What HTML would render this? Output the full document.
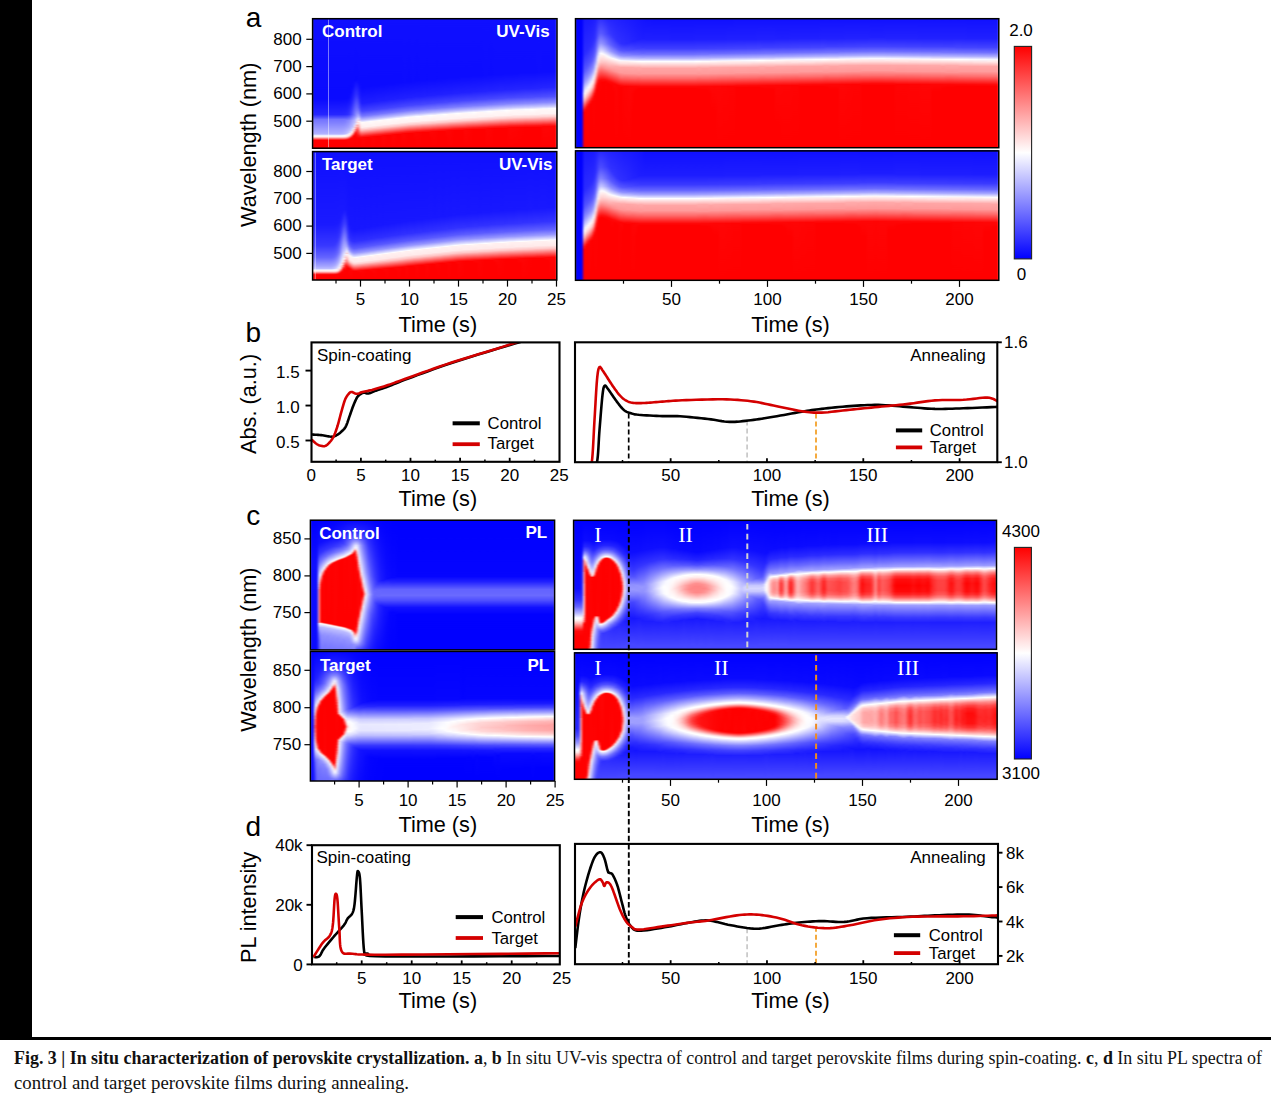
<!DOCTYPE html>
<html><head><meta charset="utf-8"><title>Fig. 3</title>
<style>html,body{margin:0;padding:0;background:#fff;width:1271px;height:1100px;overflow:hidden;position:relative}svg{position:absolute;left:0;top:0;display:block}.hm{position:absolute;overflow:hidden;filter:url(#hb)}.hm i{position:absolute;top:0;bottom:0}</style>
</head><body>
<svg width="0" height="0" style="position:absolute"><filter id="hb" x="0" y="0" width="1" height="1" color-interpolation-filters="sRGB"><feGaussianBlur stdDeviation="1.1 0" edgeMode="duplicate"/></filter></svg>
<div class="hm" style="left:312px;top:18px;width:245px;height:131px"><i style="left:0px;width:28px;background:linear-gradient(#0f0fff 0.5px,#0a0aff 80.5px,#2626ff 96.5px,#5252ff 99.5px,#7373ff 101.5px,#7f7fff 104.5px,#b0b0ff 115.5px,#c5c5ff 116.5px,#eef 117.5px,#fff0f0 118.5px,#ffc0c0 119.5px,#ff2f2f 121.5px,#f00 122.5px,#f00 130.5px)"></i><i style="left:28px;width:2px;background:linear-gradient(#0f0fff 0.5px,#0a0aff 80.5px,#2626ff 96.5px,#5252ff 99.5px,#7373ff 101.5px,#7f7fff 104.5px,#b1b1ff 115.5px,#c6c6ff 116.5px,#f0f0ff 117.5px,#fff0f0 118.5px,#ffc0c0 119.5px,#ff2f2f 121.5px,#f00 122.5px,#f00 130.5px)"></i><i style="left:30px;width:2px;background:linear-gradient(#0f0fff 0.5px,#0a0aff 80.5px,#2727ff 96.5px,#5252ff 99.5px,#7373ff 101.5px,#8080ff 104.5px,#b3b3ff 115.5px,#c9c9ff 116.5px,#f3f3ff 117.5px,#fff0f0 118.5px,#ffc0c0 119.5px,#ff2f2f 121.5px,#f00 122.5px,#f00 130.5px)"></i><i style="left:32px;width:2px;background:linear-gradient(#0f0fff 0.5px,#0a0aff 80.5px,#2828ff 96.5px,#5353ff 99.5px,#7575ff 101.5px,#8282ff 104.5px,#b9b9ff 115.5px,#d2d2ff 116.5px,#fcfbfe 117.5px,#ffeded 118.5px,#ffbaba 119.5px,#ff2929 121.5px,#f00 122.5px,#f00 130.5px)"></i><i style="left:34px;width:2px;background:linear-gradient(#0f0fff 0.5px,#0a0aff 80.5px,#2b2bff 96.5px,#5757ff 99.5px,#8282ff 102.5px,#9b9bff 108.5px,#c3c3ff 115.5px,#e8e8ff 116.5px,#ffe8e8 117.5px,#ffe2e2 118.5px,#ffa6a6 119.5px,#ff1919 121.5px,#f00 122.5px,#f00 130.5px)"></i><i style="left:36px;width:2px;background:linear-gradient(#0f0fff 0.5px,#0a0aff 79.5px,#33f 96.5px,#5f5fff 99.5px,#8989ff 102.5px,#a9a9ff 109.5px,#cbcbff 114.5px,#ebebff 115.5px,#ffe8e8 116.5px,#fee 117.5px,#ffbcbc 118.5px,#ff2d2d 120.5px,#ff0303 121.5px,#f00 130.5px)"></i><i style="left:38px;width:2px;background:linear-gradient(#0f0fff 0.5px,#0a0aff 74.5px,#1f1fff 85.5px,#4545ff 96.5px,#9797ff 102.5px,#bcbcff 110.5px,#cdcdff 112.5px,#e4e4ff 113.5px,#f9e9ef 114.5px,#ffecec 115.5px,#ffe3e3 116.5px,#ffacac 117.5px,#ff2121 119.5px,#ff0202 120.5px,#f00 130.5px)"></i><i style="left:40px;width:2px;background:linear-gradient(#0f0fff 0.5px,#0b0bff 68.5px,#2525ff 81.5px,#6060ff 96.5px,#ababff 102.5px,#bfbfff 108.5px,#ddf 110.5px,#f0e5f3 111.5px,#fdd 112.5px,#ffe3e3 113.5px,#ffdede 114.5px,#ffa9a9 115.5px,#ff2424 117.5px,#ff0505 118.5px,#f00 129.5px,#f00 130.5px)"></i><i style="left:42px;width:2px;background:linear-gradient(#0f0fff 0.5px,#0a0aff 62.5px,#3030ff 78.5px,#8080ff 97.5px,#b3b3ff 101.5px,#c0c0ff 104.5px,#d9d9ff 106.5px,#eae2f7 107.5px,#f7dde5 108.5px,#ffc7c7 109.5px,#ffd9d9 110.5px,#ffa6a6 111.5px,#ffa3a3 112.5px,#ff2b2b 114.5px,#ff0b0b 115.5px,#f00 116.5px,#f00 130.5px)"></i><i style="left:44px;width:2px;background:linear-gradient(#0f0fff 0.5px,#0a0aff 61.5px,#3131ff 76.5px,#7878ff 92.5px,#acacff 98.5px,#dbdbff 101.5px,#e8e0f7 102.5px,#fed5d5 104.5px,#ffebeb 105.5px,#ffcaca 106.5px,#ff9e9e 107.5px,#ffafaf 108.5px,#ff6060 110.5px,#ff4141 111.5px,#ff3030 112.5px,#ff0202 119.5px,#f00 130.5px)"></i><i style="left:46px;width:2px;background:linear-gradient(#0f0fff 0.5px,#0b0bff 64.5px,#2727ff 79.5px,#5353ff 89.5px,#8989ff 95.5px,#c8c8ff 99.5px,#dcdbfe 100.5px,#f2d1de 102.5px,#fff9f9 103.5px,#ffdfdf 104.5px,#ffdcdc 105.5px,#ffb0b0 108.5px,#f77 112.5px,#ff1616 117.5px,#f00 120.5px,#f00 130.5px)"></i><i style="left:48px;width:2px;background:linear-gradient(#0f0fff 0.5px,#0b0bff 69.5px,#1f1fff 84.5px,#4343ff 92.5px,#7474ff 97.5px,#b6b6ff 101.5px,#fefafb 104.5px,#ffecec 109.5px,#ffb9b9 112.5px,#ff1a1a 118.5px,#ff0808 119.5px,#f00 121.5px,#f00 130.5px)"></i><i style="left:50px;width:2px;background:linear-gradient(#0f0fff 0.5px,#0b0bff 69.5px,#1f1fff 85.5px,#4747ff 93.5px,#7e7eff 98.5px,#cacaff 102.5px,#fffcfc 104.5px,#ffecec 109.5px,#ffb6b6 112.5px,#ff1616 118.5px,#ff0505 119.5px,#f00 130.5px)"></i><i style="left:52px;width:2px;background:linear-gradient(#0f0fff 0.5px,#0b0bff 69.5px,#2020ff 85.5px,#4242ff 92.5px,#7373ff 97.5px,#b9b9ff 101.5px,#ebebff 103.5px,#fff7f7 104.5px,#fff3f3 108.5px,#ffdbdb 110.5px,#ff9696 113.5px,#ff2727 117.5px,#ff0202 119.5px,#f00 130.5px)"></i><i style="left:54px;width:2px;background:linear-gradient(#0f0fff 0.5px,#0b0bff 68.5px,#1e1eff 84.5px,#4343ff 92.5px,#77f 97.5px,#bebeff 101.5px,#f1f1ff 103.5px,#fff7f7 104.5px,#fff1f1 108.5px,#ffd7d7 110.5px,#ff9090 113.5px,#ff2323 117.5px,#f00 119.5px,#f00 130.5px)"></i><i style="left:56px;width:2px;background:linear-gradient(#0f0fff 0.5px,#0b0bff 68.5px,#1f1fff 84.5px,#4545ff 92.5px,#7a7aff 97.5px,#c3c3ff 101.5px,#f8f8ff 103.5px,#fff7f7 105.5px,#fff0f0 108.5px,#ffbebe 111.5px,#ff1e1e 117.5px,#f00 119.5px,#f00 130.5px)"></i><i style="left:58px;width:2px;background:linear-gradient(#0f0fff 0.5px,#0b0bff 68.5px,#1f1fff 84.5px,#4747ff 92.5px,#7d7dff 97.5px,#c9c9ff 101.5px,#fefdfe 103.5px,#ffeded 108.5px,#ffb9b9 111.5px,#ff1a1a 117.5px,#ff0808 118.5px,#f00 120.5px,#f00 130.5px)"></i><i style="left:60px;width:2px;background:linear-gradient(#0f0fff 0.5px,#0b0bff 67.5px,#1d1dff 83.5px,#4242ff 91.5px,#7373ff 96.5px,#b7b7ff 100.5px,#e8e8ff 102.5px,#fff9f9 103.5px,#fff4f4 107.5px,#fdd 109.5px,#ff9a9a 112.5px,#ff2c2c 116.5px,#ff0505 118.5px,#f00 130.5px)"></i><i style="left:62px;width:2px;background:linear-gradient(#0f0fff 0.5px,#0b0bff 67.5px,#1e1eff 83.5px,#4343ff 91.5px,#7676ff 96.5px,#bcbcff 100.5px,#eef 102.5px,#fff7f7 103.5px,#fff2f2 107.5px,#ffdada 109.5px,#ff9494 112.5px,#ff2727 116.5px,#ff0202 118.5px,#f00 130.5px)"></i><i style="left:64px;width:2px;background:linear-gradient(#0f0fff 0.5px,#0b0bff 67.5px,#1f1fff 83.5px,#4545ff 91.5px,#7979ff 96.5px,#c1c1ff 100.5px,#f5f5ff 102.5px,#fff7f7 103.5px,#fff1f1 107.5px,#ffc1c1 110.5px,#f22 116.5px,#f00 118.5px,#f00 130.5px)"></i><i style="left:66px;width:2px;background:linear-gradient(#0f0fff 0.5px,#0b0bff 67.5px,#2020ff 83.5px,#4747ff 91.5px,#7d7dff 96.5px,#c7c7ff 100.5px,#fbfbff 102.5px,#fff7f7 104.5px,#ffefef 107.5px,#ffbdbd 110.5px,#ff1e1e 116.5px,#f00 118.5px,#f00 130.5px)"></i><i style="left:68px;width:2px;background:linear-gradient(#0f0fff 0.5px,#0b0bff 66.5px,#1e1eff 82.5px,#4242ff 90.5px,#7373ff 95.5px,#b6b6ff 99.5px,#fffcfc 102.5px,#ffecec 107.5px,#ffb8b8 110.5px,#ff1a1a 116.5px,#f00 118.5px,#f00 130.5px)"></i><i style="left:70px;width:2px;background:linear-gradient(#0f0fff 0.5px,#0b0bff 66.5px,#1e1eff 82.5px,#44f 90.5px,#7676ff 95.5px,#bbf 99.5px,#ececff 101.5px,#fff7f7 102.5px,#fff3f3 106.5px,#ffc9c9 109.5px,#ff1616 116.5px,#ff0505 117.5px,#f00 130.5px)"></i><i style="left:72px;width:2px;background:linear-gradient(#0f0fff 0.5px,#0b0bff 66.5px,#1f1fff 82.5px,#4545ff 90.5px,#7979ff 95.5px,#c0c0ff 99.5px,#f2f2ff 101.5px,#fff7f7 102.5px,#fff1f1 106.5px,#ffc5c5 109.5px,#ff2727 115.5px,#ff0303 117.5px,#f00 130.5px)"></i><i style="left:74px;width:2px;background:linear-gradient(#0f0fff 0.5px,#0b0bff 66.5px,#2020ff 82.5px,#4747ff 90.5px,#7c7cff 95.5px,#c5c5ff 99.5px,#f9f9ff 101.5px,#fff7f7 103.5px,#fff0f0 106.5px,#ffc0c0 109.5px,#f22 115.5px,#f00 117.5px,#f00 130.5px)"></i><i style="left:76px;width:2px;background:linear-gradient(#0f0fff 0.5px,#0b0bff 65.5px,#1e1eff 81.5px,#4242ff 89.5px,#7272ff 94.5px,#b4b4ff 98.5px,#fefdfe 101.5px,#fee 106.5px,#fbb 109.5px,#ff1e1e 115.5px,#f00 117.5px,#f00 130.5px)"></i><i style="left:78px;width:2px;background:linear-gradient(#0f0fff 0.5px,#0b0bff 65.5px,#1f1fff 81.5px,#44f 89.5px,#7575ff 94.5px,#b9b9ff 98.5px,#e9e9ff 100.5px,#fff9f9 101.5px,#fff4f4 105.5px,#fcc 108.5px,#ff1a1a 115.5px,#f00 117.5px,#f00 130.5px)"></i><i style="left:80px;width:2px;background:linear-gradient(#0f0fff 0.5px,#0b0bff 65.5px,#1f1fff 81.5px,#4646ff 89.5px,#7878ff 94.5px,#bebeff 98.5px,#efefff 100.5px,#fff7f7 101.5px,#fff2f2 105.5px,#ffc8c8 108.5px,#ff1616 115.5px,#ff0505 116.5px,#f00 130.5px)"></i><i style="left:82px;width:2px;background:linear-gradient(#0f0fff 0.5px,#0b0bff 65.5px,#2020ff 81.5px,#4747ff 89.5px,#7c7cff 94.5px,#c3c3ff 98.5px,#f6f6ff 100.5px,#fff7f7 102.5px,#fff1f1 105.5px,#ffc3c3 108.5px,#ff2727 114.5px,#ff0303 116.5px,#f00 130.5px)"></i><i style="left:84px;width:2px;background:linear-gradient(#0f0fff 0.5px,#0b0bff 64.5px,#1e1eff 80.5px,#4242ff 88.5px,#7272ff 93.5px,#b3b3ff 97.5px,#fcfcff 100.5px,#fff7f7 102.5px,#ffefef 105.5px,#ffbebe 108.5px,#f22 114.5px,#f00 116.5px,#f00 130.5px)"></i><i style="left:86px;width:2px;background:linear-gradient(#0f0fff 0.5px,#0b0bff 64.5px,#1f1fff 80.5px,#44f 88.5px,#7575ff 93.5px,#b7b7ff 97.5px,#fffbfb 100.5px,#ffeded 105.5px,#ffb9b9 108.5px,#ff1e1e 114.5px,#f00 116.5px,#f00 130.5px)"></i><i style="left:88px;width:2px;background:linear-gradient(#0f0fff 0.5px,#0b0bff 64.5px,#2020ff 80.5px,#4646ff 88.5px,#7878ff 93.5px,#bcbcff 97.5px,#ededff 99.5px,#fff7f7 100.5px,#fff3f3 104.5px,#ffcbcb 107.5px,#ff1a1a 114.5px,#f00 116.5px,#f00 130.5px)"></i><i style="left:90px;width:2px;background:linear-gradient(#0f0fff 0.5px,#0b0bff 64.5px,#2020ff 80.5px,#4848ff 88.5px,#7b7bff 93.5px,#c1c1ff 97.5px,#f3f3ff 99.5px,#fff7f7 100.5px,#fff2f2 104.5px,#ffc6c6 107.5px,#ff1616 114.5px,#ff0505 115.5px,#f00 128.5px,#f00 130.5px)"></i><i style="left:92px;width:2px;background:linear-gradient(#0f0fff 0.5px,#0c0cff 64.5px,#2121ff 80.5px,#4a4aff 88.5px,#7f7fff 93.5px,#c7c7ff 97.5px,#f9f9ff 99.5px,#fff7f7 101.5px,#fff0f0 104.5px,#ffc2c2 107.5px,#ff2727 113.5px,#ff0303 115.5px,#f00 130.5px)"></i><i style="left:94px;width:2px;background:linear-gradient(#0f0fff 0.5px,#0b0bff 63.5px,#1f1fff 79.5px,#44f 87.5px,#7474ff 92.5px,#b6b6ff 96.5px,#fffdfe 99.5px,#fee 104.5px,#ffbdbd 107.5px,#f22 113.5px,#ff0101 115.5px,#f00 130.5px)"></i><i style="left:96px;width:2px;background:linear-gradient(#0f0fff 0.5px,#0b0bff 63.5px,#2020ff 79.5px,#4646ff 87.5px,#77f 92.5px,#bbf 96.5px,#eaeaff 98.5px,#fff8f8 99.5px,#fff4f4 103.5px,#ffcece 106.5px,#ff6a6a 110.5px,#ff1e1e 113.5px,#f00 115.5px,#f00 130.5px)"></i><i style="left:98px;width:2px;background:linear-gradient(#0f0fff 0.5px,#0b0bff 63.5px,#2020ff 79.5px,#4747ff 87.5px,#7a7aff 92.5px,#bebeff 96.5px,#eef 98.5px,#fff7f7 99.5px,#fff3f3 103.5px,#ffcbcb 106.5px,#ff1b1b 113.5px,#f00 115.5px,#f00 130.5px)"></i><i style="left:100px;width:2px;background:linear-gradient(#0f0fff 0.5px,#0c0cff 63.5px,#2121ff 79.5px,#4848ff 87.5px,#7c7cff 92.5px,#c2c2ff 96.5px,#f3f3ff 98.5px,#fff7f7 99.5px,#fff2f2 103.5px,#ffc8c8 106.5px,#ff1919 113.5px,#f00 115.5px,#f00 130.5px)"></i><i style="left:102px;width:2px;background:linear-gradient(#0f0fff 0.5px,#0b0bff 62.5px,#1f1fff 78.5px,#4343ff 86.5px,#7171ff 91.5px,#b0b0ff 95.5px,#f7f7ff 98.5px,#fff7f7 100.5px,#fff1f1 103.5px,#ffc5c5 106.5px,#ff1616 113.5px,#ff0606 114.5px,#f00 121.5px,#f00 130.5px)"></i><i style="left:104px;width:4px;background:linear-gradient(#0f0fff 0.5px,#0b0bff 62.5px,#2020ff 78.5px,#44f 86.5px,#7474ff 91.5px,#b5b5ff 95.5px,#fdfdff 98.5px,#ffefef 103.5px,#ffc0c0 106.5px,#ff2727 112.5px,#ff0303 114.5px,#f00 130.5px)"></i><i style="left:108px;width:2px;background:linear-gradient(#0f0fff 0.5px,#0c0cff 62.5px,#2020ff 78.5px,#4646ff 86.5px,#7878ff 91.5px,#babaff 95.5px,#fffafa 98.5px,#fff4f4 102.5px,#ffd0d0 105.5px,#ff6f6f 109.5px,#ff2323 112.5px,#ff0101 114.5px,#f00 130.5px)"></i><i style="left:110px;width:2px;background:linear-gradient(#0f0fff 0.5px,#0c0cff 62.5px,#2121ff 78.5px,#4848ff 86.5px,#7a7aff 91.5px,#bdbdff 95.5px,#ececff 97.5px,#fff7f7 98.5px,#fff3f3 102.5px,#ffcdcd 105.5px,#ff5050 110.5px,#ff0d0d 113.5px,#f00 114.5px,#f00 130.5px)"></i><i style="left:112px;width:2px;background:linear-gradient(#0f0fff 0.5px,#0c0cff 62.5px,#22f 78.5px,#4949ff 86.5px,#7c7cff 91.5px,#c1c1ff 95.5px,#f1f1ff 97.5px,#fff7f7 98.5px,#fff3f3 102.5px,#ffcbcb 105.5px,#ff1d1d 112.5px,#f00 114.5px,#f00 130.5px)"></i><i style="left:114px;width:2px;background:linear-gradient(#0f0fff 0.5px,#0b0bff 61.5px,#1f1fff 77.5px,#4343ff 85.5px,#7272ff 90.5px,#afafff 94.5px,#f5f5ff 97.5px,#fff7f7 98.5px,#fff2f2 102.5px,#ffc8c8 105.5px,#ff1b1b 112.5px,#f00 114.5px,#f00 130.5px)"></i><i style="left:116px;width:2px;background:linear-gradient(#0f0fff 0.5px,#0c0cff 61.5px,#2020ff 77.5px,#44f 85.5px,#7474ff 90.5px,#b3b3ff 94.5px,#f9f9ff 97.5px,#fff7f7 99.5px,#fff0f0 102.5px,#ffc5c5 105.5px,#ff1818 112.5px,#f00 114.5px,#f00 130.5px)"></i><i style="left:118px;width:2px;background:linear-gradient(#0f0fff 0.5px,#0c0cff 61.5px,#2020ff 77.5px,#4646ff 85.5px,#7676ff 90.5px,#b6b6ff 94.5px,#fdfdff 97.5px,#fff7f7 99.5px,#ffefef 102.5px,#ffc2c2 105.5px,#ff1616 112.5px,#ff0606 113.5px,#f00 120.5px,#f00 130.5px)"></i><i style="left:120px;width:4px;background:linear-gradient(#0f0fff 0.5px,#0c0cff 61.5px,#2121ff 77.5px,#4848ff 85.5px,#7979ff 90.5px,#bbf 94.5px,#fffafa 97.5px,#ffeded 102.5px,#ffbdbd 105.5px,#ff2626 111.5px,#ff0303 113.5px,#f00 130.5px)"></i><i style="left:124px;width:2px;background:linear-gradient(#0f0fff 0.5px,#0b0bff 60.5px,#1f1fff 76.5px,#4343ff 84.5px,#7c7cff 90.5px,#c0c0ff 94.5px,#efefff 96.5px,#fff7f7 97.5px,#fff3f3 101.5px,#ffcdcd 104.5px,#ff5252 109.5px,#ff0f0f 112.5px,#ff0101 113.5px,#f00 130.5px)"></i><i style="left:126px;width:2px;background:linear-gradient(#0f0fff 0.5px,#0c0cff 60.5px,#2020ff 76.5px,#44f 84.5px,#7e7eff 90.5px,#c3c3ff 94.5px,#f3f3ff 96.5px,#fff7f7 97.5px,#fff2f2 101.5px,#ffcbcb 104.5px,#ff1f1f 111.5px,#f00 113.5px,#f00 130.5px)"></i><i style="left:128px;width:2px;background:linear-gradient(#0f0fff 0.5px,#0c0cff 60.5px,#2020ff 76.5px,#4545ff 84.5px,#7474ff 89.5px,#b2b2ff 93.5px,#f7f7ff 96.5px,#fff7f7 98.5px,#fff1f1 101.5px,#ffc8c8 104.5px,#ff1d1d 111.5px,#f00 113.5px,#f00 130.5px)"></i><i style="left:130px;width:2px;background:linear-gradient(#0f0fff 0.5px,#0c0cff 60.5px,#2121ff 76.5px,#4646ff 84.5px,#7676ff 89.5px,#b5b5ff 93.5px,#fbfbff 96.5px,#fff7f7 98.5px,#fff0f0 101.5px,#ffc5c5 104.5px,#ff1a1a 111.5px,#f00 113.5px,#f00 130.5px)"></i><i style="left:132px;width:2px;background:linear-gradient(#0f0fff 0.5px,#0c0cff 60.5px,#22f 76.5px,#4848ff 84.5px,#7878ff 89.5px,#b8b8ff 93.5px,#fffefe 96.5px,#ffefef 101.5px,#ffc2c2 104.5px,#ff1818 111.5px,#f00 113.5px,#f00 130.5px)"></i><i style="left:134px;width:2px;background:linear-gradient(#0f0fff 0.5px,#0c0cff 60.5px,#22f 76.5px,#4949ff 84.5px,#7a7aff 89.5px,#bbf 93.5px,#fffbfb 96.5px,#fee 101.5px,#ffbfbf 104.5px,#ff1515 111.5px,#ff0606 112.5px,#f00 119.5px,#f00 130.5px)"></i><i style="left:136px;width:2px;background:linear-gradient(#0f0fff 0.5px,#0c0cff 59.5px,#2020ff 75.5px,#4343ff 83.5px,#7c7cff 89.5px,#bfbfff 93.5px,#ededff 95.5px,#fff7f7 96.5px,#fff4f4 100.5px,#ffd0d0 103.5px,#ff7272 107.5px,#ff1313 111.5px,#ff0404 112.5px,#f00 130.5px)"></i><i style="left:138px;width:2px;background:linear-gradient(#0f0fff 0.5px,#0c0cff 59.5px,#2020ff 75.5px,#44f 83.5px,#7f7fff 89.5px,#c2c2ff 93.5px,#f1f1ff 95.5px,#fff7f7 96.5px,#fff3f3 100.5px,#ffcdcd 103.5px,#ff5454 108.5px,#f11 111.5px,#ff0303 112.5px,#f00 130.5px)"></i><i style="left:140px;width:2px;background:linear-gradient(#0f0fff 0.5px,#0c0cff 59.5px,#2121ff 75.5px,#4646ff 83.5px,#8181ff 89.5px,#c5c5ff 93.5px,#f5f5ff 95.5px,#fff7f7 96.5px,#fff2f2 100.5px,#ffcbcb 103.5px,#ff2121 110.5px,#ff0101 112.5px,#f00 130.5px)"></i><i style="left:142px;width:2px;background:linear-gradient(#0f0fff 0.5px,#0c0cff 59.5px,#22f 75.5px,#4747ff 83.5px,#8383ff 89.5px,#c9c9ff 93.5px,#f9f9ff 95.5px,#fff7f7 97.5px,#fff1f1 100.5px,#ffc8c8 103.5px,#ff1f1f 110.5px,#f00 112.5px,#f00 130.5px)"></i><i style="left:144px;width:2px;background:linear-gradient(#0f0fff 0.5px,#0c0cff 59.5px,#22f 75.5px,#4848ff 83.5px,#7878ff 88.5px,#b7b7ff 92.5px,#fdfdff 95.5px,#fff7f7 97.5px,#fff0f0 100.5px,#ffc5c5 103.5px,#ff1c1c 110.5px,#f00 112.5px,#f00 130.5px)"></i><i style="left:146px;width:2px;background:linear-gradient(#0f0fff 0.5px,#0c0cff 59.5px,#2323ff 75.5px,#4949ff 83.5px,#7a7aff 88.5px,#babaff 92.5px,#fffdfd 95.5px,#ffefef 100.5px,#ffc2c2 103.5px,#ff1a1a 110.5px,#f00 112.5px,#f00 130.5px)"></i><i style="left:148px;width:2px;background:linear-gradient(#0f0fff 0.5px,#0c0cff 58.5px,#2020ff 74.5px,#44f 82.5px,#7c7cff 88.5px,#bdbdff 92.5px,#fffafa 95.5px,#fee 100.5px,#ffc0c0 103.5px,#ff1818 110.5px,#f00 112.5px,#f00 130.5px)"></i><i style="left:150px;width:2px;background:linear-gradient(#0f0fff 0.5px,#0c0cff 58.5px,#2121ff 74.5px,#4545ff 82.5px,#7e7eff 88.5px,#c0c0ff 92.5px,#ededff 94.5px,#fff7f7 95.5px,#fff4f4 99.5px,#ffd1d1 102.5px,#ff7575 106.5px,#ff1616 110.5px,#f00 112.5px,#f00 130.5px)"></i><i style="left:152px;width:2px;background:linear-gradient(#0f0fff 0.5px,#0c0cff 58.5px,#2121ff 74.5px,#4646ff 82.5px,#8080ff 88.5px,#c2c2ff 92.5px,#f0f0ff 94.5px,#fff7f7 95.5px,#fff3f3 99.5px,#ffcfcf 102.5px,#ff7272 106.5px,#ff1414 110.5px,#ff0505 111.5px,#f00 130.5px)"></i><i style="left:154px;width:2px;background:linear-gradient(#0f0fff 0.5px,#0c0cff 58.5px,#22f 74.5px,#4747ff 82.5px,#8181ff 88.5px,#c5c5ff 92.5px,#f3f3ff 94.5px,#fff7f7 95.5px,#fff3f3 99.5px,#ffcdcd 102.5px,#f55 107.5px,#ff1313 110.5px,#ff0404 111.5px,#f00 130.5px)"></i><i style="left:156px;width:4px;background:linear-gradient(#0f0fff 0.5px,#0c0cff 58.5px,#22f 74.5px,#4848ff 82.5px,#8484ff 88.5px,#c9c9ff 92.5px,#f8f8ff 94.5px,#fff7f7 96.5px,#fff1f1 99.5px,#ffcaca 102.5px,#ff2323 109.5px,#ff0202 111.5px,#f00 130.5px)"></i><i style="left:160px;width:4px;background:linear-gradient(#0f0fff 0.5px,#0c0cff 57.5px,#2121ff 73.5px,#4343ff 81.5px,#7b7bff 87.5px,#babaff 91.5px,#fefdfe 94.5px,#fff0f0 99.5px,#ffc5c5 102.5px,#ff1f1f 109.5px,#f00 111.5px,#f00 130.5px)"></i><i style="left:164px;width:2px;background:linear-gradient(#0f0fff 0.5px,#0c0cff 57.5px,#2121ff 73.5px,#4545ff 81.5px,#7d7dff 87.5px,#bebeff 91.5px,#fffafa 94.5px,#fee 99.5px,#ffc2c2 102.5px,#ff1c1c 109.5px,#f00 111.5px,#f00 130.5px)"></i><i style="left:166px;width:2px;background:linear-gradient(#0f0fff 0.5px,#0c0cff 57.5px,#22f 73.5px,#4646ff 81.5px,#7f7fff 87.5px,#c0c0ff 91.5px,#ededff 93.5px,#fff7f7 94.5px,#fff4f4 98.5px,#ffd3d3 101.5px,#ff7979 105.5px,#ff1a1a 109.5px,#f00 111.5px,#f00 130.5px)"></i><i style="left:168px;width:2px;background:linear-gradient(#0f0fff 0.5px,#0c0cff 57.5px,#22f 73.5px,#4747ff 81.5px,#8181ff 87.5px,#c3c3ff 91.5px,#f0f0ff 93.5px,#fff7f7 94.5px,#fff4f4 98.5px,#ffd1d1 101.5px,#ff7676 105.5px,#ff1818 109.5px,#f00 111.5px,#f00 130.5px)"></i><i style="left:170px;width:2px;background:linear-gradient(#0f0fff 0.5px,#0c0cff 57.5px,#2323ff 73.5px,#4848ff 81.5px,#8383ff 87.5px,#c5c5ff 91.5px,#f3f3ff 93.5px,#fff7f7 94.5px,#fff3f3 98.5px,#ffcfcf 101.5px,#ff5a5a 106.5px,#ff1717 109.5px,#f00 111.5px,#f00 130.5px)"></i><i style="left:172px;width:2px;background:linear-gradient(#0f0fff 0.5px,#0d0dff 57.5px,#2323ff 73.5px,#4949ff 81.5px,#8585ff 87.5px,#c8c8ff 91.5px,#f6f6ff 93.5px,#fff7f7 95.5px,#fff2f2 98.5px,#ffcdcd 101.5px,#ff5757 106.5px,#ff1515 109.5px,#f00 111.5px,#f00 130.5px)"></i><i style="left:174px;width:2px;background:linear-gradient(#0f0fff 0.5px,#0d0dff 57.5px,#2424ff 73.5px,#4a4aff 81.5px,#8787ff 87.5px,#cbcbff 91.5px,#fafaff 93.5px,#fff7f7 95.5px,#fff1f1 98.5px,#ffcbcb 101.5px,#ff1313 109.5px,#ff0505 110.5px,#f00 130.5px)"></i><i style="left:176px;width:4px;background:linear-gradient(#0f0fff 0.5px,#0c0cff 56.5px,#22f 72.5px,#4545ff 80.5px,#7c7cff 86.5px,#bbf 90.5px,#fefdfe 93.5px,#fff0f0 98.5px,#ffc7c7 101.5px,#ff2323 108.5px,#ff0303 110.5px,#f00 130.5px)"></i><i style="left:180px;width:2px;background:linear-gradient(#0f0fff 0.5px,#0c0cff 56.5px,#22f 72.5px,#4646ff 80.5px,#7f7fff 86.5px,#bebeff 90.5px,#fffbfb 93.5px,#ffefef 98.5px,#ffc4c4 101.5px,#ff2020 108.5px,#ff0101 110.5px,#f00 130.5px)"></i><i style="left:182px;width:2px;background:linear-gradient(#0f0fff 0.5px,#0d0dff 56.5px,#2323ff 72.5px,#4747ff 80.5px,#8181ff 86.5px,#c1c1ff 90.5px,#ededff 92.5px,#fff8f8 93.5px,#fff4f4 97.5px,#ffd4d4 100.5px,#ff7c7c 104.5px,#ff1e1e 108.5px,#f00 110.5px,#f00 130.5px)"></i><i style="left:184px;width:2px;background:linear-gradient(#0f0fff 0.5px,#0d0dff 56.5px,#2323ff 72.5px,#4848ff 80.5px,#8282ff 86.5px,#c3c3ff 90.5px,#f0f0ff 92.5px,#fff7f7 93.5px,#fff4f4 97.5px,#ffd2d2 100.5px,#ff7a7a 104.5px,#ff1c1c 108.5px,#f00 110.5px,#f00 130.5px)"></i><i style="left:186px;width:2px;background:linear-gradient(#0f0fff 0.5px,#0d0dff 56.5px,#2424ff 72.5px,#4949ff 80.5px,#8484ff 86.5px,#c6c6ff 90.5px,#f3f3ff 92.5px,#fff7f7 93.5px,#fff3f3 97.5px,#ffd0d0 100.5px,#f77 104.5px,#ff1a1a 108.5px,#f00 110.5px,#f00 130.5px)"></i><i style="left:188px;width:4px;background:linear-gradient(#0f0fff 0.5px,#0d0dff 56.5px,#2525ff 72.5px,#4b4bff 80.5px,#8787ff 86.5px,#cacaff 90.5px,#f8f8ff 92.5px,#fff7f7 94.5px,#fff2f2 97.5px,#ffcdcd 100.5px,#ff5a5a 105.5px,#ff1818 108.5px,#f00 110.5px,#f00 130.5px)"></i><i style="left:192px;width:2px;background:linear-gradient(#0f0fff 0.5px,#0d0dff 55.5px,#22f 71.5px,#4d4dff 80.5px,#8a8aff 86.5px,#ceceff 90.5px,#fdfdff 92.5px,#fff7f7 94.5px,#fff1f1 97.5px,#ffcaca 100.5px,#ff1515 108.5px,#f00 110.5px,#f00 130.5px)"></i><i style="left:194px;width:2px;background:linear-gradient(#0f0fff 0.5px,#0d0dff 55.5px,#2323ff 71.5px,#4747ff 79.5px,#7e7eff 85.5px,#bdbdff 89.5px,#fffefe 92.5px,#fff0f0 97.5px,#ffc8c8 100.5px,#ff1414 108.5px,#f00 110.5px,#f00 130.5px)"></i><i style="left:196px;width:4px;background:linear-gradient(#0f0fff 0.5px,#0d0dff 55.5px,#2323ff 71.5px,#4848ff 79.5px,#8080ff 85.5px,#bfbfff 89.5px,#fffbfb 92.5px,#ffefef 97.5px,#ffc6c6 100.5px,#ff2424 107.5px,#ff0404 109.5px,#f00 130.5px)"></i><i style="left:200px;width:4px;background:linear-gradient(#0f0fff 0.5px,#0d0dff 55.5px,#2424ff 71.5px,#4949ff 79.5px,#8383ff 85.5px,#c3c3ff 89.5px,#eef 91.5px,#fff8f8 92.5px,#fff4f4 96.5px,#ffd5d5 99.5px,#ff8080 103.5px,#f22 107.5px,#ff0303 109.5px,#f00 130.5px)"></i><i style="left:204px;width:4px;background:linear-gradient(#0f0fff 0.5px,#0d0dff 55.5px,#2525ff 71.5px,#4b4bff 79.5px,#8585ff 85.5px,#c6c6ff 89.5px,#f2f2ff 91.5px,#fff7f7 92.5px,#fff4f4 96.5px,#ffd3d3 99.5px,#ff7c7c 103.5px,#ff2020 107.5px,#ff0202 109.5px,#f00 130.5px)"></i><i style="left:208px;width:4px;background:linear-gradient(#0f0fff 0.5px,#0d0dff 54.5px,#2323ff 70.5px,#4c4cff 79.5px,#88f 85.5px,#c9c9ff 89.5px,#f6f6ff 91.5px,#fff7f7 93.5px,#fff3f3 96.5px,#ffd0d0 99.5px,#ff7979 103.5px,#ff1e1e 107.5px,#ff0101 109.5px,#f00 130.5px)"></i><i style="left:212px;width:6px;background:linear-gradient(#0f0fff 0.5px,#0d0dff 54.5px,#2424ff 70.5px,#4e4eff 79.5px,#8b8bff 85.5px,#cdcdff 89.5px,#fbfbff 91.5px,#fff7f7 93.5px,#fff2f2 96.5px,#ffcece 99.5px,#ff5d5d 104.5px,#ff1b1b 107.5px,#f00 109.5px,#f00 130.5px)"></i><i style="left:218px;width:4px;background:linear-gradient(#0f0fff 0.5px,#0d0dff 54.5px,#2424ff 70.5px,#5050ff 79.5px,#8e8eff 85.5px,#d2d2ff 89.5px,#fffefe 91.5px,#fff0f0 96.5px,#ffcbcb 99.5px,#ff1919 107.5px,#f00 109.5px,#f00 130.5px)"></i><i style="left:222px;width:2px;background:linear-gradient(#0f0fff 0.5px,#0d0dff 54.5px,#2525ff 70.5px,#4a4aff 78.5px,#8282ff 84.5px,#c0c0ff 88.5px,#fffbfb 91.5px,#fff0f0 96.5px,#ffc9c9 99.5px,#ff1818 107.5px,#f00 109.5px,#f00 130.5px)"></i><i style="left:224px;width:2px;background:linear-gradient(#0f0fff 0.5px,#0d0dff 54.5px,#2525ff 70.5px,#4b4bff 78.5px,#8383ff 84.5px,#c2c2ff 88.5px,#ececff 90.5px,#fff9f9 91.5px,#ffefef 96.5px,#ffc7c7 99.5px,#ff1717 107.5px,#f00 109.5px,#f00 130.5px)"></i><i style="left:226px;width:2px;background:linear-gradient(#0f0fff 0.5px,#0e0eff 54.5px,#2626ff 70.5px,#4b4bff 78.5px,#8585ff 84.5px,#c4c4ff 88.5px,#eef 90.5px,#fff8f8 91.5px,#ffefef 96.5px,#ffc6c6 99.5px,#ff1616 107.5px,#f00 109.5px,#f00 130.5px)"></i><i style="left:228px;width:2px;background:linear-gradient(#0f0fff 0.5px,#0d0dff 53.5px,#2323ff 69.5px,#4c4cff 78.5px,#8686ff 84.5px,#c5c5ff 88.5px,#f0f0ff 90.5px,#fff7f7 91.5px,#fff4f4 95.5px,#ffd6d6 98.5px,#ff8484 102.5px,#ff1515 107.5px,#f00 109.5px,#f00 130.5px)"></i><i style="left:230px;width:6px;background:linear-gradient(#0f0fff 0.5px,#0d0dff 53.5px,#2424ff 69.5px,#4e4eff 78.5px,#88f 84.5px,#c8c8ff 88.5px,#f4f4ff 90.5px,#fff7f7 91.5px,#fff4f4 95.5px,#ffd4d4 98.5px,#ff8181 102.5px,#ff2525 106.5px,#ff0505 108.5px,#f00 130.5px)"></i><i style="left:236px;width:4px;background:linear-gradient(#0f0fff 0.5px,#0d0dff 53.5px,#2525ff 69.5px,#5050ff 78.5px,#8b8bff 84.5px,#ccf 88.5px,#f8f8ff 90.5px,#fff7f7 92.5px,#fff3f3 95.5px,#ffd1d1 98.5px,#ff7d7d 102.5px,#f22 106.5px,#ff0404 108.5px,#f00 130.5px)"></i><i style="left:240px;width:2px;background:linear-gradient(#0f0fff 0.5px,#0e0eff 53.5px,#2525ff 69.5px,#5151ff 78.5px,#8d8dff 84.5px,#cfcfff 88.5px,#fbfbff 90.5px,#fff7f7 92.5px,#fff2f2 95.5px,#ffcfcf 98.5px,#ff6363 103.5px,#ff1010 107.5px,#ff0303 108.5px,#f00 130.5px)"></i><i style="left:242px;width:2px;background:linear-gradient(#0f0fff 0.5px,#0e0eff 53.5px,#2626ff 69.5px,#5151ff 78.5px,#8e8eff 84.5px,#d1d1ff 88.5px,#fdfdff 90.5px,#fff7f7 92.5px,#fff2f2 95.5px,#ffcece 98.5px,#ff6161 103.5px,#ff0f0f 107.5px,#ff0202 108.5px,#f00 130.5px)"></i><i style="left:244px;width:1px;background:linear-gradient(#0f0fff 0.5px,#0e0eff 53.5px,#2626ff 69.5px,#5252ff 78.5px,#8f8fff 84.5px,#d2d2ff 88.5px,#fff 90.5px,#fff7f7 92.5px,#fff1f1 95.5px,#ffcdcd 98.5px,#ff6060 103.5px,#ff0f0f 107.5px,#ff0202 108.5px,#f00 130.5px)"></i></div>
<div class="hm" style="left:312px;top:151px;width:245px;height:129px"><i style="left:0px;width:20px;background:linear-gradient(#0f0fff 0.5px,#1a1aff 73.5px,#3838ff 94.5px,#6565ff 106.5px,#a7a7ff 115.5px,#bbf 117.5px,#e1e1ff 118.5px,#fff0f0 119.5px,#ffd5d5 120.5px,#ff9696 121.5px,#ff4a4a 122.5px,#ff0b0b 123.5px,#f00 124.5px,#f00 128.5px)"></i><i style="left:20px;width:2px;background:linear-gradient(#0f0fff 0.5px,#1a1aff 73.5px,#3838ff 94.5px,#6868ff 106.5px,#acacff 115.5px,#c2c2ff 117.5px,#e8e8ff 118.5px,#fff0f0 119.5px,#ffd5d5 120.5px,#ff9696 121.5px,#ff4a4a 122.5px,#ff0b0b 123.5px,#f00 124.5px,#f00 128.5px)"></i><i style="left:22px;width:2px;background:linear-gradient(#0f0fff 0.5px,#1a1aff 73.5px,#3737ff 93.5px,#6868ff 105.5px,#ababff 114.5px,#cbcbff 117.5px,#f2f2ff 118.5px,#fff0f0 119.5px,#ffd4d4 120.5px,#ff9595 121.5px,#ff4949 122.5px,#ff0b0b 123.5px,#f00 124.5px,#f00 128.5px)"></i><i style="left:24px;width:2px;background:linear-gradient(#0f0fff 0.5px,#1a1aff 72.5px,#3434ff 90.5px,#6969ff 103.5px,#b2b2ff 113.5px,#d1d1ff 116.5px,#e2e2ff 117.5px,#fff3f3 118.5px,#fee 119.5px,#ffc8c8 120.5px,#ff3a3a 122.5px,#ff0303 123.5px,#f00 128.5px)"></i><i style="left:26px;width:2px;background:linear-gradient(#0f0fff 0.5px,#1a1aff 71.5px,#3535ff 86.5px,#7575ff 101.5px,#bbf 111.5px,#f2f2ff 116.5px,#ffe7e7 117.5px,#ffd1d1 119.5px,#ff9292 120.5px,#ff4848 121.5px,#ff0d0d 122.5px,#f00 123.5px,#f00 128.5px)"></i><i style="left:28px;width:2px;background:linear-gradient(#0f0fff 0.5px,#1a1aff 67.5px,#3a3aff 81.5px,#99f 101.5px,#e3e3ff 111.5px,#f5f3fd 113.5px,#fbeef2 114.5px,#ffd9d9 115.5px,#fdd 116.5px,#ffd6d6 117.5px,#ffa0a0 118.5px,#ff5959 119.5px,#ff1d1d 120.5px,#ff0101 121.5px,#f00 128.5px)"></i><i style="left:30px;width:2px;background:linear-gradient(#0f0fff 0.5px,#1919ff 61.5px,#3b3bff 74.5px,#adadff 97.5px,#f6f3fd 108.5px,#fff1f2 110.5px,#ffbebe 112.5px,#ffcfcf 113.5px,#f99 114.5px,#ff9494 115.5px,#f55 116.5px,#ff2626 117.5px,#ff0606 118.5px,#f00 123.5px,#f00 128.5px)"></i><i style="left:32px;width:2px;background:linear-gradient(#0f0fff 0.5px,#1818ff 58.5px,#4040ff 72.5px,#c4c4ff 99.5px,#efefff 103.5px,#fbcfd3 106.5px,#fee 107.5px,#ffd1d1 108.5px,#ffa8a8 109.5px,#ffb3b3 110.5px,#ff4646 113.5px,#ff2b2b 114.5px,#ff0101 119.5px,#f00 128.5px)"></i><i style="left:34px;width:2px;background:linear-gradient(#0f0fff 0.5px,#1717ff 63.5px,#3c3cff 78.5px,#6f6fff 89.5px,#a8a8ff 95.5px,#ebebff 99.5px,#f9f0f6 100.5px,#ffe3e3 101.5px,#ffc5c5 102.5px,#fff0f0 103.5px,#ffd6d6 105.5px,#ff9d9d 108.5px,#ff6565 111.5px,#ff0808 115.5px,#f00 117.5px,#f00 128.5px)"></i><i style="left:36px;width:2px;background:linear-gradient(#0f0fff 0.5px,#1616ff 73.5px,#3131ff 86.5px,#5a5aff 93.5px,#9494ff 98.5px,#e3e3ff 102.5px,#fff3f3 104.5px,#ffe7e7 108.5px,#ffc6c6 110.5px,#ff6d6d 113.5px,#ff1212 116.5px,#ff0101 117.5px,#f00 128.5px)"></i><i style="left:38px;width:2px;background:linear-gradient(#0f0fff 0.5px,#1717ff 77.5px,#3131ff 89.5px,#5656ff 95.5px,#9494ff 100.5px,#d0d0ff 103.5px,#eaeaff 104.5px,#fef6f7 105.5px,#ffebeb 109.5px,#ffcfcf 111.5px,#ff7979 114.5px,#ff1a1a 117.5px,#ff0505 118.5px,#f00 128.5px)"></i><i style="left:40px;width:2px;background:linear-gradient(#0f0fff 0.5px,#1717ff 78.5px,#3030ff 90.5px,#5d5dff 97.5px,#9090ff 101.5px,#cacaff 104.5px,#faf5fa 106.5px,#fff0f0 107.5px,#ffeded 110.5px,#ffd5d5 112.5px,#ff8484 115.5px,#ff2424 118.5px,#ff0b0b 119.5px,#f00 120.5px,#f00 128.5px)"></i><i style="left:42px;width:2px;background:linear-gradient(#0f0fff 0.5px,#1616ff 78.5px,#2f2fff 90.5px,#5c5cff 97.5px,#9d9dff 102.5px,#ddf 105.5px,#f9f9ff 106.5px,#fff0f0 107.5px,#ffe7e7 111.5px,#ffc5c5 113.5px,#f11 119.5px,#f00 120.5px,#f00 128.5px)"></i><i style="left:44px;width:2px;background:linear-gradient(#0f0fff 0.5px,#1717ff 78.5px,#3131ff 90.5px,#5e5eff 97.5px,#9191ff 101.5px,#ccf 104.5px,#fffdfd 106.5px,#fff0f0 107.5px,#ffeded 110.5px,#ffd5d5 112.5px,#ff8686 115.5px,#ff0e0e 119.5px,#f00 120.5px,#f00 128.5px)"></i><i style="left:46px;width:2px;background:linear-gradient(#0f0fff 0.5px,#1616ff 77.5px,#2e2eff 89.5px,#5858ff 96.5px,#9696ff 101.5px,#d2d2ff 104.5px,#ececff 105.5px,#fff5f5 106.5px,#ffecec 110.5px,#ffd1d1 112.5px,#ff7f7f 115.5px,#f22 118.5px,#ff0a0a 119.5px,#f00 121.5px,#f00 128.5px)"></i><i style="left:48px;width:2px;background:linear-gradient(#0f0fff 0.5px,#1717ff 77.5px,#2f2fff 89.5px,#5a5aff 96.5px,#9a9aff 101.5px,#d9d9ff 104.5px,#f3f3ff 105.5px,#fff0f0 106.5px,#ffeaea 110.5px,#fcc 112.5px,#ff7979 115.5px,#ff1d1d 118.5px,#ff0606 119.5px,#f00 123.5px,#f00 128.5px)"></i><i style="left:50px;width:2px;background:linear-gradient(#0f0fff 0.5px,#1717ff 77.5px,#3030ff 89.5px,#5d5dff 96.5px,#9f9fff 101.5px,#e0e0ff 104.5px,#fbfbff 105.5px,#fff0f0 106.5px,#ffe7e7 110.5px,#ffc7c7 112.5px,#ff5252 116.5px,#ff0303 119.5px,#f00 128.5px)"></i><i style="left:52px;width:2px;background:linear-gradient(#0f0fff 0.5px,#1616ff 76.5px,#2d2dff 88.5px,#5757ff 95.5px,#9393ff 100.5px,#ceceff 103.5px,#fffbfb 105.5px,#fff0f0 106.5px,#ffeded 109.5px,#ffd6d6 111.5px,#ff8b8b 114.5px,#ff1515 118.5px,#ff0101 119.5px,#f00 128.5px)"></i><i style="left:54px;width:2px;background:linear-gradient(#0f0fff 0.5px,#1717ff 76.5px,#2f2fff 88.5px,#5959ff 95.5px,#9898ff 100.5px,#d4d4ff 103.5px,#eef 104.5px,#fff3f3 105.5px,#ffecec 109.5px,#ffd2d2 111.5px,#ff8484 114.5px,#f11 118.5px,#f00 119.5px,#f00 128.5px)"></i><i style="left:56px;width:2px;background:linear-gradient(#0f0fff 0.5px,#1717ff 76.5px,#3030ff 88.5px,#5c5cff 95.5px,#9c9cff 100.5px,#dbdbff 103.5px,#f5f5ff 104.5px,#fff0f0 105.5px,#ffeaea 109.5px,#ffcdcd 111.5px,#ff7e7e 114.5px,#ff0d0d 118.5px,#f00 119.5px,#f00 128.5px)"></i><i style="left:58px;width:2px;background:linear-gradient(#0f0fff 0.5px,#1616ff 75.5px,#2d2dff 87.5px,#5656ff 94.5px,#9191ff 99.5px,#e2e2ff 103.5px,#fdfdff 104.5px,#fff0f0 105.5px,#ffe7e7 109.5px,#ffc8c8 111.5px,#ff5959 115.5px,#ff0a0a 118.5px,#f00 120.5px,#f00 128.5px)"></i><i style="left:60px;width:2px;background:linear-gradient(#0f0fff 0.5px,#1717ff 75.5px,#2e2eff 87.5px,#5858ff 94.5px,#9595ff 99.5px,#d0d0ff 102.5px,#fff9f9 104.5px,#fff0f0 106.5px,#ffe5e5 109.5px,#ffc3c3 111.5px,#ff1c1c 117.5px,#ff0606 118.5px,#f00 122.5px,#f00 128.5px)"></i><i style="left:62px;width:2px;background:linear-gradient(#0f0fff 0.5px,#1717ff 75.5px,#3030ff 87.5px,#5b5bff 94.5px,#9a9aff 99.5px,#d6d6ff 102.5px,#f0f0ff 103.5px,#fff1f1 104.5px,#ffecec 108.5px,#ffd3d3 110.5px,#ff8989 113.5px,#ff1818 117.5px,#ff0303 118.5px,#f00 128.5px)"></i><i style="left:64px;width:2px;background:linear-gradient(#0f0fff 0.5px,#1616ff 74.5px,#2d2dff 86.5px,#55f 93.5px,#8e8eff 98.5px,#ddf 102.5px,#f7f7ff 103.5px,#fff0f0 104.5px,#ffeaea 108.5px,#ffcece 110.5px,#ff8383 113.5px,#ff1414 117.5px,#ff0101 118.5px,#f00 128.5px)"></i><i style="left:66px;width:2px;background:linear-gradient(#0f0fff 0.5px,#1717ff 74.5px,#2e2eff 86.5px,#5757ff 93.5px,#9292ff 98.5px,#e4e4ff 102.5px,#fefdfe 103.5px,#fff0f0 104.5px,#ffe7e7 108.5px,#ffcaca 110.5px,#ff6060 114.5px,#ff1010 117.5px,#f00 118.5px,#f00 128.5px)"></i><i style="left:68px;width:2px;background:linear-gradient(#0f0fff 0.5px,#1717ff 74.5px,#2f2fff 86.5px,#5a5aff 93.5px,#9797ff 98.5px,#d2d2ff 101.5px,#ebebff 102.5px,#fff7f7 103.5px,#ffe5e5 108.5px,#ffaeae 111.5px,#ff2323 116.5px,#f00 118.5px,#f00 128.5px)"></i><i style="left:70px;width:2px;background:linear-gradient(#0f0fff 0.5px,#1616ff 73.5px,#3030ff 86.5px,#5c5cff 93.5px,#9c9cff 98.5px,#d8d8ff 101.5px,#f2f2ff 102.5px,#fff0f0 103.5px,#ffebeb 107.5px,#ffd4d4 109.5px,#ff8e8e 112.5px,#ff1f1f 116.5px,#ff0909 117.5px,#f00 119.5px,#f00 128.5px)"></i><i style="left:72px;width:2px;background:linear-gradient(#0f0fff 0.5px,#1717ff 73.5px,#2e2eff 85.5px,#5656ff 92.5px,#9090ff 97.5px,#dfdfff 101.5px,#fafaff 102.5px,#fff0f0 103.5px,#ffeaea 107.5px,#ffcfcf 109.5px,#f88 112.5px,#ff1b1b 116.5px,#ff0606 117.5px,#f00 121.5px,#f00 128.5px)"></i><i style="left:74px;width:2px;background:linear-gradient(#0f0fff 0.5px,#1717ff 73.5px,#2f2fff 85.5px,#5858ff 92.5px,#9494ff 97.5px,#e6e6ff 101.5px,#fffdfd 102.5px,#fff0f0 103.5px,#ffe8e8 107.5px,#ffb6b6 110.5px,#ff1717 116.5px,#ff0404 117.5px,#f00 128.5px)"></i><i style="left:76px;width:2px;background:linear-gradient(#0f0fff 0.5px,#1717ff 73.5px,#3030ff 85.5px,#5b5bff 92.5px,#99f 97.5px,#d4d4ff 100.5px,#ededff 101.5px,#fff5f5 102.5px,#ffe5e5 107.5px,#ffb1b1 110.5px,#ff1313 116.5px,#ff0101 117.5px,#f00 128.5px)"></i><i style="left:78px;width:2px;background:linear-gradient(#0f0fff 0.5px,#1717ff 72.5px,#2e2eff 84.5px,#55f 91.5px,#8e8eff 96.5px,#dbdbff 100.5px,#f4f4ff 101.5px,#fff0f0 102.5px,#ffebeb 106.5px,#ffc2c2 109.5px,#ff1010 116.5px,#f00 117.5px,#f00 128.5px)"></i><i style="left:80px;width:2px;background:linear-gradient(#0f0fff 0.5px,#1717ff 72.5px,#2f2fff 84.5px,#5757ff 91.5px,#9292ff 96.5px,#e1e1ff 100.5px,#fcfcff 101.5px,#fff0f0 102.5px,#ffeaea 106.5px,#ffbdbd 109.5px,#ff0c0c 116.5px,#f00 117.5px,#f00 128.5px)"></i><i style="left:82px;width:2px;background:linear-gradient(#0f0fff 0.5px,#1717ff 72.5px,#3030ff 84.5px,#5a5aff 91.5px,#9696ff 96.5px,#e8e8ff 100.5px,#fffbfb 101.5px,#fff0f0 102.5px,#ffe8e8 106.5px,#ffb8b8 109.5px,#ff1d1d 115.5px,#ff0909 116.5px,#f00 118.5px,#f00 128.5px)"></i><i style="left:84px;width:2px;background:linear-gradient(#0f0fff 0.5px,#1717ff 71.5px,#3131ff 84.5px,#5c5cff 91.5px,#9b9bff 96.5px,#efefff 100.5px,#fff3f3 101.5px,#ffe5e5 106.5px,#ffb3b3 109.5px,#ff1a1a 115.5px,#ff0606 116.5px,#f00 120.5px,#f00 128.5px)"></i><i style="left:86px;width:2px;background:linear-gradient(#0f0fff 0.5px,#1717ff 71.5px,#2e2eff 83.5px,#5656ff 90.5px,#8f8fff 95.5px,#ddf 99.5px,#f6f6ff 100.5px,#fff0f0 101.5px,#ffebeb 105.5px,#ffc4c4 108.5px,#ff1616 115.5px,#ff0404 116.5px,#f00 128.5px)"></i><i style="left:88px;width:2px;background:linear-gradient(#0f0fff 0.5px,#1717ff 71.5px,#3030ff 83.5px,#5959ff 90.5px,#9494ff 95.5px,#e3e3ff 99.5px,#fdfdff 100.5px,#fff0f0 101.5px,#ffe9e9 105.5px,#ffbfbf 108.5px,#ff1212 115.5px,#ff0101 116.5px,#f00 128.5px)"></i><i style="left:90px;width:2px;background:linear-gradient(#0f0fff 0.5px,#1717ff 70.5px,#3131ff 83.5px,#5b5bff 90.5px,#9898ff 95.5px,#eaeaff 99.5px,#fff9f9 100.5px,#fff0f0 102.5px,#ffe7e7 105.5px,#ffb9b9 108.5px,#ff0d0d 115.5px,#f00 116.5px,#f00 128.5px)"></i><i style="left:92px;width:2px;background:linear-gradient(#0f0fff 0.5px,#1717ff 70.5px,#3232ff 83.5px,#5e5eff 90.5px,#9d9dff 95.5px,#f1f1ff 99.5px,#fff1f1 100.5px,#ffecec 104.5px,#ffc8c8 107.5px,#ff6868 111.5px,#ff0909 115.5px,#f00 117.5px,#f00 128.5px)"></i><i style="left:94px;width:2px;background:linear-gradient(#0f0fff 0.5px,#1717ff 70.5px,#2f2fff 82.5px,#5858ff 89.5px,#9191ff 94.5px,#dfdfff 98.5px,#f8f8ff 99.5px,#fff0f0 100.5px,#ffebeb 104.5px,#ffc3c3 107.5px,#ff1717 114.5px,#ff0505 115.5px,#f00 128.5px)"></i><i style="left:96px;width:2px;background:linear-gradient(#0f0fff 0.5px,#1717ff 69.5px,#3030ff 82.5px,#5a5aff 89.5px,#9595ff 94.5px,#e5e5ff 98.5px,#fefdfe 99.5px,#fff0f0 100.5px,#ffe9e9 104.5px,#ffbebe 107.5px,#ff1212 114.5px,#ff0101 115.5px,#f00 128.5px)"></i><i style="left:98px;width:2px;background:linear-gradient(#0f0fff 0.5px,#1717ff 69.5px,#3131ff 82.5px,#5c5cff 89.5px,#99f 94.5px,#ebebff 98.5px,#fff8f8 99.5px,#fff0f0 101.5px,#ffe7e7 104.5px,#ffbaba 107.5px,#ff0e0e 114.5px,#f00 115.5px,#f00 128.5px)"></i><i style="left:100px;width:2px;background:linear-gradient(#0f0fff 0.5px,#1717ff 69.5px,#3232ff 82.5px,#5e5eff 89.5px,#9d9dff 94.5px,#f0f0ff 98.5px,#fff2f2 99.5px,#ffeded 103.5px,#ffc9c9 106.5px,#ff6a6a 110.5px,#ff0b0b 114.5px,#f00 115.5px,#f00 128.5px)"></i><i style="left:102px;width:2px;background:linear-gradient(#0f0fff 0.5px,#1717ff 69.5px,#2f2fff 81.5px,#5858ff 88.5px,#9191ff 93.5px,#ddf 97.5px,#f6f6ff 98.5px,#fff0f0 99.5px,#ffecec 103.5px,#ffc6c6 106.5px,#ff4a4a 111.5px,#ff0808 114.5px,#f00 116.5px,#f00 128.5px)"></i><i style="left:104px;width:2px;background:linear-gradient(#0f0fff 0.5px,#1717ff 68.5px,#3030ff 81.5px,#5a5aff 88.5px,#9494ff 93.5px,#e2e2ff 97.5px,#fcfcff 98.5px,#fff0f0 99.5px,#ffeaea 103.5px,#ffc2c2 106.5px,#ff1717 113.5px,#ff0505 114.5px,#f00 128.5px)"></i><i style="left:106px;width:2px;background:linear-gradient(#0f0fff 0.5px,#1717ff 68.5px,#3131ff 81.5px,#5c5cff 88.5px,#9797ff 93.5px,#e7e7ff 97.5px,#fffcfc 98.5px,#fff0f0 99.5px,#ffe9e9 103.5px,#ffbebe 106.5px,#ff1313 113.5px,#ff0202 114.5px,#f00 128.5px)"></i><i style="left:108px;width:2px;background:linear-gradient(#0f0fff 0.5px,#1717ff 68.5px,#3232ff 81.5px,#5e5eff 88.5px,#9b9bff 93.5px,#ededff 97.5px,#fff6f6 98.5px,#ffe7e7 103.5px,#ffb9b9 106.5px,#ff0f0f 113.5px,#f00 114.5px,#f00 128.5px)"></i><i style="left:110px;width:2px;background:linear-gradient(#0f0fff 0.5px,#1717ff 68.5px,#2f2fff 80.5px,#5757ff 87.5px,#8f8fff 92.5px,#dadaff 96.5px,#f2f2ff 97.5px,#fff1f1 98.5px,#ffecec 102.5px,#ffc9c9 105.5px,#ff6b6b 109.5px,#ff0c0c 113.5px,#f00 114.5px,#f00 128.5px)"></i><i style="left:112px;width:2px;background:linear-gradient(#0f0fff 0.5px,#1717ff 67.5px,#3030ff 80.5px,#5959ff 87.5px,#9292ff 92.5px,#dfdfff 96.5px,#f8f8ff 97.5px,#fff0f0 98.5px,#ffebeb 102.5px,#ffc5c5 105.5px,#ff4b4b 110.5px,#ff0808 113.5px,#f00 115.5px,#f00 128.5px)"></i><i style="left:114px;width:2px;background:linear-gradient(#0f0fff 0.5px,#1717ff 67.5px,#3131ff 80.5px,#5b5bff 87.5px,#9696ff 92.5px,#e4e4ff 96.5px,#fefeff 97.5px,#fff0f0 98.5px,#ffeaea 102.5px,#ffc1c1 105.5px,#ff1717 112.5px,#ff0505 113.5px,#f00 128.5px)"></i><i style="left:116px;width:2px;background:linear-gradient(#0f0fff 0.5px,#1717ff 67.5px,#3232ff 80.5px,#5d5dff 87.5px,#99f 92.5px,#e9e9ff 96.5px,#fffbfb 97.5px,#fff0f0 98.5px,#ffe8e8 102.5px,#ffbdbd 105.5px,#ff1414 112.5px,#ff0202 113.5px,#f00 128.5px)"></i><i style="left:118px;width:2px;background:linear-gradient(#0f0fff 0.5px,#1818ff 67.5px,#3030ff 79.5px,#5757ff 86.5px,#8e8eff 91.5px,#d7d7ff 95.5px,#efefff 96.5px,#fff5f5 97.5px,#ffe7e7 102.5px,#ffb9b9 105.5px,#ff1010 112.5px,#f00 113.5px,#f00 128.5px)"></i><i style="left:120px;width:2px;background:linear-gradient(#0f0fff 0.5px,#1717ff 66.5px,#3030ff 79.5px,#5959ff 86.5px,#9191ff 91.5px,#dbdbff 95.5px,#f4f4ff 96.5px,#fff0f0 97.5px,#ffecec 101.5px,#ffc9c9 104.5px,#ff6b6b 108.5px,#ff0c0c 112.5px,#f00 113.5px,#f00 128.5px)"></i><i style="left:122px;width:2px;background:linear-gradient(#0f0fff 0.5px,#1717ff 66.5px,#3131ff 79.5px,#5b5bff 86.5px,#9494ff 91.5px,#e1e1ff 95.5px,#fafaff 96.5px,#fff0f0 97.5px,#ffebeb 101.5px,#ffc5c5 104.5px,#ff1c1c 111.5px,#f00 113.5px,#f00 128.5px)"></i><i style="left:124px;width:2px;background:linear-gradient(#0f0fff 0.5px,#1717ff 66.5px,#3232ff 79.5px,#5d5dff 86.5px,#9898ff 91.5px,#e6e6ff 95.5px,#fefefe 96.5px,#fff0f0 97.5px,#ffeaea 101.5px,#ffc1c1 104.5px,#ff1818 111.5px,#ff0606 112.5px,#f00 118.5px,#f00 128.5px)"></i><i style="left:126px;width:2px;background:linear-gradient(#0f0fff 0.5px,#1818ff 66.5px,#33f 79.5px,#5f5fff 86.5px,#9b9bff 91.5px,#ebebff 95.5px,#fff9f9 96.5px,#fff0f0 98.5px,#ffe8e8 101.5px,#ffbdbd 104.5px,#ff1414 111.5px,#ff0303 112.5px,#f00 128.5px)"></i><i style="left:128px;width:2px;background:linear-gradient(#0f0fff 0.5px,#1717ff 65.5px,#3030ff 78.5px,#5858ff 85.5px,#8f8fff 90.5px,#d8d8ff 94.5px,#f0f0ff 95.5px,#fff3f3 96.5px,#ffe6e6 101.5px,#ffb9b9 104.5px,#f11 111.5px,#f00 112.5px,#f00 128.5px)"></i><i style="left:130px;width:2px;background:linear-gradient(#0f0fff 0.5px,#1717ff 65.5px,#3131ff 78.5px,#5a5aff 85.5px,#9393ff 90.5px,#ddf 94.5px,#f6f6ff 95.5px,#fff0f0 96.5px,#ffecec 100.5px,#ffc8c8 103.5px,#ff6b6b 107.5px,#ff0d0d 111.5px,#f00 112.5px,#f00 128.5px)"></i><i style="left:132px;width:2px;background:linear-gradient(#0f0fff 0.5px,#1717ff 65.5px,#3232ff 78.5px,#5c5cff 85.5px,#9696ff 90.5px,#e2e2ff 94.5px,#fbfbff 95.5px,#fff0f0 96.5px,#ffebeb 100.5px,#ffc4c4 103.5px,#ff1d1d 110.5px,#f00 112.5px,#f00 128.5px)"></i><i style="left:134px;width:2px;background:linear-gradient(#0f0fff 0.5px,#1818ff 65.5px,#33f 78.5px,#5e5eff 85.5px,#9a9aff 90.5px,#e8e8ff 94.5px,#fffdfd 95.5px,#fff0f0 96.5px,#ffe9e9 100.5px,#ffc1c1 103.5px,#ff1919 110.5px,#ff0707 111.5px,#f00 114.5px,#f00 128.5px)"></i><i style="left:136px;width:2px;background:linear-gradient(#0f0fff 0.5px,#1717ff 64.5px,#3030ff 77.5px,#5858ff 84.5px,#8e8eff 89.5px,#d5d5ff 93.5px,#ededff 94.5px,#fff7f7 95.5px,#ffe8e8 100.5px,#ffbdbd 103.5px,#ff1515 110.5px,#ff0404 111.5px,#f00 128.5px)"></i><i style="left:138px;width:2px;background:linear-gradient(#0f0fff 0.5px,#1717ff 64.5px,#3131ff 77.5px,#5a5aff 84.5px,#9191ff 89.5px,#dadaff 93.5px,#f2f2ff 94.5px,#fff1f1 95.5px,#ffeded 99.5px,#ffcbcb 102.5px,#ff7171 106.5px,#f11 110.5px,#ff0101 111.5px,#f00 128.5px)"></i><i style="left:140px;width:2px;background:linear-gradient(#0f0fff 0.5px,#1818ff 64.5px,#3232ff 77.5px,#5c5cff 84.5px,#9595ff 89.5px,#dfdfff 93.5px,#f8f8ff 94.5px,#fff0f0 95.5px,#ffecec 99.5px,#ffc8c8 102.5px,#ff6b6b 106.5px,#ff0e0e 110.5px,#f00 111.5px,#f00 128.5px)"></i><i style="left:142px;width:2px;background:linear-gradient(#0f0fff 0.5px,#1818ff 64.5px,#33f 77.5px,#5e5eff 84.5px,#9898ff 89.5px,#e4e4ff 93.5px,#fdfdff 94.5px,#fff0f0 95.5px,#ffeaea 99.5px,#ffc4c4 102.5px,#ff1e1e 109.5px,#f00 111.5px,#f00 128.5px)"></i><i style="left:144px;width:2px;background:linear-gradient(#0f0fff 0.5px,#1717ff 63.5px,#3131ff 76.5px,#5757ff 83.5px,#8d8dff 88.5px,#d3d3ff 92.5px,#fffbfb 94.5px,#fff0f0 95.5px,#ffe9e9 99.5px,#ffc0c0 102.5px,#ff1a1a 109.5px,#ff0707 110.5px,#f00 113.5px,#f00 128.5px)"></i><i style="left:146px;width:2px;background:linear-gradient(#0f0fff 0.5px,#1717ff 63.5px,#3131ff 76.5px,#5959ff 83.5px,#9090ff 88.5px,#d7d7ff 92.5px,#eef 93.5px,#fff6f6 94.5px,#ffe7e7 99.5px,#ffbcbc 102.5px,#ff1616 109.5px,#ff0505 110.5px,#f00 128.5px)"></i><i style="left:148px;width:2px;background:linear-gradient(#0f0fff 0.5px,#1818ff 63.5px,#3232ff 76.5px,#5b5bff 83.5px,#9292ff 88.5px,#dadaff 92.5px,#f2f2ff 93.5px,#fff2f2 94.5px,#ffe6e6 99.5px,#ffbaba 102.5px,#ff1414 109.5px,#ff0303 110.5px,#f00 128.5px)"></i><i style="left:150px;width:2px;background:linear-gradient(#0f0fff 0.5px,#1818ff 63.5px,#33f 76.5px,#5c5cff 83.5px,#9494ff 88.5px,#ddf 92.5px,#f5f5ff 93.5px,#fff0f0 94.5px,#ffecec 98.5px,#ffcbcb 101.5px,#ff7070 105.5px,#ff1212 109.5px,#ff0202 110.5px,#f00 128.5px)"></i><i style="left:152px;width:2px;background:linear-gradient(#0f0fff 0.5px,#1818ff 63.5px,#33f 76.5px,#5d5dff 83.5px,#9696ff 88.5px,#e0e0ff 92.5px,#f8f8ff 93.5px,#fff0f0 94.5px,#ffecec 98.5px,#ffc9c9 101.5px,#ff6d6d 105.5px,#ff1010 109.5px,#f00 110.5px,#f00 128.5px)"></i><i style="left:154px;width:4px;background:linear-gradient(#0f0fff 0.5px,#1717ff 62.5px,#3030ff 75.5px,#5f5fff 83.5px,#99f 88.5px,#e4e4ff 92.5px,#fdfdff 93.5px,#fff0f0 94.5px,#ffebeb 98.5px,#ffc6c6 101.5px,#ff5050 106.5px,#ff0d0d 109.5px,#f00 110.5px,#f00 128.5px)"></i><i style="left:158px;width:2px;background:linear-gradient(#0f0fff 0.5px,#1818ff 62.5px,#3131ff 75.5px,#5858ff 82.5px,#8d8dff 87.5px,#d2d2ff 91.5px,#fffcfc 93.5px,#fff0f0 94.5px,#ffeaea 98.5px,#ffc2c2 101.5px,#ff1e1e 108.5px,#f00 110.5px,#f00 128.5px)"></i><i style="left:160px;width:2px;background:linear-gradient(#0f0fff 0.5px,#1818ff 62.5px,#3232ff 75.5px,#5a5aff 82.5px,#8f8fff 87.5px,#d5d5ff 91.5px,#fff9f9 93.5px,#fff0f0 95.5px,#ffe9e9 98.5px,#ffc0c0 101.5px,#ff1b1b 108.5px,#f00 110.5px,#f00 128.5px)"></i><i style="left:162px;width:4px;background:linear-gradient(#0f0fff 0.5px,#1818ff 62.5px,#33f 75.5px,#5b5bff 82.5px,#9292ff 87.5px,#d9d9ff 91.5px,#f0f0ff 92.5px,#fff4f4 93.5px,#ffe7e7 98.5px,#ffbdbd 101.5px,#ff1818 108.5px,#ff0707 109.5px,#f00 112.5px,#f00 128.5px)"></i><i style="left:166px;width:2px;background:linear-gradient(#0f0fff 0.5px,#1717ff 61.5px,#3030ff 74.5px,#5d5dff 82.5px,#9595ff 87.5px,#ddf 91.5px,#f5f5ff 92.5px,#fff0f0 93.5px,#ffeded 97.5px,#fcc 100.5px,#ff7474 104.5px,#ff1515 108.5px,#ff0404 109.5px,#f00 128.5px)"></i><i style="left:168px;width:2px;background:linear-gradient(#0f0fff 0.5px,#1717ff 61.5px,#3131ff 74.5px,#5e5eff 82.5px,#9797ff 87.5px,#e0e0ff 91.5px,#f8f8ff 92.5px,#fff0f0 93.5px,#ffecec 97.5px,#ffcaca 100.5px,#ff7171 104.5px,#ff1313 108.5px,#ff0303 109.5px,#f00 128.5px)"></i><i style="left:170px;width:2px;background:linear-gradient(#0f0fff 0.5px,#1818ff 61.5px,#3131ff 74.5px,#6060ff 82.5px,#99f 87.5px,#e3e3ff 91.5px,#fbfbff 92.5px,#fff0f0 93.5px,#ffebeb 97.5px,#ffc8c8 100.5px,#ff6e6e 104.5px,#ff1212 108.5px,#ff0101 109.5px,#f00 128.5px)"></i><i style="left:172px;width:4px;background:linear-gradient(#0f0fff 0.5px,#1818ff 61.5px,#3232ff 74.5px,#5959ff 81.5px,#8e8eff 86.5px,#d1d1ff 90.5px,#fffdfe 92.5px,#fff0f0 93.5px,#ffeaea 97.5px,#ffc5c5 100.5px,#ff0f0f 108.5px,#f00 109.5px,#f00 128.5px)"></i><i style="left:176px;width:2px;background:linear-gradient(#0f0fff 0.5px,#1818ff 61.5px,#33f 74.5px,#5b5bff 81.5px,#9090ff 86.5px,#d5d5ff 90.5px,#fff9f9 92.5px,#fff0f0 94.5px,#ffe9e9 97.5px,#ffc2c2 100.5px,#ff0c0c 108.5px,#f00 109.5px,#f00 128.5px)"></i><i style="left:178px;width:2px;background:linear-gradient(#0f0fff 0.5px,#1717ff 60.5px,#3030ff 73.5px,#5c5cff 81.5px,#9292ff 86.5px,#d8d8ff 90.5px,#efefff 91.5px,#fff6f6 92.5px,#ffe8e8 97.5px,#ffc0c0 100.5px,#ff1d1d 107.5px,#f00 109.5px,#f00 128.5px)"></i><i style="left:180px;width:2px;background:linear-gradient(#0f0fff 0.5px,#1818ff 60.5px,#3131ff 73.5px,#5d5dff 81.5px,#9494ff 86.5px,#dbdbff 90.5px,#f2f2ff 91.5px,#fff3f3 92.5px,#ffe7e7 97.5px,#ffbdbd 100.5px,#ff1b1b 107.5px,#f00 109.5px,#f00 128.5px)"></i><i style="left:182px;width:2px;background:linear-gradient(#0f0fff 0.5px,#1818ff 60.5px,#3131ff 73.5px,#5e5eff 81.5px,#9696ff 86.5px,#dedeff 90.5px,#f5f5ff 91.5px,#fff0f0 92.5px,#ffeded 96.5px,#ffcdcd 99.5px,#f77 103.5px,#ff1919 107.5px,#ff0707 108.5px,#f00 111.5px,#f00 128.5px)"></i><i style="left:184px;width:2px;background:linear-gradient(#0f0fff 0.5px,#1818ff 60.5px,#3232ff 73.5px,#6060ff 81.5px,#9898ff 86.5px,#e0e0ff 90.5px,#f8f8ff 91.5px,#fff0f0 92.5px,#ffecec 96.5px,#ffcbcb 99.5px,#ff7474 103.5px,#ff1717 107.5px,#ff0606 108.5px,#f00 115.5px,#f00 128.5px)"></i><i style="left:186px;width:2px;background:linear-gradient(#0f0fff 0.5px,#1818ff 60.5px,#3232ff 73.5px,#6161ff 81.5px,#9a9aff 86.5px,#e3e3ff 90.5px,#fbfbff 91.5px,#fff0f0 92.5px,#ffecec 96.5px,#ffc9c9 99.5px,#ff7171 103.5px,#ff1515 107.5px,#ff0404 108.5px,#f00 128.5px)"></i><i style="left:188px;width:4px;background:linear-gradient(#0f0fff 0.5px,#1717ff 59.5px,#33f 73.5px,#6363ff 81.5px,#9d9dff 86.5px,#e7e7ff 90.5px,#fefdfe 91.5px,#fff0f0 92.5px,#ffebeb 96.5px,#ffc6c6 99.5px,#ff5454 104.5px,#ff1212 107.5px,#ff0202 108.5px,#f00 128.5px)"></i><i style="left:192px;width:2px;background:linear-gradient(#0f0fff 0.5px,#1818ff 59.5px,#3030ff 72.5px,#5c5cff 80.5px,#9292ff 85.5px,#d6d6ff 89.5px,#fffafa 91.5px,#fff0f0 92.5px,#ffe9e9 96.5px,#ffc3c3 99.5px,#ff0f0f 107.5px,#f00 108.5px,#f00 128.5px)"></i><i style="left:194px;width:2px;background:linear-gradient(#0f0fff 0.5px,#1818ff 59.5px,#3131ff 72.5px,#5d5dff 80.5px,#9393ff 85.5px,#d8d8ff 89.5px,#efefff 90.5px,#fff7f7 91.5px,#ffe9e9 96.5px,#ffc1c1 99.5px,#ff0e0e 107.5px,#f00 108.5px,#f00 128.5px)"></i><i style="left:196px;width:2px;background:linear-gradient(#0f0fff 0.5px,#1818ff 59.5px,#3232ff 72.5px,#5e5eff 80.5px,#9595ff 85.5px,#dbdbff 89.5px,#f1f1ff 90.5px,#fff4f4 91.5px,#ffe8e8 96.5px,#ffbfbf 99.5px,#ff0c0c 107.5px,#f00 108.5px,#f00 128.5px)"></i><i style="left:198px;width:4px;background:linear-gradient(#0f0fff 0.5px,#1818ff 59.5px,#3232ff 72.5px,#6060ff 80.5px,#9797ff 85.5px,#dedeff 89.5px,#f4f4ff 90.5px,#fff1f1 91.5px,#ffe7e7 96.5px,#ffbdbd 99.5px,#ff1d1d 106.5px,#f00 108.5px,#f00 128.5px)"></i><i style="left:202px;width:2px;background:linear-gradient(#0f0fff 0.5px,#1818ff 59.5px,#33f 72.5px,#6161ff 80.5px,#99f 85.5px,#e1e1ff 89.5px,#f8f8ff 90.5px,#fff0f0 91.5px,#ffecec 95.5px,#ffcdcd 98.5px,#f77 102.5px,#ff1a1a 106.5px,#f00 108.5px,#f00 128.5px)"></i><i style="left:204px;width:2px;background:linear-gradient(#0f0fff 0.5px,#1818ff 58.5px,#33f 72.5px,#6262ff 80.5px,#9b9bff 85.5px,#e3e3ff 89.5px,#fafaff 90.5px,#fff0f0 91.5px,#ffecec 95.5px,#ffcbcb 98.5px,#ff7676 102.5px,#ff1919 106.5px,#f00 108.5px,#f00 128.5px)"></i><i style="left:206px;width:4px;background:linear-gradient(#0f0fff 0.5px,#1818ff 58.5px,#3434ff 72.5px,#6464ff 80.5px,#9d9dff 85.5px,#e6e6ff 89.5px,#fdfdff 90.5px,#fff0f0 91.5px,#ffebeb 95.5px,#ffc9c9 98.5px,#ff7373 102.5px,#ff1717 106.5px,#ff0606 107.5px,#f00 112.5px,#f00 128.5px)"></i><i style="left:210px;width:2px;background:linear-gradient(#0f0fff 0.5px,#1818ff 58.5px,#3131ff 71.5px,#5d5dff 79.5px,#9191ff 84.5px,#d4d4ff 88.5px,#fffdfd 90.5px,#fff0f0 91.5px,#ffeaea 95.5px,#ffc7c7 98.5px,#ff5757 103.5px,#ff0505 107.5px,#f00 128.5px)"></i><i style="left:212px;width:4px;background:linear-gradient(#0f0fff 0.5px,#1818ff 58.5px,#3232ff 71.5px,#5e5eff 79.5px,#9393ff 84.5px,#d7d7ff 88.5px,#fffafa 90.5px,#fff0f0 91.5px,#ffeaea 95.5px,#ffc5c5 98.5px,#ff1313 106.5px,#ff0303 107.5px,#f00 128.5px)"></i><i style="left:216px;width:4px;background:linear-gradient(#0f0fff 0.5px,#1919ff 58.5px,#33f 71.5px,#6060ff 79.5px,#9696ff 84.5px,#dadaff 88.5px,#f0f0ff 89.5px,#fff5f5 90.5px,#ffe8e8 95.5px,#ffc2c2 98.5px,#f11 106.5px,#ff0101 107.5px,#f00 128.5px)"></i><i style="left:220px;width:2px;background:linear-gradient(#0f0fff 0.5px,#1818ff 57.5px,#33f 71.5px,#6161ff 79.5px,#9898ff 84.5px,#ddf 88.5px,#f4f4ff 89.5px,#fff2f2 90.5px,#ffe7e7 95.5px,#ffc0c0 98.5px,#ff0f0f 106.5px,#f00 107.5px,#f00 128.5px)"></i><i style="left:222px;width:2px;background:linear-gradient(#0f0fff 0.5px,#1818ff 57.5px,#3434ff 71.5px,#6262ff 79.5px,#9a9aff 84.5px,#dfdfff 88.5px,#f6f6ff 89.5px,#fff0f0 90.5px,#ffeded 94.5px,#ffcfcf 97.5px,#ff7d7d 101.5px,#ff0e0e 106.5px,#f00 107.5px,#f00 128.5px)"></i><i style="left:224px;width:4px;background:linear-gradient(#0f0fff 0.5px,#1818ff 57.5px,#3535ff 71.5px,#6464ff 79.5px,#9c9cff 84.5px,#e2e2ff 88.5px,#f9f9ff 89.5px,#fff0f0 90.5px,#ffecec 94.5px,#ffcdcd 97.5px,#ff7a7a 101.5px,#ff1e1e 105.5px,#f00 107.5px,#f00 128.5px)"></i><i style="left:228px;width:4px;background:linear-gradient(#0f0fff 0.5px,#1919ff 57.5px,#3232ff 70.5px,#5d5dff 78.5px,#9f9fff 84.5px,#e6e6ff 88.5px,#fdfdff 89.5px,#fff0f0 90.5px,#ffebeb 94.5px,#ffcbcb 97.5px,#f77 101.5px,#ff1b1b 105.5px,#f00 107.5px,#f00 128.5px)"></i><i style="left:232px;width:2px;background:linear-gradient(#0f0fff 0.5px,#1919ff 57.5px,#33f 70.5px,#5f5fff 78.5px,#a1a1ff 84.5px,#fffdfd 89.5px,#fff0f0 90.5px,#ffebeb 94.5px,#ffc9c9 97.5px,#ff5c5c 102.5px,#ff0808 106.5px,#f00 108.5px,#f00 128.5px)"></i><i style="left:234px;width:2px;background:linear-gradient(#0f0fff 0.5px,#1818ff 56.5px,#33f 70.5px,#6060ff 78.5px,#9494ff 83.5px,#d6d6ff 87.5px,#fffbfb 89.5px,#fff0f0 90.5px,#ffeaea 94.5px,#ffc7c7 97.5px,#ff5a5a 102.5px,#ff0707 106.5px,#f00 109.5px,#f00 128.5px)"></i><i style="left:236px;width:2px;background:linear-gradient(#0f0fff 0.5px,#1818ff 56.5px,#3434ff 70.5px,#6060ff 78.5px,#9696ff 83.5px,#d8d8ff 87.5px,#eef 88.5px,#fff9f9 89.5px,#fff0f0 91.5px,#ffeaea 94.5px,#ffc6c6 97.5px,#ff5858 102.5px,#ff0606 106.5px,#f00 110.5px,#f00 128.5px)"></i><i style="left:238px;width:4px;background:linear-gradient(#0f0fff 0.5px,#1818ff 56.5px,#3434ff 70.5px,#6262ff 78.5px,#9898ff 83.5px,#dbdbff 87.5px,#f1f1ff 88.5px,#fff5f5 89.5px,#ffe9e9 94.5px,#ffc4c4 97.5px,#ff1515 105.5px,#ff0505 106.5px,#f00 128.5px)"></i><i style="left:242px;width:3px;background:linear-gradient(#0f0fff 0.5px,#1919ff 56.5px,#3535ff 70.5px,#6363ff 78.5px,#9a9aff 83.5px,#dfdfff 87.5px,#f4f4ff 88.5px,#fff1f1 89.5px,#ffe8e8 94.5px,#ffc1c1 97.5px,#ff1313 105.5px,#ff0303 106.5px,#f00 128.5px)"></i></div>
<div class="hm" style="left:575px;top:18px;width:424px;height:130px"><i style="left:0px;width:8px;background:#00f"></i><i style="left:8px;width:2px;background:linear-gradient(#1818ff 0.5px,#2a2aff 36.5px,#55f 53.5px,#9090ff 64.5px,#d8d8ff 72.5px,#f9f6fc 75.5px,#ffeaea 78.5px,#ffbdbd 82.5px,#ff1d1d 91.5px,#f00 94.5px,#f00 129.5px)"></i><i style="left:10px;width:2px;background:linear-gradient(#1919ff 0.5px,#2a2aff 33.5px,#5454ff 50.5px,#8f8fff 61.5px,#d6d6ff 69.5px,#f8f6fd 72.5px,#ffebeb 75.5px,#ffc0c0 79.5px,#ff1212 89.5px,#ff0101 91.5px,#f00 129.5px)"></i><i style="left:12px;width:2px;background:linear-gradient(#1a1aff 0.5px,#2b2bff 31.5px,#5353ff 47.5px,#8c8cff 58.5px,#d2d2ff 66.5px,#f6f6ff 69.5px,#ffe7e7 73.5px,#ffb6b6 77.5px,#ff1717 86.5px,#ff0303 88.5px,#f00 129.5px)"></i><i style="left:14px;width:2px;background:linear-gradient(#1a1aff 0.5px,#2b2bff 28.5px,#5252ff 44.5px,#8b8bff 55.5px,#dbdbff 64.5px,#f3f3ff 66.5px,#fff5f5 68.5px,#ffd5d5 72.5px,#ff8484 77.5px,#ff1a1a 83.5px,#f00 86.5px,#f00 129.5px)"></i><i style="left:16px;width:2px;background:linear-gradient(#1b1bff 0.5px,#2d2dff 26.5px,#5757ff 42.5px,#9393ff 53.5px,#ddf 61.5px,#f4f2fe 63.5px,#fff5f5 65.5px,#ffd3d3 69.5px,#ff8282 74.5px,#ff1818 80.5px,#f00 83.5px,#f00 129.5px)"></i><i style="left:18px;width:2px;background:linear-gradient(#1d1dff 0.5px,#2e2eff 22.5px,#5a5aff 38.5px,#9a9aff 49.5px,#f1effd 58.5px,#fdf4f6 60.5px,#ffd4d4 64.5px,#ff8484 69.5px,#ff1b1b 75.5px,#ff0202 78.5px,#f00 129.5px)"></i><i style="left:20px;width:2px;background:linear-gradient(#2020ff 0.5px,#3939ff 19.5px,#6a6aff 33.5px,#adadff 43.5px,#dfdfff 48.5px,#fbe8ec 53.5px,#ffc3c3 57.5px,#f22 67.5px,#f00 72.5px,#f00 129.5px)"></i><i style="left:22px;width:2px;background:linear-gradient(#2929ff 0.5px,#5151ff 17.5px,#8989ff 28.5px,#ceceff 36.5px,#e4e4ff 38.5px,#fcf1f4 42.5px,#ffc7c7 48.5px,#ff1212 62.5px,#f00 65.5px,#f00 129.5px)"></i><i style="left:24px;width:2px;background:linear-gradient(#2f2fff 0.5px,#5a5aff 15.5px,#9393ff 25.5px,#e0e0ff 33.5px,#fafaff 35.5px,#ffeded 38.5px,#ffc7c7 44.5px,#ff5757 54.5px,#ff0505 62.5px,#f00 75.5px,#f00 129.5px)"></i><i style="left:26px;width:2px;background:linear-gradient(#2e2eff 0.5px,#5858ff 15.5px,#9191ff 25.5px,#d5d5ff 32.5px,#fdfcff 35.5px,#ffefef 37.5px,#ffc3c3 44.5px,#ff6262 53.5px,#ff0c0c 61.5px,#f00 64.5px,#f00 129.5px)"></i><i style="left:28px;width:2px;background:linear-gradient(#2b2bff 0.5px,#5454ff 16.5px,#8e8eff 26.5px,#d5d5ff 33.5px,#fefbfc 36.5px,#fff0f0 37.5px,#ffd4d4 42.5px,#ff8b8b 50.5px,#ff0d0d 61.5px,#f00 64.5px,#f00 129.5px)"></i><i style="left:30px;width:2px;background:linear-gradient(#2727ff 0.5px,#4b4bff 16.5px,#8080ff 26.5px,#c4c4ff 33.5px,#fdfafc 37.5px,#ffeded 39.5px,#ff9393 50.5px,#f11 61.5px,#ff0101 63.5px,#f00 129.5px)"></i><i style="left:32px;width:2px;background:linear-gradient(#2525ff 0.5px,#3f3fff 15.5px,#6b6bff 25.5px,#a6a6ff 32.5px,#fcfafc 38.5px,#ffecec 40.5px,#ff9090 51.5px,#ff0e0e 62.5px,#f00 65.5px,#f00 129.5px)"></i><i style="left:34px;width:2px;background:linear-gradient(#2424ff 0.5px,#3737ff 15.5px,#6363ff 26.5px,#a0a0ff 33.5px,#eaeaff 38.5px,#fcfafd 39.5px,#ffefef 40.5px,#ffcfcf 44.5px,#ff8383 53.5px,#ff0b0b 63.5px,#f00 66.5px,#f00 129.5px)"></i><i style="left:36px;width:2px;background:linear-gradient(#2323ff 0.5px,#3535ff 17.5px,#5e5eff 27.5px,#9191ff 33.5px,#dbdbff 38.5px,#fff9f9 40.5px,#ffb4b4 47.5px,#ff9494 52.5px,#ff0808 64.5px,#f00 67.5px,#f00 129.5px)"></i><i style="left:38px;width:2px;background:linear-gradient(#22f 0.5px,#33f 19.5px,#5959ff 28.5px,#8f8fff 34.5px,#ccf 38.5px,#f6f6ff 40.5px,#ffecec 42.5px,#ffaeae 48.5px,#ff9191 53.5px,#ff0606 65.5px,#f00 73.5px,#f00 129.5px)"></i><i style="left:40px;width:2px;background:linear-gradient(#2121ff 0.5px,#3131ff 21.5px,#55f 29.5px,#8e8eff 35.5px,#d0d0ff 39.5px,#fdfbfd 41.5px,#ffd1d1 45.5px,#ffadad 48.5px,#ff9797 53.5px,#ff4848 60.5px,#ff0404 66.5px,#f00 129.5px)"></i><i style="left:42px;width:2px;background:linear-gradient(#2020ff 0.5px,#3030ff 23.5px,#5959ff 31.5px,#8e8eff 36.5px,#d6d6ff 40.5px,#eef 41.5px,#fff5f5 42.5px,#ffd7d7 45.5px,#ffafaf 48.5px,#ff9595 54.5px,#ff4545 61.5px,#ff0202 67.5px,#f00 129.5px)"></i><i style="left:44px;width:2px;background:linear-gradient(#1f1fff 0.5px,#3030ff 25.5px,#5858ff 32.5px,#9191ff 37.5px,#dfdfff 41.5px,#f9f9ff 42.5px,#ffdede 45.5px,#ffa8a8 49.5px,#ff9b9b 54.5px,#ff6969 59.5px,#ff0808 67.5px,#f00 69.5px,#f00 129.5px)"></i><i style="left:46px;width:2px;background:linear-gradient(#1e1eff 0.5px,#2d2dff 25.5px,#5353ff 32.5px,#8c8cff 37.5px,#dadaff 41.5px,#f4f4ff 42.5px,#fff0f0 43.5px,#ffdfdf 45.5px,#ffa7a7 49.5px,#ff9d9d 54.5px,#ff6e6e 59.5px,#ff0a0a 67.5px,#f00 69.5px,#f00 129.5px)"></i><i style="left:48px;width:2px;background:linear-gradient(#1d1dff 0.5px,#2e2eff 26.5px,#5959ff 33.5px,#99f 38.5px,#d8d8ff 41.5px,#f2f2ff 42.5px,#fff0f0 43.5px,#ffe0e0 45.5px,#ffa7a7 49.5px,#ff9898 55.5px,#ff5656 61.5px,#ff0303 68.5px,#f00 129.5px)"></i><i style="left:50px;width:2px;background:linear-gradient(#1c1cff 0.5px,#2a2aff 25.5px,#5050ff 32.5px,#88f 37.5px,#d6d6ff 41.5px,#f0f0ff 42.5px,#fff0f0 43.5px,#ffe1e1 45.5px,#ffa8a8 49.5px,#ff9898 55.5px,#ff5757 61.5px,#ff0303 68.5px,#f00 129.5px)"></i><i style="left:52px;width:2px;background:linear-gradient(#1b1bff 0.5px,#2a2aff 25.5px,#4f4fff 32.5px,#8787ff 37.5px,#d4d4ff 41.5px,#eef 42.5px,#fff2f2 43.5px,#ffd3d3 46.5px,#ffa8a8 49.5px,#f99 55.5px,#ff5858 61.5px,#ff0404 68.5px,#f00 129.5px)"></i><i style="left:54px;width:2px;background:linear-gradient(#1a1aff 0.5px,#2727ff 24.5px,#4f4fff 32.5px,#8686ff 37.5px,#d2d2ff 41.5px,#ececff 42.5px,#fff4f4 43.5px,#ffd4d4 46.5px,#ffa9a9 49.5px,#f99 55.5px,#f66 60.5px,#ff0505 68.5px,#f00 129.5px)"></i><i style="left:56px;width:2px;background:linear-gradient(#1919ff 0.5px,#2424ff 23.5px,#4747ff 31.5px,#77f 36.5px,#babaff 40.5px,#eaeaff 42.5px,#fff7f7 43.5px,#ffd5d5 46.5px,#ffa9a9 49.5px,#ff9a9a 55.5px,#ff6767 60.5px,#ff0505 68.5px,#f00 95.5px,#f00 129.5px)"></i><i style="left:58px;width:2px;background:linear-gradient(#1818ff 0.5px,#2323ff 23.5px,#4646ff 31.5px,#7676ff 36.5px,#b8b8ff 40.5px,#e8e8ff 42.5px,#fff9f9 43.5px,#ffc6c6 47.5px,#faa 49.5px,#ff9a9a 55.5px,#ff6868 60.5px,#ff0606 68.5px,#f00 75.5px,#f00 129.5px)"></i><i style="left:60px;width:2px;background:linear-gradient(#1717ff 0.5px,#2121ff 22.5px,#3f3fff 30.5px,#7575ff 36.5px,#b7b7ff 40.5px,#fffbfb 43.5px,#ffc7c7 47.5px,#ffa4a4 50.5px,#ff9b9b 55.5px,#ff6969 60.5px,#ff0606 68.5px,#f00 72.5px,#f00 129.5px)"></i><i style="left:62px;width:2px;background:linear-gradient(#1616ff 0.5px,#1f1fff 21.5px,#3f3fff 30.5px,#7474ff 36.5px,#b5b5ff 40.5px,#fffdfd 43.5px,#ffabab 49.5px,#ffa3a3 52.5px,#ff9494 56.5px,#ff4242 63.5px,#ff0707 68.5px,#f00 71.5px,#f00 129.5px)"></i><i style="left:64px;width:2px;background:linear-gradient(#1515ff 0.5px,#1f1fff 21.5px,#3f3fff 30.5px,#7373ff 36.5px,#b4b4ff 40.5px,#fff 43.5px,#ffacac 49.5px,#ffa3a3 52.5px,#ff9595 56.5px,#ff5151 62.5px,#ff0808 68.5px,#f00 70.5px,#f00 129.5px)"></i><i style="left:66px;width:4px;background:linear-gradient(#1313ff 0.5px,#1d1dff 20.5px,#3939ff 29.5px,#6767ff 35.5px,#a0a0ff 39.5px,#e3e3ff 42.5px,#fff 43.5px,#ffa4a4 50.5px,#ff9c9c 55.5px,#ff6b6b 60.5px,#ff0808 68.5px,#f00 70.5px,#f00 129.5px)"></i><i style="left:70px;width:6px;background:linear-gradient(#11f 0.5px,#1f1fff 21.5px,#3e3eff 30.5px,#7373ff 36.5px,#b4b4ff 40.5px,#fefeff 43.5px,#ffa4a4 50.5px,#ff9c9c 55.5px,#ff6b6b 60.5px,#ff0808 68.5px,#f00 70.5px,#f00 129.5px)"></i><i style="left:76px;width:8px;background:linear-gradient(#1010ff 0.5px,#1f1fff 21.5px,#3e3eff 30.5px,#7373ff 36.5px,#b3b3ff 40.5px,#fefeff 43.5px,#ffa4a4 50.5px,#ff9c9c 55.5px,#ff6b6b 60.5px,#ff0808 68.5px,#f00 70.5px,#f00 129.5px)"></i><i style="left:84px;width:10px;background:linear-gradient(#1010ff 0.5px,#1f1fff 21.5px,#3e3eff 30.5px,#7373ff 36.5px,#b3b3ff 40.5px,#fdfdff 43.5px,#ffcaca 47.5px,#ffa5a5 50.5px,#ff9c9c 55.5px,#ff6b6b 60.5px,#ff0808 68.5px,#f00 70.5px,#f00 129.5px)"></i><i style="left:94px;width:10px;background:linear-gradient(#1010ff 0.5px,#1e1eff 21.5px,#3e3eff 30.5px,#7272ff 36.5px,#b3b3ff 40.5px,#fdfdff 43.5px,#ffcbcb 47.5px,#ffa5a5 50.5px,#ff9c9c 55.5px,#ff6c6c 60.5px,#ff0808 68.5px,#f00 70.5px,#f00 129.5px)"></i><i style="left:104px;width:16px;background:linear-gradient(#1010ff 0.5px,#1e1eff 21.5px,#3e3eff 30.5px,#7272ff 36.5px,#b2b2ff 40.5px,#fcfcff 43.5px,#ffcbcb 47.5px,#ffa5a5 50.5px,#ff9c9c 55.5px,#ff6c6c 60.5px,#ff0808 68.5px,#f00 70.5px,#f00 129.5px)"></i><i style="left:120px;width:2px;background:linear-gradient(#1010ff 0.5px,#1f1fff 21.5px,#3e3eff 30.5px,#7373ff 36.5px,#b4b4ff 40.5px,#fff 43.5px,#ffa4a4 50.5px,#ff9c9c 55.5px,#ff6b6b 60.5px,#ff0808 68.5px,#f00 70.5px,#f00 129.5px)"></i><i style="left:122px;width:4px;background:linear-gradient(#1010ff 0.5px,#1f1fff 21.5px,#3f3fff 30.5px,#7474ff 36.5px,#b5b5ff 40.5px,#fffefe 43.5px,#ffacac 49.5px,#ffa3a3 52.5px,#ff9494 56.5px,#ff5050 62.5px,#ff0707 68.5px,#f00 71.5px,#f00 129.5px)"></i><i style="left:126px;width:8px;background:linear-gradient(#1010ff 0.5px,#1f1fff 21.5px,#3f3fff 30.5px,#7575ff 36.5px,#b7b7ff 40.5px,#fffbfb 43.5px,#ffc7c7 47.5px,#ffa4a4 50.5px,#ff9b9b 55.5px,#ff6969 60.5px,#ff0606 68.5px,#f00 72.5px,#f00 129.5px)"></i><i style="left:134px;width:2px;background:linear-gradient(#1010ff 0.5px,#1f1fff 21.5px,#4040ff 30.5px,#6a6aff 35.5px,#a5a5ff 39.5px,#fff9f9 43.5px,#ffc6c6 47.5px,#faa 49.5px,#ff9a9a 55.5px,#ff6868 60.5px,#ff0606 68.5px,#f00 75.5px,#f00 129.5px)"></i><i style="left:136px;width:6px;background:linear-gradient(#1010ff 0.5px,#1f1fff 21.5px,#4040ff 30.5px,#6b6bff 35.5px,#a6a6ff 39.5px,#eaeaff 42.5px,#fff7f7 43.5px,#ffd5d5 46.5px,#ffa9a9 49.5px,#ff9a9a 55.5px,#ff6767 60.5px,#ff0505 68.5px,#f00 93.5px,#f00 129.5px)"></i><i style="left:142px;width:4px;background:linear-gradient(#1010ff 0.5px,#1f1fff 21.5px,#4141ff 30.5px,#6b6bff 35.5px,#a7a7ff 39.5px,#ececff 42.5px,#fff4f4 43.5px,#ffd4d4 46.5px,#ffa9a9 49.5px,#f99 55.5px,#ff5959 61.5px,#ff0505 68.5px,#f00 129.5px)"></i><i style="left:146px;width:6px;background:linear-gradient(#1010ff 0.5px,#1f1fff 21.5px,#4141ff 30.5px,#6c6cff 35.5px,#a9a9ff 39.5px,#efefff 42.5px,#fff2f2 43.5px,#ffd3d3 46.5px,#ffa8a8 49.5px,#f99 55.5px,#ff5858 61.5px,#ff0404 68.5px,#f00 129.5px)"></i><i style="left:152px;width:4px;background:linear-gradient(#1010ff 0.5px,#2020ff 21.5px,#4242ff 30.5px,#6d6dff 35.5px,#aaf 39.5px,#f1f1ff 42.5px,#fff0f0 43.5px,#ffe0e0 45.5px,#ffa7a7 49.5px,#ff9898 55.5px,#ff5757 61.5px,#ff0303 68.5px,#f00 129.5px)"></i><i style="left:156px;width:4px;background:linear-gradient(#1010ff 0.5px,#2020ff 21.5px,#4242ff 30.5px,#6e6eff 35.5px,#ababff 39.5px,#f3f3ff 42.5px,#fff0f0 43.5px,#ffdfdf 45.5px,#ffa7a7 49.5px,#ff9898 55.5px,#ff5656 61.5px,#ff0303 68.5px,#f00 129.5px)"></i><i style="left:160px;width:6px;background:linear-gradient(#11f 0.5px,#2020ff 21.5px,#4343ff 30.5px,#6f6fff 35.5px,#adadff 39.5px,#f5f5ff 42.5px,#fff0f0 43.5px,#ffdede 45.5px,#ffa6a6 49.5px,#ff9d9d 54.5px,#ff6f6f 59.5px,#ff0b0b 67.5px,#f00 69.5px,#f00 129.5px)"></i><i style="left:166px;width:6px;background:linear-gradient(#11f 0.5px,#2020ff 21.5px,#4343ff 30.5px,#7070ff 35.5px,#afafff 39.5px,#f8f8ff 42.5px,#fdd 45.5px,#ffa6a6 49.5px,#ff9d9d 54.5px,#ff6e6e 59.5px,#ff0a0a 67.5px,#f00 69.5px,#f00 129.5px)"></i><i style="left:172px;width:4px;background:linear-gradient(#11f 0.5px,#2020ff 21.5px,#44f 30.5px,#7171ff 35.5px,#b0b0ff 39.5px,#fafaff 42.5px,#ffdcdc 45.5px,#ffa5a5 49.5px,#ff9c9c 54.5px,#ff6d6d 59.5px,#ff0909 67.5px,#f00 69.5px,#f00 129.5px)"></i><i style="left:176px;width:6px;background:linear-gradient(#11f 0.5px,#2020ff 21.5px,#44f 30.5px,#7272ff 35.5px,#b2b2ff 39.5px,#fcfcff 42.5px,#ffcbcb 46.5px,#ffa5a5 49.5px,#ff9c9c 54.5px,#ff6c6c 59.5px,#ff0909 67.5px,#f00 69.5px,#f00 129.5px)"></i><i style="left:182px;width:2px;background:linear-gradient(#11f 0.5px,#2121ff 21.5px,#4545ff 30.5px,#7373ff 35.5px,#b3b3ff 39.5px,#fefeff 42.5px,#ffa4a4 49.5px,#ff9c9c 54.5px,#ff6b6b 59.5px,#ff0808 67.5px,#f00 69.5px,#f00 129.5px)"></i><i style="left:184px;width:2px;background:linear-gradient(#11f 0.5px,#2121ff 21.5px,#4545ff 30.5px,#7373ff 35.5px,#b4b4ff 39.5px,#fff 42.5px,#ffacac 48.5px,#ffa3a3 51.5px,#ff9595 55.5px,#ff5151 61.5px,#ff0808 67.5px,#f00 69.5px,#f00 129.5px)"></i><i style="left:186px;width:4px;background:linear-gradient(#11f 0.5px,#2121ff 21.5px,#3f3fff 29.5px,#7474ff 35.5px,#b5b5ff 39.5px,#fffefe 42.5px,#ffacac 48.5px,#ffa3a3 51.5px,#ff9494 55.5px,#ff5050 61.5px,#ff0707 67.5px,#f00 70.5px,#f00 129.5px)"></i><i style="left:190px;width:10px;background:linear-gradient(#11f 0.5px,#2121ff 21.5px,#3f3fff 29.5px,#7575ff 35.5px,#b7b7ff 39.5px,#fffafa 42.5px,#ffc7c7 46.5px,#ffa4a4 49.5px,#ff9b9b 54.5px,#ff6969 59.5px,#ff0606 67.5px,#f00 71.5px,#f00 129.5px)"></i><i style="left:200px;width:6px;background:linear-gradient(#11f 0.5px,#1f1fff 20.5px,#4040ff 29.5px,#6b6bff 34.5px,#a6a6ff 38.5px,#eaeaff 41.5px,#fff6f6 42.5px,#ffd5d5 45.5px,#ffa9a9 48.5px,#ff9a9a 54.5px,#ff6767 59.5px,#ff0505 67.5px,#f00 107.5px,#f00 129.5px)"></i><i style="left:206px;width:4px;background:linear-gradient(#11f 0.5px,#1f1fff 20.5px,#4141ff 29.5px,#6c6cff 34.5px,#a7a7ff 38.5px,#ededff 41.5px,#fff4f4 42.5px,#ffd4d4 45.5px,#ffa9a9 48.5px,#f99 54.5px,#ff5959 60.5px,#ff0404 67.5px,#f00 129.5px)"></i><i style="left:210px;width:6px;background:linear-gradient(#11f 0.5px,#1f1fff 20.5px,#4141ff 29.5px,#6c6cff 34.5px,#a9a9ff 38.5px,#efefff 41.5px,#fff1f1 42.5px,#ffd2d2 45.5px,#ffa8a8 48.5px,#f99 54.5px,#ff5858 60.5px,#ff0404 67.5px,#f00 129.5px)"></i><i style="left:216px;width:4px;background:linear-gradient(#11f 0.5px,#2020ff 20.5px,#4242ff 29.5px,#6d6dff 34.5px,#aaf 38.5px,#f1f1ff 41.5px,#fff0f0 42.5px,#ffe0e0 44.5px,#ffa7a7 48.5px,#ff9898 54.5px,#ff5757 60.5px,#ff0303 67.5px,#f00 129.5px)"></i><i style="left:220px;width:4px;background:linear-gradient(#11f 0.5px,#2020ff 20.5px,#4242ff 29.5px,#6e6eff 34.5px,#acacff 38.5px,#f3f3ff 41.5px,#fff0f0 42.5px,#ffdfdf 44.5px,#ffa7a7 48.5px,#ff9898 54.5px,#ff5656 60.5px,#ff0303 67.5px,#f00 129.5px)"></i><i style="left:224px;width:6px;background:linear-gradient(#11f 0.5px,#2020ff 20.5px,#4343ff 29.5px,#6f6fff 34.5px,#adadff 38.5px,#f5f5ff 41.5px,#ffeaea 43.5px,#ffa6a6 48.5px,#ff9d9d 53.5px,#ff6f6f 58.5px,#ff0b0b 66.5px,#f00 68.5px,#f00 129.5px)"></i><i style="left:230px;width:6px;background:linear-gradient(#11f 0.5px,#2020ff 20.5px,#4343ff 29.5px,#7070ff 34.5px,#afafff 38.5px,#f8f8ff 41.5px,#fdd 44.5px,#ffa6a6 48.5px,#ff9d9d 53.5px,#ff6e6e 58.5px,#ff0a0a 66.5px,#f00 68.5px,#f00 129.5px)"></i><i style="left:236px;width:2px;background:linear-gradient(#11f 0.5px,#2020ff 20.5px,#44f 29.5px,#7171ff 34.5px,#b0b0ff 38.5px,#fafaff 41.5px,#ffdcdc 44.5px,#ffa5a5 48.5px,#ff9d9d 53.5px,#ff6d6d 58.5px,#ff0909 66.5px,#f00 68.5px,#f00 129.5px)"></i><i style="left:238px;width:2px;background:linear-gradient(#11f 0.5px,#2020ff 20.5px,#44f 29.5px,#7171ff 34.5px,#b1b1ff 38.5px,#fbfbff 41.5px,#ffdcdc 44.5px,#ffa5a5 48.5px,#ff9c9c 53.5px,#ff6d6d 58.5px,#ff0909 66.5px,#f00 68.5px,#f00 129.5px)"></i><i style="left:240px;width:6px;background:linear-gradient(#11f 0.5px,#2020ff 20.5px,#44f 29.5px,#7272ff 34.5px,#b2b2ff 38.5px,#fcfcff 41.5px,#ffcbcb 45.5px,#ffa5a5 48.5px,#ff9c9c 53.5px,#ff6c6c 58.5px,#ff0909 66.5px,#f00 68.5px,#f00 129.5px)"></i><i style="left:246px;width:2px;background:linear-gradient(#11f 0.5px,#2121ff 20.5px,#4545ff 29.5px,#7373ff 34.5px,#b4b4ff 38.5px,#fefeff 41.5px,#ffa4a4 48.5px,#ff9c9c 53.5px,#ff6b6b 58.5px,#ff0808 66.5px,#f00 68.5px,#f00 129.5px)"></i><i style="left:248px;width:2px;background:linear-gradient(#11f 0.5px,#2121ff 20.5px,#4545ff 29.5px,#7373ff 34.5px,#b4b4ff 38.5px,#fff 41.5px,#ffacac 47.5px,#ffa3a3 50.5px,#ff9595 54.5px,#ff5050 60.5px,#ff0808 66.5px,#f00 68.5px,#f00 129.5px)"></i><i style="left:250px;width:4px;background:linear-gradient(#11f 0.5px,#2121ff 20.5px,#3f3fff 28.5px,#7474ff 34.5px,#b5b5ff 38.5px,#fffdfd 41.5px,#ffacac 47.5px,#ffa3a3 50.5px,#ff9494 54.5px,#ff4242 61.5px,#ff0707 66.5px,#f00 69.5px,#f00 129.5px)"></i><i style="left:254px;width:10px;background:linear-gradient(#11f 0.5px,#2121ff 20.5px,#3f3fff 28.5px,#7575ff 34.5px,#b7b7ff 38.5px,#fffafa 41.5px,#ffc7c7 45.5px,#ffa4a4 48.5px,#ff9b9b 53.5px,#ff6969 58.5px,#ff0606 66.5px,#f00 71.5px,#f00 129.5px)"></i><i style="left:264px;width:6px;background:linear-gradient(#11f 0.5px,#2121ff 20.5px,#4040ff 28.5px,#6b6bff 33.5px,#a6a6ff 37.5px,#ebebff 40.5px,#fff6f6 41.5px,#ffd5d5 44.5px,#ffa9a9 47.5px,#ff9a9a 53.5px,#ff6767 58.5px,#ff0505 66.5px,#f00 129.5px)"></i><i style="left:270px;width:6px;background:linear-gradient(#11f 0.5px,#22f 20.5px,#4141ff 28.5px,#6c6cff 33.5px,#a8a8ff 37.5px,#ededff 40.5px,#fff3f3 41.5px,#ffd3d3 44.5px,#ffa8a8 47.5px,#f99 53.5px,#ff5959 59.5px,#ff0404 66.5px,#f00 129.5px)"></i><i style="left:276px;width:6px;background:linear-gradient(#11f 0.5px,#22f 20.5px,#4141ff 28.5px,#6d6dff 33.5px,#aaf 37.5px,#f0f0ff 40.5px,#fff0f0 41.5px,#ffe1e1 43.5px,#ffa8a8 47.5px,#ff9898 53.5px,#ff5757 59.5px,#ff0303 66.5px,#f00 129.5px)"></i><i style="left:282px;width:4px;background:linear-gradient(#11f 0.5px,#22f 20.5px,#4242ff 28.5px,#6e6eff 33.5px,#ababff 37.5px,#f2f2ff 40.5px,#fff0f0 41.5px,#ffe0e0 43.5px,#ffa7a7 47.5px,#ff9898 53.5px,#ff5656 59.5px,#ff0303 66.5px,#f00 129.5px)"></i><i style="left:286px;width:8px;background:linear-gradient(#11f 0.5px,#22f 20.5px,#4343ff 28.5px,#6f6fff 33.5px,#adadff 37.5px,#f5f5ff 40.5px,#fff0f0 41.5px,#ffdede 43.5px,#ffa6a6 47.5px,#ff9d9d 52.5px,#ff6f6f 57.5px,#ff0b0b 65.5px,#f00 67.5px,#f00 129.5px)"></i><i style="left:294px;width:16px;background:linear-gradient(#11f 0.5px,#2020ff 19.5px,#4343ff 28.5px,#7070ff 33.5px,#afafff 37.5px,#f8f8ff 40.5px,#fdd 43.5px,#ffa6a6 47.5px,#ff9d9d 52.5px,#ff6e6e 57.5px,#ff0a0a 65.5px,#f00 67.5px,#f00 129.5px)"></i><i style="left:310px;width:6px;background:linear-gradient(#11f 0.5px,#22f 20.5px,#4343ff 28.5px,#6f6fff 33.5px,#adadff 37.5px,#f5f5ff 40.5px,#ffeaea 42.5px,#ffa6a6 47.5px,#ff9d9d 52.5px,#ff6f6f 57.5px,#ff0b0b 65.5px,#f00 67.5px,#f00 129.5px)"></i><i style="left:316px;width:4px;background:linear-gradient(#11f 0.5px,#22f 20.5px,#4242ff 28.5px,#6f6fff 33.5px,#acacff 37.5px,#f4f4ff 40.5px,#fff0f0 41.5px,#ffdfdf 43.5px,#ffa7a7 47.5px,#ff9e9e 52.5px,#ff6f6f 57.5px,#ff0b0b 65.5px,#f00 67.5px,#f00 129.5px)"></i><i style="left:320px;width:4px;background:linear-gradient(#11f 0.5px,#22f 20.5px,#4242ff 28.5px,#6e6eff 33.5px,#acacff 37.5px,#f3f3ff 40.5px,#fff0f0 41.5px,#ffdfdf 43.5px,#ffa7a7 47.5px,#ff9898 53.5px,#ff5656 59.5px,#ff0303 66.5px,#f00 129.5px)"></i><i style="left:324px;width:4px;background:linear-gradient(#11f 0.5px,#22f 20.5px,#4242ff 28.5px,#6e6eff 33.5px,#ababff 37.5px,#f2f2ff 40.5px,#fff0f0 41.5px,#ffe0e0 43.5px,#ffa7a7 47.5px,#ff9898 53.5px,#ff5757 59.5px,#ff0303 66.5px,#f00 129.5px)"></i><i style="left:328px;width:2px;background:linear-gradient(#11f 0.5px,#22f 20.5px,#4242ff 28.5px,#6d6dff 33.5px,#aaf 37.5px,#f1f1ff 40.5px,#fff0f0 41.5px,#ffe0e0 43.5px,#ffa7a7 47.5px,#ff9898 53.5px,#ff5757 59.5px,#ff0303 66.5px,#f00 129.5px)"></i><i style="left:330px;width:2px;background:linear-gradient(#11f 0.5px,#22f 20.5px,#4141ff 28.5px,#6d6dff 33.5px,#aaf 37.5px,#f0f0ff 40.5px,#fff0f0 41.5px,#ffe1e1 43.5px,#ffa7a7 47.5px,#ff9898 53.5px,#ff5757 59.5px,#ff0303 66.5px,#f00 129.5px)"></i><i style="left:332px;width:2px;background:linear-gradient(#11f 0.5px,#22f 20.5px,#4141ff 28.5px,#6d6dff 33.5px,#aaf 37.5px,#f0f0ff 40.5px,#fff0f0 41.5px,#ffe1e1 43.5px,#ffa8a8 47.5px,#f99 53.5px,#ff5858 59.5px,#ff0303 66.5px,#f00 129.5px)"></i><i style="left:334px;width:2px;background:linear-gradient(#11f 0.5px,#22f 20.5px,#4141ff 28.5px,#6d6dff 33.5px,#a9a9ff 37.5px,#efefff 40.5px,#fff1f1 41.5px,#ffd2d2 44.5px,#ffa8a8 47.5px,#f99 53.5px,#ff5858 59.5px,#ff0404 66.5px,#f00 129.5px)"></i><i style="left:336px;width:2px;background:linear-gradient(#11f 0.5px,#22f 20.5px,#4141ff 28.5px,#6c6cff 33.5px,#a9a9ff 37.5px,#efefff 40.5px,#fff2f2 41.5px,#ffd3d3 44.5px,#ffa8a8 47.5px,#f99 53.5px,#ff5858 59.5px,#ff0404 66.5px,#f00 129.5px)"></i><i style="left:338px;width:2px;background:linear-gradient(#11f 0.5px,#22f 20.5px,#4141ff 28.5px,#6c6cff 33.5px,#a8a8ff 37.5px,#eef 40.5px,#fff2f2 41.5px,#ffd3d3 44.5px,#ffa8a8 47.5px,#f99 53.5px,#ff5858 59.5px,#ff0404 66.5px,#f00 129.5px)"></i><i style="left:340px;width:2px;background:linear-gradient(#11f 0.5px,#22f 20.5px,#4141ff 28.5px,#6c6cff 33.5px,#a8a8ff 37.5px,#eef 40.5px,#fff3f3 41.5px,#ffd3d3 44.5px,#ffa8a8 47.5px,#f99 53.5px,#ff5959 59.5px,#ff0404 66.5px,#f00 129.5px)"></i><i style="left:342px;width:2px;background:linear-gradient(#11f 0.5px,#2121ff 20.5px,#4141ff 28.5px,#6c6cff 33.5px,#a8a8ff 37.5px,#ededff 40.5px,#fff3f3 41.5px,#ffd3d3 44.5px,#ffa8a8 47.5px,#f99 53.5px,#ff5959 59.5px,#ff0404 66.5px,#f00 129.5px)"></i><i style="left:344px;width:2px;background:linear-gradient(#11f 0.5px,#2121ff 20.5px,#4141ff 28.5px,#6c6cff 33.5px,#a7a7ff 37.5px,#ececff 40.5px,#fff4f4 41.5px,#ffd4d4 44.5px,#ffa9a9 47.5px,#f99 53.5px,#ff5959 59.5px,#ff0404 66.5px,#f00 129.5px)"></i><i style="left:346px;width:10px;background:linear-gradient(#11f 0.5px,#2121ff 20.5px,#4040ff 28.5px,#6b6bff 33.5px,#a6a6ff 37.5px,#ebebff 40.5px,#fff6f6 41.5px,#ffd5d5 44.5px,#ffa9a9 47.5px,#ff9a9a 53.5px,#ff6767 58.5px,#ff0505 66.5px,#f00 129.5px)"></i><i style="left:356px;width:10px;background:linear-gradient(#11f 0.5px,#2121ff 20.5px,#4040ff 28.5px,#6a6aff 33.5px,#a4a4ff 37.5px,#fff9f9 41.5px,#ffc6c6 45.5px,#faa 47.5px,#ff9a9a 53.5px,#ff6868 58.5px,#ff0606 66.5px,#f00 73.5px,#f00 129.5px)"></i><i style="left:366px;width:2px;background:linear-gradient(#11f 0.5px,#2121ff 20.5px,#3f3fff 28.5px,#7575ff 34.5px,#b7b7ff 38.5px,#fffbfb 41.5px,#ffc7c7 45.5px,#ffa4a4 48.5px,#ff9b9b 53.5px,#ff6969 58.5px,#ff0606 66.5px,#f00 70.5px,#f00 129.5px)"></i><i style="left:368px;width:2px;background:linear-gradient(#11f 0.5px,#2121ff 20.5px,#3f3fff 28.5px,#7575ff 34.5px,#b7b7ff 38.5px,#fffbfb 41.5px,#ffc7c7 45.5px,#ffa4a4 48.5px,#ff9b9b 53.5px,#ff6969 58.5px,#ff0707 66.5px,#f00 70.5px,#f00 129.5px)"></i><i style="left:370px;width:2px;background:linear-gradient(#11f 0.5px,#2121ff 20.5px,#3f3fff 28.5px,#7575ff 34.5px,#b6b6ff 38.5px,#fffcfc 41.5px,#ffabab 47.5px,#ffa3a3 50.5px,#ff9494 54.5px,#ff4242 61.5px,#ff0707 66.5px,#f00 69.5px,#f00 129.5px)"></i><i style="left:372px;width:2px;background:linear-gradient(#11f 0.5px,#2121ff 20.5px,#3f3fff 28.5px,#7474ff 34.5px,#b6b6ff 38.5px,#fffcfc 41.5px,#ffabab 47.5px,#ffa3a3 50.5px,#ff9494 54.5px,#ff4242 61.5px,#ff0707 66.5px,#f00 69.5px,#f00 129.5px)"></i><i style="left:374px;width:2px;background:linear-gradient(#11f 0.5px,#2121ff 20.5px,#3f3fff 28.5px,#7474ff 34.5px,#b6b6ff 38.5px,#fffdfd 41.5px,#ffabab 47.5px,#ffa3a3 50.5px,#ff9494 54.5px,#ff4242 61.5px,#ff0707 66.5px,#f00 69.5px,#f00 129.5px)"></i><i style="left:376px;width:2px;background:linear-gradient(#11f 0.5px,#2121ff 20.5px,#3f3fff 28.5px,#7474ff 34.5px,#b5b5ff 38.5px,#fffdfd 41.5px,#ffacac 47.5px,#ffa3a3 50.5px,#ff9494 54.5px,#ff4242 61.5px,#ff0707 66.5px,#f00 69.5px,#f00 129.5px)"></i><i style="left:378px;width:2px;background:linear-gradient(#11f 0.5px,#2121ff 20.5px,#3f3fff 28.5px,#7474ff 34.5px,#b5b5ff 38.5px,#fffefe 41.5px,#ffacac 47.5px,#ffa3a3 50.5px,#ff9494 54.5px,#ff5050 60.5px,#ff0707 66.5px,#f00 69.5px,#f00 129.5px)"></i><i style="left:380px;width:2px;background:linear-gradient(#11f 0.5px,#2121ff 20.5px,#4545ff 29.5px,#7373ff 34.5px,#b4b4ff 38.5px,#fff 41.5px,#ffacac 47.5px,#ffa3a3 50.5px,#ff9595 54.5px,#ff5050 60.5px,#ff0808 66.5px,#f00 68.5px,#f00 129.5px)"></i><i style="left:382px;width:2px;background:linear-gradient(#11f 0.5px,#2121ff 20.5px,#4545ff 29.5px,#7373ff 34.5px,#b4b4ff 38.5px,#fff 41.5px,#ffacac 47.5px,#ffa3a3 50.5px,#ff9595 54.5px,#ff5151 60.5px,#ff0808 66.5px,#f00 68.5px,#f00 129.5px)"></i><i style="left:384px;width:2px;background:linear-gradient(#11f 0.5px,#2121ff 20.5px,#4545ff 29.5px,#7373ff 34.5px,#b4b4ff 38.5px,#fefeff 41.5px,#ffa4a4 48.5px,#ff9c9c 53.5px,#ff6b6b 58.5px,#ff0808 66.5px,#f00 68.5px,#f00 129.5px)"></i><i style="left:386px;width:2px;background:linear-gradient(#11f 0.5px,#2121ff 20.5px,#44f 29.5px,#7373ff 34.5px,#b3b3ff 38.5px,#fefeff 41.5px,#ffa4a4 48.5px,#ff9c9c 53.5px,#ff6b6b 58.5px,#ff0808 66.5px,#f00 68.5px,#f00 129.5px)"></i><i style="left:388px;width:2px;background:linear-gradient(#11f 0.5px,#2121ff 20.5px,#44f 29.5px,#7272ff 34.5px,#b3b3ff 38.5px,#fdfdff 41.5px,#ffcaca 45.5px,#ffa5a5 48.5px,#ff9c9c 53.5px,#ff6b6b 58.5px,#ff0808 66.5px,#f00 68.5px,#f00 129.5px)"></i><i style="left:390px;width:2px;background:linear-gradient(#11f 0.5px,#2020ff 20.5px,#44f 29.5px,#7272ff 34.5px,#b2b2ff 38.5px,#fdfdff 41.5px,#ffcbcb 45.5px,#ffa5a5 48.5px,#ff9c9c 53.5px,#ff6c6c 58.5px,#ff0808 66.5px,#f00 68.5px,#f00 129.5px)"></i><i style="left:392px;width:2px;background:linear-gradient(#11f 0.5px,#2020ff 20.5px,#44f 29.5px,#7272ff 34.5px,#b2b2ff 38.5px,#fcfcff 41.5px,#ffcbcb 45.5px,#ffa5a5 48.5px,#ff9c9c 53.5px,#ff6c6c 58.5px,#ff0909 66.5px,#f00 68.5px,#f00 129.5px)"></i><i style="left:394px;width:4px;background:linear-gradient(#11f 0.5px,#2020ff 20.5px,#44f 29.5px,#7272ff 34.5px,#b1b1ff 38.5px,#fbfbff 41.5px,#ffcbcb 45.5px,#ffa5a5 48.5px,#ff9c9c 53.5px,#ff6c6c 58.5px,#ff0909 66.5px,#f00 68.5px,#f00 129.5px)"></i><i style="left:398px;width:4px;background:linear-gradient(#11f 0.5px,#2020ff 20.5px,#44f 29.5px,#7171ff 34.5px,#b1b1ff 38.5px,#fafaff 41.5px,#ffdcdc 44.5px,#ffa5a5 48.5px,#ff9c9c 53.5px,#ff6d6d 58.5px,#ff0909 66.5px,#f00 68.5px,#f00 129.5px)"></i><i style="left:402px;width:4px;background:linear-gradient(#11f 0.5px,#2020ff 20.5px,#4343ff 29.5px,#7171ff 34.5px,#b0b0ff 38.5px,#f9f9ff 41.5px,#ffdcdc 44.5px,#ffa5a5 48.5px,#ff9d9d 53.5px,#ff6d6d 58.5px,#ff0a0a 66.5px,#f00 68.5px,#f00 129.5px)"></i><i style="left:406px;width:6px;background:linear-gradient(#11f 0.5px,#2020ff 20.5px,#4343ff 29.5px,#7070ff 34.5px,#afafff 38.5px,#f8f8ff 41.5px,#fdd 44.5px,#ffa6a6 48.5px,#ff9d9d 53.5px,#ff6e6e 58.5px,#ff0a0a 66.5px,#f00 68.5px,#f00 129.5px)"></i><i style="left:412px;width:6px;background:linear-gradient(#11f 0.5px,#2020ff 20.5px,#4343ff 29.5px,#6f6fff 34.5px,#aeaeff 38.5px,#f6f6ff 41.5px,#ffeaea 43.5px,#ffa6a6 48.5px,#ff9d9d 53.5px,#ff6f6f 58.5px,#ff0b0b 66.5px,#f00 68.5px,#f00 129.5px)"></i><i style="left:418px;width:6px;background:linear-gradient(#11f 0.5px,#2020ff 20.5px,#4242ff 29.5px,#6f6fff 34.5px,#adadff 38.5px,#f4f4ff 41.5px,#fff0f0 42.5px,#ffdfdf 44.5px,#ffa6a6 48.5px,#ff9e9e 53.5px,#ff6f6f 58.5px,#ff0b0b 66.5px,#f00 68.5px,#f00 129.5px)"></i></div>
<div class="hm" style="left:575px;top:150px;width:424px;height:131px"><i style="left:0px;width:8px;background:#00f"></i><i style="left:8px;width:2px;background:linear-gradient(#1717ff 0.5px,#2929ff 40.5px,#5151ff 57.5px,#8989ff 68.5px,#d8d8ff 77.5px,#f9f6fc 80.5px,#ffeaea 83.5px,#ffbdbd 87.5px,#ff1d1d 96.5px,#f00 99.5px,#f00 130.5px)"></i><i style="left:10px;width:2px;background:linear-gradient(#1818ff 0.5px,#2a2aff 38.5px,#5454ff 55.5px,#8e8eff 66.5px,#d5d5ff 74.5px,#f8f7fe 77.5px,#ffe5e5 81.5px,#ffb1b1 85.5px,#ff1313 94.5px,#ff0101 96.5px,#f00 130.5px)"></i><i style="left:12px;width:2px;background:linear-gradient(#1818ff 0.5px,#2b2bff 36.5px,#5252ff 52.5px,#8a8aff 63.5px,#dadaff 72.5px,#fbf7fb 75.5px,#ffe1e1 79.5px,#ffabab 83.5px,#ff1b1b 91.5px,#f00 94.5px,#f00 130.5px)"></i><i style="left:14px;width:2px;background:linear-gradient(#1919ff 0.5px,#2b2bff 34.5px,#5252ff 50.5px,#8b8bff 61.5px,#dbdbff 70.5px,#fcf9fb 73.5px,#ffe0e0 77.5px,#ffa8a8 81.5px,#ff1919 89.5px,#ff0303 91.5px,#f00 130.5px)"></i><i style="left:16px;width:2px;background:linear-gradient(#1a1aff 0.5px,#2a2aff 31.5px,#5454ff 48.5px,#8e8eff 59.5px,#d5d5ff 67.5px,#f6f2fb 70.5px,#fff2f2 72.5px,#ffcfcf 76.5px,#ff6868 82.5px,#ff1414 87.5px,#f00 90.5px,#f00 130.5px)"></i><i style="left:18px;width:2px;background:linear-gradient(#1b1bff 0.5px,#2b2bff 27.5px,#5353ff 43.5px,#8c8cff 54.5px,#d2d2ff 62.5px,#f2effc 65.5px,#fff6f6 67.5px,#ffc6c6 72.5px,#ff1919 82.5px,#ff0101 85.5px,#f00 130.5px)"></i><i style="left:20px;width:2px;background:linear-gradient(#1e1eff 0.5px,#3131ff 22.5px,#5e5eff 37.5px,#9898ff 47.5px,#d9d9ff 54.5px,#fce4e7 60.5px,#faa 65.5px,#ff2a2a 73.5px,#ff0303 78.5px,#f00 130.5px)"></i><i style="left:22px;width:2px;background:linear-gradient(#22f 0.5px,#4343ff 19.5px,#7575ff 31.5px,#b8b8ff 40.5px,#e2e2ff 44.5px,#fcf1f4 48.5px,#ffcece 53.5px,#ff6e6e 60.5px,#ff0d0d 67.5px,#f00 70.5px,#f00 130.5px)"></i><i style="left:24px;width:2px;background:linear-gradient(#2727ff 0.5px,#4c4cff 17.5px,#8181ff 28.5px,#c3c3ff 36.5px,#fefcfd 41.5px,#ffefef 43.5px,#ffd2d2 48.5px,#ff7b7b 56.5px,#f11 65.5px,#f00 68.5px,#f00 130.5px)"></i><i style="left:26px;width:2px;background:linear-gradient(#2626ff 0.5px,#4b4bff 17.5px,#8080ff 28.5px,#c5c5ff 36.5px,#f8f8ff 40.5px,#ffeded 43.5px,#fbb 50.5px,#ff1010 65.5px,#f00 67.5px,#f00 130.5px)"></i><i style="left:28px;width:2px;background:linear-gradient(#2424ff 0.5px,#4545ff 17.5px,#77f 28.5px,#babaff 36.5px,#fdfcfe 41.5px,#fff1f1 42.5px,#ffd4d4 47.5px,#ff8989 55.5px,#ff1212 65.5px,#f00 68.5px,#f00 130.5px)"></i><i style="left:30px;width:2px;background:linear-gradient(#2424ff 0.5px,#3c3cff 16.5px,#6c6cff 28.5px,#acacff 36.5px,#fdfbfc 42.5px,#fff0f0 43.5px,#ffd7d7 47.5px,#ff8f8f 55.5px,#ff0c0c 66.5px,#f00 69.5px,#f00 130.5px)"></i><i style="left:32px;width:2px;background:linear-gradient(#2323ff 0.5px,#3535ff 16.5px,#6060ff 28.5px,#9c9cff 36.5px,#ddf 41.5px,#fdfafc 43.5px,#ffecec 45.5px,#ff8c8c 56.5px,#ff0909 67.5px,#f00 70.5px,#f00 130.5px)"></i><i style="left:34px;width:2px;background:linear-gradient(#22f 0.5px,#3232ff 18.5px,#5959ff 29.5px,#8b8bff 36.5px,#cacaff 41.5px,#fdfafc 44.5px,#ffacac 53.5px,#ff7272 59.5px,#ff0707 68.5px,#f00 72.5px,#f00 130.5px)"></i><i style="left:36px;width:2px;background:linear-gradient(#2121ff 0.5px,#3232ff 21.5px,#5858ff 31.5px,#9292ff 38.5px,#dcdcff 43.5px,#f0f0ff 44.5px,#fff8f8 45.5px,#ffb2b2 52.5px,#ff9191 57.5px,#ff0606 69.5px,#f00 78.5px,#f00 130.5px)"></i><i style="left:38px;width:2px;background:linear-gradient(#2020ff 0.5px,#33f 24.5px,#5b5bff 33.5px,#9292ff 39.5px,#cfcfff 43.5px,#fafaff 45.5px,#fff0f0 46.5px,#ffd6d6 49.5px,#ffb2b2 52.5px,#ff8e8e 58.5px,#ff0c0c 69.5px,#f00 72.5px,#f00 130.5px)"></i><i style="left:40px;width:2px;background:linear-gradient(#1f1fff 0.5px,#3232ff 26.5px,#5757ff 34.5px,#9292ff 40.5px,#d7d7ff 44.5px,#eef 45.5px,#fff7f7 46.5px,#fcc 50.5px,#ffabab 53.5px,#ff9494 58.5px,#ff0909 70.5px,#f00 73.5px,#f00 130.5px)"></i><i style="left:42px;width:2px;background:linear-gradient(#1e1eff 0.5px,#3131ff 28.5px,#5d5dff 36.5px,#9595ff 41.5px,#e0e0ff 45.5px,#fafaff 46.5px,#ffefef 47.5px,#ffd1d1 50.5px,#ffabab 53.5px,#f99 58.5px,#ff5959 64.5px,#ff0606 71.5px,#f00 75.5px,#f00 130.5px)"></i><i style="left:44px;width:2px;background:linear-gradient(#1d1dff 0.5px,#2f2fff 29.5px,#5454ff 36.5px,#8a8aff 41.5px,#d5d5ff 45.5px,#ededff 46.5px,#fff4f4 47.5px,#ffd6d6 50.5px,#ffabab 53.5px,#ff9797 59.5px,#f55 65.5px,#ff0303 72.5px,#f00 130.5px)"></i><i style="left:46px;width:2px;background:linear-gradient(#1c1cff 0.5px,#2f2fff 30.5px,#5858ff 37.5px,#9494ff 42.5px,#cfcfff 45.5px,#fffafa 47.5px,#ffc7c7 51.5px,#ffa5a5 54.5px,#f99 59.5px,#ff5a5a 65.5px,#ff0606 72.5px,#f00 82.5px,#f00 130.5px)"></i><i style="left:48px;width:2px;background:linear-gradient(#1b1bff 0.5px,#2c2cff 30.5px,#55f 37.5px,#9090ff 42.5px,#cbcbff 45.5px,#fffefe 47.5px,#ffacac 53.5px,#ffa3a3 56.5px,#ff9494 60.5px,#ff4242 67.5px,#f00 73.5px,#f00 130.5px)"></i><i style="left:50px;width:2px;background:linear-gradient(#1a1aff 0.5px,#2c2cff 30.5px,#5353ff 37.5px,#8e8eff 42.5px,#c8c8ff 45.5px,#fcfcff 47.5px,#ffcbcb 51.5px,#ffa5a5 54.5px,#ff9c9c 59.5px,#ff6c6c 64.5px,#ff0909 72.5px,#f00 74.5px,#f00 130.5px)"></i><i style="left:52px;width:2px;background:linear-gradient(#1a1aff 0.5px,#2828ff 29.5px,#4a4aff 36.5px,#7d7dff 41.5px,#c5c5ff 45.5px,#f8f8ff 47.5px,#fdd 50.5px,#ffa5a5 54.5px,#ff9d9d 59.5px,#ff6d6d 64.5px,#ff0a0a 72.5px,#f00 74.5px,#f00 130.5px)"></i><i style="left:54px;width:2px;background:linear-gradient(#1919ff 0.5px,#2727ff 29.5px,#4949ff 36.5px,#7c7cff 41.5px,#c2c2ff 45.5px,#f5f5ff 47.5px,#fff0f0 48.5px,#ffdede 50.5px,#ffa6a6 54.5px,#ff9d9d 59.5px,#ff6f6f 64.5px,#ff0b0b 72.5px,#f00 74.5px,#f00 130.5px)"></i><i style="left:56px;width:2px;background:linear-gradient(#1818ff 0.5px,#2424ff 28.5px,#4848ff 36.5px,#7a7aff 41.5px,#bfbfff 45.5px,#f1f1ff 47.5px,#fff0f0 48.5px,#ffe0e0 50.5px,#ffa7a7 54.5px,#ff9898 60.5px,#ff5757 66.5px,#ff0303 73.5px,#f00 130.5px)"></i><i style="left:58px;width:2px;background:linear-gradient(#1717ff 0.5px,#22f 27.5px,#4141ff 35.5px,#6c6cff 40.5px,#a8a8ff 44.5px,#ededff 47.5px,#fff3f3 48.5px,#ffd3d3 51.5px,#ffa8a8 54.5px,#f99 60.5px,#ff5959 66.5px,#ff0404 73.5px,#f00 130.5px)"></i><i style="left:60px;width:2px;background:linear-gradient(#1616ff 0.5px,#2121ff 27.5px,#4040ff 35.5px,#6a6aff 40.5px,#a5a5ff 44.5px,#eaeaff 47.5px,#fff7f7 48.5px,#ffd5d5 51.5px,#faa 54.5px,#ff9a9a 60.5px,#ff6767 65.5px,#ff0505 73.5px,#f00 87.5px,#f00 130.5px)"></i><i style="left:62px;width:2px;background:linear-gradient(#1515ff 0.5px,#1f1fff 26.5px,#3f3fff 35.5px,#7575ff 41.5px,#b7b7ff 45.5px,#fffbfb 48.5px,#ffc7c7 52.5px,#ffa4a4 55.5px,#ff9b9b 60.5px,#ff6969 65.5px,#ff0707 73.5px,#f00 77.5px,#f00 130.5px)"></i><i style="left:64px;width:4px;background:linear-gradient(#1414ff 0.5px,#1d1dff 25.5px,#3939ff 34.5px,#6767ff 40.5px,#a1a1ff 44.5px,#e3e3ff 47.5px,#fff 48.5px,#ffacac 54.5px,#ffa3a3 57.5px,#ff9595 61.5px,#ff5151 67.5px,#ff0808 73.5px,#f00 75.5px,#f00 130.5px)"></i><i style="left:68px;width:54px;background:linear-gradient(#1010ff 0.5px,#1d1dff 25.5px,#3939ff 34.5px,#6767ff 40.5px,#a0a0ff 44.5px,#e1e1ff 47.5px,#fdfdff 48.5px,#ffcaca 52.5px,#ffa5a5 55.5px,#ff9c9c 60.5px,#ff6b6b 65.5px,#ff0808 73.5px,#f00 75.5px,#f00 130.5px)"></i><i style="left:122px;width:4px;background:linear-gradient(#1010ff 0.5px,#1d1dff 25.5px,#3939ff 34.5px,#6868ff 40.5px,#a1a1ff 44.5px,#e3e3ff 47.5px,#fffefe 48.5px,#ffacac 54.5px,#ffa3a3 57.5px,#ff9595 61.5px,#ff5050 67.5px,#ff0808 73.5px,#f00 75.5px,#f00 130.5px)"></i><i style="left:126px;width:8px;background:linear-gradient(#1010ff 0.5px,#1d1dff 25.5px,#3939ff 34.5px,#6969ff 40.5px,#a2a2ff 44.5px,#fffcfc 48.5px,#ffabab 54.5px,#ffa3a3 57.5px,#ff9494 61.5px,#ff4242 68.5px,#ff0707 73.5px,#f00 76.5px,#f00 130.5px)"></i><i style="left:134px;width:2px;background:linear-gradient(#1010ff 0.5px,#1d1dff 25.5px,#3a3aff 34.5px,#6969ff 40.5px,#a4a4ff 44.5px,#fffafa 48.5px,#ffc7c7 52.5px,#ffa4a4 55.5px,#ff9a9a 60.5px,#ff6969 65.5px,#ff0606 73.5px,#f00 78.5px,#f00 130.5px)"></i><i style="left:136px;width:2px;background:linear-gradient(#1010ff 0.5px,#1d1dff 25.5px,#3a3aff 34.5px,#6a6aff 40.5px,#a4a4ff 44.5px,#fff9f9 48.5px,#ffc6c6 52.5px,#ffa4a4 55.5px,#ff9a9a 60.5px,#ff6868 65.5px,#ff0606 73.5px,#f00 79.5px,#f00 130.5px)"></i><i style="left:138px;width:6px;background:linear-gradient(#1010ff 0.5px,#1d1dff 25.5px,#3a3aff 34.5px,#6a6aff 40.5px,#a5a5ff 44.5px,#eaeaff 47.5px,#fff7f7 48.5px,#ffd6d6 51.5px,#faa 54.5px,#ff9a9a 60.5px,#ff6868 65.5px,#ff0505 73.5px,#f00 85.5px,#f00 130.5px)"></i><i style="left:144px;width:6px;background:linear-gradient(#1010ff 0.5px,#1d1dff 25.5px,#3b3bff 34.5px,#6b6bff 40.5px,#a7a7ff 44.5px,#ececff 47.5px,#fff5f5 48.5px,#ffd4d4 51.5px,#ffa9a9 54.5px,#f99 60.5px,#f66 65.5px,#ff0505 73.5px,#f00 130.5px)"></i><i style="left:150px;width:6px;background:linear-gradient(#1010ff 0.5px,#1e1eff 25.5px,#3b3bff 34.5px,#6c6cff 40.5px,#a8a8ff 44.5px,#eef 47.5px,#fff2f2 48.5px,#ffd3d3 51.5px,#ffa8a8 54.5px,#f99 60.5px,#ff5858 66.5px,#ff0404 73.5px,#f00 130.5px)"></i><i style="left:156px;width:6px;background:linear-gradient(#1010ff 0.5px,#1e1eff 25.5px,#3c3cff 34.5px,#6d6dff 40.5px,#aaf 44.5px,#f0f0ff 47.5px,#fff0f0 48.5px,#ffe1e1 50.5px,#ffa7a7 54.5px,#ff9898 60.5px,#ff5757 66.5px,#ff0303 73.5px,#f00 130.5px)"></i><i style="left:162px;width:4px;background:linear-gradient(#1010ff 0.5px,#1e1eff 25.5px,#3c3cff 34.5px,#6e6eff 40.5px,#ababff 44.5px,#f2f2ff 47.5px,#fff0f0 48.5px,#ffe0e0 50.5px,#ffa7a7 54.5px,#ff9898 60.5px,#ff5656 66.5px,#ff0303 73.5px,#f00 130.5px)"></i><i style="left:166px;width:8px;background:linear-gradient(#1010ff 0.5px,#1e1eff 25.5px,#3c3cff 34.5px,#6f6fff 40.5px,#adadff 44.5px,#f5f5ff 47.5px,#fff0f0 48.5px,#ffdfdf 50.5px,#ffa6a6 54.5px,#ff9d9d 59.5px,#ff6f6f 64.5px,#ff0b0b 72.5px,#f00 74.5px,#f00 130.5px)"></i><i style="left:174px;width:8px;background:linear-gradient(#1010ff 0.5px,#1e1eff 25.5px,#3d3dff 34.5px,#7070ff 40.5px,#afafff 44.5px,#f8f8ff 47.5px,#fdd 50.5px,#ffa6a6 54.5px,#ff9d9d 59.5px,#ff6e6e 64.5px,#ff0a0a 72.5px,#f00 74.5px,#f00 130.5px)"></i><i style="left:182px;width:4px;background:linear-gradient(#1010ff 0.5px,#1e1eff 25.5px,#3e3eff 34.5px,#7171ff 40.5px,#b1b1ff 44.5px,#fafaff 47.5px,#ffdcdc 50.5px,#ffa5a5 54.5px,#ff9c9c 59.5px,#ff6d6d 64.5px,#ff0909 72.5px,#f00 74.5px,#f00 130.5px)"></i><i style="left:186px;width:6px;background:linear-gradient(#1010ff 0.5px,#1d1dff 24.5px,#3838ff 33.5px,#66f 39.5px,#9f9fff 43.5px,#e0e0ff 46.5px,#fcfcff 47.5px,#ffcbcb 51.5px,#ffa5a5 54.5px,#ff9c9c 59.5px,#ff6c6c 64.5px,#ff0909 72.5px,#f00 74.5px,#f00 130.5px)"></i><i style="left:192px;width:2px;background:linear-gradient(#1010ff 0.5px,#1d1dff 24.5px,#3939ff 33.5px,#6767ff 39.5px,#a0a0ff 43.5px,#e2e2ff 46.5px,#fefeff 47.5px,#ffa4a4 54.5px,#ff9c9c 59.5px,#ff6b6b 64.5px,#ff0808 72.5px,#f00 74.5px,#f00 130.5px)"></i><i style="left:194px;width:2px;background:linear-gradient(#1010ff 0.5px,#1d1dff 24.5px,#3939ff 33.5px,#6767ff 39.5px,#a0a0ff 43.5px,#e2e2ff 46.5px,#fefeff 47.5px,#ffa4a4 54.5px,#ff9c9c 59.5px,#ff6b6b 64.5px,#ff0808 72.5px,#f00 74.5px,#f00 130.5px)"></i><i style="left:196px;width:4px;background:linear-gradient(#1010ff 0.5px,#1d1dff 24.5px,#3939ff 33.5px,#6868ff 39.5px,#a1a1ff 43.5px,#e3e3ff 46.5px,#fffefe 47.5px,#ffacac 53.5px,#ffa3a3 56.5px,#ff9494 60.5px,#ff5050 66.5px,#ff0707 72.5px,#f00 75.5px,#f00 130.5px)"></i><i style="left:200px;width:8px;background:linear-gradient(#1010ff 0.5px,#1d1dff 24.5px,#3a3aff 33.5px,#6969ff 39.5px,#a3a3ff 43.5px,#fffcfc 47.5px,#ffabab 53.5px,#ffa3a3 56.5px,#ff9494 60.5px,#ff4242 67.5px,#ff0707 72.5px,#f00 75.5px,#f00 130.5px)"></i><i style="left:208px;width:2px;background:linear-gradient(#1010ff 0.5px,#1d1dff 24.5px,#3a3aff 33.5px,#6969ff 39.5px,#a4a4ff 43.5px,#fffafa 47.5px,#ffc7c7 51.5px,#ffa4a4 54.5px,#ff9a9a 59.5px,#ff6868 64.5px,#ff0606 72.5px,#f00 77.5px,#f00 130.5px)"></i><i style="left:210px;width:2px;background:linear-gradient(#1010ff 0.5px,#1d1dff 24.5px,#3a3aff 33.5px,#6a6aff 39.5px,#a4a4ff 43.5px,#fff9f9 47.5px,#ffc6c6 51.5px,#faa 53.5px,#ff9a9a 59.5px,#ff6868 64.5px,#ff0606 72.5px,#f00 78.5px,#f00 130.5px)"></i><i style="left:212px;width:6px;background:linear-gradient(#1010ff 0.5px,#1d1dff 24.5px,#3a3aff 33.5px,#6a6aff 39.5px,#a5a5ff 43.5px,#eaeaff 46.5px,#fff7f7 47.5px,#ffd5d5 50.5px,#faa 53.5px,#ff9a9a 59.5px,#ff6767 64.5px,#ff0505 72.5px,#f00 86.5px,#f00 130.5px)"></i><i style="left:218px;width:6px;background:linear-gradient(#1010ff 0.5px,#1d1dff 24.5px,#3b3bff 33.5px,#6b6bff 39.5px,#a7a7ff 43.5px,#ececff 46.5px,#fff5f5 47.5px,#ffd4d4 50.5px,#ffa9a9 53.5px,#f99 59.5px,#f66 64.5px,#ff0505 72.5px,#f00 130.5px)"></i><i style="left:224px;width:6px;background:linear-gradient(#1010ff 0.5px,#1e1eff 24.5px,#3b3bff 33.5px,#6c6cff 39.5px,#a8a8ff 43.5px,#eef 46.5px,#fff2f2 47.5px,#ffd3d3 50.5px,#ffa8a8 53.5px,#f99 59.5px,#ff5858 65.5px,#ff0404 72.5px,#f00 130.5px)"></i><i style="left:230px;width:6px;background:linear-gradient(#1010ff 0.5px,#1e1eff 24.5px,#3c3cff 33.5px,#6d6dff 39.5px,#aaf 43.5px,#f0f0ff 46.5px,#fff0f0 47.5px,#ffe0e0 49.5px,#ffa7a7 53.5px,#ff9898 59.5px,#ff5757 65.5px,#ff0303 72.5px,#f00 130.5px)"></i><i style="left:236px;width:4px;background:linear-gradient(#1010ff 0.5px,#1e1eff 24.5px,#3c3cff 33.5px,#6e6eff 39.5px,#ababff 43.5px,#f2f2ff 46.5px,#fff0f0 47.5px,#ffe0e0 49.5px,#ffa7a7 53.5px,#ff9898 59.5px,#ff5656 65.5px,#ff0303 72.5px,#f00 130.5px)"></i><i style="left:240px;width:8px;background:linear-gradient(#1010ff 0.5px,#1e1eff 24.5px,#3c3cff 33.5px,#6f6fff 39.5px,#adadff 43.5px,#f5f5ff 46.5px,#fff0f0 47.5px,#ffdede 49.5px,#ffa6a6 53.5px,#ff9d9d 58.5px,#ff6f6f 63.5px,#ff0b0b 71.5px,#f00 73.5px,#f00 130.5px)"></i><i style="left:248px;width:8px;background:linear-gradient(#1010ff 0.5px,#1e1eff 24.5px,#3d3dff 33.5px,#7070ff 39.5px,#afafff 43.5px,#f8f8ff 46.5px,#fdd 49.5px,#ffa6a6 53.5px,#ff9d9d 58.5px,#ff6e6e 63.5px,#ff0a0a 71.5px,#f00 73.5px,#f00 130.5px)"></i><i style="left:256px;width:4px;background:linear-gradient(#1010ff 0.5px,#1e1eff 24.5px,#3e3eff 33.5px,#7171ff 39.5px,#b1b1ff 43.5px,#fafaff 46.5px,#ffdcdc 49.5px,#ffa5a5 53.5px,#ff9c9c 58.5px,#ff6d6d 63.5px,#ff0909 71.5px,#f00 73.5px,#f00 130.5px)"></i><i style="left:260px;width:6px;background:linear-gradient(#1010ff 0.5px,#1e1eff 24.5px,#3e3eff 33.5px,#7272ff 39.5px,#b2b2ff 43.5px,#fcfcff 46.5px,#ffcbcb 50.5px,#ffa5a5 53.5px,#ff9c9c 58.5px,#ff6c6c 63.5px,#ff0909 71.5px,#f00 73.5px,#f00 130.5px)"></i><i style="left:266px;width:2px;background:linear-gradient(#1010ff 0.5px,#1f1fff 24.5px,#3e3eff 33.5px,#7373ff 39.5px,#b3b3ff 43.5px,#fefeff 46.5px,#ffa4a4 53.5px,#ff9c9c 58.5px,#ff6b6b 63.5px,#ff0808 71.5px,#f00 73.5px,#f00 130.5px)"></i><i style="left:268px;width:2px;background:linear-gradient(#1010ff 0.5px,#1f1fff 24.5px,#3e3eff 33.5px,#7373ff 39.5px,#b4b4ff 43.5px,#fff 46.5px,#ffa4a4 53.5px,#ff9c9c 58.5px,#ff6b6b 63.5px,#ff0808 71.5px,#f00 73.5px,#f00 130.5px)"></i><i style="left:270px;width:4px;background:linear-gradient(#1010ff 0.5px,#1f1fff 24.5px,#3f3fff 33.5px,#7474ff 39.5px,#b5b5ff 43.5px,#fffefe 46.5px,#ffacac 52.5px,#ffa3a3 55.5px,#ff9494 59.5px,#ff5050 65.5px,#ff0707 71.5px,#f00 74.5px,#f00 130.5px)"></i><i style="left:274px;width:8px;background:linear-gradient(#1010ff 0.5px,#1f1fff 24.5px,#3f3fff 33.5px,#7575ff 39.5px,#b6b6ff 43.5px,#fffcfc 46.5px,#ffabab 52.5px,#ffa3a3 55.5px,#ff9494 59.5px,#ff4242 66.5px,#ff0707 71.5px,#f00 74.5px,#f00 130.5px)"></i><i style="left:282px;width:2px;background:linear-gradient(#1010ff 0.5px,#1f1fff 24.5px,#4040ff 33.5px,#7575ff 39.5px,#b8b8ff 43.5px,#fffafa 46.5px,#ffc6c6 50.5px,#ffa4a4 53.5px,#ff9a9a 58.5px,#ff6868 63.5px,#ff0606 71.5px,#f00 76.5px,#f00 130.5px)"></i><i style="left:284px;width:2px;background:linear-gradient(#1010ff 0.5px,#1d1dff 23.5px,#3a3aff 32.5px,#6a6aff 38.5px,#a4a4ff 42.5px,#fff9f9 46.5px,#ffc6c6 50.5px,#faa 52.5px,#ff9a9a 58.5px,#ff6868 63.5px,#ff0606 71.5px,#f00 78.5px,#f00 130.5px)"></i><i style="left:286px;width:6px;background:linear-gradient(#1010ff 0.5px,#1d1dff 23.5px,#3a3aff 32.5px,#6a6aff 38.5px,#a5a5ff 42.5px,#eaeaff 45.5px,#fff7f7 46.5px,#ffd5d5 49.5px,#faa 52.5px,#ff9a9a 58.5px,#ff6767 63.5px,#ff0505 71.5px,#f00 87.5px,#f00 130.5px)"></i><i style="left:292px;width:6px;background:linear-gradient(#1010ff 0.5px,#1d1dff 23.5px,#3b3bff 32.5px,#6b6bff 38.5px,#a7a7ff 42.5px,#ececff 45.5px,#fff5f5 46.5px,#ffd4d4 49.5px,#ffa9a9 52.5px,#f99 58.5px,#f66 63.5px,#ff0505 71.5px,#f00 130.5px)"></i><i style="left:298px;width:2px;background:linear-gradient(#1010ff 0.5px,#1d1dff 23.5px,#3b3bff 32.5px,#6c6cff 38.5px,#a8a8ff 42.5px,#ededff 45.5px,#fff3f3 46.5px,#ffd3d3 49.5px,#ffa8a8 52.5px,#f99 58.5px,#ff5959 64.5px,#ff0404 71.5px,#f00 130.5px)"></i><i style="left:300px;width:2px;background:linear-gradient(#1010ff 0.5px,#1d1dff 23.5px,#3b3bff 32.5px,#6c6cff 38.5px,#a8a8ff 42.5px,#ededff 45.5px,#fff4f4 46.5px,#ffd4d4 49.5px,#ffa8a8 52.5px,#f99 58.5px,#ff5959 64.5px,#ff0404 71.5px,#f00 130.5px)"></i><i style="left:302px;width:2px;background:linear-gradient(#1010ff 0.5px,#1d1dff 23.5px,#3b3bff 32.5px,#6b6bff 38.5px,#a7a7ff 42.5px,#ececff 45.5px,#fff4f4 46.5px,#ffd4d4 49.5px,#ffa9a9 52.5px,#f99 58.5px,#ff5959 64.5px,#ff0404 71.5px,#f00 130.5px)"></i><i style="left:304px;width:8px;background:linear-gradient(#1010ff 0.5px,#1d1dff 23.5px,#3b3bff 32.5px,#6b6bff 38.5px,#a6a6ff 42.5px,#ebebff 45.5px,#fff6f6 46.5px,#ffd5d5 49.5px,#ffa9a9 52.5px,#ff9a9a 58.5px,#ff6767 63.5px,#ff0505 71.5px,#f00 130.5px)"></i><i style="left:312px;width:8px;background:linear-gradient(#1010ff 0.5px,#1d1dff 23.5px,#3a3aff 32.5px,#6a6aff 38.5px,#a5a5ff 42.5px,#e9e9ff 45.5px,#fff8f8 46.5px,#ffd6d6 49.5px,#faa 52.5px,#ff9a9a 58.5px,#ff6868 63.5px,#ff0606 71.5px,#f00 79.5px,#f00 130.5px)"></i><i style="left:320px;width:2px;background:linear-gradient(#1010ff 0.5px,#1f1fff 24.5px,#4040ff 33.5px,#7575ff 39.5px,#b8b8ff 43.5px,#fffafa 46.5px,#ffc7c7 50.5px,#ffa4a4 53.5px,#ff9a9a 58.5px,#ff6969 63.5px,#ff0606 71.5px,#f00 76.5px,#f00 130.5px)"></i><i style="left:322px;width:2px;background:linear-gradient(#1010ff 0.5px,#1f1fff 24.5px,#3f3fff 33.5px,#7575ff 39.5px,#b7b7ff 43.5px,#fffbfb 46.5px,#ffc7c7 50.5px,#ffa4a4 53.5px,#ff9b9b 58.5px,#ff6969 63.5px,#ff0606 71.5px,#f00 75.5px,#f00 130.5px)"></i><i style="left:324px;width:2px;background:linear-gradient(#1010ff 0.5px,#1f1fff 24.5px,#3f3fff 33.5px,#7575ff 39.5px,#b7b7ff 43.5px,#fffbfb 46.5px,#ffc7c7 50.5px,#ffa4a4 53.5px,#ff9b9b 58.5px,#ff6969 63.5px,#ff0707 71.5px,#f00 75.5px,#f00 130.5px)"></i><i style="left:326px;width:2px;background:linear-gradient(#1010ff 0.5px,#1f1fff 24.5px,#3f3fff 33.5px,#7575ff 39.5px,#b6b6ff 43.5px,#fffcfc 46.5px,#ffabab 52.5px,#ffa3a3 55.5px,#ff9494 59.5px,#ff4242 66.5px,#ff0707 71.5px,#f00 74.5px,#f00 130.5px)"></i><i style="left:328px;width:2px;background:linear-gradient(#1010ff 0.5px,#1f1fff 24.5px,#3f3fff 33.5px,#7474ff 39.5px,#b6b6ff 43.5px,#fffcfc 46.5px,#ffabab 52.5px,#ffa3a3 55.5px,#ff9494 59.5px,#ff4242 66.5px,#ff0707 71.5px,#f00 74.5px,#f00 130.5px)"></i><i style="left:330px;width:2px;background:linear-gradient(#1010ff 0.5px,#1f1fff 24.5px,#3f3fff 33.5px,#7474ff 39.5px,#b5b5ff 43.5px,#fffdfd 46.5px,#ffabab 52.5px,#ffa3a3 55.5px,#ff9494 59.5px,#ff4242 66.5px,#ff0707 71.5px,#f00 74.5px,#f00 130.5px)"></i><i style="left:332px;width:2px;background:linear-gradient(#1010ff 0.5px,#1f1fff 24.5px,#3f3fff 33.5px,#7474ff 39.5px,#b5b5ff 43.5px,#fffefe 46.5px,#ffacac 52.5px,#ffa3a3 55.5px,#ff9494 59.5px,#ff5050 65.5px,#ff0707 71.5px,#f00 74.5px,#f00 130.5px)"></i><i style="left:334px;width:2px;background:linear-gradient(#1010ff 0.5px,#1f1fff 24.5px,#3f3fff 33.5px,#7474ff 39.5px,#b5b5ff 43.5px,#fffefe 46.5px,#ffacac 52.5px,#ffa3a3 55.5px,#ff9494 59.5px,#ff5050 65.5px,#ff0707 71.5px,#f00 74.5px,#f00 130.5px)"></i><i style="left:336px;width:2px;background:linear-gradient(#1010ff 0.5px,#1f1fff 24.5px,#3f3fff 33.5px,#7373ff 39.5px,#b4b4ff 43.5px,#fff 46.5px,#ffacac 52.5px,#ffa3a3 55.5px,#ff9595 59.5px,#ff5151 65.5px,#ff0808 71.5px,#f00 73.5px,#f00 130.5px)"></i><i style="left:338px;width:2px;background:linear-gradient(#1010ff 0.5px,#1f1fff 24.5px,#3e3eff 33.5px,#7373ff 39.5px,#b4b4ff 43.5px,#fefeff 46.5px,#ffa4a4 53.5px,#ff9c9c 58.5px,#ff6b6b 63.5px,#ff0808 71.5px,#f00 73.5px,#f00 130.5px)"></i><i style="left:340px;width:2px;background:linear-gradient(#1010ff 0.5px,#1f1fff 24.5px,#3e3eff 33.5px,#7373ff 39.5px,#b3b3ff 43.5px,#fefeff 46.5px,#ffa4a4 53.5px,#ff9c9c 58.5px,#ff6b6b 63.5px,#ff0808 71.5px,#f00 73.5px,#f00 130.5px)"></i><i style="left:342px;width:2px;background:linear-gradient(#1010ff 0.5px,#1f1fff 24.5px,#3e3eff 33.5px,#7272ff 39.5px,#b3b3ff 43.5px,#fdfdff 46.5px,#ffcaca 50.5px,#ffa5a5 53.5px,#ff9c9c 58.5px,#ff6b6b 63.5px,#ff0808 71.5px,#f00 73.5px,#f00 130.5px)"></i><i style="left:344px;width:2px;background:linear-gradient(#1010ff 0.5px,#1e1eff 24.5px,#3e3eff 33.5px,#7272ff 39.5px,#b2b2ff 43.5px,#fdfdff 46.5px,#ffcbcb 50.5px,#ffa5a5 53.5px,#ff9c9c 58.5px,#ff6c6c 63.5px,#ff0808 71.5px,#f00 73.5px,#f00 130.5px)"></i><i style="left:346px;width:4px;background:linear-gradient(#1010ff 0.5px,#1e1eff 24.5px,#3e3eff 33.5px,#7272ff 39.5px,#b2b2ff 43.5px,#fcfcff 46.5px,#ffcbcb 50.5px,#ffa5a5 53.5px,#ff9c9c 58.5px,#ff6c6c 63.5px,#ff0909 71.5px,#f00 73.5px,#f00 130.5px)"></i><i style="left:350px;width:2px;background:linear-gradient(#1010ff 0.5px,#1e1eff 24.5px,#3e3eff 33.5px,#7171ff 39.5px,#b1b1ff 43.5px,#fbfbff 46.5px,#fcc 50.5px,#ffa5a5 53.5px,#ff9c9c 58.5px,#ff6c6c 63.5px,#ff0909 71.5px,#f00 73.5px,#f00 130.5px)"></i><i style="left:352px;width:4px;background:linear-gradient(#1010ff 0.5px,#1e1eff 24.5px,#3d3dff 33.5px,#7171ff 39.5px,#b1b1ff 43.5px,#fafaff 46.5px,#ffdcdc 49.5px,#ffa5a5 53.5px,#ff9c9c 58.5px,#ff6d6d 63.5px,#ff0909 71.5px,#f00 73.5px,#f00 130.5px)"></i><i style="left:356px;width:4px;background:linear-gradient(#1010ff 0.5px,#1e1eff 24.5px,#3d3dff 33.5px,#7171ff 39.5px,#b0b0ff 43.5px,#f9f9ff 46.5px,#ffdcdc 49.5px,#ffa5a5 53.5px,#ff9d9d 58.5px,#ff6d6d 63.5px,#ff0a0a 71.5px,#f00 73.5px,#f00 130.5px)"></i><i style="left:360px;width:4px;background:linear-gradient(#1010ff 0.5px,#1e1eff 24.5px,#3d3dff 33.5px,#7070ff 39.5px,#afafff 43.5px,#f7f7ff 46.5px,#ffe9e9 48.5px,#ffa6a6 53.5px,#ff9d9d 58.5px,#ff6e6e 63.5px,#ff0a0a 71.5px,#f00 73.5px,#f00 130.5px)"></i><i style="left:364px;width:4px;background:linear-gradient(#1010ff 0.5px,#1e1eff 24.5px,#3d3dff 33.5px,#7070ff 39.5px,#aeaeff 43.5px,#f6f6ff 46.5px,#ffeaea 48.5px,#ffa6a6 53.5px,#ff9d9d 58.5px,#ff6e6e 63.5px,#ff0b0b 71.5px,#f00 73.5px,#f00 130.5px)"></i><i style="left:368px;width:4px;background:linear-gradient(#1010ff 0.5px,#1e1eff 24.5px,#3d3dff 33.5px,#6f6fff 39.5px,#adadff 43.5px,#f5f5ff 46.5px,#ffeaea 48.5px,#ffa6a6 53.5px,#ff9d9d 58.5px,#ff6f6f 63.5px,#ff0b0b 71.5px,#f00 73.5px,#f00 130.5px)"></i><i style="left:372px;width:4px;background:linear-gradient(#1010ff 0.5px,#1e1eff 24.5px,#3c3cff 33.5px,#6f6fff 39.5px,#acacff 43.5px,#f4f4ff 46.5px,#fff0f0 47.5px,#ffdfdf 49.5px,#ffa6a6 53.5px,#ff9e9e 58.5px,#ff6f6f 63.5px,#ff0b0b 71.5px,#f00 73.5px,#f00 130.5px)"></i><i style="left:376px;width:2px;background:linear-gradient(#1010ff 0.5px,#1e1eff 24.5px,#3c3cff 33.5px,#6e6eff 39.5px,#acacff 43.5px,#f3f3ff 46.5px,#fff0f0 47.5px,#ffdfdf 49.5px,#ffa7a7 53.5px,#ff9898 59.5px,#ff5656 65.5px,#ff0202 72.5px,#f00 130.5px)"></i><i style="left:378px;width:4px;background:linear-gradient(#1010ff 0.5px,#1e1eff 24.5px,#3c3cff 33.5px,#6e6eff 39.5px,#ababff 43.5px,#f2f2ff 46.5px,#fff0f0 47.5px,#ffe0e0 49.5px,#ffa7a7 53.5px,#ff9898 59.5px,#ff5656 65.5px,#ff0303 72.5px,#f00 130.5px)"></i><i style="left:382px;width:2px;background:linear-gradient(#1010ff 0.5px,#1e1eff 24.5px,#3c3cff 33.5px,#6e6eff 39.5px,#ababff 43.5px,#f1f1ff 46.5px,#fff0f0 47.5px,#ffe0e0 49.5px,#ffa7a7 53.5px,#ff9898 59.5px,#ff5757 65.5px,#ff0303 72.5px,#f00 130.5px)"></i><i style="left:384px;width:2px;background:linear-gradient(#1010ff 0.5px,#1e1eff 24.5px,#3c3cff 33.5px,#6d6dff 39.5px,#aaf 43.5px,#f1f1ff 46.5px,#fff0f0 47.5px,#ffe0e0 49.5px,#ffa7a7 53.5px,#ff9898 59.5px,#ff5757 65.5px,#ff0303 72.5px,#f00 130.5px)"></i><i style="left:386px;width:2px;background:linear-gradient(#1010ff 0.5px,#1e1eff 24.5px,#3c3cff 33.5px,#6d6dff 39.5px,#aaf 43.5px,#f0f0ff 46.5px,#fff0f0 47.5px,#ffe1e1 49.5px,#ffa8a8 53.5px,#ff9898 59.5px,#ff5757 65.5px,#ff0303 72.5px,#f00 130.5px)"></i><i style="left:388px;width:2px;background:linear-gradient(#1010ff 0.5px,#1e1eff 24.5px,#3b3bff 33.5px,#6d6dff 39.5px,#a9a9ff 43.5px,#f0f0ff 46.5px,#fff1f1 47.5px,#ffe1e1 49.5px,#ffa8a8 53.5px,#f99 59.5px,#ff5858 65.5px,#ff0404 72.5px,#f00 130.5px)"></i><i style="left:390px;width:2px;background:linear-gradient(#1010ff 0.5px,#1e1eff 24.5px,#3b3bff 33.5px,#6d6dff 39.5px,#a9a9ff 43.5px,#efefff 46.5px,#fff1f1 47.5px,#ffd2d2 50.5px,#ffa8a8 53.5px,#f99 59.5px,#ff5858 65.5px,#ff0404 72.5px,#f00 130.5px)"></i><i style="left:392px;width:2px;background:linear-gradient(#1010ff 0.5px,#1e1eff 24.5px,#3b3bff 33.5px,#6c6cff 39.5px,#a9a9ff 43.5px,#eef 46.5px,#fff2f2 47.5px,#ffd3d3 50.5px,#ffa8a8 53.5px,#f99 59.5px,#ff5858 65.5px,#ff0404 72.5px,#f00 130.5px)"></i><i style="left:394px;width:2px;background:linear-gradient(#1010ff 0.5px,#1e1eff 24.5px,#3b3bff 33.5px,#6c6cff 39.5px,#a8a8ff 43.5px,#eef 46.5px,#fff3f3 47.5px,#ffd3d3 50.5px,#ffa8a8 53.5px,#f99 59.5px,#ff5858 65.5px,#ff0404 72.5px,#f00 130.5px)"></i><i style="left:396px;width:2px;background:linear-gradient(#1010ff 0.5px,#1d1dff 24.5px,#3b3bff 33.5px,#6c6cff 39.5px,#a8a8ff 43.5px,#ededff 46.5px,#fff3f3 47.5px,#ffd3d3 50.5px,#ffa8a8 53.5px,#f99 59.5px,#ff5959 65.5px,#ff0404 72.5px,#f00 130.5px)"></i><i style="left:398px;width:2px;background:linear-gradient(#1010ff 0.5px,#1d1dff 24.5px,#3b3bff 33.5px,#6c6cff 39.5px,#a7a7ff 43.5px,#ededff 46.5px,#fff4f4 47.5px,#ffd4d4 50.5px,#ffa9a9 53.5px,#f99 59.5px,#ff5959 65.5px,#ff0404 72.5px,#f00 130.5px)"></i><i style="left:400px;width:8px;background:linear-gradient(#1010ff 0.5px,#1d1dff 24.5px,#3b3bff 33.5px,#6b6bff 39.5px,#a6a6ff 43.5px,#ebebff 46.5px,#fff5f5 47.5px,#ffd5d5 50.5px,#ffa9a9 53.5px,#ff9a9a 59.5px,#ff6767 64.5px,#ff0505 72.5px,#f00 130.5px)"></i><i style="left:408px;width:8px;background:linear-gradient(#1010ff 0.5px,#1d1dff 24.5px,#3a3aff 33.5px,#6a6aff 39.5px,#a5a5ff 43.5px,#e9e9ff 46.5px,#fff8f8 47.5px,#ffd6d6 50.5px,#faa 53.5px,#ff9a9a 59.5px,#ff6868 64.5px,#ff0606 72.5px,#f00 81.5px,#f00 130.5px)"></i><i style="left:416px;width:4px;background:linear-gradient(#1010ff 0.5px,#1d1dff 24.5px,#3a3aff 33.5px,#6969ff 39.5px,#a4a4ff 43.5px,#fffafa 47.5px,#ffc7c7 51.5px,#ffa4a4 54.5px,#ff9a9a 59.5px,#ff6969 64.5px,#ff0606 72.5px,#f00 77.5px,#f00 130.5px)"></i><i style="left:420px;width:4px;background:linear-gradient(#1010ff 0.5px,#1d1dff 24.5px,#3a3aff 33.5px,#6969ff 39.5px,#a3a3ff 43.5px,#fffbfb 47.5px,#ffc7c7 51.5px,#ffa4a4 54.5px,#ff9b9b 59.5px,#ff6969 64.5px,#ff0707 72.5px,#f00 76.5px,#f00 130.5px)"></i></div>
<div class="hm" style="left:310px;top:520px;width:245px;height:130px"><i style="left:0px;width:8px;background:linear-gradient(#00f 0.5px,#0f0fff 44.5px,#0b0bff 127.5px,#0808ff 129.5px)"></i><i style="left:8px;width:2px;background:linear-gradient(#0101ff 0.5px,#0f0fff 23.5px,#3434ff 34.5px,#7979ff 44.5px,#d7d7ff 55.5px,#f5f0fa 61.5px,#f8e4eb 62.5px,#f8e4eb 63.5px,#fad2d7 64.5px,#fdd1d3 66.5px,#fdbdbf 67.5px,#fdbdbf 68.5px,#ffa2a2 69.5px,#ffa2a2 102.5px,#fff4f4 103.5px,#ebebff 104.5px,#afafff 107.5px,#7272ff 113.5px,#5151ff 120.5px,#4a4aff 129.5px)"></i><i style="left:10px;width:2px;background:linear-gradient(#0101ff 0.5px,#0f0fff 22.5px,#3232ff 32.5px,#7f7fff 42.5px,#efefff 53.5px,#f6f1fa 54.5px,#fae6eb 55.5px,#ff8c8c 58.5px,#ff4c4c 60.5px,#ff2020 62.5px,#ff0909 64.5px,#f00 70.5px,#f00 101.5px,#ff4e4e 102.5px,#ffefef 103.5px,#eef 104.5px,#b5b5ff 107.5px,#8d8dff 115.5px,#7676ff 129.5px)"></i><i style="left:12px;width:2px;background:linear-gradient(#0101ff 0.5px,#0f0fff 21.5px,#3434ff 31.5px,#7878ff 39.5px,#ededff 49.5px,#f8f3fa 50.5px,#fdd1d3 51.5px,#ff6969 53.5px,#ff1717 55.5px,#ff0303 56.5px,#f00 101.5px,#ff1919 102.5px,#ffc3c3 103.5px,#f5f5ff 104.5px,#b9b9ff 107.5px,#8e8eff 115.5px,#7676ff 129.5px)"></i><i style="left:14px;width:2px;background:linear-gradient(#0101ff 0.5px,#0f0fff 20.5px,#3030ff 29.5px,#6868ff 36.5px,#f7f2fa 47.5px,#fdd8da 48.5px,#ff9494 49.5px,#ff3d3d 50.5px,#ff0d0d 51.5px,#f00 52.5px,#ff0101 102.5px,#fdf7fa 104.5px,#bfbfff 107.5px,#9797ff 113.5px,#7a7aff 125.5px,#77f 129.5px)"></i><i style="left:16px;width:2px;background:linear-gradient(#0101ff 0.5px,#11f 20.5px,#3636ff 29.5px,#77f 36.5px,#efefff 44.5px,#faeff4 45.5px,#ffafaf 46.5px,#ff5252 47.5px,#ff0e0e 48.5px,#f00 49.5px,#f00 102.5px,#ff3c3c 103.5px,#ffe6e6 104.5px,#f1f1ff 105.5px,#b7b7ff 108.5px,#8d8dff 116.5px,#77f 129.5px)"></i><i style="left:18px;width:2px;background:linear-gradient(#0101ff 0.5px,#11f 19.5px,#3535ff 28.5px,#6d6dff 34.5px,#d9d9ff 41.5px,#faf5fa 43.5px,#ffa1a1 44.5px,#ff3535 45.5px,#ff0505 46.5px,#f00 102.5px,#ff0c0c 103.5px,#ffa0a0 104.5px,#f8f8ff 105.5px,#bbf 108.5px,#9292ff 115.5px,#7878ff 128.5px,#77f 129.5px)"></i><i style="left:20px;width:2px;background:linear-gradient(#0202ff 0.5px,#1010ff 18.5px,#3535ff 27.5px,#6b6bff 33.5px,#b9b9ff 38.5px,#f0f0ff 41.5px,#fde5e7 42.5px,#ff7373 43.5px,#ff0d0d 44.5px,#f00 45.5px,#f00 103.5px,#ff6565 104.5px,#fff4f4 105.5px,#eef 106.5px,#c3c3ff 108.5px,#9d9dff 113.5px,#7d7dff 124.5px,#7878ff 129.5px)"></i><i style="left:22px;width:2px;background:linear-gradient(#0202ff 0.5px,#1010ff 17.5px,#3434ff 26.5px,#6b6bff 32.5px,#b7b7ff 37.5px,#f1f1ff 40.5px,#ffe6e6 41.5px,#ff5454 42.5px,#ff0101 43.5px,#f00 103.5px,#ff1d1d 104.5px,#ffc3c3 105.5px,#f4f4ff 106.5px,#babaff 109.5px,#8e8eff 117.5px,#7878ff 129.5px)"></i><i style="left:24px;width:2px;background:linear-gradient(#0303ff 0.5px,#1414ff 18.5px,#3939ff 26.5px,#7676ff 32.5px,#c9c9ff 37.5px,#f0f0ff 39.5px,#fde9eb 40.5px,#ff6969 41.5px,#ff0303 42.5px,#ff0303 104.5px,#fdf7fa 106.5px,#c0c0ff 109.5px,#9898ff 115.5px,#7b7bff 127.5px,#7979ff 129.5px)"></i><i style="left:26px;width:2px;background:linear-gradient(#0303ff 0.5px,#1919ff 19.5px,#3f3fff 26.5px,#8181ff 32.5px,#ededff 38.5px,#fdf2f4 39.5px,#ff7171 40.5px,#ff0303 41.5px,#f00 104.5px,#ff3a3a 105.5px,#ffe1e1 106.5px,#f3f3ff 107.5px,#b8b8ff 110.5px,#8e8eff 118.5px,#7979ff 129.5px)"></i><i style="left:28px;width:2px;background:linear-gradient(#0404ff 0.5px,#1d1dff 19.5px,#44f 26.5px,#7d7dff 31.5px,#fcf6fa 38.5px,#ff9494 39.5px,#ff0909 40.5px,#f00 42.5px,#f00 104.5px,#ff0606 105.5px,#ff9797 106.5px,#f8f8ff 107.5px,#bdbdff 110.5px,#9393ff 117.5px,#7979ff 129.5px)"></i><i style="left:30px;width:2px;background:linear-gradient(#0505ff 0.5px,#22f 19.5px,#4c4cff 26.5px,#8787ff 31.5px,#f8f8ff 37.5px,#ffbfbf 38.5px,#ff1c1c 39.5px,#f00 40.5px,#f00 105.5px,#ff5b5b 106.5px,#ffefef 107.5px,#eef 108.5px,#c4c4ff 110.5px,#a3a3ff 114.5px,#8181ff 124.5px,#7a7aff 129.5px)"></i><i style="left:32px;width:2px;background:linear-gradient(#0505ff 0.5px,#2323ff 16.5px,#3c3cff 23.5px,#77f 29.5px,#b6b6ff 33.5px,#f2f2ff 36.5px,#ffe1e1 37.5px,#ff4c4c 38.5px,#f00 39.5px,#f00 105.5px,#ff1818 106.5px,#ffbebe 107.5px,#f7f7ff 108.5px,#bbf 111.5px,#8f8fff 119.5px,#7a7aff 129.5px)"></i><i style="left:34px;width:2px;background:linear-gradient(#0606ff 0.5px,#2020ff 13.5px,#4e4eff 24.5px,#8686ff 29.5px,#ededff 35.5px,#fdf2f4 36.5px,#ff7171 37.5px,#ff0303 38.5px,#f00 106.5px,#ff6868 107.5px,#fdf7fa 108.5px,#d8d8ff 110.5px,#b7b7ff 112.5px,#8d8dff 120.5px,#7b7bff 129.5px)"></i><i style="left:36px;width:2px;background:linear-gradient(#0707ff 0.5px,#22f 12.5px,#6767ff 25.5px,#9696ff 29.5px,#f0f0ff 34.5px,#fde9eb 35.5px,#ff7373 36.5px,#ff0909 37.5px,#f00 39.5px,#f00 106.5px,#ff0f0f 107.5px,#ff9898 108.5px,#faf5fa 109.5px,#c0c0ff 112.5px,#9c9cff 117.5px,#7d7dff 128.5px,#7c7cff 129.5px)"></i><i style="left:38px;width:2px;background:linear-gradient(#0707ff 0.5px,#22f 11.5px,#7676ff 24.5px,#aaf 29.5px,#f0f0ff 33.5px,#fde9eb 34.5px,#ff6969 35.5px,#ff0303 36.5px,#f00 107.5px,#ff2929 108.5px,#ffbfbf 109.5px,#f6f6ff 110.5px,#bcbcff 113.5px,#9696ff 119.5px,#7d7dff 129.5px)"></i><i style="left:40px;width:2px;background:linear-gradient(#0808ff 0.5px,#2121ff 10.5px,#4f4fff 17.5px,#bbf 28.5px,#f3f3ff 32.5px,#ffe1e1 33.5px,#ff5454 34.5px,#ff0303 35.5px,#f00 108.5px,#ff4747 109.5px,#ffe1e1 110.5px,#f4f4ff 111.5px,#bcbcff 115.5px,#8787ff 124.5px,#7d7dff 129.5px)"></i><i style="left:42px;width:2px;background:linear-gradient(#0808ff 0.5px,#2323ff 10.5px,#4e4eff 16.5px,#bebeff 25.5px,#f4f4ff 30.5px,#fdd8da 31.5px,#ff2929 33.5px,#f00 34.5px,#f00 109.5px,#ff2929 110.5px,#fdd8da 112.5px,#f6f1fa 113.5px,#b4b4ff 121.5px,#8d8dff 124.5px,#8181ff 129.5px)"></i><i style="left:44px;width:2px;background:linear-gradient(#0909ff 0.5px,#2525ff 10.5px,#5252ff 16.5px,#9797ff 21.5px,#e1e1ff 25.5px,#f6f1fa 27.5px,#fae2e7 28.5px,#ffb7b7 29.5px,#ff5d5d 30.5px,#ff2020 31.5px,#ff0101 32.5px,#f00 111.5px,#ff1717 112.5px,#ffb7b7 115.5px,#fcd4d7 116.5px,#f3f3ff 118.5px,#e1e1ff 120.5px,#9898ff 124.5px,#8484ff 127.5px,#7e7eff 129.5px)"></i><i style="left:46px;width:2px;background:linear-gradient(#0909ff 0.5px,#2525ff 10.5px,#5252ff 16.5px,#9797ff 21.5px,#e1e1ff 25.5px,#f0f0ff 27.5px,#fae6eb 30.5px,#ffafaf 33.5px,#ff8c8c 34.5px,#ff7a7a 35.5px,#ff4141 37.5px,#ff3d3d 38.5px,#ff2828 39.5px,#ff0505 42.5px,#f00 64.5px,#ff0101 103.5px,#ff1717 106.5px,#ff3d3d 108.5px,#ff4141 109.5px,#fdd1d3 114.5px,#f8e4eb 116.5px,#f5f0fa 117.5px,#ececff 119.5px,#cfcfff 121.5px,#77f 126.5px,#5252ff 129.5px)"></i><i style="left:48px;width:2px;background:linear-gradient(#0808ff 0.5px,#2323ff 10.5px,#4e4eff 16.5px,#bdbdff 25.5px,#f0f0ff 37.5px,#f5f0fa 39.5px,#f8e4eb 40.5px,#fae6eb 41.5px,#fad2d7 42.5px,#fdd1d3 43.5px,#ffa2a2 45.5px,#ffa2a2 46.5px,#ff8080 47.5px,#ff5d5d 49.5px,#ff2828 51.5px,#ff0505 54.5px,#ff0505 93.5px,#ff2828 96.5px,#ff7a7a 99.5px,#ff8383 100.5px,#ffa2a2 101.5px,#ffb7b7 102.5px,#fdbdbf 103.5px,#fae2e7 105.5px,#f8e4eb 106.5px,#f6f1fa 107.5px,#e6e6ff 112.5px,#b4b4ff 121.5px,#4e4eff 129.5px)"></i><i style="left:50px;width:2px;background:linear-gradient(#0808ff 0.5px,#2121ff 10.5px,#4f4fff 17.5px,#9898ff 25.5px,#e5e5ff 46.5px,#f5f0fa 51.5px,#fad6da 53.5px,#fdd1d3 54.5px,#ffa2a2 56.5px,#ff4c4c 59.5px,#ff1414 62.5px,#ff0101 64.5px,#ff0101 83.5px,#ff1414 85.5px,#ff4c4c 88.5px,#fdbdbf 92.5px,#fdd1d3 93.5px,#f8e4eb 95.5px,#f2f2ff 97.5px,#9d9dff 119.5px,#77f 124.5px,#4747ff 129.5px)"></i><i style="left:52px;width:2px;background:linear-gradient(#0707ff 0.5px,#22f 11.5px,#7979ff 25.5px,#d6d6ff 53.5px,#f5f0fa 60.5px,#f7f2fa 61.5px,#ff9b9b 66.5px,#ff4040 69.5px,#ff0505 72.5px,#f00 74.5px,#ff1414 76.5px,#ff5d5d 79.5px,#ff9b9b 81.5px,#f7f2fa 86.5px,#e0e0ff 92.5px,#a3a3ff 108.5px,#6a6aff 123.5px,#3e3eff 129.5px)"></i><i style="left:54px;width:2px;background:linear-gradient(#0707ff 0.5px,#22f 12.5px,#5f5fff 25.5px,#ababff 52.5px,#f3f3ff 69.5px,#f7f2fa 70.5px,#fcd4d7 72.5px,#fdbdbf 73.5px,#fdbdbf 74.5px,#fae6eb 76.5px,#f7f2fa 77.5px,#d0d0ff 86.5px,#8c8cff 104.5px,#4f4fff 124.5px,#3434ff 129.5px)"></i><i style="left:56px;width:2px;background:linear-gradient(#0606ff 0.5px,#2020ff 13.5px,#4e4eff 27.5px,#88f 52.5px,#d0d0ff 70.5px,#e0e0ff 74.5px,#9595ff 91.5px,#6161ff 110.5px,#33f 127.5px,#2b2bff 129.5px)"></i><i style="left:58px;width:2px;background:linear-gradient(#0505ff 0.5px,#2323ff 16.5px,#5252ff 40.5px,#7f7fff 59.5px,#b6b6ff 74.5px,#7373ff 92.5px,#3939ff 120.5px,#2323ff 129.5px)"></i><i style="left:60px;width:2px;background:linear-gradient(#0505ff 0.5px,#5a5aff 55.5px,#9191ff 74.5px,#55f 94.5px,#1c1cff 129.5px)"></i><i style="left:62px;width:2px;background:linear-gradient(#0404ff 0.5px,#4848ff 56.5px,#7272ff 74.5px,#3b3bff 98.5px,#1616ff 129.5px)"></i><i style="left:64px;width:2px;background:linear-gradient(#0303ff 0.5px,#3939ff 57.5px,#4e4eff 66.5px,#6a6aff 71.5px,#6363ff 77.5px,#4747ff 82.5px,#2121ff 111.5px,#11f 129.5px)"></i><i style="left:66px;width:2px;background:linear-gradient(#0303ff 0.5px,#2e2eff 59.5px,#3a3aff 64.5px,#6363ff 69.5px,#6a6aff 75.5px,#4e4eff 80.5px,#3535ff 83.5px,#1313ff 120.5px,#0d0dff 129.5px)"></i><i style="left:68px;width:2px;background:linear-gradient(#0202ff 0.5px,#2525ff 61.5px,#44f 65.5px,#6767ff 70.5px,#6767ff 76.5px,#44f 81.5px,#2626ff 85.5px,#0a0aff 129.5px)"></i><i style="left:70px;width:2px;background:linear-gradient(#0202ff 0.5px,#1b1bff 60.5px,#6363ff 69.5px,#6a6aff 75.5px,#4e4eff 80.5px,#1f1fff 85.5px,#0808ff 129.5px)"></i><i style="left:72px;width:2px;background:linear-gradient(#0101ff 0.5px,#1717ff 60.5px,#6363ff 69.5px,#6a6aff 75.5px,#4e4eff 80.5px,#1717ff 86.5px,#0606ff 129.5px)"></i><i style="left:74px;width:2px;background:linear-gradient(#0101ff 0.5px,#11f 59.5px,#6363ff 69.5px,#6a6aff 75.5px,#4e4eff 80.5px,#11f 87.5px,#0404ff 129.5px)"></i><i style="left:76px;width:2px;background:linear-gradient(#0101ff 0.5px,#0c0cff 58.5px,#3a3aff 64.5px,#6363ff 69.5px,#6a6aff 75.5px,#4e4eff 80.5px,#11f 87.5px,#0707ff 103.5px,#0303ff 129.5px)"></i><i style="left:78px;width:2px;background:linear-gradient(#0101ff 0.5px,#0c0cff 58.5px,#3a3aff 64.5px,#6363ff 69.5px,#6a6aff 75.5px,#4e4eff 80.5px,#11f 87.5px,#0707ff 92.5px,#0202ff 129.5px)"></i><i style="left:80px;width:6px;background:linear-gradient(#00f 0.5px,#0808ff 57.5px,#2727ff 62.5px,#6363ff 69.5px,#6a6aff 75.5px,#4e4eff 80.5px,#11f 87.5px,#0404ff 92.5px,#0101ff 129.5px)"></i><i style="left:86px;width:159px;background:linear-gradient(#00f 0.5px,#0505ff 56.5px,#1f1fff 61.5px,#6363ff 69.5px,#6a6aff 75.5px,#4e4eff 80.5px,#11f 87.5px,#0101ff 94.5px,#00f 129.5px)"></i></div>
<div class="hm" style="left:310px;top:651px;width:245px;height:130px"><i style="left:0px;width:2px;background:linear-gradient(#0202ff 0.5px,#0f0fff 41.5px,#0c0cff 129.5px)"></i><i style="left:2px;width:2px;background:linear-gradient(#0202ff 0.5px,#0f0fff 36.5px,#0f0fff 129.5px)"></i><i style="left:4px;width:2px;background:linear-gradient(#0303ff 0.5px,#1e1eff 28.5px,#4a4aff 38.5px,#8383ff 45.5px,#e8e8ff 57.5px,#f4effa 60.5px,#fad5da 62.5px,#fdd1d3 63.5px,#ffa2a2 65.5px,#ffa2a2 67.5px,#ff8383 68.5px,#ff7a7a 73.5px,#ff5d5d 74.5px,#ff5d5d 76.5px,#ff8080 78.5px,#ff8080 80.5px,#ff8c8c 81.5px,#ffa2a2 82.5px,#ffa2a2 84.5px,#fdbdbf 86.5px,#fdbdbf 87.5px,#fdd1d3 88.5px,#f7e3eb 90.5px,#f0f0ff 92.5px,#d2d2ff 98.5px,#7272ff 107.5px,#5656ff 111.5px,#3939ff 123.5px,#3535ff 129.5px)"></i><i style="left:6px;width:2px;background:linear-gradient(#0303ff 0.5px,#2020ff 26.5px,#3e3eff 34.5px,#7b7bff 42.5px,#f0f0ff 53.5px,#f7edf4 54.5px,#fdd1d3 55.5px,#ffa2a2 56.5px,#ff4141 59.5px,#ff2828 60.5px,#ff0505 63.5px,#ff0505 88.5px,#ff2828 91.5px,#ff7a7a 94.5px,#ff9b9b 95.5px,#ffafaf 96.5px,#fdd8da 97.5px,#f7f1fa 98.5px,#7e7eff 108.5px,#6969ff 126.5px,#6868ff 129.5px)"></i><i style="left:8px;width:2px;background:linear-gradient(#0404ff 0.5px,#1e1eff 21.5px,#3d3dff 32.5px,#7c7cff 40.5px,#d4d4ff 47.5px,#f0f0ff 49.5px,#f7edf4 50.5px,#fdd1d3 51.5px,#ff9d9d 52.5px,#ff5c5c 53.5px,#ff2828 54.5px,#ff0909 55.5px,#f00 57.5px,#f00 96.5px,#ff0e0e 97.5px,#ff4e4e 98.5px,#ffa9a9 99.5px,#fbe3e7 100.5px,#f1f1ff 101.5px,#8d8dff 108.5px,#7171ff 119.5px,#6a6aff 129.5px)"></i><i style="left:10px;width:2px;background:linear-gradient(#0404ff 0.5px,#1b1bff 17.5px,#4a4aff 32.5px,#7c7cff 38.5px,#e5e5ff 46.5px,#f3f3ff 47.5px,#fdd8da 48.5px,#ff7575 49.5px,#ff2828 50.5px,#ff0909 51.5px,#f00 53.5px,#f00 99.5px,#ff2020 100.5px,#ff6969 101.5px,#ffd5d5 102.5px,#f4f4ff 103.5px,#9696ff 109.5px,#7878ff 117.5px,#6b6bff 129.5px)"></i><i style="left:12px;width:2px;background:linear-gradient(#0404ff 0.5px,#1d1dff 16.5px,#5b5bff 32.5px,#8484ff 37.5px,#f7f2fa 45.5px,#ffc3c3 46.5px,#ff6969 47.5px,#ff1a1a 48.5px,#f00 49.5px,#f00 101.5px,#ff1b1b 102.5px,#ff9090 103.5px,#fbf1f4 104.5px,#ededff 105.5px,#9e9eff 110.5px,#8686ff 113.5px,#6d6dff 127.5px,#6b6bff 129.5px)"></i><i style="left:14px;width:2px;background:linear-gradient(#0505ff 0.5px,#1c1cff 14.5px,#6e6eff 32.5px,#a8a8ff 38.5px,#f7f2fa 43.5px,#ffc3c3 44.5px,#ff5656 45.5px,#ff0d0d 46.5px,#f00 47.5px,#ff0505 103.5px,#ff4747 104.5px,#ffc3c3 105.5px,#f7f2fa 106.5px,#9494ff 113.5px,#7d7dff 117.5px,#6c6cff 129.5px)"></i><i style="left:16px;width:2px;background:linear-gradient(#0505ff 0.5px,#1c1cff 13.5px,#5050ff 23.5px,#9a9aff 34.5px,#e4e4ff 40.5px,#f3f3ff 41.5px,#fdd8da 42.5px,#ff6464 43.5px,#ff0d0d 44.5px,#f00 45.5px,#f00 104.5px,#ff0d0d 105.5px,#ff5656 106.5px,#ffc3c3 107.5px,#f7f2fa 108.5px,#b1b1ff 113.5px,#8282ff 118.5px,#6e6eff 127.5px,#6d6dff 129.5px)"></i><i style="left:18px;width:2px;background:linear-gradient(#0606ff 0.5px,#1e1eff 13.5px,#4d4dff 21.5px,#c4c4ff 35.5px,#f7f2fa 39.5px,#fdd1d3 40.5px,#ff1a1a 42.5px,#f00 43.5px,#f00 106.5px,#ff0d0d 107.5px,#ff5656 108.5px,#ffc3c3 109.5px,#f7edf4 110.5px,#ececff 111.5px,#a7a7ff 117.5px,#7272ff 126.5px,#6f6fff 129.5px)"></i><i style="left:20px;width:2px;background:linear-gradient(#0606ff 0.5px,#1d1dff 12.5px,#44f 19.5px,#9191ff 26.5px,#f3f3ff 36.5px,#fbd7da 37.5px,#ff9d9d 38.5px,#ff4242 39.5px,#ff0d0d 40.5px,#f00 41.5px,#f00 108.5px,#ff0909 109.5px,#ff3b3b 110.5px,#fdd1d3 112.5px,#f7f2fa 113.5px,#ceceff 117.5px,#8c8cff 125.5px,#77f 127.5px,#7373ff 129.5px)"></i><i style="left:22px;width:2px;background:linear-gradient(#0606ff 0.5px,#1e1eff 12.5px,#4848ff 19.5px,#8383ff 24.5px,#d7d7ff 29.5px,#f5f0fa 32.5px,#f9e5eb 33.5px,#fdc6c9 34.5px,#ff4d4d 36.5px,#ff1a1a 37.5px,#f00 38.5px,#f00 111.5px,#ff0d0d 112.5px,#ff4040 113.5px,#ff8c8c 114.5px,#fdc6c9 115.5px,#fae1e7 116.5px,#f7f1fa 117.5px,#cdcdff 122.5px,#8181ff 127.5px,#7b7bff 129.5px)"></i><i style="left:24px;width:2px;background:linear-gradient(#0606ff 0.5px,#1e1eff 12.5px,#4949ff 19.5px,#8686ff 24.5px,#e5e5ff 29.5px,#f5f0fa 30.5px,#fbd3d7 32.5px,#ffb7b7 33.5px,#ff6060 35.5px,#ff2828 37.5px,#ff0505 41.5px,#f00 63.5px,#f00 107.5px,#ff1717 111.5px,#ff3d3d 113.5px,#ff4141 114.5px,#ff7a7a 116.5px,#ffcece 118.5px,#fde9eb 119.5px,#fdf7fa 120.5px,#f5f5ff 121.5px,#77f 128.5px,#6a6aff 129.5px)"></i><i style="left:26px;width:2px;background:linear-gradient(#0606ff 0.5px,#1d1dff 12.5px,#4747ff 19.5px,#8d8dff 25.5px,#c4c4ff 29.5px,#f1f1ff 36.5px,#f7e3eb 38.5px,#f7e3eb 39.5px,#fad5da 40.5px,#fad1d7 41.5px,#ffa2a2 45.5px,#ff8c8c 46.5px,#ff8080 47.5px,#ff5d5d 49.5px,#ff5d5d 50.5px,#ff4040 51.5px,#ff4040 53.5px,#ff2828 54.5px,#ff2828 56.5px,#ff1414 58.5px,#ff1212 60.5px,#ff0505 61.5px,#f00 83.5px,#ff0505 89.5px,#ff1414 92.5px,#ff1717 93.5px,#ff2828 94.5px,#ff2828 96.5px,#ff4040 97.5px,#ff4040 99.5px,#ff5d5d 100.5px,#ff5d5d 101.5px,#ff8080 103.5px,#ff9b9b 104.5px,#ffa2a2 105.5px,#ffb7b7 106.5px,#fdbdbf 107.5px,#fbd3d7 108.5px,#fad1d7 109.5px,#f7e4eb 110.5px,#f7e3eb 111.5px,#f5f0fa 112.5px,#ddf 119.5px,#cdcdff 122.5px,#6767ff 129.5px)"></i><i style="left:28px;width:2px;background:linear-gradient(#0606ff 0.5px,#1c1cff 12.5px,#4a4aff 20.5px,#a0a0ff 29.5px,#cdcdff 38.5px,#f0f0ff 53.5px,#f4effa 56.5px,#f7e3eb 57.5px,#fae1e7 60.5px,#ffc3c3 62.5px,#ff5656 63.5px,#ff0d0d 64.5px,#f00 65.5px,#f00 86.5px,#ff2929 87.5px,#ff9090 88.5px,#fbd3d7 89.5px,#fad1d7 90.5px,#f7e4eb 91.5px,#f7e3eb 93.5px,#f5f0fa 94.5px,#e9e9ff 102.5px,#a7a7ff 122.5px,#5e5eff 129.5px)"></i><i style="left:30px;width:2px;background:linear-gradient(#0505ff 0.5px,#1d1dff 13.5px,#5050ff 22.5px,#8585ff 30.5px,#a8a8ff 39.5px,#cdcdff 58.5px,#d8d8ff 61.5px,#f7f2fa 63.5px,#ffc3c3 64.5px,#ff5656 65.5px,#ff0d0d 66.5px,#f00 67.5px,#f00 84.5px,#ff2929 85.5px,#ff9090 86.5px,#fbe3e7 87.5px,#f0f0ff 88.5px,#d3d3ff 90.5px,#a9a9ff 110.5px,#7c7cff 124.5px,#5353ff 129.5px)"></i><i style="left:32px;width:2px;background:linear-gradient(#0505ff 0.5px,#1d1dff 14.5px,#7575ff 33.5px,#a0a0ff 54.5px,#acacff 60.5px,#f7f2fa 65.5px,#ffc3c3 66.5px,#ff5656 67.5px,#ff0d0d 68.5px,#f00 69.5px,#ff0101 82.5px,#ff2929 83.5px,#ff9090 84.5px,#fbe3e7 85.5px,#f0f0ff 86.5px,#a9a9ff 91.5px,#7474ff 118.5px,#5959ff 126.5px,#4646ff 129.5px)"></i><i style="left:34px;width:2px;background:linear-gradient(#0505ff 0.5px,#1d1dff 15.5px,#6363ff 35.5px,#8787ff 59.5px,#e8e8ff 66.5px,#f7f2fa 67.5px,#ffafaf 69.5px,#ff5858 71.5px,#ff0909 74.5px,#f00 75.5px,#ff0303 76.5px,#ff2828 78.5px,#ff4141 79.5px,#ff9b9b 81.5px,#fae1e7 83.5px,#f0f0ff 84.5px,#8c8cff 91.5px,#8383ff 93.5px,#5252ff 123.5px,#3a3aff 129.5px)"></i><i style="left:36px;width:2px;background:linear-gradient(#0404ff 0.5px,#1b1bff 16.5px,#5252ff 38.5px,#6969ff 58.5px,#9494ff 62.5px,#dedeff 67.5px,#f9f9ff 70.5px,#fffafa 71.5px,#ffdfdf 73.5px,#ffa9a9 75.5px,#ffb6b6 76.5px,#ffd8d8 77.5px,#fefcfd 80.5px,#d8d8ff 84.5px,#77f 91.5px,#6767ff 93.5px,#3939ff 126.5px,#3030ff 129.5px)"></i><i style="left:38px;width:2px;background:linear-gradient(#0404ff 0.5px,#1d1dff 19.5px,#44f 42.5px,#5151ff 57.5px,#6e6eff 60.5px,#ddf 67.5px,#fcfcff 70.5px,#ffefef 76.5px,#fffefe 80.5px,#d8d8ff 84.5px,#5c5cff 92.5px,#4e4eff 96.5px,#2626ff 129.5px)"></i><i style="left:40px;width:2px;background:linear-gradient(#0303ff 0.5px,#2020ff 24.5px,#4343ff 57.5px,#8c8cff 62.5px,#e4e4ff 68.5px,#fdfdff 71.5px,#fffbfb 78.5px,#fafaff 80.5px,#d3d3ff 84.5px,#4949ff 93.5px,#3d3dff 96.5px,#1e1eff 129.5px)"></i><i style="left:42px;width:2px;background:linear-gradient(#0303ff 0.5px,#2f2fff 53.5px,#3535ff 56.5px,#88f 62.5px,#dedeff 68.5px,#fbfbff 72.5px,#fafaff 79.5px,#dadaff 83.5px,#3a3aff 94.5px,#2f2fff 96.5px,#1818ff 129.5px)"></i><i style="left:44px;width:2px;background:linear-gradient(#0202ff 0.5px,#2929ff 55.5px,#66f 60.5px,#ceceff 67.5px,#f1f1ff 71.5px,#f9f9ff 77.5px,#e8e8ff 81.5px,#adadff 86.5px,#3939ff 94.5px,#2626ff 96.5px,#1313ff 129.5px)"></i><i style="left:46px;width:2px;background:linear-gradient(#0202ff 0.5px,#2020ff 54.5px,#5656ff 59.5px,#c9c9ff 67.5px,#ebebff 71.5px,#f3f3ff 77.5px,#dadaff 82.5px,#8b8bff 88.5px,#3838ff 94.5px,#1d1dff 97.5px,#0f0fff 129.5px)"></i><i style="left:48px;width:2px;background:linear-gradient(#0202ff 0.5px,#1818ff 53.5px,#4646ff 58.5px,#ceceff 68.5px,#ececff 73.5px,#e8e8ff 79.5px,#bfbfff 84.5px,#3636ff 94.5px,#1616ff 98.5px,#0b0bff 129.5px)"></i><i style="left:50px;width:2px;background:linear-gradient(#0101ff 0.5px,#1212ff 52.5px,#3a3aff 57.5px,#ccf 68.5px,#e9e9ff 73.5px,#e5e5ff 79.5px,#bdbdff 84.5px,#3636ff 94.5px,#11f 99.5px,#0909ff 129.5px)"></i><i style="left:52px;width:2px;background:linear-gradient(#0101ff 0.5px,#0e0eff 51.5px,#3030ff 56.5px,#8c8cff 63.5px,#ccf 68.5px,#e9e9ff 73.5px,#e5e5ff 79.5px,#bdbdff 84.5px,#3636ff 94.5px,#1010ff 99.5px,#0707ff 129.5px)"></i><i style="left:54px;width:2px;background:linear-gradient(#0101ff 0.5px,#0e0eff 51.5px,#3030ff 56.5px,#8c8cff 63.5px,#ccf 68.5px,#e9e9ff 73.5px,#e5e5ff 79.5px,#bdbdff 84.5px,#3636ff 94.5px,#1010ff 99.5px,#0808ff 107.5px,#0505ff 129.5px)"></i><i style="left:56px;width:2px;background:linear-gradient(#0101ff 0.5px,#0a0aff 50.5px,#2626ff 55.5px,#6e6eff 61.5px,#ccf 68.5px,#e9e9ff 73.5px,#e5e5ff 79.5px,#bdbdff 84.5px,#3636ff 94.5px,#1010ff 99.5px,#0707ff 105.5px,#0404ff 129.5px)"></i><i style="left:58px;width:2px;background:linear-gradient(#0101ff 0.5px,#0a0aff 50.5px,#2626ff 55.5px,#6f6fff 61.5px,#ccf 68.5px,#e9e9ff 73.5px,#e5e5ff 79.5px,#bdbdff 84.5px,#3636ff 94.5px,#1010ff 99.5px,#0505ff 105.5px,#0303ff 129.5px)"></i><i style="left:60px;width:4px;background:linear-gradient(#00f 0.5px,#0707ff 49.5px,#2626ff 55.5px,#6f6fff 61.5px,#cdcdff 68.5px,#eaeaff 73.5px,#e5e5ff 79.5px,#bdbdff 84.5px,#3636ff 94.5px,#1010ff 99.5px,#0303ff 106.5px,#0202ff 129.5px)"></i><i style="left:64px;width:2px;background:linear-gradient(#00f 0.5px,#0707ff 49.5px,#2626ff 55.5px,#6f6fff 61.5px,#cdcdff 68.5px,#eaeaff 73.5px,#e6e6ff 79.5px,#bebeff 84.5px,#3636ff 94.5px,#1010ff 99.5px,#0202ff 107.5px,#0101ff 129.5px)"></i><i style="left:66px;width:2px;background:linear-gradient(#00f 0.5px,#0505ff 48.5px,#1f1fff 54.5px,#5353ff 59.5px,#cdcdff 68.5px,#eaeaff 73.5px,#e6e6ff 79.5px,#bebeff 84.5px,#3636ff 94.5px,#1010ff 99.5px,#0202ff 107.5px,#0101ff 129.5px)"></i><i style="left:68px;width:2px;background:linear-gradient(#00f 0.5px,#0505ff 48.5px,#1f1fff 54.5px,#5353ff 59.5px,#cdcdff 68.5px,#eaeaff 73.5px,#e6e6ff 79.5px,#bebeff 84.5px,#3636ff 94.5px,#1010ff 99.5px,#0101ff 107.5px,#0101ff 129.5px)"></i><i style="left:70px;width:2px;background:linear-gradient(#00f 0.5px,#0505ff 48.5px,#1f1fff 54.5px,#5353ff 59.5px,#cdcdff 68.5px,#eaeaff 73.5px,#e6e6ff 79.5px,#bebeff 84.5px,#3636ff 94.5px,#1010ff 99.5px,#0101ff 108.5px,#0101ff 129.5px)"></i><i style="left:72px;width:2px;background:linear-gradient(#00f 0.5px,#0505ff 48.5px,#1f1fff 54.5px,#5353ff 59.5px,#cdcdff 68.5px,#eaeaff 73.5px,#e6e6ff 79.5px,#bebeff 84.5px,#3636ff 94.5px,#1010ff 99.5px,#0101ff 108.5px,#00f 129.5px)"></i><i style="left:74px;width:2px;background:linear-gradient(#00f 0.5px,#0505ff 48.5px,#1f1fff 54.5px,#5353ff 59.5px,#cdcdff 68.5px,#ebebff 73.5px,#e6e6ff 79.5px,#bebeff 84.5px,#3636ff 94.5px,#1010ff 99.5px,#0101ff 108.5px,#00f 129.5px)"></i><i style="left:76px;width:2px;background:linear-gradient(#00f 0.5px,#0505ff 48.5px,#1f1fff 54.5px,#5353ff 59.5px,#ceceff 68.5px,#ebebff 73.5px,#e7e7ff 79.5px,#bebeff 84.5px,#3636ff 94.5px,#1010ff 99.5px,#0101ff 108.5px,#00f 129.5px)"></i><i style="left:78px;width:2px;background:linear-gradient(#00f 0.5px,#0505ff 48.5px,#1f1fff 54.5px,#5353ff 59.5px,#ceceff 68.5px,#ebebff 73.5px,#e7e7ff 79.5px,#bebeff 84.5px,#3636ff 94.5px,#1010ff 99.5px,#0101ff 108.5px,#00f 129.5px)"></i><i style="left:80px;width:2px;background:linear-gradient(#00f 0.5px,#0505ff 48.5px,#1f1fff 54.5px,#5353ff 59.5px,#ceceff 68.5px,#ebebff 73.5px,#e7e7ff 79.5px,#bebeff 84.5px,#3636ff 94.5px,#1010ff 99.5px,#0101ff 108.5px,#00f 129.5px)"></i><i style="left:82px;width:2px;background:linear-gradient(#00f 0.5px,#0505ff 48.5px,#1f1fff 54.5px,#5353ff 59.5px,#ceceff 68.5px,#ebebff 73.5px,#e7e7ff 79.5px,#bfbfff 84.5px,#3636ff 94.5px,#1010ff 99.5px,#0101ff 108.5px,#00f 129.5px)"></i><i style="left:84px;width:2px;background:linear-gradient(#00f 0.5px,#0505ff 48.5px,#1f1fff 54.5px,#5353ff 59.5px,#ceceff 68.5px,#ebebff 73.5px,#e7e7ff 79.5px,#bfbfff 84.5px,#3636ff 94.5px,#1010ff 99.5px,#0101ff 108.5px,#00f 129.5px)"></i><i style="left:86px;width:2px;background:linear-gradient(#00f 0.5px,#0505ff 48.5px,#1f1fff 54.5px,#5353ff 59.5px,#ceceff 68.5px,#ebebff 73.5px,#e7e7ff 79.5px,#bfbfff 84.5px,#3636ff 94.5px,#1010ff 99.5px,#0101ff 108.5px,#00f 129.5px)"></i><i style="left:88px;width:2px;background:linear-gradient(#00f 0.5px,#0505ff 48.5px,#1f1fff 54.5px,#5353ff 59.5px,#ceceff 68.5px,#ececff 73.5px,#e7e7ff 79.5px,#bfbfff 84.5px,#3636ff 94.5px,#1010ff 99.5px,#0101ff 108.5px,#00f 129.5px)"></i><i style="left:90px;width:2px;background:linear-gradient(#00f 0.5px,#0505ff 48.5px,#1f1fff 54.5px,#5353ff 59.5px,#ceceff 68.5px,#ececff 73.5px,#e8e8ff 79.5px,#bfbfff 84.5px,#3636ff 94.5px,#1010ff 99.5px,#0101ff 108.5px,#00f 129.5px)"></i><i style="left:92px;width:2px;background:linear-gradient(#00f 0.5px,#0505ff 48.5px,#1f1fff 54.5px,#5353ff 59.5px,#cfcfff 68.5px,#ececff 73.5px,#e8e8ff 79.5px,#bfbfff 84.5px,#3636ff 94.5px,#1010ff 99.5px,#0101ff 108.5px,#00f 129.5px)"></i><i style="left:94px;width:2px;background:linear-gradient(#00f 0.5px,#0505ff 48.5px,#1f1fff 54.5px,#5353ff 59.5px,#cfcfff 68.5px,#ececff 73.5px,#e8e8ff 79.5px,#bfbfff 84.5px,#3636ff 94.5px,#1010ff 99.5px,#0101ff 108.5px,#00f 129.5px)"></i><i style="left:96px;width:2px;background:linear-gradient(#00f 0.5px,#0505ff 48.5px,#1f1fff 54.5px,#5353ff 59.5px,#cfcfff 68.5px,#ececff 73.5px,#e8e8ff 79.5px,#bfbfff 84.5px,#3636ff 94.5px,#1010ff 99.5px,#0101ff 108.5px,#00f 129.5px)"></i><i style="left:98px;width:2px;background:linear-gradient(#00f 0.5px,#0505ff 48.5px,#1f1fff 54.5px,#5454ff 59.5px,#cfcfff 68.5px,#ececff 73.5px,#e8e8ff 79.5px,#c0c0ff 84.5px,#3636ff 94.5px,#1010ff 99.5px,#0101ff 108.5px,#00f 129.5px)"></i><i style="left:100px;width:2px;background:linear-gradient(#00f 0.5px,#0505ff 48.5px,#1f1fff 54.5px,#5454ff 59.5px,#cfcfff 68.5px,#ececff 73.5px,#e8e8ff 79.5px,#c0c0ff 84.5px,#3636ff 94.5px,#1010ff 99.5px,#0101ff 108.5px,#00f 129.5px)"></i><i style="left:102px;width:2px;background:linear-gradient(#00f 0.5px,#0505ff 48.5px,#1f1fff 54.5px,#5454ff 59.5px,#c4c4ff 67.5px,#eaeaff 72.5px,#ececff 78.5px,#cbcbff 83.5px,#3636ff 94.5px,#11f 99.5px,#0101ff 108.5px,#00f 129.5px)"></i><i style="left:104px;width:2px;background:linear-gradient(#00f 0.5px,#0505ff 48.5px,#1f1fff 54.5px,#5454ff 59.5px,#c5c5ff 67.5px,#eaeaff 72.5px,#ececff 78.5px,#cbcbff 83.5px,#3636ff 94.5px,#11f 99.5px,#0101ff 108.5px,#00f 129.5px)"></i><i style="left:106px;width:2px;background:linear-gradient(#00f 0.5px,#0505ff 48.5px,#1f1fff 54.5px,#5454ff 59.5px,#c5c5ff 67.5px,#eaeaff 72.5px,#ececff 78.5px,#cbcbff 83.5px,#3737ff 94.5px,#11f 99.5px,#0101ff 108.5px,#00f 129.5px)"></i><i style="left:108px;width:2px;background:linear-gradient(#00f 0.5px,#0505ff 48.5px,#1f1fff 54.5px,#5454ff 59.5px,#c5c5ff 67.5px,#eaeaff 72.5px,#ececff 78.5px,#cbcbff 83.5px,#3737ff 94.5px,#11f 99.5px,#0101ff 108.5px,#00f 129.5px)"></i><i style="left:110px;width:2px;background:linear-gradient(#00f 0.5px,#0505ff 48.5px,#1f1fff 54.5px,#5454ff 59.5px,#c5c5ff 67.5px,#eaeaff 72.5px,#ececff 78.5px,#ccf 83.5px,#3737ff 94.5px,#11f 99.5px,#0101ff 108.5px,#00f 129.5px)"></i><i style="left:112px;width:2px;background:linear-gradient(#00f 0.5px,#0505ff 48.5px,#1f1fff 54.5px,#5454ff 59.5px,#c5c5ff 67.5px,#ebebff 72.5px,#ececff 78.5px,#ccf 83.5px,#3737ff 94.5px,#11f 99.5px,#0101ff 108.5px,#00f 129.5px)"></i><i style="left:114px;width:2px;background:linear-gradient(#00f 0.5px,#0505ff 48.5px,#1f1fff 54.5px,#5454ff 59.5px,#c5c5ff 67.5px,#ebebff 72.5px,#ededff 78.5px,#ccf 83.5px,#3737ff 94.5px,#11f 99.5px,#0101ff 108.5px,#00f 129.5px)"></i><i style="left:116px;width:2px;background:linear-gradient(#00f 0.5px,#0505ff 48.5px,#1f1fff 54.5px,#5454ff 59.5px,#c5c5ff 67.5px,#ebebff 72.5px,#ededff 78.5px,#ccf 83.5px,#3737ff 94.5px,#11f 99.5px,#0101ff 108.5px,#00f 129.5px)"></i><i style="left:118px;width:2px;background:linear-gradient(#00f 0.5px,#0505ff 48.5px,#1f1fff 54.5px,#5454ff 59.5px,#c5c5ff 67.5px,#ebebff 72.5px,#ededff 78.5px,#ccf 83.5px,#3737ff 94.5px,#11f 99.5px,#0101ff 108.5px,#00f 129.5px)"></i><i style="left:120px;width:2px;background:linear-gradient(#00f 0.5px,#0505ff 48.5px,#1f1fff 54.5px,#55f 59.5px,#c7c7ff 67.5px,#e8e8ff 71.5px,#f0f0ff 77.5px,#d7d7ff 82.5px,#8989ff 88.5px,#3737ff 94.5px,#11f 99.5px,#0101ff 108.5px,#00f 129.5px)"></i><i style="left:122px;width:2px;background:linear-gradient(#00f 0.5px,#0505ff 48.5px,#2020ff 54.5px,#55f 59.5px,#c9c9ff 67.5px,#ebebff 71.5px,#f3f3ff 77.5px,#dadaff 82.5px,#8b8bff 88.5px,#3838ff 94.5px,#11f 99.5px,#0101ff 108.5px,#00f 129.5px)"></i><i style="left:124px;width:2px;background:linear-gradient(#00f 0.5px,#0505ff 48.5px,#2020ff 54.5px,#5656ff 59.5px,#cbcbff 67.5px,#ededff 71.5px,#f5f5ff 77.5px,#dcdcff 82.5px,#8d8dff 88.5px,#3838ff 94.5px,#11f 99.5px,#0101ff 108.5px,#00f 129.5px)"></i><i style="left:126px;width:2px;background:linear-gradient(#00f 0.5px,#0606ff 48.5px,#2020ff 54.5px,#5757ff 59.5px,#cdcdff 67.5px,#f0f0ff 71.5px,#f8f8ff 77.5px,#e7e7ff 81.5px,#adadff 86.5px,#3939ff 94.5px,#11f 99.5px,#0101ff 107.5px,#00f 129.5px)"></i><i style="left:128px;width:2px;background:linear-gradient(#00f 0.5px,#0606ff 48.5px,#2121ff 54.5px,#5858ff 59.5px,#cfcfff 67.5px,#f2f2ff 71.5px,#fbfbff 77.5px,#e9e9ff 81.5px,#afafff 86.5px,#3939ff 94.5px,#11f 99.5px,#0101ff 107.5px,#00f 129.5px)"></i><i style="left:130px;width:2px;background:linear-gradient(#00f 0.5px,#0606ff 48.5px,#2121ff 54.5px,#5959ff 59.5px,#d1d1ff 67.5px,#f5f5ff 71.5px,#fdfdff 77.5px,#ececff 81.5px,#b0b0ff 86.5px,#3a3aff 94.5px,#1212ff 99.5px,#0101ff 107.5px,#00f 129.5px)"></i><i style="left:132px;width:2px;background:linear-gradient(#00f 0.5px,#0606ff 48.5px,#2121ff 54.5px,#5a5aff 59.5px,#d4d4ff 67.5px,#f7f7ff 71.5px,#fffefe 77.5px,#eef 81.5px,#b2b2ff 86.5px,#3b3bff 94.5px,#1212ff 99.5px,#0101ff 107.5px,#00f 129.5px)"></i><i style="left:134px;width:2px;background:linear-gradient(#00f 0.5px,#0606ff 48.5px,#22f 54.5px,#5b5bff 59.5px,#d6d6ff 67.5px,#fafaff 71.5px,#fdfdff 79.5px,#ddf 83.5px,#3b3bff 94.5px,#1212ff 99.5px,#0101ff 107.5px,#00f 129.5px)"></i><i style="left:136px;width:2px;background:linear-gradient(#00f 0.5px,#0606ff 48.5px,#22f 54.5px,#5c5cff 59.5px,#d8d8ff 67.5px,#fdfdff 71.5px,#fffbfb 78.5px,#fafaff 80.5px,#d3d3ff 84.5px,#3c3cff 94.5px,#1212ff 99.5px,#0101ff 107.5px,#00f 129.5px)"></i><i style="left:138px;width:2px;background:linear-gradient(#00f 0.5px,#0606ff 48.5px,#22f 54.5px,#5d5dff 59.5px,#dadaff 67.5px,#fffeff 71.5px,#fff6f6 77.5px,#fdfdff 80.5px,#d5d5ff 84.5px,#3c3cff 94.5px,#1212ff 99.5px,#0101ff 107.5px,#00f 129.5px)"></i><i style="left:140px;width:2px;background:linear-gradient(#00f 0.5px,#0606ff 48.5px,#2323ff 54.5px,#5e5eff 59.5px,#dcdcff 67.5px,#fbfbff 70.5px,#fff3f3 76.5px,#fffeff 80.5px,#d7d7ff 84.5px,#3d3dff 94.5px,#1313ff 99.5px,#0101ff 107.5px,#00f 129.5px)"></i><i style="left:142px;width:2px;background:linear-gradient(#00f 0.5px,#0606ff 48.5px,#2323ff 54.5px,#5f5fff 59.5px,#dfdfff 67.5px,#fefeff 70.5px,#fff0f0 75.5px,#fafaff 81.5px,#bbf 86.5px,#3e3eff 94.5px,#1313ff 99.5px,#0101ff 107.5px,#00f 129.5px)"></i><i style="left:144px;width:2px;background:linear-gradient(#00f 0.5px,#0606ff 48.5px,#2323ff 54.5px,#6060ff 59.5px,#e1e1ff 67.5px,#fffefe 70.5px,#ffeded 75.5px,#fffafa 80.5px,#fdfdff 81.5px,#bdbdff 86.5px,#3e3eff 94.5px,#1313ff 99.5px,#0101ff 107.5px,#00f 129.5px)"></i><i style="left:146px;width:2px;background:linear-gradient(#00f 0.5px,#0606ff 48.5px,#2424ff 54.5px,#6161ff 59.5px,#e3e3ff 67.5px,#fafaff 69.5px,#ffebeb 75.5px,#fff7f7 80.5px,#fffefe 81.5px,#cfcfff 85.5px,#3f3fff 94.5px,#1313ff 99.5px,#0101ff 107.5px,#00f 129.5px)"></i><i style="left:148px;width:2px;background:linear-gradient(#00f 0.5px,#0606ff 48.5px,#2424ff 54.5px,#6262ff 59.5px,#e5e5ff 67.5px,#fcfcff 69.5px,#ffe8e8 74.5px,#ffefef 79.5px,#fffcfc 81.5px,#ededff 83.5px,#4040ff 94.5px,#1313ff 99.5px,#0101ff 107.5px,#00f 129.5px)"></i><i style="left:150px;width:2px;background:linear-gradient(#00f 0.5px,#0404ff 47.5px,#1c1cff 53.5px,#5353ff 58.5px,#e7e7ff 67.5px,#fffeff 69.5px,#ffe7e7 73.5px,#ffecec 79.5px,#fbfbff 82.5px,#b2b2ff 87.5px,#4040ff 94.5px,#1313ff 99.5px,#0101ff 107.5px,#00f 129.5px)"></i><i style="left:152px;width:2px;background:linear-gradient(#00f 0.5px,#0404ff 47.5px,#1d1dff 53.5px,#5454ff 58.5px,#eaeaff 67.5px,#fffdfd 69.5px,#ffe5e5 73.5px,#ffeaea 79.5px,#fdfdff 82.5px,#b3b3ff 87.5px,#4141ff 94.5px,#1414ff 99.5px,#0101ff 107.5px,#00f 129.5px)"></i><i style="left:154px;width:2px;background:linear-gradient(#00f 0.5px,#0404ff 47.5px,#1d1dff 53.5px,#55f 58.5px,#ececff 67.5px,#f9f9ff 68.5px,#fffafa 69.5px,#ffe2e2 73.5px,#ffe7e7 79.5px,#fffefe 82.5px,#b5b5ff 87.5px,#4141ff 94.5px,#1414ff 99.5px,#0101ff 107.5px,#00f 129.5px)"></i><i style="left:156px;width:2px;background:linear-gradient(#00f 0.5px,#0505ff 47.5px,#1d1dff 53.5px,#5656ff 58.5px,#eef 67.5px,#fbfbff 68.5px,#ffdfdf 73.5px,#ffe5e5 79.5px,#fffcfc 82.5px,#e8e8ff 84.5px,#4242ff 94.5px,#1414ff 99.5px,#0202ff 106.5px,#00f 129.5px)"></i><i style="left:158px;width:2px;background:linear-gradient(#00f 0.5px,#0505ff 47.5px,#1d1dff 53.5px,#5656ff 58.5px,#f0f0ff 67.5px,#fdfdff 68.5px,#ffe0e0 72.5px,#ffdede 78.5px,#fffafa 82.5px,#f8f8ff 83.5px,#4343ff 94.5px,#1414ff 99.5px,#0202ff 106.5px,#00f 129.5px)"></i><i style="left:160px;width:2px;background:linear-gradient(#00f 0.5px,#0505ff 47.5px,#1e1eff 53.5px,#5757ff 58.5px,#f2f2ff 67.5px,#fffefe 68.5px,#ffdede 72.5px,#ffdbdb 78.5px,#fafaff 83.5px,#4343ff 94.5px,#1414ff 99.5px,#0202ff 106.5px,#00f 129.5px)"></i><i style="left:162px;width:2px;background:linear-gradient(#00f 0.5px,#0505ff 47.5px,#1e1eff 53.5px,#5858ff 58.5px,#f4f4ff 67.5px,#fffcfc 68.5px,#ffdbdb 72.5px,#ffd9d9 78.5px,#fff5f5 82.5px,#fdfdff 83.5px,#8484ff 90.5px,#3737ff 95.5px,#0f0fff 100.5px,#00f 109.5px,#00f 129.5px)"></i><i style="left:164px;width:2px;background:linear-gradient(#00f 0.5px,#0505ff 47.5px,#1e1eff 53.5px,#5959ff 58.5px,#f7f7ff 67.5px,#fffafa 68.5px,#ffd8d8 72.5px,#ffd6d6 78.5px,#fff3f3 82.5px,#fffeff 83.5px,#9898ff 89.5px,#44f 94.5px,#1515ff 99.5px,#0202ff 106.5px,#00f 129.5px)"></i><i style="left:166px;width:2px;background:linear-gradient(#00f 0.5px,#0505ff 47.5px,#1e1eff 53.5px,#5a5aff 58.5px,#f9f9ff 67.5px,#fff8f8 68.5px,#ffd6d6 72.5px,#ffd3d3 78.5px,#fff0f0 82.5px,#fffdfd 83.5px,#d2d2ff 86.5px,#5353ff 93.5px,#1b1bff 98.5px,#0404ff 104.5px,#00f 129.5px)"></i><i style="left:168px;width:2px;background:linear-gradient(#00f 0.5px,#0505ff 47.5px,#1f1fff 53.5px,#5a5aff 58.5px,#fbfbff 67.5px,#ffd3d3 72.5px,#ffd1d1 78.5px,#fee 82.5px,#fffbfb 83.5px,#f5f5ff 84.5px,#4646ff 94.5px,#1515ff 99.5px,#0202ff 106.5px,#00f 129.5px)"></i><i style="left:170px;width:2px;background:linear-gradient(#00f 0.5px,#0505ff 47.5px,#1f1fff 53.5px,#5b5bff 58.5px,#fdfdff 67.5px,#ffd7d7 71.5px,#ffcbcb 76.5px,#ffd9d9 80.5px,#fff9f9 83.5px,#f7f7ff 84.5px,#4646ff 94.5px,#1515ff 99.5px,#0202ff 106.5px,#00f 129.5px)"></i><i style="left:172px;width:2px;background:linear-gradient(#00f 0.5px,#0505ff 47.5px,#1f1fff 53.5px,#5b5bff 58.5px,#fefeff 67.5px,#ffd5d5 71.5px,#ffcaca 76.5px,#ffd8d8 80.5px,#fff8f8 83.5px,#f8f8ff 84.5px,#4646ff 94.5px,#1515ff 99.5px,#0202ff 106.5px,#00f 129.5px)"></i><i style="left:174px;width:2px;background:linear-gradient(#00f 0.5px,#0505ff 47.5px,#1f1fff 53.5px,#5c5cff 58.5px,#fff 67.5px,#ffd4d4 71.5px,#ffc9c9 76.5px,#ffd7d7 80.5px,#fff6f6 83.5px,#f9f9ff 84.5px,#4747ff 94.5px,#1515ff 99.5px,#0202ff 106.5px,#00f 129.5px)"></i><i style="left:176px;width:2px;background:linear-gradient(#00f 0.5px,#0505ff 47.5px,#1f1fff 53.5px,#5c5cff 58.5px,#f0f0ff 66.5px,#fffefe 67.5px,#ffd2d2 71.5px,#ffc7c7 76.5px,#ffd5d5 80.5px,#fafaff 84.5px,#4747ff 94.5px,#1616ff 99.5px,#0202ff 106.5px,#00f 129.5px)"></i><i style="left:178px;width:2px;background:linear-gradient(#00f 0.5px,#0505ff 47.5px,#2020ff 53.5px,#4d4dff 57.5px,#f1f1ff 66.5px,#fffdfd 67.5px,#ffd1d1 71.5px,#ffc6c6 76.5px,#ffd4d4 80.5px,#fbfbff 84.5px,#4747ff 94.5px,#1616ff 99.5px,#0202ff 106.5px,#00f 129.5px)"></i><i style="left:180px;width:2px;background:linear-gradient(#00f 0.5px,#0505ff 47.5px,#2020ff 53.5px,#4d4dff 57.5px,#f3f3ff 66.5px,#fffbfb 67.5px,#ffd0d0 71.5px,#ffc4c4 76.5px,#ffd2d2 80.5px,#fcfcff 84.5px,#4848ff 94.5px,#1616ff 99.5px,#0202ff 106.5px,#00f 129.5px)"></i><i style="left:182px;width:2px;background:linear-gradient(#00f 0.5px,#0505ff 47.5px,#2020ff 53.5px,#4e4eff 57.5px,#f4f4ff 66.5px,#fffafa 67.5px,#ffcece 71.5px,#ffc3c3 76.5px,#ffd1d1 80.5px,#fefeff 84.5px,#4848ff 94.5px,#1616ff 99.5px,#0202ff 106.5px,#00f 129.5px)"></i><i style="left:184px;width:2px;background:linear-gradient(#00f 0.5px,#0505ff 47.5px,#2020ff 53.5px,#4e4eff 57.5px,#f5f5ff 66.5px,#fff9f9 67.5px,#ffcdcd 71.5px,#ffc1c1 76.5px,#ffd0d0 80.5px,#fff 84.5px,#5757ff 93.5px,#2525ff 97.5px,#0909ff 102.5px,#00f 119.5px,#00f 129.5px)"></i><i style="left:186px;width:2px;background:linear-gradient(#00f 0.5px,#0505ff 47.5px,#2020ff 53.5px,#4f4fff 57.5px,#f6f6ff 66.5px,#fff8f8 67.5px,#fcc 71.5px,#ffc0c0 76.5px,#ffcece 80.5px,#fffefe 84.5px,#4949ff 94.5px,#1d1dff 98.5px,#0404ff 104.5px,#00f 129.5px)"></i><i style="left:188px;width:2px;background:linear-gradient(#00f 0.5px,#0505ff 47.5px,#2020ff 53.5px,#4f4fff 57.5px,#f7f7ff 66.5px,#fff7f7 67.5px,#ffcaca 71.5px,#ffbfbf 76.5px,#ffcdcd 80.5px,#fffdfd 84.5px,#b6b6ff 88.5px,#4949ff 94.5px,#1d1dff 98.5px,#0404ff 104.5px,#00f 129.5px)"></i><i style="left:190px;width:2px;background:linear-gradient(#00f 0.5px,#0505ff 47.5px,#2020ff 53.5px,#4f4fff 57.5px,#f8f8ff 66.5px,#fff6f6 67.5px,#ffc9c9 71.5px,#ffbdbd 76.5px,#fcc 80.5px,#fffcfc 84.5px,#dfdfff 86.5px,#5959ff 93.5px,#2626ff 97.5px,#0909ff 102.5px,#00f 119.5px,#00f 129.5px)"></i><i style="left:192px;width:2px;background:linear-gradient(#00f 0.5px,#0505ff 47.5px,#2121ff 53.5px,#5050ff 57.5px,#f9f9ff 66.5px,#ffe6e6 68.5px,#ffc2c2 72.5px,#ffbfbf 78.5px,#ffdede 82.5px,#fffbfb 84.5px,#e0e0ff 86.5px,#5959ff 93.5px,#2626ff 97.5px,#0909ff 102.5px,#00f 119.5px,#00f 129.5px)"></i><i style="left:194px;width:2px;background:linear-gradient(#00f 0.5px,#0505ff 47.5px,#2121ff 53.5px,#5050ff 57.5px,#fafaff 66.5px,#ffc6c6 71.5px,#ffbaba 76.5px,#ffc9c9 80.5px,#fffafa 84.5px,#f3f3ff 85.5px,#5959ff 93.5px,#2626ff 97.5px,#0909ff 102.5px,#00f 119.5px,#00f 129.5px)"></i><i style="left:196px;width:2px;background:linear-gradient(#00f 0.5px,#0505ff 47.5px,#2121ff 53.5px,#5050ff 57.5px,#fbfbff 66.5px,#ffcdcd 70.5px,#ffb9b9 74.5px,#ffc1c1 79.5px,#ffe9e9 83.5px,#fff8f8 84.5px,#f4f4ff 85.5px,#5a5aff 93.5px,#2626ff 97.5px,#0909ff 102.5px,#00f 119.5px,#00f 129.5px)"></i><i style="left:198px;width:2px;background:linear-gradient(#00f 0.5px,#0505ff 47.5px,#2121ff 53.5px,#5151ff 57.5px,#fdfdff 66.5px,#ffcbcb 70.5px,#ffb8b8 74.5px,#ffc0c0 79.5px,#ffe8e8 83.5px,#fff7f7 84.5px,#f5f5ff 85.5px,#5a5aff 93.5px,#2626ff 97.5px,#0909ff 102.5px,#00f 118.5px,#00f 129.5px)"></i><i style="left:200px;width:2px;background:linear-gradient(#00f 0.5px,#0505ff 47.5px,#2121ff 53.5px,#5151ff 57.5px,#fefeff 66.5px,#ffcaca 70.5px,#ffb6b6 74.5px,#ffbebe 79.5px,#ffe7e7 83.5px,#fff6f6 84.5px,#f6f6ff 85.5px,#5b5bff 93.5px,#2727ff 97.5px,#0909ff 102.5px,#00f 118.5px,#00f 129.5px)"></i><i style="left:202px;width:2px;background:linear-gradient(#00f 0.5px,#0505ff 47.5px,#2121ff 53.5px,#5151ff 57.5px,#fff 66.5px,#ffc9c9 70.5px,#ffb5b5 74.5px,#ffbdbd 79.5px,#ffe5e5 83.5px,#fff5f5 84.5px,#f8f8ff 85.5px,#5b5bff 93.5px,#2727ff 97.5px,#0909ff 102.5px,#00f 118.5px,#00f 129.5px)"></i><i style="left:204px;width:2px;background:linear-gradient(#00f 0.5px,#0505ff 47.5px,#1a1aff 52.5px,#4343ff 56.5px,#9c9cff 61.5px,#fffefe 66.5px,#ffc7c7 70.5px,#ffb4b4 74.5px,#fbb 79.5px,#ffe4e4 83.5px,#fff4f4 84.5px,#f9f9ff 85.5px,#5b5bff 93.5px,#2727ff 97.5px,#0909ff 102.5px,#00f 118.5px,#00f 129.5px)"></i><i style="left:206px;width:2px;background:linear-gradient(#00f 0.5px,#0505ff 47.5px,#1a1aff 52.5px,#4343ff 56.5px,#9c9cff 61.5px,#fffdfd 66.5px,#ffc6c6 70.5px,#ffb2b2 74.5px,#ffbaba 79.5px,#ffe3e3 83.5px,#fafaff 85.5px,#5c5cff 93.5px,#2727ff 97.5px,#0909ff 102.5px,#00f 118.5px,#00f 129.5px)"></i><i style="left:208px;width:2px;background:linear-gradient(#00f 0.5px,#0505ff 47.5px,#1a1aff 52.5px,#44f 56.5px,#9d9dff 61.5px,#efefff 65.5px,#fffcfc 66.5px,#ffc5c5 70.5px,#ffb1b1 74.5px,#ffb9b9 79.5px,#ffe2e2 83.5px,#fbfbff 85.5px,#5c5cff 93.5px,#2727ff 97.5px,#0909ff 102.5px,#00f 118.5px,#00f 129.5px)"></i><i style="left:210px;width:2px;background:linear-gradient(#00f 0.5px,#0505ff 47.5px,#1a1aff 52.5px,#44f 56.5px,#9e9eff 61.5px,#f0f0ff 65.5px,#fffbfb 66.5px,#ffc3c3 70.5px,#ffafaf 74.5px,#ffb7b7 79.5px,#ffe0e0 83.5px,#fcfcff 85.5px,#5d5dff 93.5px,#2727ff 97.5px,#0909ff 102.5px,#00f 118.5px,#00f 129.5px)"></i><i style="left:212px;width:2px;background:linear-gradient(#00f 0.5px,#0505ff 47.5px,#1a1aff 52.5px,#44f 56.5px,#9e9eff 61.5px,#f1f1ff 65.5px,#fffafa 66.5px,#ffc2c2 70.5px,#ffaeae 74.5px,#ffb6b6 79.5px,#ffdfdf 83.5px,#fdfdff 85.5px,#5d5dff 93.5px,#2828ff 97.5px,#0909ff 102.5px,#00f 117.5px,#00f 129.5px)"></i><i style="left:214px;width:2px;background:linear-gradient(#00f 0.5px,#0505ff 47.5px,#1a1aff 52.5px,#44f 56.5px,#9f9fff 61.5px,#f2f2ff 65.5px,#fff9f9 66.5px,#ffc1c1 70.5px,#ffadad 74.5px,#ffb4b4 79.5px,#ffdede 83.5px,#fefeff 85.5px,#5d5dff 93.5px,#2828ff 97.5px,#0909ff 102.5px,#00f 117.5px,#00f 129.5px)"></i><i style="left:216px;width:2px;background:linear-gradient(#00f 0.5px,#0505ff 47.5px,#1a1aff 52.5px,#4545ff 56.5px,#a0a0ff 61.5px,#f4f4ff 65.5px,#fff8f8 66.5px,#ffbfbf 70.5px,#ffabab 74.5px,#ffb3b3 79.5px,#fdd 83.5px,#fff 85.5px,#5e5eff 93.5px,#2828ff 97.5px,#0909ff 102.5px,#00f 117.5px,#00f 129.5px)"></i><i style="left:218px;width:2px;background:linear-gradient(#00f 0.5px,#0505ff 47.5px,#1a1aff 52.5px,#4545ff 56.5px,#a0a0ff 61.5px,#f5f5ff 65.5px,#fff6f6 66.5px,#ffbebe 70.5px,#faa 74.5px,#ffb2b2 79.5px,#ffdcdc 83.5px,#fffefe 85.5px,#5e5eff 93.5px,#2828ff 97.5px,#0909ff 102.5px,#00f 117.5px,#00f 129.5px)"></i><i style="left:220px;width:2px;background:linear-gradient(#00f 0.5px,#0505ff 47.5px,#1a1aff 52.5px,#4545ff 56.5px,#a1a1ff 61.5px,#f5f5ff 65.5px,#fff6f6 66.5px,#ffbdbd 70.5px,#ffa9a9 74.5px,#ffb1b1 79.5px,#ffdbdb 83.5px,#fffdfd 85.5px,#5e5eff 93.5px,#2828ff 97.5px,#0909ff 102.5px,#00f 117.5px,#00f 129.5px)"></i><i style="left:222px;width:2px;background:linear-gradient(#00f 0.5px,#0505ff 47.5px,#1b1bff 52.5px,#4545ff 56.5px,#a1a1ff 61.5px,#f6f6ff 65.5px,#fff5f5 66.5px,#ffbcbc 70.5px,#ffa8a8 74.5px,#ffb0b0 79.5px,#ffdada 83.5px,#fffcfc 85.5px,#c4c4ff 88.5px,#4e4eff 94.5px,#1f1fff 98.5px,#0505ff 104.5px,#00f 129.5px)"></i><i style="left:224px;width:2px;background:linear-gradient(#00f 0.5px,#0505ff 47.5px,#1b1bff 52.5px,#4646ff 56.5px,#a2a2ff 61.5px,#f7f7ff 65.5px,#fff4f4 66.5px,#fbb 70.5px,#ffa7a7 74.5px,#ffafaf 79.5px,#ffd9d9 83.5px,#fffcfc 85.5px,#dadaff 87.5px,#5f5fff 93.5px,#2828ff 97.5px,#0909ff 102.5px,#00f 117.5px,#00f 129.5px)"></i><i style="left:226px;width:2px;background:linear-gradient(#00f 0.5px,#0505ff 47.5px,#1b1bff 52.5px,#4646ff 56.5px,#a2a2ff 61.5px,#f7f7ff 65.5px,#fff4f4 66.5px,#fbb 70.5px,#ffa6a6 74.5px,#ffaeae 79.5px,#ffd9d9 83.5px,#fffbfb 85.5px,#dadaff 87.5px,#5f5fff 93.5px,#2828ff 97.5px,#0909ff 102.5px,#00f 117.5px,#00f 129.5px)"></i><i style="left:228px;width:2px;background:linear-gradient(#00f 0.5px,#0505ff 47.5px,#1b1bff 52.5px,#4646ff 56.5px,#a2a2ff 61.5px,#f8f8ff 65.5px,#fff3f3 66.5px,#ffbaba 70.5px,#ffa5a5 74.5px,#ffadad 79.5px,#ffd8d8 83.5px,#fffbfb 85.5px,#dbdbff 87.5px,#5f5fff 93.5px,#2929ff 97.5px,#0909ff 102.5px,#00f 117.5px,#00f 129.5px)"></i><i style="left:230px;width:2px;background:linear-gradient(#00f 0.5px,#0505ff 47.5px,#1b1bff 52.5px,#4646ff 56.5px,#a3a3ff 61.5px,#f8f8ff 65.5px,#fff2f2 66.5px,#ffb9b9 70.5px,#ffa4a4 74.5px,#ffadad 79.5px,#ffd7d7 83.5px,#fffafa 85.5px,#f0f0ff 86.5px,#6060ff 93.5px,#2929ff 97.5px,#0909ff 102.5px,#00f 117.5px,#00f 129.5px)"></i><i style="left:232px;width:2px;background:linear-gradient(#00f 0.5px,#0505ff 47.5px,#1b1bff 52.5px,#4646ff 56.5px,#a3a3ff 61.5px,#f9f9ff 65.5px,#fff2f2 66.5px,#ffb8b8 70.5px,#ffa4a4 74.5px,#ffacac 79.5px,#ffd6d6 83.5px,#fff9f9 85.5px,#f1f1ff 86.5px,#6060ff 93.5px,#2929ff 97.5px,#0a0aff 102.5px,#00f 117.5px,#00f 129.5px)"></i><i style="left:234px;width:2px;background:linear-gradient(#00f 0.5px,#0505ff 47.5px,#1b1bff 52.5px,#4646ff 56.5px,#a3a3ff 61.5px,#f9f9ff 65.5px,#ffdfdf 67.5px,#ffafaf 71.5px,#ffa2a2 75.5px,#ffabab 79.5px,#ffd6d6 83.5px,#fff9f9 85.5px,#f1f1ff 86.5px,#6060ff 93.5px,#2929ff 97.5px,#0a0aff 102.5px,#00f 117.5px,#00f 129.5px)"></i><i style="left:236px;width:2px;background:linear-gradient(#00f 0.5px,#0505ff 47.5px,#1b1bff 52.5px,#4747ff 56.5px,#a4a4ff 61.5px,#fafaff 65.5px,#ffb7b7 70.5px,#ffa2a2 74.5px,#faa 79.5px,#ffd5d5 83.5px,#fff8f8 85.5px,#f2f2ff 86.5px,#6060ff 93.5px,#2929ff 97.5px,#0a0aff 102.5px,#00f 117.5px,#00f 129.5px)"></i><i style="left:238px;width:2px;background:linear-gradient(#00f 0.5px,#0505ff 47.5px,#1b1bff 52.5px,#4747ff 56.5px,#a4a4ff 61.5px,#fbfbff 65.5px,#ffb6b6 70.5px,#ffa1a1 74.5px,#ffa9a9 79.5px,#ffd4d4 83.5px,#fff8f8 85.5px,#f2f2ff 86.5px,#6060ff 93.5px,#2929ff 97.5px,#0a0aff 102.5px,#00f 117.5px,#00f 129.5px)"></i><i style="left:240px;width:2px;background:linear-gradient(#00f 0.5px,#0505ff 47.5px,#1b1bff 52.5px,#4747ff 56.5px,#a5a5ff 61.5px,#fbfbff 65.5px,#ffc0c0 69.5px,#ffa2a2 73.5px,#ffa4a4 78.5px,#ffc5c5 82.5px,#fff7f7 85.5px,#f3f3ff 86.5px,#6161ff 93.5px,#2929ff 97.5px,#0a0aff 102.5px,#00f 116.5px,#00f 129.5px)"></i><i style="left:242px;width:2px;background:linear-gradient(#00f 0.5px,#0505ff 47.5px,#1b1bff 52.5px,#4747ff 56.5px,#a5a5ff 61.5px,#fcfcff 65.5px,#ffbfbf 69.5px,#ffa2a2 73.5px,#ffa3a3 78.5px,#ffc5c5 82.5px,#fff6f6 85.5px,#f4f4ff 86.5px,#6161ff 93.5px,#2929ff 97.5px,#0a0aff 102.5px,#00f 116.5px,#00f 129.5px)"></i><i style="left:244px;width:1px;background:linear-gradient(#00f 0.5px,#0505ff 47.5px,#1b1bff 52.5px,#4747ff 56.5px,#a5a5ff 61.5px,#fcfcff 65.5px,#ffbfbf 69.5px,#ffa1a1 73.5px,#ffa2a2 78.5px,#ffc4c4 82.5px,#fff6f6 85.5px,#f4f4ff 86.5px,#6161ff 93.5px,#2929ff 97.5px,#0a0aff 102.5px,#00f 116.5px,#00f 129.5px)"></i></div>
<div class="hm" style="left:573px;top:520px;width:424px;height:130px"><i style="left:0px;width:8px;background:linear-gradient(#00f 0.5px,#0d0dff 68.5px,#2f2fff 79.5px,#6363ff 86.5px,#bbf 93.5px,#f9f9ff 97.5px,#fffefe 98.5px,#ffecec 100.5px,#ffb1b1 103.5px,#ff2323 109.5px,#ff0707 111.5px,#f00 116.5px,#f00 129.5px)"></i><i style="left:8px;width:2px;background:linear-gradient(#00f 0.5px,#0707ff 29.5px,#1717ff 43.5px,#2121ff 73.5px,#3535ff 80.5px,#6d6dff 87.5px,#cbcbff 94.5px,#f9f9ff 97.5px,#fffefe 98.5px,#ffecec 100.5px,#ffb1b1 103.5px,#ff2323 109.5px,#ff0707 111.5px,#f00 116.5px,#f00 129.5px)"></i><i style="left:10px;width:2px;background:linear-gradient(#00f 0.5px,#0b0bff 20.5px,#2727ff 26.5px,#55f 30.5px,#9292ff 33.5px,#e5e5ff 36.5px,#fcf7fa 37.5px,#ffe1e1 38.5px,#ff9292 40.5px,#ff8080 41.5px,#ff8080 51.5px,#ffa2a2 52.5px,#ffa2a2 62.5px,#fcbdbf 64.5px,#fcbdbf 75.5px,#fbd3d7 76.5px,#f9d1d7 94.5px,#fcbdbf 95.5px,#ffb7b7 97.5px,#ffa2a2 98.5px,#ffa2a2 99.5px,#ff8383 100.5px,#ff7a7a 101.5px,#ff3e3e 102.5px,#ff1717 103.5px,#ff0101 104.5px,#f00 129.5px)"></i><i style="left:12px;width:2px;background:linear-gradient(#00f 0.5px,#0b0bff 20.5px,#2626ff 26.5px,#5353ff 30.5px,#a2a2ff 34.5px,#cdcdff 36.5px,#efefff 39.5px,#f6ecf4 40.5px,#ff7a7a 44.5px,#ff2020 46.5px,#ff0505 47.5px,#f00 75.5px,#ff0505 86.5px,#f00 129.5px)"></i><i style="left:14px;width:2px;background:linear-gradient(#00f 0.5px,#0a0aff 20.5px,#2323ff 26.5px,#5656ff 31.5px,#a8a8ff 37.5px,#efefff 45.5px,#fcd0d3 47.5px,#ff9d9d 48.5px,#ff6060 49.5px,#ff3535 50.5px,#ff0303 52.5px,#f00 129.5px)"></i><i style="left:16px;width:2px;background:linear-gradient(#00f 0.5px,#0909ff 20.5px,#2424ff 27.5px,#a1a1ff 42.5px,#d5d5ff 47.5px,#ebebff 49.5px,#f4eefa 50.5px,#f8e5eb 51.5px,#fcc6c9 52.5px,#ff9d9d 53.5px,#ff5c5c 54.5px,#ff2828 55.5px,#ff0505 56.5px,#f00 113.5px,#ff0909 116.5px,#ff1414 117.5px,#ff1717 120.5px,#ff2828 121.5px,#ff2828 124.5px,#ff4040 125.5px,#ff4040 126.5px,#ff5858 127.5px,#ffa2a2 129.5px)"></i><i style="left:18px;width:2px;background:linear-gradient(#00f 0.5px,#0909ff 21.5px,#2727ff 29.5px,#7d7dff 42.5px,#f3f3ff 54.5px,#fcf2f4 55.5px,#ff9191 56.5px,#ff0606 57.5px,#f00 61.5px,#ff0303 103.5px,#ff2828 106.5px,#ff7a7a 109.5px,#ff8383 110.5px,#ffa2a2 111.5px,#fcbdbf 113.5px,#fbd3d7 114.5px,#f9d1d7 116.5px,#f6e2eb 117.5px,#f6e2eb 120.5px,#f4eefa 121.5px,#ececff 127.5px,#ddf 129.5px)"></i><i style="left:20px;width:2px;background:linear-gradient(#00f 0.5px,#0a0aff 22.5px,#2727ff 30.5px,#7a7aff 39.5px,#e5e5ff 49.5px,#f2edfa 51.5px,#fcd0d3 53.5px,#ffafaf 54.5px,#ff2828 56.5px,#f00 57.5px,#f00 96.5px,#ff0e0e 97.5px,#ff7a7a 100.5px,#ff8c8c 101.5px,#ffafaf 102.5px,#f9d5da 104.5px,#f4eefa 106.5px,#c8c8ff 116.5px,#aeaeff 128.5px,#a6a6ff 129.5px)"></i><i style="left:22px;width:2px;background:linear-gradient(#00f 0.5px,#0a0aff 21.5px,#2525ff 28.5px,#5b5bff 34.5px,#e7e7ff 44.5px,#efefff 45.5px,#f6ecf4 46.5px,#fcd0d3 47.5px,#ff7a7a 49.5px,#ff2020 52.5px,#ff0909 53.5px,#f00 55.5px,#f00 94.5px,#ff0505 95.5px,#ff8080 96.5px,#fbd7da 97.5px,#f5f0fa 98.5px,#acacff 109.5px,#8c8cff 118.5px,#7e7eff 128.5px,#7878ff 129.5px)"></i><i style="left:24px;width:2px;background:linear-gradient(#00f 0.5px,#0909ff 20.5px,#2626ff 27.5px,#5959ff 32.5px,#9696ff 36.5px,#e0e0ff 40.5px,#efefff 41.5px,#f8e5eb 42.5px,#ffc3c3 43.5px,#ff4141 45.5px,#ff0909 47.5px,#f00 49.5px,#ff0303 95.5px,#ff9b9b 97.5px,#fcbdbf 98.5px,#f6e2eb 100.5px,#f4eefa 101.5px,#eef 102.5px,#b0b0ff 106.5px,#7e7eff 109.5px,#6363ff 119.5px,#55f 129.5px)"></i><i style="left:26px;width:2px;background:linear-gradient(#00f 0.5px,#0b0bff 20.5px,#2525ff 26.5px,#5a5aff 31.5px,#e4e4ff 38.5px,#f8f3fa 39.5px,#ffc3c3 40.5px,#ff6969 41.5px,#ff2828 42.5px,#ff0303 43.5px,#f00 98.5px,#ff2828 101.5px,#ff5c5c 102.5px,#fbf6fa 104.5px,#e4e4ff 105.5px,#7b7bff 109.5px,#5757ff 111.5px,#4747ff 116.5px,#4747ff 129.5px)"></i><i style="left:28px;width:2px;background:linear-gradient(#00f 0.5px,#0a0aff 19.5px,#22f 25.5px,#4a4aff 29.5px,#9191ff 33.5px,#f4f4ff 37.5px,#ffcece 38.5px,#ff5656 39.5px,#ff0d0d 40.5px,#f00 41.5px,#f00 101.5px,#ff1818 102.5px,#ffa4a4 103.5px,#f9f4fa 104.5px,#c5c5ff 106.5px,#66f 110.5px,#3a3aff 113.5px,#4747ff 129.5px)"></i><i style="left:30px;width:2px;background:linear-gradient(#00f 0.5px,#0a0aff 19.5px,#2525ff 25.5px,#5050ff 29.5px,#8989ff 32.5px,#f1f1ff 36.5px,#fcc 37.5px,#ff3131 38.5px,#f00 39.5px,#f00 100.5px,#ff2121 101.5px,#ffa1a1 102.5px,#f9f4fa 103.5px,#c9c9ff 105.5px,#6f6fff 109.5px,#3737ff 113.5px,#4747ff 129.5px)"></i><i style="left:32px;width:2px;background:linear-gradient(#00f 0.5px,#0a0aff 19.5px,#2525ff 25.5px,#5252ff 29.5px,#8c8cff 32.5px,#fafaff 36.5px,#ff0101 38.5px,#f00 98.5px,#ff0d0d 99.5px,#ff5656 100.5px,#ffcece 101.5px,#f4f4ff 102.5px,#7171ff 108.5px,#3838ff 112.5px,#4747ff 129.5px)"></i><i style="left:34px;width:2px;background:linear-gradient(#00f 0.5px,#0a0aff 19.5px,#2525ff 25.5px,#5151ff 29.5px,#8b8bff 32.5px,#f7f7ff 36.5px,#ffa0a0 37.5px,#ff0c0c 38.5px,#f00 39.5px,#f00 97.5px,#ff2121 98.5px,#ffa1a1 99.5px,#f9f4fa 100.5px,#cfcfff 102.5px,#6d6dff 107.5px,#3939ff 111.5px,#3838ff 114.5px,#4747ff 129.5px)"></i><i style="left:36px;width:2px;background:linear-gradient(#00f 0.5px,#0a0aff 19.5px,#2323ff 25.5px,#4d4dff 29.5px,#8383ff 32.5px,#ebebff 36.5px,#ffe6e6 37.5px,#ff5454 38.5px,#ff0303 39.5px,#ff0505 96.5px,#ff4a4a 97.5px,#ffcece 98.5px,#f4f4ff 99.5px,#8585ff 104.5px,#4141ff 109.5px,#33f 111.5px,#4747ff 129.5px)"></i><i style="left:38px;width:2px;background:linear-gradient(#00f 0.5px,#0909ff 19.5px,#2020ff 25.5px,#4646ff 29.5px,#8c8cff 33.5px,#ebebff 37.5px,#fbe7eb 38.5px,#ff1717 40.5px,#f00 41.5px,#f00 94.5px,#ff2929 95.5px,#ff9c9c 96.5px,#fbf1f4 97.5px,#e8e8ff 98.5px,#6d6dff 104.5px,#3c3cff 108.5px,#3131ff 110.5px,#4747ff 128.5px,#4747ff 129.5px)"></i><i style="left:40px;width:2px;background:linear-gradient(#00f 0.5px,#0a0aff 20.5px,#2323ff 26.5px,#5757ff 31.5px,#b2b2ff 36.5px,#f6f1fa 39.5px,#ffc3c3 40.5px,#ff5656 41.5px,#ff0d0d 42.5px,#f00 43.5px,#f00 91.5px,#ff1717 92.5px,#ff5252 93.5px,#ffa9a9 94.5px,#fbe3e7 95.5px,#ededff 96.5px,#7676ff 102.5px,#3737ff 107.5px,#2e2eff 109.5px,#4747ff 128.5px,#4747ff 129.5px)"></i><i style="left:42px;width:2px;background:linear-gradient(#00f 0.5px,#0909ff 20.5px,#2424ff 27.5px,#5353ff 32.5px,#9494ff 36.5px,#e4e4ff 40.5px,#f6f1fa 41.5px,#fcd0d3 42.5px,#ff7575 43.5px,#ff2828 44.5px,#ff0303 45.5px,#f00 88.5px,#ff0e0e 89.5px,#ff3b3b 90.5px,#fcd8da 92.5px,#f4eefa 93.5px,#b1b1ff 97.5px,#5f5fff 102.5px,#2c2cff 107.5px,#4747ff 128.5px,#4747ff 129.5px)"></i><i style="left:44px;width:2px;background:linear-gradient(#00f 0.5px,#0909ff 21.5px,#2929ff 29.5px,#5a5aff 34.5px,#a7a7ff 39.5px,#ededff 43.5px,#f8e5eb 44.5px,#ffc3c3 45.5px,#ff4141 47.5px,#ff0909 49.5px,#f00 51.5px,#f00 84.5px,#ff0909 85.5px,#ff6969 87.5px,#ffafaf 88.5px,#fbd7da 89.5px,#f5f0fa 90.5px,#d9d9ff 92.5px,#7c7cff 98.5px,#4040ff 103.5px,#2a2aff 106.5px,#4747ff 127.5px,#4747ff 129.5px)"></i><i style="left:46px;width:2px;background:linear-gradient(#00f 0.5px,#0909ff 22.5px,#2626ff 30.5px,#5a5aff 36.5px,#e7e7ff 46.5px,#efefff 47.5px,#f6ecf4 48.5px,#fcd0d3 49.5px,#ffa2a2 50.5px,#ff8383 51.5px,#ff4d4d 52.5px,#ff2626 53.5px,#ff0e0e 54.5px,#f00 57.5px,#ff0303 78.5px,#ff2020 80.5px,#ff3535 81.5px,#ffb7b7 84.5px,#f6ecf4 86.5px,#ebebff 87.5px,#5c5cff 98.5px,#2a2aff 104.5px,#33f 111.5px,#4747ff 129.5px)"></i><i style="left:48px;width:2px;background:linear-gradient(#00f 0.5px,#0a0aff 24.5px,#2d2dff 33.5px,#6d6dff 40.5px,#e5e5ff 51.5px,#efefff 52.5px,#f6ebf4 53.5px,#f9d5da 54.5px,#fbd3d7 55.5px,#ffa2a2 57.5px,#ff8383 58.5px,#ff7a7a 59.5px,#ff2828 62.5px,#ff2828 64.5px,#ff1717 65.5px,#ff1414 69.5px,#ff2828 70.5px,#ff2828 71.5px,#ff4040 72.5px,#ff6969 75.5px,#ffa2a2 77.5px,#fcc6c9 78.5px,#f2edfa 81.5px,#ececff 82.5px,#bbf 87.5px,#6060ff 95.5px,#2a2aff 102.5px,#2626ff 105.5px,#4747ff 126.5px,#4747ff 129.5px)"></i><i style="left:50px;width:2px;background:linear-gradient(#00f 0.5px,#0a0aff 25.5px,#2727ff 34.5px,#7373ff 44.5px,#c8c8ff 54.5px,#efefff 61.5px,#f4eefa 64.5px,#f6e2eb 65.5px,#f6e2eb 69.5px,#f5f0fa 70.5px,#dfdfff 76.5px,#8c8cff 87.5px,#4e4eff 94.5px,#2323ff 101.5px,#4747ff 127.5px,#4747ff 129.5px)"></i><i style="left:52px;width:2px;background:linear-gradient(#00f 0.5px,#0a0aff 27.5px,#2a2aff 37.5px,#8282ff 51.5px,#babaff 62.5px,#c1c1ff 70.5px,#9797ff 79.5px,#2d2dff 96.5px,#1d1dff 101.5px,#4646ff 125.5px,#4747ff 129.5px)"></i><i style="left:54px;width:2px;background:linear-gradient(#00f 0.5px,#0c0cff 30.5px,#3939ff 44.5px,#7979ff 58.5px,#9696ff 67.5px,#8e8eff 72.5px,#2020ff 96.5px,#1b1bff 100.5px,#4646ff 124.5px,#4747ff 129.5px)"></i><i style="left:56px;width:2px;background:linear-gradient(#00f 0.5px,#0e0eff 33.5px,#3d3dff 50.5px,#5959ff 57.5px,#9393ff 65.5px,#9696ff 70.5px,#7373ff 76.5px,#44f 82.5px,#1717ff 97.5px,#4646ff 125.5px,#4747ff 129.5px)"></i><i style="left:58px;width:4px;background:linear-gradient(#00f 0.5px,#0e0eff 32.5px,#3737ff 50.5px,#5151ff 56.5px,#8e8eff 64.5px,#9898ff 69.5px,#7b7bff 75.5px,#44f 82.5px,#1717ff 98.5px,#4646ff 124.5px,#4747ff 129.5px)"></i><i style="left:62px;width:2px;background:linear-gradient(#00f 0.5px,#0d0dff 31.5px,#3636ff 48.5px,#5959ff 57.5px,#9393ff 65.5px,#9696ff 70.5px,#7373ff 76.5px,#5050ff 81.5px,#1919ff 98.5px,#4646ff 125.5px,#4747ff 129.5px)"></i><i style="left:64px;width:2px;background:linear-gradient(#00f 0.5px,#0e0eff 31.5px,#3636ff 47.5px,#6b6bff 59.5px,#9393ff 65.5px,#9696ff 70.5px,#7373ff 76.5px,#55f 81.5px,#1b1bff 98.5px,#4747ff 126.5px,#4747ff 129.5px)"></i><i style="left:66px;width:2px;background:linear-gradient(#00f 0.5px,#0d0dff 30.5px,#3232ff 45.5px,#7373ff 60.5px,#9696ff 66.5px,#9393ff 71.5px,#6060ff 80.5px,#1c1cff 98.5px,#4747ff 126.5px,#4747ff 129.5px)"></i><i style="left:68px;width:2px;background:linear-gradient(#00f 0.5px,#0e0eff 30.5px,#3535ff 45.5px,#9898ff 67.5px,#8e8eff 72.5px,#2a2aff 94.5px,#1b1bff 100.5px,#4646ff 124.5px,#4747ff 129.5px)"></i><i style="left:70px;width:2px;background:linear-gradient(#00f 0.5px,#0f0fff 30.5px,#3434ff 44.5px,#9696ff 66.5px,#9393ff 71.5px,#22f 97.5px,#1d1dff 101.5px,#4646ff 125.5px,#4747ff 129.5px)"></i><i style="left:72px;width:2px;background:linear-gradient(#0101ff 0.5px,#0e0eff 29.5px,#33f 43.5px,#9494ff 63.5px,#99f 71.5px,#7070ff 81.5px,#2727ff 96.5px,#1d1dff 101.5px,#4646ff 125.5px,#4747ff 129.5px)"></i><i style="left:74px;width:2px;background:linear-gradient(#0101ff 0.5px,#0f0fff 29.5px,#3131ff 42.5px,#9e9eff 63.5px,#a6a6ff 70.5px,#8383ff 79.5px,#2d2dff 95.5px,#1d1dff 101.5px,#4646ff 125.5px,#4747ff 129.5px)"></i><i style="left:76px;width:2px;background:linear-gradient(#0101ff 0.5px,#0e0eff 28.5px,#3030ff 41.5px,#7f7fff 55.5px,#adadff 64.5px,#afafff 71.5px,#8585ff 80.5px,#3434ff 94.5px,#1d1dff 101.5px,#4646ff 125.5px,#4747ff 129.5px)"></i><i style="left:78px;width:2px;background:linear-gradient(#0101ff 0.5px,#0e0eff 28.5px,#3232ff 41.5px,#7f7fff 54.5px,#b8b8ff 64.5px,#bbf 71.5px,#9494ff 79.5px,#3636ff 94.5px,#1d1dff 101.5px,#4646ff 125.5px,#4747ff 129.5px)"></i><i style="left:80px;width:2px;background:linear-gradient(#0101ff 0.5px,#0f0fff 28.5px,#3434ff 41.5px,#8080ff 53.5px,#c0c0ff 63.5px,#cacaff 69.5px,#b1b1ff 76.5px,#3e3eff 93.5px,#1e1eff 101.5px,#4646ff 125.5px,#4747ff 129.5px)"></i><i style="left:82px;width:2px;background:linear-gradient(#0101ff 0.5px,#0e0eff 27.5px,#3232ff 40.5px,#77f 51.5px,#c7c7ff 62.5px,#d7d7ff 68.5px,#c7c7ff 74.5px,#4141ff 93.5px,#1f1fff 102.5px,#4646ff 125.5px,#4747ff 129.5px)"></i><i style="left:84px;width:2px;background:linear-gradient(#0101ff 0.5px,#0e0eff 27.5px,#3030ff 39.5px,#6d6dff 49.5px,#d3d3ff 62.5px,#e4e4ff 68.5px,#d3d3ff 74.5px,#44f 93.5px,#1f1fff 102.5px,#4646ff 125.5px,#4747ff 129.5px)"></i><i style="left:86px;width:2px;background:linear-gradient(#0101ff 0.5px,#0f0fff 27.5px,#3232ff 39.5px,#7272ff 49.5px,#dfdfff 62.5px,#f0f0ff 68.5px,#dfdfff 74.5px,#4747ff 93.5px,#1f1fff 102.5px,#4646ff 125.5px,#4747ff 129.5px)"></i><i style="left:88px;width:2px;background:linear-gradient(#0101ff 0.5px,#0f0fff 27.5px,#3434ff 39.5px,#6f6fff 48.5px,#e4e4ff 61.5px,#fafaff 67.5px,#efefff 73.5px,#b1b1ff 81.5px,#5151ff 92.5px,#2020ff 102.5px,#4646ff 125.5px,#4747ff 129.5px)"></i><i style="left:90px;width:2px;background:linear-gradient(#0101ff 0.5px,#0f0fff 27.5px,#3434ff 39.5px,#7272ff 48.5px,#eef 61.5px,#fff 66.5px,#fafaff 73.5px,#ccf 79.5px,#5a5aff 91.5px,#2727ff 100.5px,#22f 103.5px,#4646ff 125.5px,#4747ff 129.5px)"></i><i style="left:92px;width:2px;background:linear-gradient(#00f 0.5px,#0e0eff 27.5px,#2e2eff 38.5px,#6b6bff 47.5px,#f8f8ff 61.5px,#fffdfd 67.5px,#fdfdff 74.5px,#cacaff 80.5px,#5a5aff 91.5px,#2525ff 100.5px,#22f 103.5px,#4646ff 125.5px,#4747ff 129.5px)"></i><i style="left:94px;width:2px;background:linear-gradient(#00f 0.5px,#0d0dff 27.5px,#2d2dff 38.5px,#6262ff 46.5px,#fafaff 60.5px,#fffdfd 73.5px,#fafaff 76.5px,#5a5aff 91.5px,#2828ff 99.5px,#22f 103.5px,#4646ff 125.5px,#4747ff 129.5px)"></i><i style="left:96px;width:2px;background:linear-gradient(#00f 0.5px,#0d0dff 28.5px,#3030ff 39.5px,#6d6dff 47.5px,#fbfbff 59.5px,#fff5f5 70.5px,#fbfbff 77.5px,#6363ff 90.5px,#2b2bff 98.5px,#1f1fff 102.5px,#4646ff 125.5px,#4747ff 129.5px)"></i><i style="left:98px;width:2px;background:linear-gradient(#00f 0.5px,#0c0cff 28.5px,#2a2aff 38.5px,#5a5aff 45.5px,#ababff 52.5px,#fafaff 58.5px,#fff9f9 62.5px,#ffeded 69.5px,#fff 77.5px,#e2e2ff 80.5px,#6e6eff 89.5px,#3535ff 96.5px,#1e1eff 101.5px,#4646ff 125.5px,#4747ff 129.5px)"></i><i style="left:100px;width:2px;background:linear-gradient(#00f 0.5px,#0b0bff 28.5px,#2929ff 38.5px,#5a5aff 45.5px,#b0b0ff 52.5px,#f8f8ff 57.5px,#fffefe 59.5px,#ffe3e3 68.5px,#fff 78.5px,#dcdcff 81.5px,#6f6fff 89.5px,#3434ff 96.5px,#1d1dff 101.5px,#4646ff 125.5px,#4747ff 129.5px)"></i><i style="left:102px;width:2px;background:linear-gradient(#00f 0.5px,#0b0bff 28.5px,#2828ff 38.5px,#5a5aff 45.5px,#a5a5ff 51.5px,#fefeff 57.5px,#ffe8e8 63.5px,#ffd8d8 68.5px,#ffeded 74.5px,#fefeff 79.5px,#7070ff 89.5px,#33f 96.5px,#1d1dff 101.5px,#4646ff 125.5px,#4747ff 129.5px)"></i><i style="left:104px;width:2px;background:linear-gradient(#00f 0.5px,#0b0bff 29.5px,#2c2cff 39.5px,#6565ff 46.5px,#b9b9ff 52.5px,#fafaff 56.5px,#fffcfc 58.5px,#ffcdcd 67.5px,#ffd8d8 72.5px,#fff 79.5px,#fafaff 80.5px,#7171ff 89.5px,#3838ff 95.5px,#1d1dff 101.5px,#4646ff 125.5px,#4747ff 129.5px)"></i><i style="left:106px;width:2px;background:linear-gradient(#00f 0.5px,#0a0aff 29.5px,#2a2aff 39.5px,#5a5aff 45.5px,#adadff 51.5px,#fff 56.5px,#ffecec 60.5px,#ffc3c3 66.5px,#ffc3c3 70.5px,#fffdfd 79.5px,#fff 80.5px,#7171ff 89.5px,#3737ff 95.5px,#1c1cff 100.5px,#4646ff 125.5px,#4747ff 129.5px)"></i><i style="left:108px;width:2px;background:linear-gradient(#00f 0.5px,#0a0aff 29.5px,#2424ff 38.5px,#4f4fff 44.5px,#8f8fff 49.5px,#f9f9ff 55.5px,#fffbfb 57.5px,#ffb6b6 66.5px,#ffb6b6 70.5px,#fffbfb 79.5px,#f9f9ff 81.5px,#8080ff 88.5px,#3d3dff 94.5px,#1b1bff 100.5px,#4646ff 124.5px,#4747ff 129.5px)"></i><i style="left:110px;width:2px;background:linear-gradient(#00f 0.5px,#0a0aff 30.5px,#2828ff 39.5px,#5959ff 45.5px,#a2a2ff 50.5px,#fefeff 55.5px,#fff2f2 58.5px,#ffaeae 65.5px,#ffa5a5 69.5px,#ffbfbf 73.5px,#fff9f9 79.5px,#fefeff 81.5px,#8181ff 88.5px,#4545ff 93.5px,#1e1eff 99.5px,#4747ff 126.5px,#4747ff 129.5px)"></i><i style="left:112px;width:2px;background:linear-gradient(#00f 0.5px,#0a0aff 30.5px,#2727ff 39.5px,#5959ff 45.5px,#a4a4ff 50.5px,#f2f2ff 54.5px,#fff 55.5px,#ffeded 58.5px,#ffa2a2 65.5px,#f99 69.5px,#ffb4b4 73.5px,#fff6f6 79.5px,#fff 81.5px,#cacaff 84.5px,#7373ff 89.5px,#3b3bff 94.5px,#1b1bff 100.5px,#4646ff 124.5px,#4747ff 129.5px)"></i><i style="left:114px;width:2px;background:linear-gradient(#00f 0.5px,#0909ff 30.5px,#2525ff 39.5px,#5858ff 45.5px,#a5a5ff 50.5px,#f7f7ff 54.5px,#fff 55.5px,#ffe9e9 58.5px,#ff9898 65.5px,#ff8f8f 69.5px,#faa 73.5px,#fff3f3 79.5px,#fff 81.5px,#f7f7ff 82.5px,#8282ff 88.5px,#4343ff 93.5px,#1b1bff 99.5px,#4646ff 125.5px,#4747ff 129.5px)"></i><i style="left:116px;width:2px;background:linear-gradient(#00f 0.5px,#0a0aff 31.5px,#2424ff 39.5px,#5757ff 45.5px,#a6a6ff 50.5px,#fafaff 54.5px,#fff9f9 56.5px,#fbb 61.5px,#ff8f8f 65.5px,#f88 69.5px,#ff9797 72.5px,#fff9f9 80.5px,#fafaff 82.5px,#8282ff 88.5px,#4141ff 93.5px,#1a1aff 99.5px,#4646ff 125.5px,#4747ff 129.5px)"></i><i style="left:118px;width:2px;background:linear-gradient(#00f 0.5px,#0909ff 31.5px,#22f 39.5px,#4a4aff 44.5px,#9393ff 49.5px,#fdfdff 54.5px,#fff7f7 56.5px,#ff9090 64.5px,#ff8585 68.5px,#ff9090 72.5px,#fff7f7 80.5px,#fdfdff 82.5px,#8181ff 88.5px,#4040ff 93.5px,#1919ff 99.5px,#4646ff 124.5px,#4747ff 129.5px)"></i><i style="left:120px;width:2px;background:linear-gradient(#00f 0.5px,#0808ff 31.5px,#2121ff 39.5px,#4848ff 44.5px,#8080ff 48.5px,#fefeff 54.5px,#ffebeb 57.5px,#ff9494 63.5px,#ff8585 66.5px,#ff8b8b 72.5px,#ffbfbf 76.5px,#fff6f6 80.5px,#fefeff 82.5px,#8080ff 88.5px,#3e3eff 93.5px,#1919ff 99.5px,#4646ff 124.5px,#4747ff 129.5px)"></i><i style="left:122px;width:4px;background:linear-gradient(#00f 0.5px,#0909ff 32.5px,#2525ff 40.5px,#5252ff 45.5px,#9191ff 49.5px,#fff 54.5px,#ffe9e9 57.5px,#ff9090 63.5px,#ff8585 66.5px,#f88 72.5px,#ffabab 75.5px,#fff5f5 80.5px,#fff 82.5px,#7f7fff 88.5px,#4646ff 92.5px,#1a1aff 98.5px,#4747ff 126.5px,#4747ff 129.5px)"></i><i style="left:126px;width:2px;background:linear-gradient(#00f 0.5px,#0808ff 31.5px,#2121ff 39.5px,#4848ff 44.5px,#8080ff 48.5px,#fff 54.5px,#ffeaea 57.5px,#ff9393 63.5px,#ff8585 66.5px,#ff8a8a 72.5px,#ffbebe 76.5px,#fff5f5 80.5px,#fff 82.5px,#8080ff 88.5px,#3e3eff 93.5px,#1919ff 99.5px,#4646ff 124.5px,#4747ff 129.5px)"></i><i style="left:128px;width:2px;background:linear-gradient(#00f 0.5px,#0909ff 31.5px,#22f 39.5px,#4a4aff 44.5px,#9494ff 49.5px,#fdfdff 54.5px,#fff7f7 56.5px,#ff8e8e 64.5px,#ff8585 68.5px,#ff8e8e 72.5px,#ffd1d1 77.5px,#fff7f7 80.5px,#fdfdff 82.5px,#8282ff 88.5px,#4040ff 93.5px,#1919ff 99.5px,#4646ff 124.5px,#4747ff 129.5px)"></i><i style="left:130px;width:2px;background:linear-gradient(#00f 0.5px,#0a0aff 31.5px,#2424ff 39.5px,#5757ff 45.5px,#a7a7ff 50.5px,#fbfbff 54.5px,#fff8f8 56.5px,#ff9494 64.5px,#ff8585 68.5px,#ff9494 72.5px,#fff8f8 80.5px,#fbfbff 82.5px,#8282ff 88.5px,#4141ff 93.5px,#1a1aff 99.5px,#4646ff 125.5px,#4747ff 129.5px)"></i><i style="left:132px;width:2px;background:linear-gradient(#00f 0.5px,#0909ff 30.5px,#2525ff 39.5px,#5858ff 45.5px,#a7a7ff 50.5px,#f8f8ff 54.5px,#fffefe 55.5px,#ffe7e7 58.5px,#ff9c9c 64.5px,#ff8a8a 68.5px,#ff9c9c 72.5px,#fffafa 80.5px,#fffefe 81.5px,#f8f8ff 82.5px,#8383ff 88.5px,#4343ff 93.5px,#1b1bff 99.5px,#4646ff 125.5px,#4747ff 129.5px)"></i><i style="left:134px;width:2px;background:linear-gradient(#00f 0.5px,#0a0aff 30.5px,#2727ff 39.5px,#5959ff 45.5px,#a5a5ff 50.5px,#f5f5ff 54.5px,#fff 55.5px,#ffecec 58.5px,#ff9e9e 65.5px,#ff9494 69.5px,#ffb0b0 73.5px,#fff5f5 79.5px,#fff 81.5px,#e1e1ff 83.5px,#8383ff 88.5px,#44f 93.5px,#1d1dff 99.5px,#4747ff 126.5px,#4747ff 129.5px)"></i><i style="left:136px;width:2px;background:linear-gradient(#00f 0.5px,#0a0aff 30.5px,#2828ff 39.5px,#5a5aff 45.5px,#a3a3ff 50.5px,#fff 55.5px,#fff0f0 58.5px,#ffa9a9 65.5px,#ffa0a0 69.5px,#ffbaba 73.5px,#fff8f8 79.5px,#fff 81.5px,#7373ff 89.5px,#3c3cff 94.5px,#1b1bff 100.5px,#4646ff 124.5px,#4747ff 129.5px)"></i><i style="left:138px;width:2px;background:linear-gradient(#00f 0.5px,#0a0aff 29.5px,#2424ff 38.5px,#5050ff 44.5px,#9191ff 49.5px,#fbfbff 55.5px,#fffafa 57.5px,#ffb0b0 66.5px,#ffb0b0 70.5px,#fffafa 79.5px,#fbfbff 81.5px,#8181ff 88.5px,#4646ff 93.5px,#1b1bff 100.5px,#4646ff 124.5px,#4747ff 129.5px)"></i><i style="left:140px;width:2px;background:linear-gradient(#00f 0.5px,#0a0aff 29.5px,#2525ff 38.5px,#5050ff 44.5px,#9f9fff 50.5px,#f6f6ff 55.5px,#fff 56.5px,#ffe1e1 61.5px,#ffbdbd 66.5px,#ffbdbd 70.5px,#fffdfd 79.5px,#fff 80.5px,#e5e5ff 82.5px,#7373ff 89.5px,#3737ff 95.5px,#1c1cff 100.5px,#4646ff 125.5px,#4747ff 129.5px)"></i><i style="left:142px;width:2px;background:linear-gradient(#00f 0.5px,#0b0bff 29.5px,#2c2cff 39.5px,#5b5bff 45.5px,#acacff 51.5px,#fdfdff 56.5px,#fff0f0 60.5px,#ffcaca 66.5px,#ffcaca 70.5px,#fffefe 79.5px,#fdfdff 80.5px,#7272ff 89.5px,#3838ff 95.5px,#1d1dff 101.5px,#4646ff 125.5px,#4747ff 129.5px)"></i><i style="left:144px;width:2px;background:linear-gradient(#00f 0.5px,#0a0aff 28.5px,#2727ff 38.5px,#5b5bff 45.5px,#a8a8ff 51.5px,#f7f7ff 56.5px,#fff 57.5px,#ffd4d4 67.5px,#ffdede 72.5px,#fff 79.5px,#d8d8ff 82.5px,#7171ff 89.5px,#3939ff 95.5px,#1d1dff 101.5px,#4646ff 125.5px,#4747ff 129.5px)"></i><i style="left:146px;width:2px;background:linear-gradient(#00f 0.5px,#0b0bff 28.5px,#2929ff 38.5px,#5b5bff 45.5px,#b3b3ff 52.5px,#fbfbff 57.5px,#fff5f5 61.5px,#ffdede 68.5px,#fff 78.5px,#efefff 80.5px,#7070ff 89.5px,#3434ff 96.5px,#1d1dff 101.5px,#4646ff 125.5px,#4747ff 129.5px)"></i><i style="left:148px;width:2px;background:linear-gradient(#00f 0.5px,#0c0cff 28.5px,#2a2aff 38.5px,#5b5bff 45.5px,#aeaeff 52.5px,#fefeff 58.5px,#ffe9e9 69.5px,#fefeff 78.5px,#6464ff 90.5px,#2f2fff 97.5px,#1d1dff 101.5px,#4646ff 125.5px,#4747ff 129.5px)"></i><i style="left:150px;width:2px;background:linear-gradient(#00f 0.5px,#0d0dff 28.5px,#2b2bff 38.5px,#6464ff 46.5px,#d1d1ff 55.5px,#fefeff 59.5px,#fff2f2 70.5px,#fefeff 77.5px,#b6b6ff 83.5px,#5a5aff 91.5px,#2626ff 99.5px,#1f1fff 102.5px,#4646ff 125.5px,#4747ff 129.5px)"></i><i style="left:152px;width:2px;background:linear-gradient(#00f 0.5px,#0c0cff 27.5px,#2c2cff 38.5px,#6363ff 46.5px,#f7f7ff 59.5px,#fffefe 62.5px,#fffbfb 72.5px,#fefeff 76.5px,#bdbdff 82.5px,#5a5aff 91.5px,#2828ff 99.5px,#22f 103.5px,#4646ff 125.5px,#4747ff 129.5px)"></i><i style="left:154px;width:2px;background:linear-gradient(#00f 0.5px,#0d0dff 27.5px,#2d2dff 38.5px,#6262ff 46.5px,#f6f6ff 60.5px,#fffefe 63.5px,#fdfdff 75.5px,#b7b7ff 82.5px,#5a5aff 91.5px,#2525ff 100.5px,#2424ff 104.5px,#4747ff 126.5px,#4747ff 129.5px)"></i><i style="left:156px;width:2px;background:linear-gradient(#0101ff 0.5px,#0e0eff 27.5px,#2f2fff 38.5px,#6a6aff 47.5px,#f3f3ff 61.5px,#fff 65.5px,#fafaff 74.5px,#bbf 81.5px,#5a5aff 91.5px,#2626ff 100.5px,#22f 103.5px,#4646ff 125.5px,#4747ff 129.5px)"></i><i style="left:158px;width:2px;background:linear-gradient(#0101ff 0.5px,#0f0fff 27.5px,#3434ff 39.5px,#7171ff 48.5px,#e9e9ff 61.5px,#fdfdff 66.5px,#f5f5ff 73.5px,#bfbfff 80.5px,#5252ff 92.5px,#2020ff 102.5px,#4646ff 125.5px,#4747ff 129.5px)"></i><i style="left:160px;width:2px;background:linear-gradient(#0101ff 0.5px,#0f0fff 27.5px,#33f 39.5px,#7575ff 49.5px,#dedeff 61.5px,#f5f5ff 67.5px,#eaeaff 73.5px,#acacff 81.5px,#4f4fff 92.5px,#1f1fff 102.5px,#4646ff 125.5px,#4747ff 129.5px)"></i><i style="left:162px;width:2px;background:linear-gradient(#0101ff 0.5px,#0f0fff 27.5px,#3131ff 39.5px,#7070ff 49.5px,#d9d9ff 62.5px,#eaeaff 68.5px,#d9d9ff 74.5px,#4646ff 93.5px,#1f1fff 102.5px,#4646ff 125.5px,#4747ff 129.5px)"></i><i style="left:164px;width:2px;background:linear-gradient(#0101ff 0.5px,#0e0eff 27.5px,#2f2fff 39.5px,#6a6aff 49.5px,#cdcdff 62.5px,#ddf 68.5px,#cdcdff 74.5px,#4343ff 93.5px,#1f1fff 102.5px,#4646ff 125.5px,#4747ff 129.5px)"></i><i style="left:166px;width:2px;background:linear-gradient(#0101ff 0.5px,#0f0fff 28.5px,#3131ff 40.5px,#7474ff 51.5px,#c1c1ff 62.5px,#d1d1ff 68.5px,#bcbcff 75.5px,#4040ff 93.5px,#1f1fff 102.5px,#4646ff 125.5px,#4747ff 129.5px)"></i><i style="left:168px;width:2px;background:linear-gradient(#0101ff 0.5px,#0f0fff 28.5px,#33f 41.5px,#7c7cff 53.5px,#babaff 63.5px,#c9c9ff 69.5px,#9f9fff 78.5px,#3d3dff 93.5px,#1d1dff 101.5px,#4646ff 125.5px,#4747ff 129.5px)"></i><i style="left:170px;width:2px;background:linear-gradient(#0101ff 0.5px,#0e0eff 28.5px,#3131ff 41.5px,#8282ff 55.5px,#babaff 64.5px,#d3d3ff 67.5px,#cdcdff 70.5px,#ababff 74.5px,#3131ff 95.5px,#1d1dff 101.5px,#4646ff 125.5px,#4747ff 129.5px)"></i><i style="left:172px;width:2px;background:linear-gradient(#0101ff 0.5px,#0f0fff 29.5px,#3232ff 42.5px,#a1a1ff 62.5px,#cfcfff 66.5px,#d4d4ff 69.5px,#bcbcff 72.5px,#a1a1ff 74.5px,#2e2eff 95.5px,#1d1dff 101.5px,#4646ff 125.5px,#4747ff 129.5px)"></i><i style="left:174px;width:2px;background:linear-gradient(#0101ff 0.5px,#0e0eff 29.5px,#3434ff 43.5px,#9292ff 61.5px,#cfcfff 66.5px,#d4d4ff 69.5px,#bcbcff 72.5px,#9292ff 75.5px,#2c2cff 95.5px,#1d1dff 101.5px,#4646ff 125.5px,#4747ff 129.5px)"></i><i style="left:176px;width:2px;background:linear-gradient(#00f 0.5px,#0e0eff 29.5px,#3131ff 43.5px,#8484ff 60.5px,#c7c7ff 65.5px,#d6d6ff 68.5px,#c7c7ff 71.5px,#8484ff 76.5px,#2626ff 96.5px,#1d1dff 101.5px,#4646ff 125.5px,#4747ff 129.5px)"></i><i style="left:178px;width:2px;background:linear-gradient(#00f 0.5px,#0e0eff 30.5px,#3232ff 44.5px,#7e7eff 60.5px,#c7c7ff 65.5px,#d6d6ff 68.5px,#c7c7ff 71.5px,#7e7eff 76.5px,#2828ff 95.5px,#1d1dff 101.5px,#4646ff 125.5px,#4747ff 129.5px)"></i><i style="left:180px;width:2px;background:linear-gradient(#00f 0.5px,#0e0eff 30.5px,#33f 45.5px,#7070ff 59.5px,#c7c7ff 65.5px,#d6d6ff 68.5px,#c7c7ff 71.5px,#7070ff 77.5px,#2020ff 97.5px,#1f1fff 102.5px,#4646ff 125.5px,#4747ff 129.5px)"></i><i style="left:182px;width:2px;background:linear-gradient(#00f 0.5px,#0e0eff 31.5px,#3434ff 46.5px,#6464ff 58.5px,#8f8fff 61.5px,#c7c7ff 65.5px,#d6d6ff 68.5px,#c7c7ff 71.5px,#7e7eff 76.5px,#6464ff 78.5px,#1b1bff 98.5px,#4747ff 126.5px,#4747ff 129.5px)"></i><i style="left:184px;width:2px;background:linear-gradient(#00f 0.5px,#0e0eff 31.5px,#3434ff 47.5px,#6262ff 58.5px,#c7c7ff 65.5px,#d6d6ff 68.5px,#c7c7ff 71.5px,#7e7eff 76.5px,#5a5aff 79.5px,#1a1aff 98.5px,#4646ff 125.5px,#4747ff 129.5px)"></i><i style="left:186px;width:2px;background:linear-gradient(#00f 0.5px,#0e0eff 32.5px,#3737ff 49.5px,#5959ff 57.5px,#7e7eff 60.5px,#c7c7ff 65.5px,#d6d6ff 68.5px,#c7c7ff 71.5px,#7e7eff 76.5px,#5959ff 79.5px,#2828ff 92.5px,#1919ff 99.5px,#4646ff 124.5px,#4747ff 129.5px)"></i><i style="left:188px;width:2px;background:linear-gradient(#00f 0.5px,#0e0eff 32.5px,#3737ff 50.5px,#5151ff 56.5px,#6e6eff 59.5px,#bcbcff 64.5px,#d4d4ff 67.5px,#cfcfff 70.5px,#9f9fff 74.5px,#6262ff 78.5px,#44f 82.5px,#1717ff 98.5px,#4646ff 124.5px,#4747ff 129.5px)"></i><i style="left:190px;width:2px;background:linear-gradient(#00f 0.5px,#0e0eff 33.5px,#2d2dff 47.5px,#5c5cff 55.5px,#8686ff 60.5px,#a0a0ff 62.5px,#ccf 64.5px,#e0e0ff 67.5px,#d6d6ff 70.5px,#7272ff 77.5px,#3d3dff 84.5px,#1717ff 98.5px,#4646ff 124.5px,#4747ff 129.5px)"></i><i style="left:192px;width:2px;background:linear-gradient(#00f 0.5px,#0d0dff 33.5px,#2828ff 43.5px,#6767ff 52.5px,#aaf 59.5px,#e9e9ff 62.5px,#fdfcfe 64.5px,#fdfcfe 70.5px,#e8e8ff 72.5px,#a9a9ff 75.5px,#4646ff 86.5px,#1d1dff 94.5px,#1919ff 99.5px,#4646ff 124.5px,#4747ff 129.5px)"></i><i style="left:194px;width:2px;background:linear-gradient(#00f 0.5px,#0d0dff 32.5px,#3131ff 42.5px,#7f7fff 52.5px,#a5a5ff 55.5px,#efefff 59.5px,#fff1f1 62.5px,#ffebeb 70.5px,#f7f2fa 74.5px,#eef 75.5px,#9393ff 80.5px,#3d3dff 90.5px,#1818ff 98.5px,#4646ff 124.5px,#4747ff 129.5px)"></i><i style="left:196px;width:2px;background:linear-gradient(#00f 0.5px,#0b0bff 29.5px,#2929ff 39.5px,#6a6aff 48.5px,#9292ff 52.5px,#bfbfff 54.5px,#efefff 56.5px,#fffafa 57.5px,#ffd2d2 60.5px,#ffc1c1 64.5px,#ffc6c6 72.5px,#ffdede 75.5px,#fffcfd 77.5px,#d5d5ff 79.5px,#a0a0ff 81.5px,#7b7bff 84.5px,#3434ff 93.5px,#1919ff 99.5px,#4646ff 124.5px,#4747ff 129.5px)"></i><i style="left:198px;width:2px;background:linear-gradient(#00f 0.5px,#0b0bff 29.5px,#2c2cff 39.5px,#6d6dff 48.5px,#9a9aff 53.5px,#f5f5ff 56.5px,#ffeded 57.5px,#ffb1b1 60.5px,#ff9a9a 63.5px,#ff9b9b 71.5px,#ffb4b4 74.5px,#fff2f2 77.5px,#efefff 78.5px,#aeaeff 80.5px,#99f 81.5px,#3636ff 93.5px,#1a1aff 99.5px,#4646ff 125.5px,#4747ff 129.5px)"></i><i style="left:200px;width:2px;background:linear-gradient(#00f 0.5px,#0a0aff 28.5px,#2828ff 38.5px,#6767ff 47.5px,#9d9dff 53.5px,#fdfdff 56.5px,#ffb4b4 59.5px,#ff9090 62.5px,#ff8787 68.5px,#ff9292 72.5px,#ffb8b8 75.5px,#ffe9e9 77.5px,#f6f6ff 78.5px,#b1b1ff 80.5px,#9b9bff 81.5px,#3737ff 93.5px,#1b1bff 100.5px,#4646ff 124.5px,#4747ff 129.5px)"></i><i style="left:202px;width:2px;background:linear-gradient(#00f 0.5px,#0a0aff 28.5px,#2929ff 38.5px,#6868ff 47.5px,#a1a1ff 53.5px,#e3e3ff 55.5px,#fffcfc 56.5px,#ffb7b7 59.5px,#ff9898 62.5px,#ff9191 69.5px,#ffa1a1 73.5px,#ffd0d0 76.5px,#f9f9ff 78.5px,#9b9bff 81.5px,#3838ff 93.5px,#1b1bff 100.5px,#4646ff 124.5px,#4747ff 129.5px)"></i><i style="left:204px;width:2px;background:linear-gradient(#00f 0.5px,#0b0bff 28.5px,#2a2aff 38.5px,#6a6aff 47.5px,#9797ff 52.5px,#ababff 53.5px,#eaeaff 55.5px,#fff8f8 56.5px,#ffb8b8 59.5px,#ff9c9c 62.5px,#ff9797 70.5px,#ffa5a5 73.5px,#ffd0d0 76.5px,#fdfcff 78.5px,#a0a0ff 81.5px,#3f3fff 92.5px,#1b1bff 99.5px,#4646ff 125.5px,#4747ff 129.5px)"></i><i style="left:206px;width:2px;background:linear-gradient(#00f 0.5px,#0a0aff 27.5px,#2828ff 37.5px,#6868ff 46.5px,#aaf 53.5px,#fbf6fa 55.5px,#ff8f8f 58.5px,#ff6161 60.5px,#ff4343 63.5px,#ff4040 70.5px,#ff5757 73.5px,#ff7f7f 75.5px,#ffbebe 77.5px,#ffe5e5 78.5px,#efefff 79.5px,#a2a2ff 81.5px,#3737ff 94.5px,#1b1bff 100.5px,#4646ff 124.5px,#4747ff 129.5px)"></i><i style="left:208px;width:2px;background:linear-gradient(#00f 0.5px,#0b0bff 27.5px,#2929ff 37.5px,#6a6aff 46.5px,#9f9fff 52.5px,#b3b3ff 53.5px,#dedeff 54.5px,#fff5f5 55.5px,#ff8989 58.5px,#ff5c5c 60.5px,#ff3f3f 63.5px,#ff3d3d 70.5px,#ff5454 73.5px,#ff7a7a 75.5px,#ffb8b8 77.5px,#ffdede 78.5px,#f6f6ff 79.5px,#a3a3ff 81.5px,#3838ff 94.5px,#1b1bff 100.5px,#4646ff 124.5px,#4747ff 129.5px)"></i><i style="left:210px;width:2px;background:linear-gradient(#00f 0.5px,#0a0aff 27.5px,#2929ff 37.5px,#6868ff 46.5px,#9e9eff 52.5px,#fffcfc 55.5px,#faa 58.5px,#ff8080 61.5px,#ff7373 65.5px,#f77 71.5px,#ff9090 74.5px,#ffcece 77.5px,#ffecec 78.5px,#f1f1ff 79.5px,#ababff 81.5px,#9191ff 83.5px,#3737ff 94.5px,#1b1bff 100.5px,#4646ff 124.5px,#4747ff 129.5px)"></i><i style="left:212px;width:2px;background:linear-gradient(#00f 0.5px,#0a0aff 27.5px,#2828ff 37.5px,#6868ff 46.5px,#9595ff 51.5px,#fffeff 55.5px,#ffc5c5 58.5px,#ffa8a8 61.5px,#ffa0a0 68.5px,#ffacac 73.5px,#ffcdcd 76.5px,#fff4f4 78.5px,#f1f1ff 79.5px,#9d9dff 82.5px,#4343ff 92.5px,#1b1bff 100.5px,#4646ff 124.5px,#4747ff 129.5px)"></i><i style="left:214px;width:2px;background:linear-gradient(#00f 0.5px,#0b0bff 27.5px,#2b2bff 37.5px,#6c6cff 46.5px,#99f 51.5px,#aaf 52.5px,#f0f0ff 54.5px,#ffeded 55.5px,#ff9f9f 58.5px,#f77 61.5px,#ff6b6b 66.5px,#ff7474 72.5px,#ff9797 75.5px,#ffe0e0 78.5px,#fcfafd 79.5px,#9d9dff 82.5px,#3939ff 94.5px,#1c1cff 100.5px,#4646ff 125.5px,#4747ff 129.5px)"></i><i style="left:216px;width:2px;background:linear-gradient(#00f 0.5px,#0b0bff 26.5px,#2a2aff 36.5px,#6a6aff 45.5px,#9f9fff 51.5px,#b3b3ff 52.5px,#dedeff 53.5px,#fff4f4 54.5px,#ff8181 57.5px,#ff4e4e 59.5px,#ff2828 62.5px,#ff2020 68.5px,#ff2d2d 72.5px,#ff4747 74.5px,#f77 76.5px,#ffe5e5 79.5px,#ededff 80.5px,#c2c2ff 81.5px,#a1a1ff 82.5px,#3737ff 95.5px,#1d1dff 101.5px,#4646ff 125.5px,#4747ff 129.5px)"></i><i style="left:218px;width:2px;background:linear-gradient(#00f 0.5px,#0b0bff 26.5px,#2a2aff 36.5px,#6b6bff 45.5px,#a0a0ff 51.5px,#bbf 52.5px,#e5e5ff 53.5px,#fff0f0 54.5px,#ff8585 57.5px,#ff5656 59.5px,#ff3434 62.5px,#ff2e2e 69.5px,#ff3939 72.5px,#ff6464 75.5px,#ff9b9b 77.5px,#ffe4e4 79.5px,#f1f1ff 80.5px,#a2a2ff 82.5px,#3737ff 95.5px,#1d1dff 101.5px,#4646ff 125.5px,#4747ff 129.5px)"></i><i style="left:220px;width:2px;background:linear-gradient(#00f 0.5px,#0b0bff 26.5px,#2929ff 36.5px,#6969ff 45.5px,#a1a1ff 51.5px,#e4e4ff 53.5px,#fff8f8 54.5px,#ffa5a5 57.5px,#ff7676 60.5px,#ff6363 64.5px,#ff6767 71.5px,#ff7e7e 74.5px,#ffb6b6 77.5px,#fff0f0 79.5px,#ededff 80.5px,#a7a7ff 82.5px,#5a5aff 90.5px,#2121ff 99.5px,#22f 103.5px,#4646ff 125.5px,#4747ff 129.5px)"></i><i style="left:222px;width:2px;background:linear-gradient(#00f 0.5px,#0a0aff 26.5px,#2929ff 36.5px,#6868ff 45.5px,#99f 50.5px,#fffefe 54.5px,#ffc4c4 57.5px,#ffa4a4 60.5px,#ff9898 66.5px,#ff9e9e 72.5px,#ffb4b4 75.5px,#ffe3e3 78.5px,#fff9f9 79.5px,#ececff 80.5px,#9c9cff 83.5px,#4949ff 92.5px,#1c1cff 100.5px,#4646ff 125.5px,#4747ff 129.5px)"></i><i style="left:224px;width:2px;background:linear-gradient(#00f 0.5px,#0a0aff 26.5px,#2929ff 36.5px,#6868ff 45.5px,#8f8fff 49.5px,#ececff 53.5px,#fffdfe 54.5px,#ffd1d1 57.5px,#ffb5b5 61.5px,#ffb5b5 72.5px,#ffcfcf 76.5px,#fffbfb 79.5px,#dadaff 81.5px,#9292ff 84.5px,#4141ff 93.5px,#1c1cff 100.5px,#4646ff 125.5px,#4747ff 129.5px)"></i><i style="left:226px;width:2px;background:linear-gradient(#00f 0.5px,#0b0bff 26.5px,#2a2aff 36.5px,#6b6bff 45.5px,#8f8fff 49.5px,#f1f1ff 53.5px,#fff7f7 54.5px,#ffc4c4 57.5px,#ffa5a5 61.5px,#ffa1a1 71.5px,#ffb7b7 75.5px,#ffe1e1 78.5px,#fff5f5 79.5px,#f3f3ff 80.5px,#9090ff 84.5px,#3636ff 95.5px,#1d1dff 101.5px,#4646ff 125.5px,#4747ff 129.5px)"></i><i style="left:228px;width:2px;background:linear-gradient(#00f 0.5px,#0b0bff 26.5px,#2b2bff 36.5px,#6d6dff 45.5px,#9191ff 49.5px,#a2a2ff 50.5px,#f5f5ff 53.5px,#fff1f1 54.5px,#ffb7b7 57.5px,#f99 60.5px,#ff8e8e 66.5px,#ff9494 72.5px,#faa 75.5px,#ffdada 78.5px,#fff0f0 79.5px,#f6f6ff 80.5px,#a3a3ff 83.5px,#8989ff 85.5px,#3737ff 95.5px,#1d1dff 101.5px,#4646ff 125.5px,#4747ff 129.5px)"></i><i style="left:230px;width:2px;background:linear-gradient(#00f 0.5px,#0c0cff 26.5px,#2c2cff 36.5px,#6f6fff 45.5px,#a1a1ff 50.5px,#f9f9ff 53.5px,#ffd2d2 55.5px,#ff9e9e 58.5px,#ff8383 62.5px,#ff8383 71.5px,#ff9e9e 75.5px,#ffd3d3 78.5px,#ffebeb 79.5px,#f9f9ff 80.5px,#a0a0ff 83.5px,#4545ff 93.5px,#1d1dff 101.5px,#4646ff 125.5px,#4747ff 129.5px)"></i><i style="left:232px;width:2px;background:linear-gradient(#00f 0.5px,#0a0aff 25.5px,#2828ff 35.5px,#6767ff 44.5px,#a1a1ff 50.5px,#fefeff 53.5px,#ffb3b3 56.5px,#ff8686 59.5px,#ff7272 63.5px,#ff7474 71.5px,#ff8787 74.5px,#ffb5b5 77.5px,#fcfcff 80.5px,#9f9fff 83.5px,#3f3fff 94.5px,#1d1dff 101.5px,#4646ff 125.5px,#4747ff 129.5px)"></i><i style="left:234px;width:2px;background:linear-gradient(#00f 0.5px,#0b0bff 25.5px,#2929ff 35.5px,#6969ff 44.5px,#a2a2ff 50.5px,#e5e5ff 52.5px,#fff9f9 53.5px,#ffa6a6 56.5px,#ff7474 59.5px,#ff5e5e 63.5px,#ff6161 71.5px,#ff7676 74.5px,#ffa9a9 77.5px,#fffcfc 80.5px,#9e9eff 83.5px,#3a3aff 95.5px,#1d1dff 101.5px,#4646ff 125.5px,#4747ff 129.5px)"></i><i style="left:236px;width:2px;background:linear-gradient(#00f 0.5px,#0b0bff 25.5px,#2b2bff 35.5px,#6c6cff 44.5px,#a4a4ff 50.5px,#ececff 52.5px,#ffefef 53.5px,#ff9595 56.5px,#ff5e5e 59.5px,#ff4848 62.5px,#ff4949 71.5px,#ff6060 74.5px,#f99 77.5px,#fff5f5 80.5px,#e6e6ff 81.5px,#9f9fff 83.5px,#3535ff 96.5px,#1d1dff 101.5px,#4646ff 125.5px,#4747ff 129.5px)"></i><i style="left:238px;width:2px;background:linear-gradient(#00f 0.5px,#0b0bff 25.5px,#2c2cff 35.5px,#6e6eff 44.5px,#a8a8ff 50.5px,#f3f3ff 52.5px,#ffe6e6 53.5px,#ff8686 56.5px,#ff4d4d 59.5px,#ff3636 62.5px,#f33 70.5px,#f44 73.5px,#ff7474 76.5px,#ffcaca 79.5px,#fee 80.5px,#ebebff 81.5px,#a0a0ff 83.5px,#3636ff 96.5px,#1d1dff 101.5px,#4646ff 125.5px,#4747ff 129.5px)"></i><i style="left:240px;width:2px;background:linear-gradient(#00f 0.5px,#0b0bff 25.5px,#2c2cff 35.5px,#6e6eff 44.5px,#9a9aff 49.5px,#ababff 50.5px,#f3f3ff 52.5px,#ffe7e7 53.5px,#ff8e8e 56.5px,#ff5858 59.5px,#ff4343 62.5px,#f44 71.5px,#ff5b5b 74.5px,#ff9494 77.5px,#fff1f1 80.5px,#e9e9ff 81.5px,#a1a1ff 83.5px,#3c3cff 95.5px,#1d1dff 101.5px,#4646ff 125.5px,#4747ff 129.5px)"></i><i style="left:242px;width:2px;background:linear-gradient(#00f 0.5px,#0b0bff 25.5px,#2b2bff 35.5px,#6d6dff 44.5px,#9a9aff 49.5px,#aeaeff 50.5px,#f2f2ff 52.5px,#ffebeb 53.5px,#ff9898 56.5px,#ff6868 59.5px,#ff5353 63.5px,#ff5656 71.5px,#ff6c6c 74.5px,#ffa0a0 77.5px,#fff5f5 80.5px,#e7e7ff 81.5px,#a3a3ff 83.5px,#4242ff 94.5px,#1d1dff 101.5px,#4646ff 125.5px,#4747ff 129.5px)"></i><i style="left:244px;width:2px;background:linear-gradient(#00f 0.5px,#0b0bff 25.5px,#2b2bff 35.5px,#6d6dff 44.5px,#9a9aff 49.5px,#d2d2ff 51.5px,#f2f2ff 52.5px,#fee 53.5px,#ffa3a3 56.5px,#f77 59.5px,#ff6464 63.5px,#ff6767 71.5px,#ff7b7b 74.5px,#ffabab 77.5px,#fff9f9 80.5px,#e6e6ff 81.5px,#a5a5ff 83.5px,#6969ff 89.5px,#2929ff 98.5px,#1f1fff 102.5px,#4646ff 125.5px,#4747ff 129.5px)"></i><i style="left:246px;width:2px;background:linear-gradient(#00f 0.5px,#0c0cff 25.5px,#2c2cff 35.5px,#6f6fff 44.5px,#9b9bff 49.5px,#d6d6ff 51.5px,#f8f8ff 52.5px,#ffe5e5 53.5px,#ff9595 56.5px,#f66 59.5px,#ff5252 63.5px,#ff5656 71.5px,#ff6b6b 74.5px,#ff9f9f 77.5px,#fff3f3 80.5px,#e9e9ff 81.5px,#a6a6ff 83.5px,#4242ff 94.5px,#1d1dff 101.5px,#4646ff 125.5px,#4747ff 129.5px)"></i><i style="left:248px;width:2px;background:linear-gradient(#00f 0.5px,#0c0cff 25.5px,#2e2eff 35.5px,#7171ff 44.5px,#9e9eff 49.5px,#dedeff 51.5px,#fffbfb 52.5px,#f99 55.5px,#ff5858 58.5px,#ff3b3b 61.5px,#ff3434 69.5px,#ff4646 73.5px,#ff7373 76.5px,#ffc6c6 79.5px,#ffe9e9 80.5px,#f1f1ff 81.5px,#a8a8ff 83.5px,#44f 94.5px,#1e1eff 101.5px,#4646ff 125.5px,#4747ff 129.5px)"></i><i style="left:250px;width:2px;background:linear-gradient(#00f 0.5px,#0b0bff 24.5px,#2a2aff 34.5px,#6b6bff 43.5px,#a0a0ff 49.5px,#e5e5ff 51.5px,#fff2f2 52.5px,#ff8989 55.5px,#ff4545 58.5px,#ff2525 61.5px,#ff1d1d 68.5px,#ff2929 72.5px,#ff4e4e 75.5px,#ff9a9a 78.5px,#ffe0e0 80.5px,#f7f7ff 81.5px,#ababff 83.5px,#7878ff 88.5px,#3232ff 97.5px,#1f1fff 102.5px,#4646ff 125.5px,#4747ff 129.5px)"></i><i style="left:252px;width:2px;background:linear-gradient(#00f 0.5px,#0b0bff 24.5px,#2a2aff 34.5px,#6a6aff 43.5px,#9f9fff 49.5px,#e4e4ff 51.5px,#fff6f6 52.5px,#ff9797 55.5px,#ff5a5a 58.5px,#ff3e3e 61.5px,#ff3737 69.5px,#ff4949 73.5px,#ff7676 76.5px,#ffc6c6 79.5px,#ffe8e8 80.5px,#f2f2ff 81.5px,#aaf 83.5px,#9292ff 85.5px,#3737ff 96.5px,#1e1eff 101.5px,#4646ff 125.5px,#4747ff 129.5px)"></i><i style="left:254px;width:2px;background:linear-gradient(#00f 0.5px,#0c0cff 25.5px,#2e2eff 35.5px,#7272ff 44.5px,#a0a0ff 49.5px,#e2e2ff 51.5px,#fffafa 52.5px,#ffa4a4 55.5px,#ff6e6e 58.5px,#ff5656 61.5px,#ff5151 70.5px,#ff6a6a 74.5px,#ff9c9c 77.5px,#ffefef 80.5px,#eef 81.5px,#ababff 83.5px,#9090ff 85.5px,#3636ff 96.5px,#1d1dff 101.5px,#4646ff 125.5px,#4747ff 129.5px)"></i><i style="left:256px;width:2px;background:linear-gradient(#00f 0.5px,#0b0bff 24.5px,#2a2aff 34.5px,#6a6aff 43.5px,#a3a3ff 49.5px,#e6e6ff 51.5px,#fff7f7 52.5px,#ffa1a1 55.5px,#ff6b6b 58.5px,#ff5353 61.5px,#ff4f4f 70.5px,#ff6767 74.5px,#ff9a9a 77.5px,#ffeded 80.5px,#f0f0ff 81.5px,#adadff 83.5px,#99f 84.5px,#3636ff 96.5px,#1e1eff 101.5px,#4646ff 125.5px,#4747ff 129.5px)"></i><i style="left:258px;width:2px;background:linear-gradient(#00f 0.5px,#0b0bff 24.5px,#2a2aff 34.5px,#6b6bff 43.5px,#a6a6ff 49.5px,#e9e9ff 51.5px,#fff4f4 52.5px,#ff9e9e 55.5px,#ff6868 58.5px,#ff5050 61.5px,#ff4c4c 70.5px,#ff6565 74.5px,#ff9898 77.5px,#ffecec 80.5px,#f2f2ff 81.5px,#aeaeff 83.5px,#9a9aff 84.5px,#3737ff 96.5px,#1e1eff 101.5px,#4646ff 125.5px,#4747ff 129.5px)"></i><i style="left:260px;width:2px;background:linear-gradient(#00f 0.5px,#0b0bff 24.5px,#2b2bff 34.5px,#6c6cff 43.5px,#99f 48.5px,#a9a9ff 49.5px,#ededff 51.5px,#fff0f0 52.5px,#ff9a9a 55.5px,#ff6565 58.5px,#ff4a4a 62.5px,#ff4c4c 71.5px,#ff6262 74.5px,#ff9696 77.5px,#ffeaea 80.5px,#f3f3ff 81.5px,#b0b0ff 83.5px,#9a9aff 84.5px,#3737ff 96.5px,#1e1eff 101.5px,#4646ff 125.5px,#4747ff 129.5px)"></i><i style="left:262px;width:2px;background:linear-gradient(#00f 0.5px,#0b0bff 24.5px,#2b2bff 34.5px,#6d6dff 43.5px,#9a9aff 48.5px,#acacff 49.5px,#f1f1ff 51.5px,#ffecec 52.5px,#ff9696 55.5px,#ff6060 58.5px,#ff4848 61.5px,#ff4545 70.5px,#ff5e5e 74.5px,#ff9292 77.5px,#ffe7e7 80.5px,#f6f6ff 81.5px,#b1b1ff 83.5px,#9b9bff 84.5px,#3737ff 96.5px,#1e1eff 101.5px,#4646ff 125.5px,#4747ff 129.5px)"></i><i style="left:264px;width:2px;background:linear-gradient(#00f 0.5px,#0b0bff 24.5px,#2c2cff 34.5px,#6e6eff 43.5px,#9b9bff 48.5px,#afafff 49.5px,#f5f5ff 51.5px,#ffe8e8 52.5px,#ff9191 55.5px,#ff5b5b 58.5px,#ff4343 61.5px,#ff4040 70.5px,#ff5a5a 74.5px,#ff8f8f 77.5px,#ffe4e4 80.5px,#f8f8ff 81.5px,#b3b3ff 83.5px,#9b9bff 84.5px,#3838ff 96.5px,#1f1fff 102.5px,#4646ff 125.5px,#4747ff 129.5px)"></i><i style="left:266px;width:2px;background:linear-gradient(#00f 0.5px,#0c0cff 24.5px,#2c2cff 34.5px,#6f6fff 43.5px,#9b9bff 48.5px,#b3b3ff 49.5px,#f8f8ff 51.5px,#ffe4e4 52.5px,#ff8d8d 55.5px,#ff5858 58.5px,#ff3e3e 62.5px,#ff4141 71.5px,#ff5757 74.5px,#ff8c8c 77.5px,#fafaff 81.5px,#b4b4ff 83.5px,#9c9cff 84.5px,#3838ff 96.5px,#1f1fff 102.5px,#4646ff 125.5px,#4747ff 129.5px)"></i><i style="left:268px;width:2px;background:linear-gradient(#00f 0.5px,#0c0cff 24.5px,#2d2dff 34.5px,#6f6fff 43.5px,#9c9cff 48.5px,#d8d8ff 50.5px,#fafaff 51.5px,#ff9090 55.5px,#ff5d5d 58.5px,#f44 62.5px,#ff4747 71.5px,#ff5d5d 74.5px,#ff9090 77.5px,#f9f9ff 81.5px,#b5b5ff 83.5px,#9c9cff 84.5px,#3838ff 96.5px,#1f1fff 102.5px,#4646ff 125.5px,#4747ff 129.5px)"></i><i style="left:270px;width:4px;background:linear-gradient(#00f 0.5px,#0c0cff 24.5px,#2d2dff 34.5px,#7070ff 43.5px,#9c9cff 48.5px,#fcfcff 51.5px,#ff9393 55.5px,#ff6363 58.5px,#ff4b4b 62.5px,#ff4e4e 71.5px,#ff6363 74.5px,#ff9595 77.5px,#ffe5e5 80.5px,#f9f9ff 81.5px,#9c9cff 84.5px,#3838ff 96.5px,#1f1fff 102.5px,#4646ff 125.5px,#4747ff 129.5px)"></i><i style="left:274px;width:2px;background:linear-gradient(#00f 0.5px,#0c0cff 24.5px,#2d2dff 34.5px,#7070ff 43.5px,#9e9eff 48.5px,#fff 51.5px,#ffabab 54.5px,#ff7373 57.5px,#ff5757 60.5px,#ff4f4f 68.5px,#ff5f5f 73.5px,#ff8585 76.5px,#ffc9c9 79.5px,#f9f9ff 81.5px,#9c9cff 84.5px,#3838ff 96.5px,#1f1fff 102.5px,#4646ff 125.5px,#4747ff 129.5px)"></i><i style="left:276px;width:2px;background:linear-gradient(#00f 0.5px,#0c0cff 24.5px,#2d2dff 34.5px,#7070ff 43.5px,#a2a2ff 48.5px,#fefeff 51.5px,#ff9d9d 55.5px,#ff7474 58.5px,#ff6060 62.5px,#ff6363 71.5px,#ff8181 75.5px,#ffb7b7 78.5px,#ffeaea 80.5px,#f7f7ff 81.5px,#9c9cff 84.5px,#3838ff 96.5px,#1f1fff 102.5px,#4646ff 125.5px,#4747ff 129.5px)"></i><i style="left:278px;width:2px;background:linear-gradient(#00f 0.5px,#0c0cff 24.5px,#2d2dff 34.5px,#7070ff 43.5px,#9494ff 47.5px,#a7a7ff 48.5px,#fcfcff 51.5px,#ffa7a7 55.5px,#ff8282 58.5px,#ff6f6f 63.5px,#f77 72.5px,#ff8e8e 75.5px,#ffbfbf 78.5px,#fee 80.5px,#f5f5ff 81.5px,#9f9fff 84.5px,#44f 94.5px,#1e1eff 101.5px,#4646ff 125.5px,#4747ff 129.5px)"></i><i style="left:280px;width:2px;background:linear-gradient(#00f 0.5px,#0c0cff 24.5px,#2d2dff 34.5px,#7070ff 43.5px,#9494ff 47.5px,#fcfcff 51.5px,#ffaeae 55.5px,#ff8c8c 58.5px,#ff7c7c 63.5px,#ff8383 72.5px,#ffa5a5 76.5px,#ffdada 79.5px,#fff1f1 80.5px,#f4f4ff 81.5px,#a2a2ff 84.5px,#88f 86.5px,#3636ff 96.5px,#1e1eff 101.5px,#4646ff 125.5px,#4747ff 129.5px)"></i><i style="left:282px;width:2px;background:linear-gradient(#00f 0.5px,#0c0cff 24.5px,#2e2eff 34.5px,#7171ff 43.5px,#9595ff 47.5px,#fffefe 51.5px,#ffbaba 54.5px,#ff8f8f 57.5px,#f77 61.5px,#ff7878 71.5px,#ff9393 75.5px,#ffc1c1 78.5px,#fee 80.5px,#f6f6ff 81.5px,#a2a2ff 84.5px,#8080ff 87.5px,#3131ff 97.5px,#1f1fff 102.5px,#4646ff 125.5px,#4747ff 129.5px)"></i><i style="left:284px;width:2px;background:linear-gradient(#00f 0.5px,#0c0cff 24.5px,#2f2fff 34.5px,#7373ff 43.5px,#9898ff 47.5px,#ccf 49.5px,#ebebff 50.5px,#fff6f6 51.5px,#ffa9a9 54.5px,#ff7878 57.5px,#ff5e5e 61.5px,#ff5f5f 71.5px,#ff7d7d 75.5px,#ffb3b3 78.5px,#fcfcff 81.5px,#a1a1ff 84.5px,#3f3fff 95.5px,#1f1fff 101.5px,#4747ff 126.5px,#4747ff 129.5px)"></i><i style="left:286px;width:2px;background:linear-gradient(#00f 0.5px,#0c0cff 23.5px,#2c2cff 33.5px,#6f6fff 42.5px,#9b9bff 47.5px,#b2b2ff 48.5px,#f7f7ff 50.5px,#ffe4e4 51.5px,#ff8a8a 54.5px,#ff5050 57.5px,#ff3434 60.5px,#ff2c2c 68.5px,#ff3737 72.5px,#ff5757 75.5px,#ff9797 78.5px,#fff5f5 81.5px,#e7e7ff 82.5px,#a2a2ff 84.5px,#3b3bff 96.5px,#1f1fff 102.5px,#4646ff 125.5px,#4747ff 129.5px)"></i><i style="left:288px;width:2px;background:linear-gradient(#00f 0.5px,#0c0cff 23.5px,#2e2eff 33.5px,#7272ff 42.5px,#9e9eff 47.5px,#b9b9ff 48.5px,#fffafa 50.5px,#ff9090 53.5px,#ff4343 56.5px,#ff1a1a 59.5px,#ff0a0a 63.5px,#f11 71.5px,#ff2b2b 74.5px,#f66 77.5px,#ffc4c4 80.5px,#ffe8e8 81.5px,#f0f0ff 82.5px,#a6a6ff 84.5px,#3d3dff 96.5px,#1f1fff 102.5px,#4646ff 125.5px,#4747ff 129.5px)"></i><i style="left:290px;width:2px;background:linear-gradient(#00f 0.5px,#0c0cff 23.5px,#2e2eff 33.5px,#7272ff 42.5px,#9e9eff 47.5px,#fffafa 50.5px,#ff9494 53.5px,#ff4b4b 56.5px,#ff2424 59.5px,#ff1515 64.5px,#ff1c1c 71.5px,#ff3535 74.5px,#ff6d6d 77.5px,#ffc8c8 80.5px,#ffebeb 81.5px,#eef 82.5px,#a6a6ff 84.5px,#44f 95.5px,#1f1fff 102.5px,#4646ff 125.5px,#4747ff 129.5px)"></i><i style="left:292px;width:2px;background:linear-gradient(#00f 0.5px,#0c0cff 23.5px,#2e2eff 33.5px,#7272ff 42.5px,#9e9eff 47.5px,#fffafa 50.5px,#ff9797 53.5px,#ff5151 56.5px,#ff2c2c 59.5px,#ff1e1e 64.5px,#ff2424 71.5px,#ff3c3c 74.5px,#ff7373 77.5px,#ffcaca 80.5px,#ffeded 81.5px,#ededff 82.5px,#a7a7ff 84.5px,#4343ff 95.5px,#1f1fff 102.5px,#4646ff 125.5px,#4747ff 129.5px)"></i><i style="left:294px;width:4px;background:linear-gradient(#00f 0.5px,#0c0cff 23.5px,#2f2fff 33.5px,#7373ff 42.5px,#a0a0ff 47.5px,#e4e4ff 49.5px,#fff7f7 50.5px,#ff9797 53.5px,#ff5353 56.5px,#ff3030 59.5px,#f22 64.5px,#ff2828 71.5px,#ff4040 74.5px,#ff7575 77.5px,#ffcbcb 80.5px,#ffeded 81.5px,#eef 82.5px,#a9a9ff 84.5px,#88f 87.5px,#3636ff 97.5px,#1f1fff 102.5px,#4646ff 125.5px,#4747ff 129.5px)"></i><i style="left:298px;width:2px;background:linear-gradient(#00f 0.5px,#0c0cff 23.5px,#2f2fff 33.5px,#7272ff 42.5px,#a3a3ff 47.5px,#e5e5ff 49.5px,#fff8f8 50.5px,#ff9f9f 53.5px,#ff6161 56.5px,#ff4141 59.5px,#ff3535 65.5px,#ff3b3b 71.5px,#ff5151 74.5px,#ff8282 77.5px,#ffd2d2 80.5px,#fff1f1 81.5px,#ececff 82.5px,#aaf 84.5px,#9090ff 86.5px,#3636ff 97.5px,#1f1fff 102.5px,#4646ff 125.5px,#4747ff 129.5px)"></i><i style="left:300px;width:2px;background:linear-gradient(#00f 0.5px,#0c0cff 23.5px,#2d2dff 33.5px,#7070ff 42.5px,#9494ff 46.5px,#a7a7ff 47.5px,#fdfdff 50.5px,#ffa3a3 54.5px,#ff7a7a 57.5px,#ff6464 61.5px,#f66 71.5px,#ff8383 75.5px,#ffb3b3 78.5px,#fffdfd 81.5px,#9696ff 85.5px,#3a3aff 96.5px,#1f1fff 102.5px,#4646ff 125.5px,#4747ff 129.5px)"></i><i style="left:302px;width:2px;background:linear-gradient(#00f 0.5px,#0b0bff 23.5px,#2c2cff 33.5px,#6e6eff 42.5px,#9494ff 46.5px,#f9f9ff 50.5px,#ffd9d9 52.5px,#ffa8a8 55.5px,#f88 59.5px,#ff8282 69.5px,#ff9393 74.5px,#ffc4c4 78.5px,#fcfcff 81.5px,#9696ff 85.5px,#3f3fff 95.5px,#1f1fff 101.5px,#4747ff 126.5px,#4747ff 129.5px)"></i><i style="left:304px;width:2px;background:linear-gradient(#00f 0.5px,#0d0dff 23.5px,#2f2fff 33.5px,#7474ff 42.5px,#9898ff 46.5px,#acacff 47.5px,#ebebff 49.5px,#fff4f4 50.5px,#ffa2a2 53.5px,#ff6a6a 56.5px,#ff4949 60.5px,#ff4646 70.5px,#ff5e5e 74.5px,#ff8b8b 77.5px,#ffd5d5 80.5px,#fff2f2 81.5px,#ececff 82.5px,#aeaeff 84.5px,#9898ff 85.5px,#3535ff 97.5px,#1f1fff 102.5px,#4646ff 125.5px,#4747ff 129.5px)"></i><i style="left:306px;width:2px;background:linear-gradient(#00f 0.5px,#0d0dff 23.5px,#3030ff 33.5px,#7e7eff 43.5px,#99f 46.5px,#ceceff 48.5px,#ededff 49.5px,#fff1f1 50.5px,#ff9f9f 53.5px,#ff6868 56.5px,#ff4747 60.5px,#f44 70.5px,#ff5c5c 74.5px,#ff8989 77.5px,#ffd4d4 80.5px,#fff1f1 81.5px,#eef 82.5px,#aeaeff 84.5px,#99f 85.5px,#3636ff 97.5px,#1f1fff 102.5px,#4646ff 125.5px,#4747ff 129.5px)"></i><i style="left:308px;width:2px;background:linear-gradient(#00f 0.5px,#0c0cff 23.5px,#2f2fff 33.5px,#7373ff 42.5px,#9797ff 46.5px,#eaeaff 49.5px,#fff7f7 50.5px,#ffadad 53.5px,#ff7b7b 56.5px,#ff5e5e 60.5px,#ff5c5c 70.5px,#ff7171 74.5px,#ff9a9a 77.5px,#fdd 80.5px,#fff8f8 81.5px,#e9e9ff 82.5px,#9797ff 85.5px,#3b3bff 96.5px,#1f1fff 102.5px,#4646ff 125.5px,#4747ff 129.5px)"></i><i style="left:310px;width:2px;background:linear-gradient(#00f 0.5px,#0d0dff 23.5px,#2f2fff 33.5px,#7474ff 42.5px,#9898ff 46.5px,#ebebff 49.5px,#fff5f5 50.5px,#faa 53.5px,#f77 56.5px,#ff5959 60.5px,#ff5757 70.5px,#ff6c6c 74.5px,#ff9696 77.5px,#ffdbdb 80.5px,#fff6f6 81.5px,#eaeaff 82.5px,#9797ff 85.5px,#3b3bff 96.5px,#1f1fff 102.5px,#4646ff 125.5px,#4747ff 129.5px)"></i><i style="left:312px;width:2px;background:linear-gradient(#00f 0.5px,#0d0dff 23.5px,#3030ff 33.5px,#7d7dff 43.5px,#9898ff 46.5px,#ededff 49.5px,#fff3f3 50.5px,#ffa6a6 53.5px,#ff7272 56.5px,#ff5353 60.5px,#ff5151 70.5px,#ff6767 74.5px,#ff9292 77.5px,#ffd8d8 80.5px,#fff5f5 81.5px,#ececff 82.5px,#9898ff 85.5px,#3535ff 97.5px,#1f1fff 102.5px,#4646ff 125.5px,#4747ff 129.5px)"></i><i style="left:314px;width:2px;background:linear-gradient(#00f 0.5px,#0d0dff 23.5px,#3030ff 33.5px,#7e7eff 43.5px,#99f 46.5px,#f0f0ff 49.5px,#fff0f0 50.5px,#ff9f9f 53.5px,#ff6a6a 56.5px,#ff4a4a 60.5px,#ff4747 70.5px,#ff5f5f 74.5px,#ff8c8c 77.5px,#ffd4d4 80.5px,#fff2f2 81.5px,#eef 82.5px,#afafff 84.5px,#99f 85.5px,#3636ff 97.5px,#1f1fff 102.5px,#4646ff 125.5px,#4747ff 129.5px)"></i><i style="left:316px;width:2px;background:linear-gradient(#00f 0.5px,#0d0dff 23.5px,#3131ff 33.5px,#7f7fff 43.5px,#9a9aff 46.5px,#d2d2ff 48.5px,#f3f3ff 49.5px,#ffebeb 50.5px,#ff9898 53.5px,#ff6060 56.5px,#ff4343 59.5px,#ff3939 66.5px,#f44 72.5px,#ff6161 75.5px,#ff9a9a 78.5px,#fee 81.5px,#f0f0ff 82.5px,#b0b0ff 84.5px,#99f 85.5px,#3636ff 97.5px,#1f1fff 102.5px,#4646ff 125.5px,#4747ff 129.5px)"></i><i style="left:318px;width:2px;background:linear-gradient(#00f 0.5px,#0c0cff 22.5px,#2d2dff 32.5px,#6f6fff 41.5px,#9c9cff 46.5px,#d7d7ff 48.5px,#f9f9ff 49.5px,#ffe3e3 50.5px,#ff8a8a 53.5px,#ff4d4d 56.5px,#ff2e2e 59.5px,#ff2323 65.5px,#ff2a2a 71.5px,#ff4141 74.5px,#ff7474 77.5px,#ffc6c6 80.5px,#ffe6e6 81.5px,#f6f6ff 82.5px,#b2b2ff 84.5px,#9b9bff 85.5px,#3737ff 97.5px,#1f1fff 102.5px,#4646ff 125.5px,#4747ff 129.5px)"></i><i style="left:320px;width:2px;background:linear-gradient(#00f 0.5px,#0c0cff 22.5px,#2e2eff 32.5px,#7171ff 41.5px,#9d9dff 46.5px,#dcdcff 48.5px,#fffdfd 49.5px,#ff7a7a 53.5px,#ff3939 56.5px,#ff1818 59.5px,#ff0b0b 65.5px,#ff1313 71.5px,#ff2c2c 74.5px,#ff6363 77.5px,#fbb 80.5px,#fcfcff 82.5px,#b5b5ff 84.5px,#9c9cff 85.5px,#3939ff 97.5px,#1f1fff 102.5px,#4646ff 125.5px,#4747ff 129.5px)"></i><i style="left:322px;width:2px;background:linear-gradient(#00f 0.5px,#0c0cff 22.5px,#2e2eff 32.5px,#7272ff 41.5px,#9e9eff 46.5px,#fff9f9 49.5px,#ff7272 53.5px,#ff2f2f 56.5px,#ff0d0d 59.5px,#f00 65.5px,#ff0808 71.5px,#f22 74.5px,#ff5b5b 77.5px,#ffb5b5 80.5px,#fffefe 82.5px,#b7b7ff 84.5px,#9d9dff 85.5px,#3939ff 97.5px,#2020ff 102.5px,#4646ff 125.5px,#4747ff 129.5px)"></i><i style="left:324px;width:2px;background:linear-gradient(#00f 0.5px,#0c0cff 22.5px,#2e2eff 32.5px,#7272ff 41.5px,#9e9eff 46.5px,#e1e1ff 48.5px,#fff8f8 49.5px,#ff7171 53.5px,#ff2e2e 56.5px,#ff0d0d 59.5px,#f00 65.5px,#ff0808 71.5px,#f22 74.5px,#ff5b5b 77.5px,#ffb5b5 80.5px,#fffefe 82.5px,#b7b7ff 84.5px,#9d9dff 85.5px,#3939ff 97.5px,#2020ff 102.5px,#4646ff 125.5px,#4747ff 129.5px)"></i><i style="left:326px;width:2px;background:linear-gradient(#00f 0.5px,#0c0cff 22.5px,#2f2fff 32.5px,#7272ff 41.5px,#9f9fff 46.5px,#e1e1ff 48.5px,#fff7f7 49.5px,#ff7171 53.5px,#ff2e2e 56.5px,#ff0c0c 59.5px,#f00 65.5px,#ff0808 71.5px,#f22 74.5px,#ff5b5b 77.5px,#ffb5b5 80.5px,#fffefe 82.5px,#b7b7ff 84.5px,#9d9dff 85.5px,#3939ff 97.5px,#2020ff 102.5px,#4646ff 125.5px,#4747ff 129.5px)"></i><i style="left:328px;width:2px;background:linear-gradient(#00f 0.5px,#0c0cff 22.5px,#2f2fff 32.5px,#7373ff 41.5px,#9f9fff 46.5px,#e2e2ff 48.5px,#fff7f7 49.5px,#ff7070 53.5px,#ff2e2e 56.5px,#ff0c0c 59.5px,#f00 65.5px,#ff0808 71.5px,#f22 74.5px,#ff5b5b 77.5px,#ffb5b5 80.5px,#fffdfd 82.5px,#b7b7ff 84.5px,#9d9dff 85.5px,#3939ff 97.5px,#2020ff 102.5px,#4646ff 125.5px,#4747ff 129.5px)"></i><i style="left:330px;width:2px;background:linear-gradient(#00f 0.5px,#0c0cff 22.5px,#2f2fff 32.5px,#7373ff 41.5px,#9f9fff 46.5px,#e3e3ff 48.5px,#fff6f6 49.5px,#ff7070 53.5px,#ff2e2e 56.5px,#ff0c0c 59.5px,#f00 65.5px,#ff0808 71.5px,#f22 74.5px,#ff5b5b 77.5px,#ffb5b5 80.5px,#fffdfd 82.5px,#b7b7ff 84.5px,#9d9dff 85.5px,#3939ff 97.5px,#2020ff 102.5px,#4646ff 125.5px,#4747ff 129.5px)"></i><i style="left:332px;width:2px;background:linear-gradient(#00f 0.5px,#0c0cff 22.5px,#2f2fff 32.5px,#7373ff 41.5px,#9f9fff 46.5px,#e4e4ff 48.5px,#fff5f5 49.5px,#ff6f6f 53.5px,#ff2d2d 56.5px,#ff0c0c 59.5px,#f00 65.5px,#ff0808 71.5px,#f22 74.5px,#ff5b5b 77.5px,#ffb5b5 80.5px,#fffdfd 82.5px,#b8b8ff 84.5px,#9d9dff 85.5px,#3a3aff 97.5px,#2020ff 102.5px,#4646ff 125.5px,#4747ff 129.5px)"></i><i style="left:334px;width:4px;background:linear-gradient(#00f 0.5px,#0c0cff 22.5px,#2f2fff 32.5px,#7373ff 41.5px,#9f9fff 46.5px,#e5e5ff 48.5px,#fff4f4 49.5px,#ff6f6f 53.5px,#ff2e2e 56.5px,#ff0d0d 59.5px,#ff0101 65.5px,#ff0808 71.5px,#f22 74.5px,#ff5b5b 77.5px,#ffb5b5 80.5px,#fffdfd 82.5px,#b8b8ff 84.5px,#9d9dff 85.5px,#3a3aff 97.5px,#2020ff 102.5px,#4646ff 125.5px,#4747ff 129.5px)"></i><i style="left:338px;width:4px;background:linear-gradient(#00f 0.5px,#0c0cff 22.5px,#2f2fff 32.5px,#7373ff 41.5px,#9f9fff 46.5px,#e4e4ff 48.5px,#fff5f5 49.5px,#ff7474 53.5px,#ff3434 56.5px,#ff1515 59.5px,#ff0909 65.5px,#f11 71.5px,#ff2a2a 74.5px,#ff6161 77.5px,#ffb9b9 80.5px,#fffeff 82.5px,#b7b7ff 84.5px,#9d9dff 85.5px,#3939ff 97.5px,#1f1fff 102.5px,#4646ff 125.5px,#4747ff 129.5px)"></i><i style="left:342px;width:2px;background:linear-gradient(#00f 0.5px,#0d0dff 22.5px,#2f2fff 32.5px,#7474ff 41.5px,#a0a0ff 46.5px,#e7e7ff 48.5px,#fff3f3 49.5px,#ff7070 53.5px,#ff3131 56.5px,#f11 59.5px,#ff0505 65.5px,#ff0d0d 71.5px,#ff2626 74.5px,#ff5e5e 77.5px,#ffb7b7 80.5px,#fffefe 82.5px,#b8b8ff 84.5px,#9d9dff 85.5px,#3939ff 97.5px,#2020ff 102.5px,#4646ff 125.5px,#4747ff 129.5px)"></i><i style="left:344px;width:4px;background:linear-gradient(#00f 0.5px,#0d0dff 22.5px,#3030ff 32.5px,#7474ff 41.5px,#a2a2ff 46.5px,#e8e8ff 48.5px,#fff1f1 49.5px,#ff6d6d 53.5px,#ff2e2e 56.5px,#ff0e0e 59.5px,#ff0202 65.5px,#ff0a0a 71.5px,#ff2424 74.5px,#ff5c5c 77.5px,#ffb5b5 80.5px,#fffdfd 82.5px,#b9b9ff 84.5px,#9e9eff 85.5px,#3a3aff 97.5px,#2020ff 102.5px,#4646ff 125.5px,#4747ff 129.5px)"></i><i style="left:348px;width:4px;background:linear-gradient(#00f 0.5px,#0d0dff 22.5px,#3030ff 32.5px,#7474ff 41.5px,#a2a2ff 46.5px,#e9e9ff 48.5px,#fff1f1 49.5px,#ff7070 53.5px,#ff3232 56.5px,#ff1313 59.5px,#ff0808 65.5px,#ff1010 71.5px,#ff2929 74.5px,#ff6060 77.5px,#ffb8b8 80.5px,#fffefe 82.5px,#b8b8ff 84.5px,#9d9dff 85.5px,#3939ff 97.5px,#2020ff 102.5px,#4646ff 125.5px,#4747ff 129.5px)"></i><i style="left:352px;width:2px;background:linear-gradient(#00f 0.5px,#0d0dff 22.5px,#3030ff 32.5px,#7e7eff 42.5px,#a4a4ff 46.5px,#eaeaff 48.5px,#fff0f0 49.5px,#ff6f6f 53.5px,#ff3030 56.5px,#f11 59.5px,#ff0606 65.5px,#ff0e0e 71.5px,#ff2828 74.5px,#ff5f5f 77.5px,#ffb7b7 80.5px,#fffdfd 82.5px,#b9b9ff 84.5px,#9d9dff 85.5px,#3939ff 97.5px,#2020ff 102.5px,#4646ff 125.5px,#4747ff 129.5px)"></i><i style="left:354px;width:2px;background:linear-gradient(#00f 0.5px,#0d0dff 22.5px,#3030ff 32.5px,#7e7eff 42.5px,#a5a5ff 46.5px,#ececff 48.5px,#ffeded 49.5px,#ff8787 52.5px,#ff3d3d 55.5px,#ff1414 58.5px,#ff0303 62.5px,#ff0505 70.5px,#ff1818 73.5px,#ff4545 76.5px,#ff9494 79.5px,#fffcfc 82.5px,#9e9eff 85.5px,#3a3aff 97.5px,#2020ff 102.5px,#4646ff 125.5px,#4747ff 129.5px)"></i><i style="left:356px;width:2px;background:linear-gradient(#00f 0.5px,#0d0dff 22.5px,#3030ff 32.5px,#7e7eff 42.5px,#a5a5ff 46.5px,#eaeaff 48.5px,#fff0f0 49.5px,#ff7272 53.5px,#ff3636 56.5px,#ff1818 59.5px,#ff0d0d 65.5px,#ff1515 71.5px,#ff2e2e 74.5px,#ff6464 77.5px,#ffbaba 80.5px,#fefefe 82.5px,#b8b8ff 84.5px,#9d9dff 85.5px,#3939ff 97.5px,#1f1fff 102.5px,#4646ff 125.5px,#4747ff 129.5px)"></i><i style="left:358px;width:2px;background:linear-gradient(#00f 0.5px,#0c0cff 22.5px,#2f2fff 32.5px,#7373ff 41.5px,#a4a4ff 46.5px,#e6e6ff 48.5px,#fff6f6 49.5px,#ff7e7e 53.5px,#ff4545 56.5px,#ff2929 59.5px,#ff1f1f 66.5px,#ff2c2c 72.5px,#ff4c4c 75.5px,#ff8989 78.5px,#ffe3e3 81.5px,#fafaff 82.5px,#b6b6ff 84.5px,#9c9cff 85.5px,#3838ff 97.5px,#1f1fff 102.5px,#4646ff 125.5px,#4747ff 129.5px)"></i><i style="left:360px;width:2px;background:linear-gradient(#00f 0.5px,#0c0cff 22.5px,#2f2fff 32.5px,#7272ff 41.5px,#a4a4ff 46.5px,#e4e4ff 48.5px,#fff9f9 49.5px,#ff8686 53.5px,#ff5050 56.5px,#ff3131 60.5px,#ff2f2f 70.5px,#ff4949 74.5px,#ff7a7a 77.5px,#ffc8c8 80.5px,#ffe7e7 81.5px,#f6f6ff 82.5px,#9b9bff 85.5px,#3838ff 97.5px,#1f1fff 102.5px,#4646ff 125.5px,#4747ff 129.5px)"></i><i style="left:362px;width:2px;background:linear-gradient(#00f 0.5px,#0c0cff 22.5px,#2e2eff 32.5px,#7272ff 41.5px,#a4a4ff 46.5px,#e3e3ff 48.5px,#fffbfb 49.5px,#ff8c8c 53.5px,#ff5858 56.5px,#ff3a3a 60.5px,#ff3939 70.5px,#ff5252 74.5px,#ff8181 77.5px,#fcc 80.5px,#ffeaea 81.5px,#f4f4ff 82.5px,#9a9aff 85.5px,#3737ff 97.5px,#1f1fff 102.5px,#4646ff 125.5px,#4747ff 129.5px)"></i><i style="left:364px;width:4px;background:linear-gradient(#00f 0.5px,#0c0cff 22.5px,#2e2eff 32.5px,#7171ff 41.5px,#a5a5ff 46.5px,#fffcfc 49.5px,#ff9191 53.5px,#ff5f5f 56.5px,#ff4343 60.5px,#ff4141 70.5px,#ff5959 74.5px,#ff8787 77.5px,#ffd0d0 80.5px,#ffeded 81.5px,#f3f3ff 82.5px,#9a9aff 85.5px,#3737ff 97.5px,#1f1fff 102.5px,#4646ff 125.5px,#4747ff 129.5px)"></i><i style="left:368px;width:2px;background:linear-gradient(#00f 0.5px,#0c0cff 22.5px,#2e2eff 32.5px,#7272ff 41.5px,#9696ff 45.5px,#a6a6ff 46.5px,#fffbfb 49.5px,#ff9191 53.5px,#ff5f5f 56.5px,#ff4343 60.5px,#ff4141 70.5px,#ff5a5a 74.5px,#ff8787 77.5px,#ffd0d0 80.5px,#ffeded 81.5px,#f3f3ff 82.5px,#9a9aff 85.5px,#3737ff 97.5px,#1f1fff 102.5px,#4646ff 125.5px,#4747ff 129.5px)"></i><i style="left:370px;width:2px;background:linear-gradient(#00f 0.5px,#0c0cff 22.5px,#2e2eff 32.5px,#7272ff 41.5px,#9696ff 45.5px,#a7a7ff 46.5px,#e4e4ff 48.5px,#fffbfb 49.5px,#ff9090 53.5px,#ff5f5f 56.5px,#ff4343 60.5px,#ff4141 70.5px,#ff5959 74.5px,#ff8787 77.5px,#ffcfcf 80.5px,#ffeded 81.5px,#f3f3ff 82.5px,#9a9aff 85.5px,#3737ff 97.5px,#1f1fff 102.5px,#4646ff 125.5px,#4747ff 129.5px)"></i><i style="left:372px;width:2px;background:linear-gradient(#00f 0.5px,#0c0cff 22.5px,#2f2fff 32.5px,#7373ff 41.5px,#9797ff 45.5px,#a7a7ff 46.5px,#e7e7ff 48.5px,#fff8f8 49.5px,#ff8a8a 53.5px,#ff5757 56.5px,#ff3a3a 60.5px,#ff3939 70.5px,#ff5252 74.5px,#ff8181 77.5px,#fcc 80.5px,#ffeaea 81.5px,#f5f5ff 82.5px,#9b9bff 85.5px,#3737ff 97.5px,#1f1fff 102.5px,#4646ff 125.5px,#4747ff 129.5px)"></i><i style="left:374px;width:2px;background:linear-gradient(#00f 0.5px,#0d0dff 22.5px,#3030ff 32.5px,#7474ff 41.5px,#9898ff 45.5px,#a9a9ff 46.5px,#ebebff 48.5px,#fff2f2 49.5px,#ff7f7f 53.5px,#ff4848 56.5px,#ff2a2a 60.5px,#ff2828 70.5px,#ff4343 74.5px,#ff7575 77.5px,#ffc4c4 80.5px,#f9f9ff 82.5px,#9c9cff 85.5px,#3838ff 97.5px,#1f1fff 102.5px,#4646ff 125.5px,#4747ff 129.5px)"></i><i style="left:376px;width:2px;background:linear-gradient(#00f 0.5px,#0d0dff 22.5px,#3131ff 32.5px,#7f7fff 42.5px,#9a9aff 45.5px,#acacff 46.5px,#f0f0ff 48.5px,#ffebeb 49.5px,#ff8d8d 52.5px,#ff4949 55.5px,#ff2424 58.5px,#ff1414 63.5px,#ff1b1b 71.5px,#ff3434 74.5px,#ff6969 77.5px,#ffbcbc 80.5px,#fefeff 82.5px,#9d9dff 85.5px,#3939ff 97.5px,#1f1fff 102.5px,#4646ff 125.5px,#4747ff 129.5px)"></i><i style="left:378px;width:2px;background:linear-gradient(#00f 0.5px,#0d0dff 22.5px,#3131ff 32.5px,#7f7fff 42.5px,#9a9aff 45.5px,#adadff 46.5px,#f1f1ff 48.5px,#ffeaea 49.5px,#ff8a8a 52.5px,#ff4646 55.5px,#ff2121 58.5px,#f11 63.5px,#ff1818 71.5px,#ff3131 74.5px,#f66 77.5px,#fbb 80.5px,#fffefe 82.5px,#9d9dff 85.5px,#3939ff 97.5px,#1f1fff 102.5px,#4646ff 125.5px,#4747ff 129.5px)"></i><i style="left:380px;width:2px;background:linear-gradient(#00f 0.5px,#0d0dff 22.5px,#3030ff 32.5px,#7e7eff 42.5px,#99f 45.5px,#acacff 46.5px,#eef 48.5px,#fee 49.5px,#ff9393 52.5px,#ff5252 55.5px,#ff2f2f 58.5px,#ff2020 63.5px,#ff2727 71.5px,#ff3f3f 74.5px,#ff7171 77.5px,#ffc2c2 80.5px,#fbfbff 82.5px,#9c9cff 85.5px,#3838ff 97.5px,#1f1fff 102.5px,#4646ff 125.5px,#4747ff 129.5px)"></i><i style="left:382px;width:2px;background:linear-gradient(#00f 0.5px,#0d0dff 22.5px,#3030ff 32.5px,#7474ff 41.5px,#9898ff 45.5px,#ababff 46.5px,#ebebff 48.5px,#fff2f2 49.5px,#ff8484 53.5px,#ff5151 56.5px,#ff3434 60.5px,#f33 70.5px,#ff4c4c 74.5px,#ff7c7c 77.5px,#ffc8c8 80.5px,#ffe7e7 81.5px,#f7f7ff 82.5px,#9b9bff 85.5px,#3838ff 97.5px,#1f1fff 102.5px,#4646ff 125.5px,#4747ff 129.5px)"></i><i style="left:384px;width:2px;background:linear-gradient(#00f 0.5px,#0d0dff 22.5px,#3030ff 32.5px,#7474ff 41.5px,#9898ff 45.5px,#acacff 46.5px,#ebebff 48.5px,#fff3f3 49.5px,#ff8787 53.5px,#f55 56.5px,#ff3939 60.5px,#ff3838 70.5px,#ff5151 74.5px,#ff8080 77.5px,#ffcbcb 80.5px,#ffe9e9 81.5px,#f6f6ff 82.5px,#9b9bff 85.5px,#3737ff 97.5px,#1f1fff 102.5px,#4646ff 125.5px,#4747ff 129.5px)"></i><i style="left:386px;width:2px;background:linear-gradient(#00f 0.5px,#0d0dff 22.5px,#3030ff 32.5px,#7e7eff 42.5px,#9898ff 45.5px,#adadff 46.5px,#ececff 48.5px,#fff2f2 49.5px,#ff8585 53.5px,#ff5353 56.5px,#ff3737 60.5px,#ff3636 70.5px,#ff4f4f 74.5px,#ff7e7e 77.5px,#ffcaca 80.5px,#ffe8e8 81.5px,#f7f7ff 82.5px,#9b9bff 85.5px,#3838ff 97.5px,#1f1fff 102.5px,#4646ff 125.5px,#4747ff 129.5px)"></i><i style="left:388px;width:2px;background:linear-gradient(#00f 0.5px,#0d0dff 22.5px,#3030ff 32.5px,#7f7fff 42.5px,#99f 45.5px,#aeaeff 46.5px,#efefff 48.5px,#fee 49.5px,#ff9696 52.5px,#ff5858 55.5px,#ff3737 58.5px,#ff2828 63.5px,#ff2f2f 71.5px,#ff4646 74.5px,#f77 77.5px,#ffc5c5 80.5px,#fafaff 82.5px,#9c9cff 85.5px,#3838ff 97.5px,#1f1fff 102.5px,#4646ff 125.5px,#4747ff 129.5px)"></i><i style="left:390px;width:2px;background:linear-gradient(#00f 0.5px,#0d0dff 22.5px,#3131ff 32.5px,#8080ff 42.5px,#9b9bff 45.5px,#b1b1ff 46.5px,#f5f5ff 48.5px,#ffe6e6 49.5px,#ff8989 52.5px,#ff4747 55.5px,#ff2323 58.5px,#ff1313 63.5px,#ff1b1b 71.5px,#ff3434 74.5px,#ff6868 77.5px,#fbb 80.5px,#fffdfe 82.5px,#9d9dff 85.5px,#3939ff 97.5px,#2020ff 102.5px,#4646ff 125.5px,#4747ff 129.5px)"></i><i style="left:392px;width:4px;background:linear-gradient(#00f 0.5px,#0e0eff 22.5px,#3232ff 32.5px,#8282ff 42.5px,#9c9cff 45.5px,#b4b4ff 46.5px,#fbfbff 48.5px,#ff7f7f 52.5px,#ff3a3a 55.5px,#ff1515 58.5px,#ff0505 63.5px,#ff0d0d 71.5px,#ff2727 74.5px,#ff5e5e 77.5px,#ffb4b4 80.5px,#fffafa 82.5px,#e1e1ff 83.5px,#9e9eff 85.5px,#3a3aff 97.5px,#2020ff 102.5px,#4646ff 125.5px,#4747ff 129.5px)"></i><i style="left:396px;width:2px;background:linear-gradient(#00f 0.5px,#0d0dff 22.5px,#3232ff 32.5px,#8181ff 42.5px,#9c9cff 45.5px,#b4b4ff 46.5px,#f9f9ff 48.5px,#ffe2e2 49.5px,#ff8383 52.5px,#ff4040 55.5px,#ff1c1c 58.5px,#ff0d0d 63.5px,#ff1515 71.5px,#ff2e2e 74.5px,#ff6363 77.5px,#ffb8b8 80.5px,#fffcfc 82.5px,#9e9eff 85.5px,#3a3aff 97.5px,#2020ff 102.5px,#4646ff 125.5px,#4747ff 129.5px)"></i><i style="left:398px;width:2px;background:linear-gradient(#00f 0.5px,#0d0dff 22.5px,#3232ff 32.5px,#8181ff 42.5px,#9c9cff 45.5px,#d6d6ff 47.5px,#f8f8ff 48.5px,#ffe3e3 49.5px,#ff8787 52.5px,#ff4545 55.5px,#f22 58.5px,#ff1313 63.5px,#ff1b1b 71.5px,#f33 74.5px,#ff6868 77.5px,#fbb 80.5px,#fffefe 82.5px,#9d9dff 85.5px,#3939ff 97.5px,#2020ff 102.5px,#4646ff 125.5px,#4747ff 129.5px)"></i><i style="left:400px;width:2px;background:linear-gradient(#00f 0.5px,#0e0eff 22.5px,#3232ff 32.5px,#8282ff 42.5px,#9c9cff 45.5px,#d7d7ff 47.5px,#fafaff 48.5px,#ff8383 52.5px,#ff4141 55.5px,#ff1d1d 58.5px,#ff0e0e 63.5px,#ff1616 71.5px,#ff2f2f 74.5px,#ff6464 77.5px,#ffb8b8 80.5px,#fffcfc 82.5px,#9e9eff 85.5px,#3a3aff 97.5px,#2020ff 102.5px,#4646ff 125.5px,#4747ff 129.5px)"></i><i style="left:402px;width:2px;background:linear-gradient(#00f 0.5px,#0e0eff 22.5px,#33f 32.5px,#8383ff 42.5px,#9d9dff 45.5px,#dadaff 47.5px,#fdfdff 48.5px,#ff7d7d 52.5px,#ff3a3a 55.5px,#ff1616 58.5px,#ff0606 63.5px,#ff0e0e 71.5px,#ff2828 74.5px,#ff5f5f 77.5px,#ffb4b4 80.5px,#fff9f9 82.5px,#e1e1ff 83.5px,#9e9eff 85.5px,#3a3aff 97.5px,#2020ff 102.5px,#4646ff 125.5px,#4747ff 129.5px)"></i><i style="left:404px;width:2px;background:linear-gradient(#00f 0.5px,#0e0eff 22.5px,#33f 32.5px,#8383ff 42.5px,#9d9dff 45.5px,#dbdbff 47.5px,#fefeff 48.5px,#ff7c7c 52.5px,#ff3939 55.5px,#ff1515 58.5px,#ff0606 63.5px,#ff0e0e 71.5px,#ff2727 74.5px,#ff5e5e 77.5px,#ffb4b4 80.5px,#fff9f9 82.5px,#e1e1ff 83.5px,#9e9eff 85.5px,#3a3aff 97.5px,#2020ff 102.5px,#4646ff 125.5px,#4747ff 129.5px)"></i><i style="left:406px;width:2px;background:linear-gradient(#00f 0.5px,#0d0dff 22.5px,#3232ff 32.5px,#8181ff 42.5px,#9c9cff 45.5px,#f9f9ff 48.5px,#ffe4e4 49.5px,#ff8a8a 52.5px,#ff4b4b 55.5px,#ff2a2a 58.5px,#ff1c1c 63.5px,#ff2323 71.5px,#ff3b3b 74.5px,#ff6e6e 77.5px,#ffbebe 80.5px,#fefdfe 82.5px,#9d9dff 85.5px,#3939ff 97.5px,#1f1fff 102.5px,#4646ff 125.5px,#4747ff 129.5px)"></i><i style="left:408px;width:2px;background:linear-gradient(#00f 0.5px,#0d0dff 22.5px,#3131ff 32.5px,#8080ff 42.5px,#9a9aff 45.5px,#f4f4ff 48.5px,#ffebeb 49.5px,#ff9898 52.5px,#ff5e5e 55.5px,#ff3f3f 58.5px,#ff3232 64.5px,#ff3939 71.5px,#ff5c5c 75.5px,#ff9494 78.5px,#ffe6e6 81.5px,#f8f8ff 82.5px,#9b9bff 85.5px,#3838ff 97.5px,#1f1fff 102.5px,#4646ff 125.5px,#4747ff 129.5px)"></i><i style="left:410px;width:2px;background:linear-gradient(#00f 0.5px,#0d0dff 22.5px,#3030ff 32.5px,#7e7eff 42.5px,#99f 45.5px,#f0f0ff 48.5px,#fff1f1 49.5px,#ff8f8f 53.5px,#ff6363 56.5px,#ff4a4a 60.5px,#ff4a4a 70.5px,#ff6161 74.5px,#ff8c8c 77.5px,#ffeded 81.5px,#f4f4ff 82.5px,#9b9bff 85.5px,#3737ff 97.5px,#1f1fff 102.5px,#4646ff 125.5px,#4747ff 129.5px)"></i><i style="left:412px;width:2px;background:linear-gradient(#00f 0.5px,#0d0dff 22.5px,#3131ff 32.5px,#7f7fff 42.5px,#9a9aff 45.5px,#f2f2ff 48.5px,#fee 49.5px,#ff8989 53.5px,#ff5b5b 56.5px,#ff4242 60.5px,#ff4242 70.5px,#ff5a5a 74.5px,#ff8787 77.5px,#ffcece 80.5px,#ffeaea 81.5px,#f6f6ff 82.5px,#9b9bff 85.5px,#3737ff 97.5px,#1f1fff 102.5px,#4646ff 125.5px,#4747ff 129.5px)"></i><i style="left:414px;width:2px;background:linear-gradient(#00f 0.5px,#0d0dff 22.5px,#3232ff 32.5px,#8181ff 42.5px,#9b9bff 45.5px,#f6f6ff 48.5px,#ffe8e8 49.5px,#ff9494 52.5px,#ff5b5b 55.5px,#ff3c3c 58.5px,#ff2f2f 64.5px,#ff3636 71.5px,#ff5959 75.5px,#ff9292 78.5px,#ffe5e5 81.5px,#fafaff 82.5px,#9c9cff 85.5px,#3838ff 97.5px,#1f1fff 102.5px,#4646ff 125.5px,#4747ff 129.5px)"></i><i style="left:416px;width:2px;background:linear-gradient(#00f 0.5px,#0e0eff 22.5px,#3232ff 32.5px,#8282ff 42.5px,#9c9cff 45.5px,#fbfbff 48.5px,#ff8a8a 52.5px,#ff4d4d 55.5px,#ff2d2d 58.5px,#ff1f1f 64.5px,#ff2727 71.5px,#ff3f3f 74.5px,#ff7171 77.5px,#ffc0c0 80.5px,#fefeff 82.5px,#9d9dff 85.5px,#3939ff 97.5px,#1f1fff 102.5px,#4646ff 125.5px,#4747ff 129.5px)"></i><i style="left:418px;width:2px;background:linear-gradient(#00f 0.5px,#0e0eff 22.5px,#33f 32.5px,#8383ff 42.5px,#9d9dff 45.5px,#fffefe 48.5px,#ff8282 52.5px,#ff4343 55.5px,#f22 58.5px,#ff1414 63.5px,#ff1b1b 71.5px,#ff3434 74.5px,#ff6868 77.5px,#ffbaba 80.5px,#fffcfc 82.5px,#9e9eff 85.5px,#3a3aff 97.5px,#2020ff 102.5px,#4646ff 125.5px,#4747ff 129.5px)"></i><i style="left:420px;width:2px;background:linear-gradient(#00f 0.5px,#0c0cff 21.5px,#2e2eff 31.5px,#7171ff 40.5px,#9e9eff 45.5px,#fffcfc 48.5px,#ff7d7d 52.5px,#ff3d3d 55.5px,#ff1b1b 58.5px,#ff0d0d 63.5px,#ff1515 71.5px,#ff2e2e 74.5px,#ff6363 77.5px,#ffb7b7 80.5px,#fffafa 82.5px,#bfbfff 84.5px,#9e9eff 85.5px,#3a3aff 97.5px,#2020ff 102.5px,#4646ff 125.5px,#4747ff 129.5px)"></i><i style="left:422px;width:2px;background:linear-gradient(#00f 0.5px,#0c0cff 21.5px,#2e2eff 31.5px,#7272ff 40.5px,#9e9eff 45.5px,#e2e2ff 47.5px,#fff9f9 48.5px,#ff7878 52.5px,#ff3737 55.5px,#ff1414 58.5px,#ff0606 63.5px,#ff0e0e 71.5px,#ff2828 74.5px,#ff5e5e 77.5px,#ffb3b3 80.5px,#fff8f8 82.5px,#e3e3ff 83.5px,#9f9fff 85.5px,#3b3bff 97.5px,#2020ff 102.5px,#4646ff 125.5px,#4747ff 129.5px)"></i></div>
<div class="hm" style="left:574px;top:652px;width:424px;height:128px"><i style="left:0px;width:2px;background:linear-gradient(#00f 0.5px,#0a0aff 44.5px,#2121ff 70.5px,#22f 76.5px,#5151ff 84.5px,#9e9eff 91.5px,#f9f9ff 97.5px,#fffefe 98.5px,#ffe6e6 100.5px,#ff9d9d 103.5px,#ff2d2d 107.5px,#ff0909 109.5px,#f00 111.5px,#f00 127.5px)"></i><i style="left:2px;width:2px;background:linear-gradient(#00f 0.5px,#0a0aff 44.5px,#22f 70.5px,#22f 76.5px,#5151ff 84.5px,#9e9eff 91.5px,#f9f9ff 97.5px,#fffefe 98.5px,#ffe6e6 100.5px,#ff9d9d 103.5px,#ff2d2d 107.5px,#ff0909 109.5px,#f00 111.5px,#f00 127.5px)"></i><i style="left:4px;width:2px;background:linear-gradient(#00f 0.5px,#0707ff 29.5px,#2323ff 42.5px,#3434ff 78.5px,#4949ff 83.5px,#9090ff 90.5px,#f9f9ff 97.5px,#fffefe 98.5px,#ffe6e6 100.5px,#ff9d9d 103.5px,#ff2d2d 107.5px,#ff0909 109.5px,#f00 111.5px,#f00 127.5px)"></i><i style="left:6px;width:2px;background:linear-gradient(#00f 0.5px,#0a0aff 23.5px,#2424ff 29.5px,#b7b7ff 38.5px,#ececff 40.5px,#fbf6fa 41.5px,#ffe6e6 42.5px,#ffc3c3 43.5px,#ff9494 46.5px,#ff6a6a 48.5px,#ff5d5d 49.5px,#ff6060 54.5px,#ff8080 55.5px,#ff8080 65.5px,#ffa2a2 66.5px,#ffa2a2 77.5px,#ffb7b7 78.5px,#fcbdbf 80.5px,#fcbdbf 89.5px,#ffa2a2 91.5px,#ffa2a2 96.5px,#ff9b9b 97.5px,#ff8080 98.5px,#ff8080 100.5px,#ff5d5d 102.5px,#ff5858 103.5px,#ff2828 104.5px,#ff0e0e 105.5px,#f00 106.5px,#f00 127.5px)"></i><i style="left:8px;width:2px;background:linear-gradient(#00f 0.5px,#0909ff 23.5px,#2121ff 29.5px,#4848ff 33.5px,#b1b1ff 39.5px,#d1d1ff 41.5px,#f2edfa 46.5px,#f9e1e7 48.5px,#fcd0d3 49.5px,#ff8c8c 51.5px,#ff6060 52.5px,#ff0e0e 55.5px,#ff0101 56.5px,#f00 127.5px)"></i><i style="left:10px;width:2px;background:linear-gradient(#00f 0.5px,#0808ff 23.5px,#2424ff 30.5px,#6060ff 36.5px,#9d9dff 41.5px,#efefff 53.5px,#f6ebf4 54.5px,#ffb7b7 56.5px,#ff4d4d 58.5px,#ff0909 60.5px,#f00 62.5px,#f00 127.5px)"></i><i style="left:12px;width:2px;background:linear-gradient(#00f 0.5px,#0909ff 24.5px,#2929ff 32.5px,#7070ff 41.5px,#ababff 51.5px,#efefff 58.5px,#f6ecf4 59.5px,#fcd0d3 60.5px,#ff9090 61.5px,#ff2020 62.5px,#f00 63.5px,#ff0303 120.5px,#ff1414 123.5px,#ff4141 125.5px,#ff6060 126.5px,#ff9d9d 127.5px)"></i><i style="left:14px;width:2px;background:linear-gradient(#00f 0.5px,#0909ff 25.5px,#2a2aff 34.5px,#7272ff 46.5px,#cbcbff 55.5px,#efefff 59.5px,#f8e5eb 60.5px,#ffb7b7 61.5px,#ff3636 62.5px,#f00 63.5px,#f00 106.5px,#ff1212 108.5px,#ff4040 111.5px,#ff5858 112.5px,#ff5d5d 113.5px,#ff7a7a 114.5px,#ff8c8c 116.5px,#ffa2a2 117.5px,#f9d1d7 121.5px,#f9d5da 122.5px,#f5f0fa 124.5px,#e1e1ff 127.5px)"></i><i style="left:16px;width:2px;background:linear-gradient(#00f 0.5px,#0909ff 26.5px,#2a2aff 35.5px,#66f 42.5px,#eef 53.5px,#f5f0fa 54.5px,#f9d5da 55.5px,#ffafaf 57.5px,#ff7e7e 58.5px,#ff4141 59.5px,#ff0303 61.5px,#ff0303 97.5px,#ff2020 99.5px,#ff4141 101.5px,#ff7a7a 103.5px,#ffa2a2 105.5px,#fbd3d7 107.5px,#f6ebf4 109.5px,#ececff 112.5px,#b9b9ff 125.5px,#ababff 127.5px)"></i><i style="left:18px;width:2px;background:linear-gradient(#00f 0.5px,#0909ff 25.5px,#2828ff 33.5px,#6060ff 39.5px,#b6b6ff 45.5px,#efefff 49.5px,#f9e1e7 50.5px,#ff9b9b 52.5px,#ff5c5c 53.5px,#ff2828 54.5px,#ff0e0e 55.5px,#f00 57.5px,#ff0101 89.5px,#ff3d3d 92.5px,#ff7a7a 94.5px,#ff8c8c 95.5px,#ffafaf 96.5px,#f9d5da 98.5px,#f2edfa 100.5px,#d4d4ff 106.5px,#aeaeff 113.5px,#8282ff 126.5px,#7c7cff 127.5px)"></i><i style="left:20px;width:2px;background:linear-gradient(#00f 0.5px,#0909ff 24.5px,#2424ff 31.5px,#5e5eff 37.5px,#e4e4ff 45.5px,#f4eefa 46.5px,#fcd8da 47.5px,#ff4d4d 49.5px,#ff2020 50.5px,#ff0101 51.5px,#ff0303 87.5px,#ff5656 88.5px,#ffb4b4 89.5px,#f9e1e7 90.5px,#f2edfa 92.5px,#cbcbff 98.5px,#8181ff 112.5px,#5858ff 127.5px)"></i><i style="left:22px;width:2px;background:linear-gradient(#00f 0.5px,#0909ff 23.5px,#2424ff 30.5px,#4949ff 34.5px,#aeaeff 40.5px,#ededff 43.5px,#f9e1e7 44.5px,#ffb7b7 45.5px,#ff5656 46.5px,#ff1717 47.5px,#f00 48.5px,#f00 86.5px,#ff0505 87.5px,#ff8080 88.5px,#fcd0d3 89.5px,#f2edfa 91.5px,#d6d6ff 95.5px,#bbf 98.5px,#7c7cff 103.5px,#5252ff 116.5px,#4242ff 127.5px)"></i><i style="left:24px;width:2px;background:linear-gradient(#00f 0.5px,#0a0aff 23.5px,#2323ff 29.5px,#5656ff 34.5px,#8a8aff 37.5px,#e8e8ff 41.5px,#f9eff4 42.5px,#ffa1a1 43.5px,#ff2929 44.5px,#ff0101 45.5px,#f00 88.5px,#ff0909 89.5px,#ff4c4c 92.5px,#ffa2a2 94.5px,#f6ecf4 97.5px,#ebebff 98.5px,#6d6dff 104.5px,#5353ff 106.5px,#3d3dff 114.5px,#4646ff 127.5px)"></i><i style="left:26px;width:2px;background:linear-gradient(#00f 0.5px,#0909ff 22.5px,#2727ff 29.5px,#5454ff 33.5px,#a2a2ff 37.5px,#eaeaff 40.5px,#fcf2f4 41.5px,#ff6868 42.5px,#ff0505 43.5px,#f00 95.5px,#ff0909 96.5px,#ff3939 97.5px,#ffbebe 98.5px,#f6f6ff 99.5px,#7979ff 104.5px,#3a3aff 108.5px,#3232ff 110.5px,#4747ff 127.5px)"></i><i style="left:28px;width:2px;background:linear-gradient(#00f 0.5px,#0909ff 22.5px,#2323ff 28.5px,#4d4dff 32.5px,#8383ff 35.5px,#eaeaff 39.5px,#ffe6e6 40.5px,#ff6969 41.5px,#ff0505 42.5px,#f00 97.5px,#ff5d5d 98.5px,#fff4f4 99.5px,#e5e5ff 100.5px,#7b7bff 104.5px,#4747ff 107.5px,#3030ff 109.5px,#4747ff 126.5px,#4747ff 127.5px)"></i><i style="left:30px;width:2px;background:linear-gradient(#00f 0.5px,#0a0aff 22.5px,#2424ff 28.5px,#4f4fff 32.5px,#8787ff 35.5px,#f4f4ff 39.5px,#ffaeae 40.5px,#ff0e0e 41.5px,#f00 42.5px,#f00 96.5px,#ff0c0c 97.5px,#ffa0a0 98.5px,#f7f7ff 99.5px,#77f 104.5px,#3939ff 108.5px,#2f2fff 109.5px,#4747ff 126.5px,#4747ff 127.5px)"></i><i style="left:32px;width:2px;background:linear-gradient(#00f 0.5px,#0a0aff 22.5px,#2525ff 28.5px,#5151ff 32.5px,#8b8bff 35.5px,#f5f5ff 39.5px,#ffaeae 40.5px,#ff0b0b 41.5px,#f00 42.5px,#f00 95.5px,#ff0e0e 96.5px,#fcf2f4 98.5px,#e8e8ff 99.5px,#6e6eff 104.5px,#3535ff 108.5px,#3131ff 110.5px,#4747ff 126.5px,#4747ff 127.5px)"></i><i style="left:34px;width:2px;background:linear-gradient(#00f 0.5px,#0a0aff 22.5px,#2323ff 28.5px,#4e4eff 32.5px,#8585ff 35.5px,#f0f0ff 39.5px,#ffc7c7 40.5px,#ff2525 41.5px,#f00 42.5px,#f00 94.5px,#ff2121 95.5px,#ffa1a1 96.5px,#f9f4fa 97.5px,#ccf 99.5px,#7373ff 103.5px,#3a3aff 107.5px,#2f2fff 109.5px,#4747ff 126.5px,#4747ff 127.5px)"></i><i style="left:36px;width:2px;background:linear-gradient(#00f 0.5px,#0909ff 22.5px,#2121ff 28.5px,#4a4aff 32.5px,#7e7eff 35.5px,#e5e5ff 39.5px,#fcf7fa 40.5px,#ff7c7c 41.5px,#ff0d0d 42.5px,#f00 43.5px,#ff0505 93.5px,#ff4a4a 94.5px,#ffcece 95.5px,#f4f4ff 96.5px,#7272ff 102.5px,#3b3bff 106.5px,#2c2cff 108.5px,#4747ff 125.5px,#4747ff 127.5px)"></i><i style="left:38px;width:2px;background:linear-gradient(#00f 0.5px,#0909ff 22.5px,#2626ff 29.5px,#5151ff 33.5px,#9c9cff 37.5px,#e6e6ff 40.5px,#fbf6fa 41.5px,#ff8f8f 42.5px,#ff1717 43.5px,#f00 44.5px,#ff0505 91.5px,#ff3b3b 92.5px,#ff9c9c 93.5px,#fbf1f4 94.5px,#e8e8ff 95.5px,#6d6dff 101.5px,#3131ff 106.5px,#2c2cff 108.5px,#4747ff 125.5px,#4747ff 127.5px)"></i><i style="left:40px;width:2px;background:linear-gradient(#00f 0.5px,#0a0aff 23.5px,#2929ff 30.5px,#6262ff 35.5px,#b1b1ff 39.5px,#e1e1ff 41.5px,#f6f1fa 42.5px,#ffbebe 43.5px,#ff5252 44.5px,#ff0d0d 45.5px,#f00 46.5px,#f00 88.5px,#ff0d0d 89.5px,#ff4242 90.5px,#ffafaf 91.5px,#f8eef4 92.5px,#e9e9ff 93.5px,#6767ff 100.5px,#2f2fff 105.5px,#2a2aff 107.5px,#4747ff 125.5px,#4747ff 127.5px)"></i><i style="left:42px;width:2px;background:linear-gradient(#00f 0.5px,#0808ff 23.5px,#22f 30.5px,#5151ff 35.5px,#a9a9ff 40.5px,#e6e6ff 43.5px,#f6f1fa 44.5px,#ffc3c3 45.5px,#ff6969 46.5px,#ff2020 47.5px,#ff0303 48.5px,#f00 85.5px,#ff0d0d 86.5px,#ff3b3b 87.5px,#fcd0d3 89.5px,#f6f1fa 90.5px,#d4d4ff 92.5px,#8c8cff 96.5px,#4747ff 101.5px,#2626ff 105.5px,#4747ff 125.5px,#4747ff 127.5px)"></i><i style="left:44px;width:2px;background:linear-gradient(#00f 0.5px,#0909ff 24.5px,#2121ff 31.5px,#4e4eff 36.5px,#babaff 43.5px,#efefff 46.5px,#f8e5eb 47.5px,#fcc6c9 48.5px,#ff9b9b 49.5px,#ff5c5c 50.5px,#ff2828 51.5px,#ff0e0e 52.5px,#f00 53.5px,#ff0303 82.5px,#ff3e3e 84.5px,#fcc6c9 86.5px,#f6f1fa 87.5px,#d9d9ff 89.5px,#6b6bff 96.5px,#2828ff 103.5px,#2727ff 106.5px,#4747ff 124.5px,#4747ff 127.5px)"></i><i style="left:46px;width:2px;background:linear-gradient(#00f 0.5px,#0909ff 25.5px,#2626ff 33.5px,#6868ff 40.5px,#d6d6ff 48.5px,#eef 50.5px,#f6ebf4 51.5px,#fbd7da 52.5px,#ff5858 55.5px,#ff1414 58.5px,#ff0101 60.5px,#ff0303 76.5px,#ff1717 78.5px,#ff3535 79.5px,#ff9b9b 81.5px,#fcc6c9 82.5px,#f8e5eb 83.5px,#f2edfa 84.5px,#dbdbff 86.5px,#7474ff 93.5px,#3838ff 99.5px,#2121ff 103.5px,#4747ff 124.5px,#4747ff 127.5px)"></i><i style="left:48px;width:2px;background:linear-gradient(#00f 0.5px,#0808ff 26.5px,#2323ff 34.5px,#5a5aff 41.5px,#ececff 55.5px,#f5f0fa 57.5px,#ffafaf 61.5px,#ffa2a2 62.5px,#ff8c8c 63.5px,#ff8080 64.5px,#ff6060 65.5px,#ff5d5d 69.5px,#ff8c8c 72.5px,#ffa2a2 73.5px,#f9d1d7 77.5px,#f4eefa 79.5px,#d6d6ff 82.5px,#5757ff 93.5px,#2424ff 100.5px,#2020ff 103.5px,#4646ff 123.5px,#4747ff 127.5px)"></i><i style="left:50px;width:2px;background:linear-gradient(#00f 0.5px,#0a0aff 28.5px,#2d2dff 38.5px,#8a8aff 50.5px,#c1c1ff 57.5px,#e5e5ff 65.5px,#e5e5ff 70.5px,#bfbfff 79.5px,#3939ff 94.5px,#1b1bff 100.5px,#4646ff 123.5px,#4747ff 127.5px)"></i><i style="left:52px;width:2px;background:linear-gradient(#00f 0.5px,#0909ff 29.5px,#2626ff 39.5px,#6b6bff 51.5px,#a3a3ff 62.5px,#aeaeff 69.5px,#8c8cff 79.5px,#2828ff 94.5px,#1919ff 100.5px,#4646ff 123.5px,#4747ff 127.5px)"></i><i style="left:54px;width:2px;background:linear-gradient(#00f 0.5px,#0909ff 31.5px,#3434ff 46.5px,#7373ff 59.5px,#a0a0ff 66.5px,#9d9dff 71.5px,#4545ff 85.5px,#1414ff 97.5px,#4646ff 123.5px,#4747ff 127.5px)"></i><i style="left:56px;width:4px;background:linear-gradient(#00f 0.5px,#0a0aff 34.5px,#2c2cff 47.5px,#6969ff 58.5px,#9d9dff 65.5px,#a0a0ff 70.5px,#7b7bff 76.5px,#5151ff 82.5px,#1919ff 95.5px,#1717ff 99.5px,#4545ff 122.5px,#4747ff 127.5px)"></i><i style="left:60px;width:4px;background:linear-gradient(#00f 0.5px,#0909ff 33.5px,#2727ff 45.5px,#7b7bff 60.5px,#a0a0ff 66.5px,#9d9dff 71.5px,#2e2eff 90.5px,#1414ff 98.5px,#4545ff 122.5px,#4747ff 127.5px)"></i><i style="left:64px;width:2px;background:linear-gradient(#00f 0.5px,#0a0aff 33.5px,#2a2aff 45.5px,#a0a0ff 66.5px,#9d9dff 71.5px,#2424ff 93.5px,#1717ff 99.5px,#4545ff 122.5px,#4747ff 127.5px)"></i><i style="left:66px;width:2px;background:linear-gradient(#00f 0.5px,#0a0aff 33.5px,#2b2bff 45.5px,#9d9dff 65.5px,#a0a0ff 70.5px,#6f6fff 80.5px,#2525ff 93.5px,#1717ff 99.5px,#4545ff 122.5px,#4747ff 127.5px)"></i><i style="left:68px;width:2px;background:linear-gradient(#00f 0.5px,#0b0bff 33.5px,#2d2dff 45.5px,#9d9dff 64.5px,#a3a3ff 70.5px,#8181ff 78.5px,#2b2bff 92.5px,#1717ff 99.5px,#4545ff 122.5px,#4747ff 127.5px)"></i><i style="left:70px;width:2px;background:linear-gradient(#00f 0.5px,#0a0aff 32.5px,#2a2aff 44.5px,#7d7dff 57.5px,#a7a7ff 65.5px,#a8a8ff 71.5px,#8080ff 79.5px,#2c2cff 92.5px,#1717ff 99.5px,#4545ff 122.5px,#4747ff 127.5px)"></i><i style="left:72px;width:2px;background:linear-gradient(#00f 0.5px,#0a0aff 32.5px,#2727ff 43.5px,#6c6cff 54.5px,#a7a7ff 63.5px,#b3b3ff 69.5px,#9a9aff 76.5px,#2e2eff 92.5px,#1717ff 99.5px,#4545ff 122.5px,#4747ff 127.5px)"></i><i style="left:74px;width:2px;background:linear-gradient(#00f 0.5px,#0a0aff 32.5px,#2929ff 43.5px,#6868ff 53.5px,#aeaeff 63.5px,#babaff 69.5px,#a0a0ff 76.5px,#3030ff 92.5px,#1717ff 99.5px,#4545ff 122.5px,#4747ff 127.5px)"></i><i style="left:76px;width:2px;background:linear-gradient(#00f 0.5px,#0a0aff 32.5px,#2a2aff 43.5px,#6d6dff 53.5px,#b6b6ff 63.5px,#c2c2ff 69.5px,#adadff 75.5px,#3232ff 92.5px,#1717ff 99.5px,#4545ff 122.5px,#4747ff 127.5px)"></i><i style="left:78px;width:2px;background:linear-gradient(#00f 0.5px,#0909ff 31.5px,#2727ff 42.5px,#6060ff 51.5px,#b8b8ff 62.5px,#cacaff 68.5px,#babaff 74.5px,#33f 92.5px,#1717ff 99.5px,#4545ff 122.5px,#4747ff 127.5px)"></i><i style="left:80px;width:2px;background:linear-gradient(#00f 0.5px,#0a0aff 31.5px,#2828ff 42.5px,#6464ff 51.5px,#bfbfff 62.5px,#d3d3ff 68.5px,#c2c2ff 74.5px,#3535ff 92.5px,#1717ff 99.5px,#4646ff 123.5px,#4747ff 127.5px)"></i><i style="left:82px;width:2px;background:linear-gradient(#00f 0.5px,#0a0aff 31.5px,#2a2aff 42.5px,#6868ff 51.5px,#c7c7ff 62.5px,#dbdbff 68.5px,#cacaff 74.5px,#3737ff 92.5px,#1818ff 99.5px,#4646ff 123.5px,#4747ff 127.5px)"></i><i style="left:84px;width:2px;background:linear-gradient(#00f 0.5px,#0a0aff 31.5px,#2b2bff 42.5px,#6c6cff 51.5px,#cfcfff 62.5px,#e3e3ff 68.5px,#d2d2ff 74.5px,#7a7aff 84.5px,#33f 93.5px,#1919ff 100.5px,#4646ff 123.5px,#4747ff 127.5px)"></i><i style="left:86px;width:2px;background:linear-gradient(#00f 0.5px,#0b0bff 31.5px,#2828ff 41.5px,#5e5eff 49.5px,#d6d6ff 62.5px,#ebebff 68.5px,#dadaff 74.5px,#8989ff 83.5px,#3b3bff 92.5px,#1919ff 100.5px,#4646ff 123.5px,#4747ff 127.5px)"></i><i style="left:88px;width:2px;background:linear-gradient(#00f 0.5px,#0909ff 30.5px,#2929ff 41.5px,#6161ff 49.5px,#d7d7ff 61.5px,#f2f2ff 67.5px,#e7e7ff 73.5px,#aeaeff 80.5px,#44f 91.5px,#1a1aff 99.5px,#4747ff 124.5px,#4747ff 127.5px)"></i><i style="left:90px;width:2px;background:linear-gradient(#00f 0.5px,#0a0aff 30.5px,#2626ff 40.5px,#5c5cff 48.5px,#dfdfff 61.5px,#f8f8ff 66.5px,#f3f3ff 72.5px,#c9c9ff 78.5px,#4f4fff 90.5px,#1f1fff 98.5px,#1b1bff 101.5px,#4646ff 123.5px,#4747ff 127.5px)"></i><i style="left:92px;width:2px;background:linear-gradient(#00f 0.5px,#0a0aff 30.5px,#2727ff 40.5px,#5f5fff 48.5px,#e7e7ff 61.5px,#fefeff 66.5px,#f6f6ff 73.5px,#c6c6ff 79.5px,#5252ff 90.5px,#2020ff 98.5px,#1b1bff 101.5px,#4646ff 123.5px,#4747ff 127.5px)"></i><i style="left:94px;width:2px;background:linear-gradient(#00f 0.5px,#0a0aff 30.5px,#2828ff 40.5px,#6262ff 48.5px,#eef 61.5px,#fff 65.5px,#fdfdff 73.5px,#d8d8ff 78.5px,#5454ff 90.5px,#2121ff 98.5px,#1b1bff 101.5px,#4646ff 123.5px,#4747ff 127.5px)"></i><i style="left:96px;width:2px;background:linear-gradient(#00f 0.5px,#0b0bff 30.5px,#2929ff 40.5px,#5c5cff 47.5px,#eef 60.5px,#fff 63.5px,#f9f9ff 75.5px,#bdbdff 81.5px,#5757ff 90.5px,#22f 98.5px,#1b1bff 101.5px,#4646ff 123.5px,#4747ff 127.5px)"></i><i style="left:98px;width:2px;background:linear-gradient(#00f 0.5px,#0b0bff 30.5px,#2b2bff 40.5px,#5f5fff 47.5px,#f5f5ff 60.5px,#fffefe 63.5px,#fff9f9 71.5px,#fefeff 75.5px,#d0d0ff 80.5px,#5a5aff 90.5px,#2828ff 97.5px,#1b1bff 101.5px,#4646ff 123.5px,#4747ff 127.5px)"></i><i style="left:100px;width:2px;background:linear-gradient(#00f 0.5px,#0a0aff 29.5px,#2727ff 39.5px,#5959ff 46.5px,#fbfbff 60.5px,#fff3f3 65.5px,#fff2f2 71.5px,#fefeff 76.5px,#cbcbff 81.5px,#5d5dff 90.5px,#2929ff 97.5px,#1b1bff 101.5px,#4646ff 123.5px,#4747ff 127.5px)"></i><i style="left:102px;width:2px;background:linear-gradient(#00f 0.5px,#0a0aff 29.5px,#2828ff 39.5px,#5c5cff 46.5px,#fafaff 59.5px,#fffdfd 61.5px,#ffe3e3 68.5px,#fff6f6 74.5px,#fdfdff 77.5px,#b7b7ff 83.5px,#5757ff 91.5px,#2525ff 98.5px,#1e1eff 102.5px,#4646ff 123.5px,#4747ff 127.5px)"></i><i style="left:104px;width:2px;background:linear-gradient(#00f 0.5px,#0a0aff 29.5px,#2929ff 39.5px,#5f5fff 46.5px,#f7f7ff 58.5px,#fffdfd 60.5px,#ffd6d6 67.5px,#ffdbdb 71.5px,#fffefe 77.5px,#f1f1ff 79.5px,#6464ff 90.5px,#2c2cff 97.5px,#1b1bff 101.5px,#4646ff 123.5px,#4747ff 127.5px)"></i><i style="left:106px;width:2px;background:linear-gradient(#00f 0.5px,#0a0aff 29.5px,#2a2aff 39.5px,#6262ff 46.5px,#fdfdff 58.5px,#fff8f8 60.5px,#ffc8c8 66.5px,#ffc6c6 70.5px,#fff 78.5px,#d2d2ff 82.5px,#6767ff 90.5px,#2d2dff 97.5px,#1b1bff 101.5px,#4646ff 123.5px,#4747ff 127.5px)"></i><i style="left:108px;width:2px;background:linear-gradient(#00f 0.5px,#0b0bff 29.5px,#2626ff 38.5px,#5a5aff 45.5px,#b4b4ff 52.5px,#f9f9ff 57.5px,#fff 58.5px,#ffd9d9 62.5px,#ffb3b3 66.5px,#ffb1b1 70.5px,#ffd3d3 74.5px,#fffdfd 78.5px,#fdfdff 79.5px,#5f5fff 91.5px,#2929ff 98.5px,#1b1bff 101.5px,#4646ff 123.5px,#4747ff 127.5px)"></i><i style="left:110px;width:2px;background:linear-gradient(#00f 0.5px,#0b0bff 29.5px,#2727ff 38.5px,#5d5dff 45.5px,#b9b9ff 52.5px,#fefeff 57.5px,#fff3f3 59.5px,#ffa4a4 65.5px,#ff9595 68.5px,#ffa0a0 71.5px,#ffd0d0 75.5px,#fff8f8 78.5px,#fffefe 79.5px,#ededff 81.5px,#6e6eff 90.5px,#3030ff 97.5px,#1c1cff 101.5px,#4646ff 123.5px,#4747ff 127.5px)"></i><i style="left:112px;width:2px;background:linear-gradient(#00f 0.5px,#0a0aff 28.5px,#2828ff 38.5px,#6060ff 45.5px,#bfbfff 52.5px,#f9f9ff 56.5px,#fffefe 57.5px,#ffd8d8 60.5px,#ff9696 64.5px,#ff7d7d 67.5px,#ff7f7f 70.5px,#ff9c9c 73.5px,#fff0f0 78.5px,#fefeff 80.5px,#6565ff 91.5px,#2b2bff 98.5px,#1e1eff 102.5px,#4646ff 123.5px,#4747ff 127.5px)"></i><i style="left:114px;width:2px;background:linear-gradient(#00f 0.5px,#0a0aff 28.5px,#2929ff 38.5px,#6363ff 45.5px,#c5c5ff 52.5px,#fefeff 56.5px,#fee 58.5px,#ff7b7b 64.5px,#ff6161 67.5px,#ff6363 70.5px,#ff8282 73.5px,#fff5f5 79.5px,#fffefe 80.5px,#ececff 82.5px,#6868ff 91.5px,#3232ff 97.5px,#1e1eff 102.5px,#4646ff 123.5px,#4747ff 127.5px)"></i><i style="left:116px;width:2px;background:linear-gradient(#00f 0.5px,#0a0aff 28.5px,#2525ff 37.5px,#5a5aff 44.5px,#aaf 50.5px,#f9f9ff 55.5px,#fffefe 56.5px,#ffe2e2 58.5px,#ff7272 63.5px,#ff4e4e 66.5px,#ff4747 69.5px,#ff5c5c 72.5px,#ff9090 75.5px,#ffecec 79.5px,#fffafa 80.5px,#fefeff 81.5px,#6b6bff 91.5px,#3434ff 97.5px,#1e1eff 102.5px,#4646ff 123.5px,#4747ff 127.5px)"></i><i style="left:118px;width:2px;background:linear-gradient(#00f 0.5px,#0a0aff 28.5px,#2626ff 37.5px,#5d5dff 44.5px,#b0b0ff 50.5px,#fefeff 55.5px,#fffafa 56.5px,#ffd5d5 58.5px,#ff7171 62.5px,#ff4343 65.5px,#ff3434 68.5px,#ff3f3f 71.5px,#ff6767 74.5px,#fff4f4 80.5px,#fffefe 81.5px,#e9e9ff 83.5px,#6e6eff 91.5px,#3535ff 97.5px,#1e1eff 102.5px,#4646ff 123.5px,#4747ff 127.5px)"></i><i style="left:120px;width:2px;background:linear-gradient(#00f 0.5px,#0a0aff 28.5px,#2727ff 37.5px,#55f 43.5px,#a4a4ff 49.5px,#f6f6ff 54.5px,#fffefe 55.5px,#ffe1e1 57.5px,#ff5d5d 62.5px,#ff3232 65.5px,#ff2626 69.5px,#ff3737 72.5px,#ff6868 75.5px,#ffebeb 80.5px,#fffbfb 81.5px,#fdfdff 82.5px,#7272ff 91.5px,#3636ff 97.5px,#1e1eff 102.5px,#4646ff 123.5px,#4747ff 127.5px)"></i><i style="left:122px;width:2px;background:linear-gradient(#00f 0.5px,#0b0bff 28.5px,#2828ff 37.5px,#5757ff 43.5px,#a9a9ff 49.5px,#fbfbff 54.5px,#fffcfc 55.5px,#ffd4d4 57.5px,#ff6161 61.5px,#ff2c2c 64.5px,#ff1b1b 67.5px,#ff2020 71.5px,#ff4141 74.5px,#ff8989 77.5px,#ffe1e1 80.5px,#fff5f5 81.5px,#fff 82.5px,#c2c2ff 86.5px,#6868ff 92.5px,#3131ff 98.5px,#1e1eff 102.5px,#4646ff 123.5px,#4747ff 127.5px)"></i><i style="left:124px;width:2px;background:linear-gradient(#00f 0.5px,#0b0bff 28.5px,#2929ff 37.5px,#5959ff 43.5px,#adadff 49.5px,#fff 54.5px,#fff7f7 55.5px,#ffc6c6 57.5px,#ff4e4e 61.5px,#ff2929 63.5px,#ff1515 66.5px,#ff1616 71.5px,#ff3030 74.5px,#ff5a5a 76.5px,#fee 81.5px,#fffdfd 82.5px,#fafaff 83.5px,#7878ff 91.5px,#3939ff 97.5px,#1e1eff 102.5px,#4646ff 123.5px,#4747ff 127.5px)"></i><i style="left:126px;width:2px;background:linear-gradient(#00f 0.5px,#0b0bff 28.5px,#2a2aff 37.5px,#5c5cff 43.5px,#b2b2ff 49.5px,#f7f7ff 53.5px,#fffefe 54.5px,#ffefef 55.5px,#ffb7b7 57.5px,#f55 60.5px,#ff2929 62.5px,#f11 65.5px,#ff1212 72.5px,#f22 74.5px,#ff4848 76.5px,#ffe4e4 81.5px,#fff8f8 82.5px,#fefeff 83.5px,#6e6eff 92.5px,#33f 98.5px,#1e1eff 102.5px,#4646ff 123.5px,#4747ff 127.5px)"></i><i style="left:128px;width:2px;background:linear-gradient(#00f 0.5px,#0a0aff 27.5px,#2525ff 36.5px,#5353ff 42.5px,#9595ff 47.5px,#fcfcff 53.5px,#fffafa 54.5px,#ffe7e7 55.5px,#ff4343 60.5px,#ff1c1c 62.5px,#ff0e0e 65.5px,#ff1010 73.5px,#ff2323 75.5px,#ff5151 77.5px,#ffd9d9 81.5px,#fff2f2 82.5px,#fffefe 83.5px,#e4e4ff 85.5px,#7070ff 92.5px,#3434ff 98.5px,#1e1eff 102.5px,#4646ff 123.5px,#4747ff 127.5px)"></i><i style="left:130px;width:2px;background:linear-gradient(#00f 0.5px,#0a0aff 27.5px,#2626ff 36.5px,#55f 42.5px,#99f 47.5px,#fff 53.5px,#fff5f5 54.5px,#fbb 56.5px,#ff4e4e 59.5px,#ff1e1e 61.5px,#ff0d0d 63.5px,#ff0f0f 74.5px,#ff2727 76.5px,#ff5f5f 78.5px,#fcc 81.5px,#ffeaea 82.5px,#fffcfc 83.5px,#fafaff 84.5px,#7373ff 92.5px,#3636ff 98.5px,#1f1fff 102.5px,#4646ff 123.5px,#4747ff 127.5px)"></i><i style="left:132px;width:2px;background:linear-gradient(#00f 0.5px,#0a0aff 27.5px,#2727ff 36.5px,#5757ff 42.5px,#9c9cff 47.5px,#f6f6ff 52.5px,#fffefe 53.5px,#fee 54.5px,#ffacac 56.5px,#ff3d3d 59.5px,#ff1313 61.5px,#ff0b0b 64.5px,#ff0e0e 75.5px,#ff3030 77.5px,#ff7171 79.5px,#ffe0e0 82.5px,#fff8f8 83.5px,#fefeff 84.5px,#7676ff 92.5px,#3737ff 98.5px,#1f1fff 102.5px,#4747ff 124.5px,#4747ff 127.5px)"></i><i style="left:134px;width:2px;background:linear-gradient(#00f 0.5px,#0a0aff 27.5px,#2727ff 36.5px,#5959ff 42.5px,#a0a0ff 47.5px,#fbfbff 52.5px,#fffafa 53.5px,#ffe5e5 54.5px,#ff4d4d 58.5px,#ff1818 60.5px,#ff0909 62.5px,#ff0a0a 75.5px,#ff1010 76.5px,#ff3d3d 78.5px,#ffd6d6 82.5px,#fff2f2 83.5px,#fff 84.5px,#bbf 88.5px,#6b6bff 93.5px,#3131ff 99.5px,#2020ff 103.5px,#4646ff 123.5px,#4747ff 127.5px)"></i><i style="left:136px;width:2px;background:linear-gradient(#00f 0.5px,#0a0aff 27.5px,#2828ff 36.5px,#5b5bff 42.5px,#a4a4ff 47.5px,#fefeff 52.5px,#fff6f6 53.5px,#ffdcdc 54.5px,#ff3d3d 58.5px,#ff2020 59.5px,#ff0e0e 60.5px,#ff0808 65.5px,#ff0909 76.5px,#ff1616 77.5px,#ff4f4f 79.5px,#ffcaca 82.5px,#ffeaea 83.5px,#fffdfd 84.5px,#f7f7ff 85.5px,#7b7bff 92.5px,#4141ff 97.5px,#2020ff 102.5px,#4747ff 124.5px,#4747ff 127.5px)"></i><i style="left:138px;width:2px;background:linear-gradient(#00f 0.5px,#0b0bff 27.5px,#2929ff 36.5px,#5d5dff 42.5px,#a7a7ff 47.5px,#f3f3ff 51.5px,#fff 52.5px,#fff0f0 53.5px,#ffa9a9 55.5px,#ff2e2e 58.5px,#ff1515 59.5px,#ff0707 60.5px,#ff0606 76.5px,#ff0c0c 77.5px,#ff2020 78.5px,#ff6767 80.5px,#ffe2e2 83.5px,#fffafa 84.5px,#fbfbff 85.5px,#7e7eff 92.5px,#4343ff 97.5px,#2121ff 102.5px,#4747ff 125.5px,#4747ff 127.5px)"></i><i style="left:140px;width:2px;background:linear-gradient(#00f 0.5px,#0b0bff 27.5px,#2a2aff 36.5px,#5e5eff 42.5px,#ababff 47.5px,#f7f7ff 51.5px,#fffdfd 52.5px,#ffe9e9 53.5px,#ff9a9a 55.5px,#ff4343 57.5px,#ff2121 58.5px,#ff0b0b 59.5px,#ff0404 62.5px,#ff0606 77.5px,#ff1414 78.5px,#ff3131 79.5px,#ffd9d9 83.5px,#fff5f5 84.5px,#fefeff 85.5px,#7272ff 93.5px,#3b3bff 98.5px,#2020ff 103.5px,#4646ff 123.5px,#4747ff 127.5px)"></i><i style="left:142px;width:2px;background:linear-gradient(#00f 0.5px,#0b0bff 27.5px,#2b2bff 36.5px,#6060ff 42.5px,#aeaeff 47.5px,#fbfbff 51.5px,#fffafa 52.5px,#ffe1e1 53.5px,#ff3434 57.5px,#ff1515 58.5px,#ff0505 59.5px,#ff0303 77.5px,#ff0b0b 78.5px,#ff2323 79.5px,#ff7575 81.5px,#ffcfcf 83.5px,#ffefef 84.5px,#fff 85.5px,#cbcbff 88.5px,#7474ff 93.5px,#3c3cff 98.5px,#2020ff 103.5px,#4646ff 123.5px,#4747ff 127.5px)"></i><i style="left:144px;width:2px;background:linear-gradient(#00f 0.5px,#0b0bff 27.5px,#2b2bff 36.5px,#6262ff 42.5px,#b1b1ff 47.5px,#fefeff 51.5px,#fff5f5 52.5px,#ffd8d8 53.5px,#ff2727 57.5px,#ff0c0c 58.5px,#ff0101 59.5px,#ff0404 78.5px,#ff1818 79.5px,#f66 81.5px,#ffc4c4 83.5px,#ffe9e9 84.5px,#fffdfd 85.5px,#f6f6ff 86.5px,#8585ff 92.5px,#4646ff 97.5px,#2020ff 103.5px,#4646ff 123.5px,#4747ff 127.5px)"></i><i style="left:146px;width:2px;background:linear-gradient(#00f 0.5px,#0b0bff 27.5px,#2626ff 35.5px,#5757ff 41.5px,#a2a2ff 46.5px,#fff 51.5px,#fff0f0 52.5px,#ffcfcf 53.5px,#ff4242 56.5px,#ff1c1c 57.5px,#ff0505 58.5px,#f00 78.5px,#ff0f0f 79.5px,#ff2e2e 80.5px,#ffe2e2 84.5px,#fffafa 85.5px,#f9f9ff 86.5px,#7878ff 93.5px,#3e3eff 98.5px,#2020ff 103.5px,#4646ff 123.5px,#4747ff 127.5px)"></i><i style="left:148px;width:2px;background:linear-gradient(#00f 0.5px,#0a0aff 26.5px,#2727ff 35.5px,#5959ff 41.5px,#a4a4ff 46.5px,#f4f4ff 50.5px,#fffefe 51.5px,#ffebeb 52.5px,#ffc6c6 53.5px,#ff3737 56.5px,#ff1414 57.5px,#ff0202 58.5px,#f00 78.5px,#ff0808 79.5px,#ff2323 80.5px,#ff7d7d 82.5px,#ffdada 84.5px,#fff7f7 85.5px,#fcfcff 86.5px,#7a7aff 93.5px,#3f3fff 98.5px,#2020ff 103.5px,#4646ff 123.5px,#4747ff 127.5px)"></i><i style="left:150px;width:2px;background:linear-gradient(#00f 0.5px,#0a0aff 26.5px,#2727ff 35.5px,#5a5aff 41.5px,#a7a7ff 46.5px,#f7f7ff 50.5px,#fffcfc 51.5px,#ffe5e5 52.5px,#ff8c8c 54.5px,#ff2c2c 56.5px,#ff0d0d 57.5px,#f00 58.5px,#ff0404 79.5px,#ff1b1b 80.5px,#ff7272 82.5px,#ffd2d2 84.5px,#fff3f3 85.5px,#fefeff 86.5px,#7c7cff 93.5px,#4040ff 98.5px,#2020ff 103.5px,#4646ff 123.5px,#4747ff 127.5px)"></i><i style="left:152px;width:2px;background:linear-gradient(#00f 0.5px,#0a0aff 26.5px,#2828ff 35.5px,#5b5bff 41.5px,#a9a9ff 46.5px,#f9f9ff 50.5px,#fffafa 51.5px,#ffdfdf 52.5px,#ff8181 54.5px,#ff2424 56.5px,#ff0707 57.5px,#f00 60.5px,#ff0101 79.5px,#ff1313 80.5px,#ff3838 81.5px,#ffcbcb 84.5px,#ffefef 85.5px,#fff 86.5px,#7e7eff 93.5px,#4141ff 98.5px,#2020ff 103.5px,#4646ff 123.5px,#4747ff 127.5px)"></i><i style="left:154px;width:2px;background:linear-gradient(#00f 0.5px,#0a0aff 26.5px,#2828ff 35.5px,#5d5dff 41.5px,#acacff 46.5px,#fcfcff 50.5px,#fff7f7 51.5px,#ffd9d9 52.5px,#ff4545 55.5px,#ff1c1c 56.5px,#ff0404 57.5px,#f00 79.5px,#ff0d0d 80.5px,#ff2f2f 81.5px,#ffc4c4 84.5px,#ffeaea 85.5px,#fffefe 86.5px,#dfdfff 88.5px,#8080ff 93.5px,#4242ff 98.5px,#2020ff 103.5px,#4646ff 123.5px,#4747ff 127.5px)"></i><i style="left:156px;width:2px;background:linear-gradient(#00f 0.5px,#0a0aff 26.5px,#2828ff 35.5px,#5e5eff 41.5px,#aeaeff 46.5px,#fefeff 50.5px,#fff4f4 51.5px,#ffd3d3 52.5px,#ff3d3d 55.5px,#ff1616 56.5px,#ff0101 57.5px,#f00 79.5px,#ff0909 80.5px,#ff2828 81.5px,#ffbdbd 84.5px,#ffe6e6 85.5px,#fffdfd 86.5px,#f5f5ff 87.5px,#8181ff 93.5px,#4343ff 98.5px,#2020ff 103.5px,#4646ff 123.5px,#4747ff 127.5px)"></i><i style="left:158px;width:2px;background:linear-gradient(#00f 0.5px,#0a0aff 26.5px,#2929ff 35.5px,#5f5fff 41.5px,#afafff 46.5px,#fff 50.5px,#fff1f1 51.5px,#ffcece 52.5px,#ff3636 55.5px,#f11 56.5px,#f00 57.5px,#f00 79.5px,#ff0606 80.5px,#ff2121 81.5px,#ff8282 83.5px,#ffe2e2 85.5px,#fffbfb 86.5px,#f7f7ff 87.5px,#8282ff 93.5px,#4343ff 98.5px,#2121ff 103.5px,#4747ff 124.5px,#4747ff 127.5px)"></i><i style="left:160px;width:2px;background:linear-gradient(#00f 0.5px,#0a0aff 26.5px,#2929ff 35.5px,#5f5fff 41.5px,#b1b1ff 46.5px,#fff 50.5px,#ffefef 51.5px,#ffc9c9 52.5px,#ff3030 55.5px,#ff0d0d 56.5px,#f00 57.5px,#ff0303 80.5px,#ff1d1d 81.5px,#ff7c7c 83.5px,#ffdede 85.5px,#fffafa 86.5px,#f9f9ff 87.5px,#8484ff 93.5px,#44f 98.5px,#2121ff 103.5px,#4747ff 124.5px,#4747ff 127.5px)"></i><i style="left:162px;width:2px;background:linear-gradient(#00f 0.5px,#0a0aff 26.5px,#2929ff 35.5px,#6060ff 41.5px,#b2b2ff 46.5px,#f1f1ff 49.5px,#fff 50.5px,#ffecec 51.5px,#ffc5c5 52.5px,#ff2c2c 55.5px,#ff0b0b 56.5px,#f00 57.5px,#ff0202 80.5px,#ff1919 81.5px,#ff4343 82.5px,#ffdbdb 85.5px,#fff9f9 86.5px,#fafaff 87.5px,#8484ff 93.5px,#44f 98.5px,#2121ff 103.5px,#4747ff 124.5px,#4747ff 127.5px)"></i><i style="left:164px;width:2px;background:linear-gradient(#00f 0.5px,#0a0aff 26.5px,#2929ff 35.5px,#5454ff 40.5px,#9f9fff 45.5px,#f1f1ff 49.5px,#fffefe 50.5px,#ffebeb 51.5px,#ffc3c3 52.5px,#ff2a2a 55.5px,#ff0909 56.5px,#f00 58.5px,#ff0101 80.5px,#ff1717 81.5px,#ff4141 82.5px,#ffd9d9 85.5px,#fff8f8 86.5px,#fbfbff 87.5px,#8585ff 93.5px,#4545ff 98.5px,#2121ff 103.5px,#4747ff 124.5px,#4747ff 127.5px)"></i><i style="left:166px;width:2px;background:linear-gradient(#00f 0.5px,#0a0aff 26.5px,#2929ff 35.5px,#6060ff 41.5px,#b2b2ff 46.5px,#f1f1ff 49.5px,#fff 50.5px,#ffecec 51.5px,#ffc5c5 52.5px,#ff2c2c 55.5px,#ff0a0a 56.5px,#f00 57.5px,#ff0202 80.5px,#ff1919 81.5px,#ff4343 82.5px,#ffdbdb 85.5px,#fff9f9 86.5px,#fafaff 87.5px,#8484ff 93.5px,#44f 98.5px,#2121ff 103.5px,#4747ff 124.5px,#4747ff 127.5px)"></i><i style="left:168px;width:2px;background:linear-gradient(#00f 0.5px,#0a0aff 26.5px,#2929ff 35.5px,#5f5fff 41.5px,#b1b1ff 46.5px,#fff 50.5px,#fee 51.5px,#ffc8c8 52.5px,#ff3030 55.5px,#ff0d0d 56.5px,#f00 57.5px,#ff0303 80.5px,#ff1c1c 81.5px,#ff7b7b 83.5px,#fdd 85.5px,#fffafa 86.5px,#f9f9ff 87.5px,#8484ff 93.5px,#44f 98.5px,#2121ff 103.5px,#4747ff 124.5px,#4747ff 127.5px)"></i><i style="left:170px;width:2px;background:linear-gradient(#00f 0.5px,#0a0aff 26.5px,#2929ff 35.5px,#5f5fff 41.5px,#b0b0ff 46.5px,#fff 50.5px,#fff1f1 51.5px,#ffcdcd 52.5px,#ff3535 55.5px,#ff1010 56.5px,#f00 57.5px,#ff0505 80.5px,#ff2121 81.5px,#ff8181 83.5px,#ffe1e1 85.5px,#fffbfb 86.5px,#f7f7ff 87.5px,#8383ff 93.5px,#4343ff 98.5px,#2121ff 103.5px,#4747ff 124.5px,#4747ff 127.5px)"></i><i style="left:172px;width:2px;background:linear-gradient(#00f 0.5px,#0a0aff 26.5px,#2828ff 35.5px,#5e5eff 41.5px,#aeaeff 46.5px,#fefeff 50.5px,#fff4f4 51.5px,#ffd2d2 52.5px,#ff3c3c 55.5px,#ff1515 56.5px,#ff0101 57.5px,#f00 79.5px,#ff0808 80.5px,#ff2727 81.5px,#ffbcbc 84.5px,#ffe5e5 85.5px,#fffdfd 86.5px,#f6f6ff 87.5px,#8181ff 93.5px,#4343ff 98.5px,#2020ff 103.5px,#4646ff 123.5px,#4747ff 127.5px)"></i><i style="left:174px;width:2px;background:linear-gradient(#00f 0.5px,#0a0aff 26.5px,#2828ff 35.5px,#5d5dff 41.5px,#acacff 46.5px,#fcfcff 50.5px,#fff7f7 51.5px,#ffd8d8 52.5px,#f44 55.5px,#ff1b1b 56.5px,#ff0303 57.5px,#f00 79.5px,#ff0d0d 80.5px,#ff2e2e 81.5px,#ffc2c2 84.5px,#ffeaea 85.5px,#fffefe 86.5px,#dfdfff 88.5px,#8080ff 93.5px,#4242ff 98.5px,#2020ff 103.5px,#4646ff 123.5px,#4747ff 127.5px)"></i><i style="left:176px;width:2px;background:linear-gradient(#00f 0.5px,#0a0aff 26.5px,#2828ff 35.5px,#5c5cff 41.5px,#aaf 46.5px,#fafaff 50.5px,#fff9f9 51.5px,#ffdede 52.5px,#f22 56.5px,#ff0707 57.5px,#f00 60.5px,#ff0101 79.5px,#ff1212 80.5px,#ff3636 81.5px,#ffcaca 84.5px,#fee 85.5px,#fff 86.5px,#6f6fff 94.5px,#3939ff 99.5px,#2020ff 103.5px,#4646ff 123.5px,#4747ff 127.5px)"></i><i style="left:178px;width:2px;background:linear-gradient(#00f 0.5px,#0a0aff 26.5px,#2727ff 35.5px,#5a5aff 41.5px,#a7a7ff 46.5px,#f7f7ff 50.5px,#fffcfc 51.5px,#ffe4e4 52.5px,#ff8a8a 54.5px,#ff2b2b 56.5px,#ff0c0c 57.5px,#f00 58.5px,#ff0303 79.5px,#ff1919 80.5px,#ff7070 82.5px,#ffd1d1 84.5px,#fff3f3 85.5px,#fff 86.5px,#7c7cff 93.5px,#4040ff 98.5px,#2020ff 103.5px,#4646ff 123.5px,#4747ff 127.5px)"></i><i style="left:180px;width:2px;background:linear-gradient(#00f 0.5px,#0a0aff 26.5px,#2727ff 35.5px,#5959ff 41.5px,#a5a5ff 46.5px,#f4f4ff 50.5px,#fffefe 51.5px,#ffeaea 52.5px,#ffc4c4 53.5px,#ff3535 56.5px,#ff1313 57.5px,#ff0101 58.5px,#f00 78.5px,#ff0707 79.5px,#f22 80.5px,#ff7c7c 82.5px,#ffd9d9 84.5px,#fff7f7 85.5px,#fdfdff 86.5px,#7b7bff 93.5px,#4040ff 98.5px,#2020ff 103.5px,#4646ff 123.5px,#4747ff 127.5px)"></i><i style="left:182px;width:2px;background:linear-gradient(#00f 0.5px,#0b0bff 27.5px,#2626ff 35.5px,#5858ff 41.5px,#a2a2ff 46.5px,#fff 51.5px,#fff0f0 52.5px,#ffcdcd 53.5px,#ff4040 56.5px,#ff1b1b 57.5px,#ff0404 58.5px,#f00 78.5px,#ff0e0e 79.5px,#ff2c2c 80.5px,#ffe0e0 84.5px,#fffafa 85.5px,#fafaff 86.5px,#7979ff 93.5px,#3f3fff 98.5px,#2020ff 103.5px,#4646ff 123.5px,#4747ff 127.5px)"></i><i style="left:184px;width:2px;background:linear-gradient(#00f 0.5px,#0b0bff 27.5px,#2b2bff 36.5px,#6262ff 42.5px,#b2b2ff 47.5px,#fefeff 51.5px,#fff5f5 52.5px,#ffd6d6 53.5px,#ff2525 57.5px,#ff0a0a 58.5px,#f00 60.5px,#ff0303 78.5px,#ff1616 79.5px,#ff3737 80.5px,#ffc2c2 83.5px,#ffe8e8 84.5px,#fffdfd 85.5px,#f6f6ff 86.5px,#77f 93.5px,#3e3eff 98.5px,#2020ff 103.5px,#4646ff 123.5px,#4747ff 127.5px)"></i><i style="left:186px;width:2px;background:linear-gradient(#00f 0.5px,#0b0bff 27.5px,#2b2bff 36.5px,#6060ff 42.5px,#aeaeff 47.5px,#fbfbff 51.5px,#fff9f9 52.5px,#ffdfdf 53.5px,#ff3131 57.5px,#ff1212 58.5px,#ff0202 59.5px,#f00 77.5px,#ff0808 78.5px,#ff2020 79.5px,#ff7171 81.5px,#ffcdcd 83.5px,#fee 84.5px,#fffefe 85.5px,#dfdfff 87.5px,#7474ff 93.5px,#3d3dff 98.5px,#2020ff 103.5px,#4646ff 123.5px,#4747ff 127.5px)"></i><i style="left:188px;width:2px;background:linear-gradient(#00f 0.5px,#0b0bff 27.5px,#2a2aff 36.5px,#5f5fff 42.5px,#ababff 47.5px,#f8f8ff 51.5px,#fffcfc 52.5px,#ffe7e7 53.5px,#ff9797 55.5px,#ff3e3e 57.5px,#ff1c1c 58.5px,#ff0606 59.5px,#f00 63.5px,#ff0101 77.5px,#ff0f0f 78.5px,#ff2b2b 79.5px,#ffd7d7 83.5px,#fff4f4 84.5px,#fff 85.5px,#7272ff 93.5px,#3b3bff 98.5px,#2020ff 103.5px,#4646ff 123.5px,#4747ff 127.5px)"></i><i style="left:190px;width:2px;background:linear-gradient(#00f 0.5px,#0b0bff 27.5px,#2929ff 36.5px,#5d5dff 42.5px,#a8a8ff 47.5px,#f3f3ff 51.5px,#fffefe 52.5px,#fee 53.5px,#ffa4a4 55.5px,#ff4c4c 57.5px,#ff2727 58.5px,#ff0e0e 59.5px,#ff0101 60.5px,#f00 76.5px,#ff0606 77.5px,#ff1919 78.5px,#ff6161 80.5px,#ffe0e0 83.5px,#fff9f9 84.5px,#fcfcff 85.5px,#7e7eff 92.5px,#4343ff 97.5px,#2121ff 102.5px,#4747ff 125.5px,#4747ff 127.5px)"></i><i style="left:192px;width:2px;background:linear-gradient(#00f 0.5px,#0a0aff 27.5px,#2828ff 36.5px,#5b5bff 42.5px,#a4a4ff 47.5px,#fff 52.5px,#fff5f5 53.5px,#ffd9d9 54.5px,#ff3535 58.5px,#ff1818 59.5px,#ff0606 60.5px,#f00 70.5px,#ff0101 76.5px,#ff0d0d 77.5px,#ff2525 78.5px,#ff7171 80.5px,#ffc7c7 82.5px,#ffe9e9 83.5px,#fffcfc 84.5px,#f8f8ff 85.5px,#7c7cff 92.5px,#4242ff 97.5px,#2121ff 102.5px,#4747ff 124.5px,#4747ff 127.5px)"></i><i style="left:194px;width:2px;background:linear-gradient(#00f 0.5px,#0a0aff 27.5px,#2828ff 36.5px,#5959ff 42.5px,#a0a0ff 47.5px,#fbfbff 52.5px,#fffafa 53.5px,#ffe3e3 54.5px,#f44 58.5px,#ff0d0d 60.5px,#f00 62.5px,#f00 75.5px,#ff0606 76.5px,#ff1717 77.5px,#ff5757 79.5px,#ffd2d2 82.5px,#fff0f0 83.5px,#fff 84.5px,#ceceff 87.5px,#6b6bff 93.5px,#3131ff 99.5px,#2020ff 103.5px,#4646ff 123.5px,#4747ff 127.5px)"></i><i style="left:196px;width:2px;background:linear-gradient(#00f 0.5px,#0a0aff 27.5px,#2727ff 36.5px,#5757ff 42.5px,#9d9dff 47.5px,#f7f7ff 52.5px,#fffdfd 53.5px,#ffecec 54.5px,#ffa6a6 56.5px,#ff3232 59.5px,#ff0707 61.5px,#f00 64.5px,#ff0303 75.5px,#ff2424 77.5px,#ff6868 79.5px,#ffdede 82.5px,#fff6f6 83.5px,#fefeff 84.5px,#7676ff 92.5px,#3737ff 98.5px,#1f1fff 102.5px,#4747ff 124.5px,#4747ff 127.5px)"></i><i style="left:198px;width:2px;background:linear-gradient(#00f 0.5px,#0a0aff 27.5px,#2626ff 36.5px,#55f 42.5px,#99f 47.5px,#fff 53.5px,#fff3f3 54.5px,#ffb5b5 56.5px,#ff4343 59.5px,#f11 61.5px,#f00 63.5px,#ff0101 74.5px,#ff1a1a 76.5px,#ff5454 78.5px,#ffc8c8 81.5px,#ffe7e7 82.5px,#fffbfb 83.5px,#fafaff 84.5px,#7474ff 92.5px,#3636ff 98.5px,#1f1fff 102.5px,#4747ff 124.5px,#4747ff 127.5px)"></i><i style="left:200px;width:2px;background:linear-gradient(#00f 0.5px,#0a0aff 27.5px,#2525ff 36.5px,#5353ff 42.5px,#9595ff 47.5px,#fdfdff 53.5px,#fff9f9 54.5px,#ffe4e4 55.5px,#ff3636 60.5px,#ff0e0e 62.5px,#ff0101 64.5px,#ff0202 73.5px,#ff1515 75.5px,#ff4545 77.5px,#ffd5d5 81.5px,#fff0f0 82.5px,#fffefe 83.5px,#e5e5ff 85.5px,#7171ff 92.5px,#3535ff 98.5px,#1e1eff 102.5px,#4646ff 123.5px,#4747ff 127.5px)"></i><i style="left:202px;width:2px;background:linear-gradient(#00f 0.5px,#0b0bff 28.5px,#2a2aff 37.5px,#5c5cff 43.5px,#b3b3ff 49.5px,#f8f8ff 53.5px,#fffdfd 54.5px,#fee 55.5px,#ffb2b2 57.5px,#ff4e4e 60.5px,#f22 62.5px,#ff0e0e 64.5px,#ff0c0c 72.5px,#ff1b1b 74.5px,#ff4141 76.5px,#ffe2e2 81.5px,#fff7f7 82.5px,#fefeff 83.5px,#6e6eff 92.5px,#33f 98.5px,#1e1eff 102.5px,#4646ff 123.5px,#4747ff 127.5px)"></i><i style="left:204px;width:2px;background:linear-gradient(#00f 0.5px,#0b0bff 28.5px,#2929ff 37.5px,#5a5aff 43.5px,#aeaeff 49.5px,#fff 54.5px,#fff6f6 55.5px,#ffc4c4 57.5px,#ff4d4d 61.5px,#ff2929 63.5px,#ff1616 66.5px,#ff1c1c 72.5px,#ff3030 74.5px,#ff5959 76.5px,#ffecec 81.5px,#fffcfc 82.5px,#fafaff 83.5px,#7878ff 91.5px,#3939ff 97.5px,#1e1eff 102.5px,#4646ff 123.5px,#4747ff 127.5px)"></i><i style="left:206px;width:2px;background:linear-gradient(#00f 0.5px,#0b0bff 28.5px,#2828ff 37.5px,#5757ff 43.5px,#aaf 49.5px,#fcfcff 54.5px,#fffbfb 55.5px,#ffd4d4 57.5px,#ff6565 61.5px,#ff3434 64.5px,#ff2424 68.5px,#ff3030 72.5px,#ff5a5a 75.5px,#ffe1e1 80.5px,#fff5f5 81.5px,#fff 82.5px,#d4d4ff 85.5px,#6868ff 92.5px,#3131ff 98.5px,#1e1eff 102.5px,#4646ff 123.5px,#4747ff 127.5px)"></i><i style="left:208px;width:2px;background:linear-gradient(#00f 0.5px,#0a0aff 28.5px,#2727ff 37.5px,#55f 43.5px,#a5a5ff 49.5px,#f7f7ff 54.5px,#fffefe 55.5px,#ffe1e1 57.5px,#ff6868 62.5px,#ff4141 65.5px,#ff3636 69.5px,#ff4545 72.5px,#ff7272 75.5px,#ffecec 80.5px,#fffbfb 81.5px,#fdfdff 82.5px,#7272ff 91.5px,#3737ff 97.5px,#1e1eff 102.5px,#4646ff 123.5px,#4747ff 127.5px)"></i><i style="left:210px;width:2px;background:linear-gradient(#00f 0.5px,#0a0aff 28.5px,#2626ff 37.5px,#5353ff 43.5px,#a0a0ff 49.5px,#fefeff 55.5px,#fffafa 56.5px,#ffc2c2 59.5px,#ff6f6f 63.5px,#ff5151 66.5px,#ff4e4e 70.5px,#ff6868 73.5px,#ff9f9f 76.5px,#fff4f4 80.5px,#fffefe 81.5px,#eaeaff 83.5px,#6f6fff 91.5px,#3535ff 97.5px,#1e1eff 102.5px,#4646ff 123.5px,#4747ff 127.5px)"></i><i style="left:212px;width:2px;background:linear-gradient(#00f 0.5px,#0a0aff 28.5px,#2525ff 37.5px,#5b5bff 44.5px,#ababff 50.5px,#f9f9ff 55.5px,#fffefe 56.5px,#ffe5e5 58.5px,#ff8686 63.5px,#ff6868 66.5px,#ff6262 69.5px,#ff7474 72.5px,#ff9f9f 75.5px,#fee 79.5px,#fefeff 81.5px,#6c6cff 91.5px,#3434ff 97.5px,#1e1eff 102.5px,#4646ff 123.5px,#4747ff 127.5px)"></i><i style="left:214px;width:2px;background:linear-gradient(#00f 0.5px,#0a0aff 28.5px,#2929ff 38.5px,#6363ff 45.5px,#c6c6ff 52.5px,#fefeff 56.5px,#ffefef 58.5px,#ff9090 64.5px,#ff7a7a 67.5px,#ff7c7c 70.5px,#ff9696 73.5px,#fff6f6 79.5px,#fffefe 80.5px,#ededff 82.5px,#6969ff 91.5px,#33f 97.5px,#1e1eff 102.5px,#4646ff 123.5px,#4747ff 127.5px)"></i><i style="left:216px;width:2px;background:linear-gradient(#00f 0.5px,#0a0aff 28.5px,#2828ff 38.5px,#6060ff 45.5px,#c0c0ff 52.5px,#fafaff 56.5px,#fffefe 57.5px,#fdd 60.5px,#ff9b9b 65.5px,#ff8e8e 68.5px,#ff9898 71.5px,#ffc6c6 75.5px,#fffbfb 79.5px,#fefeff 80.5px,#66f 91.5px,#2b2bff 98.5px,#1e1eff 102.5px,#4646ff 123.5px,#4747ff 127.5px)"></i><i style="left:218px;width:2px;background:linear-gradient(#00f 0.5px,#0b0bff 29.5px,#2727ff 38.5px,#5d5dff 45.5px,#babaff 52.5px,#fefeff 57.5px,#ffe9e9 60.5px,#ffb0b0 65.5px,#ffa4a4 69.5px,#ffbdbd 73.5px,#fff8f8 78.5px,#fafaff 80.5px,#6363ff 91.5px,#2a2aff 98.5px,#1e1eff 102.5px,#4646ff 123.5px,#4747ff 127.5px)"></i><i style="left:220px;width:2px;background:linear-gradient(#00f 0.5px,#0b0bff 29.5px,#2626ff 38.5px,#5b5bff 45.5px,#b4b4ff 52.5px,#fafaff 57.5px,#fffafa 59.5px,#ffbcbc 66.5px,#ffbaba 70.5px,#ffe2e2 75.5px,#fffdfd 78.5px,#fefeff 79.5px,#6060ff 91.5px,#2929ff 98.5px,#1b1bff 101.5px,#4646ff 123.5px,#4747ff 127.5px)"></i><i style="left:222px;width:2px;background:linear-gradient(#00f 0.5px,#0a0aff 29.5px,#2a2aff 39.5px,#6262ff 46.5px,#fdfdff 58.5px,#fff1f1 61.5px,#ffcaca 67.5px,#ffcfcf 71.5px,#fff 78.5px,#e0e0ff 81.5px,#6868ff 90.5px,#2d2dff 97.5px,#1b1bff 101.5px,#4646ff 123.5px,#4747ff 127.5px)"></i><i style="left:224px;width:2px;background:linear-gradient(#00f 0.5px,#0a0aff 29.5px,#2929ff 39.5px,#5f5fff 46.5px,#f8f8ff 58.5px,#fffdfd 60.5px,#ffd9d9 67.5px,#ffe2e2 72.5px,#fffefe 77.5px,#f2f2ff 79.5px,#6464ff 90.5px,#2c2cff 97.5px,#1b1bff 101.5px,#4646ff 123.5px,#4747ff 127.5px)"></i><i style="left:226px;width:2px;background:linear-gradient(#00f 0.5px,#0a0aff 29.5px,#2828ff 39.5px,#5c5cff 46.5px,#fbfbff 59.5px,#fff9f9 62.5px,#ffe5e5 68.5px,#fefeff 77.5px,#b8b8ff 83.5px,#5757ff 91.5px,#2525ff 98.5px,#1e1eff 102.5px,#4646ff 123.5px,#4747ff 127.5px)"></i><i style="left:228px;width:2px;background:linear-gradient(#00f 0.5px,#0a0aff 29.5px,#2727ff 39.5px,#5959ff 46.5px,#f4f4ff 59.5px,#fff 61.5px,#fff0f0 69.5px,#fff 76.5px,#ccf 81.5px,#5e5eff 90.5px,#2929ff 97.5px,#1b1bff 101.5px,#4646ff 123.5px,#4747ff 127.5px)"></i><i style="left:230px;width:2px;background:linear-gradient(#00f 0.5px,#0b0bff 30.5px,#2b2bff 40.5px,#6060ff 47.5px,#f6f6ff 60.5px,#fffefe 63.5px,#fff9f9 71.5px,#fafaff 76.5px,#acacff 83.5px,#5252ff 91.5px,#1f1fff 99.5px,#2020ff 103.5px,#4646ff 123.5px,#4747ff 127.5px)"></i><i style="left:232px;width:2px;background:linear-gradient(#00f 0.5px,#0b0bff 30.5px,#2929ff 40.5px,#5d5dff 47.5px,#efefff 60.5px,#fff 63.5px,#fafaff 75.5px,#bebeff 81.5px,#5858ff 90.5px,#22f 98.5px,#1b1bff 101.5px,#4646ff 123.5px,#4747ff 127.5px)"></i><i style="left:234px;width:2px;background:linear-gradient(#00f 0.5px,#0a0aff 30.5px,#2828ff 40.5px,#6363ff 48.5px,#f0f0ff 61.5px,#fff 65.5px,#f9f9ff 74.5px,#c3c3ff 80.5px,#55f 90.5px,#2121ff 98.5px,#1b1bff 101.5px,#4646ff 123.5px,#4747ff 127.5px)"></i><i style="left:236px;width:2px;background:linear-gradient(#00f 0.5px,#0a0aff 30.5px,#2727ff 40.5px,#6060ff 48.5px,#e8e8ff 61.5px,#fefeff 66.5px,#f7f7ff 73.5px,#c7c7ff 79.5px,#5252ff 90.5px,#2020ff 98.5px,#1b1bff 101.5px,#4646ff 123.5px,#4747ff 127.5px)"></i><i style="left:238px;width:2px;background:linear-gradient(#00f 0.5px,#0a0aff 30.5px,#2626ff 40.5px,#5c5cff 48.5px,#e0e0ff 61.5px,#f9f9ff 66.5px,#f4f4ff 72.5px,#cacaff 78.5px,#4f4fff 90.5px,#1f1fff 98.5px,#1b1bff 101.5px,#4646ff 123.5px,#4747ff 127.5px)"></i><i style="left:240px;width:2px;background:linear-gradient(#00f 0.5px,#0909ff 30.5px,#2929ff 41.5px,#6262ff 49.5px,#d8d8ff 61.5px,#f3f3ff 67.5px,#e8e8ff 73.5px,#afafff 80.5px,#4545ff 91.5px,#1b1bff 99.5px,#4747ff 124.5px,#4747ff 127.5px)"></i><i style="left:242px;width:2px;background:linear-gradient(#00f 0.5px,#0b0bff 31.5px,#2828ff 41.5px,#5e5eff 49.5px,#d8d8ff 62.5px,#ececff 68.5px,#dbdbff 74.5px,#8a8aff 83.5px,#3c3cff 92.5px,#1919ff 100.5px,#4646ff 123.5px,#4747ff 127.5px)"></i><i style="left:244px;width:2px;background:linear-gradient(#00f 0.5px,#0a0aff 31.5px,#2b2bff 42.5px,#6d6dff 51.5px,#d0d0ff 62.5px,#e5e5ff 67.5px,#d8d8ff 73.5px,#9898ff 81.5px,#4040ff 91.5px,#1919ff 99.5px,#4646ff 123.5px,#4747ff 127.5px)"></i><i style="left:246px;width:2px;background:linear-gradient(#00f 0.5px,#0a0aff 31.5px,#2a2aff 42.5px,#6969ff 51.5px,#e1e1ff 65.5px,#e1e1ff 68.5px,#c5c5ff 75.5px,#3e3eff 91.5px,#1818ff 99.5px,#4646ff 123.5px,#4747ff 127.5px)"></i><i style="left:248px;width:2px;background:linear-gradient(#00f 0.5px,#0a0aff 31.5px,#2929ff 42.5px,#6565ff 51.5px,#cfcfff 63.5px,#e5e5ff 66.5px,#dadaff 69.5px,#afafff 77.5px,#3c3cff 91.5px,#1717ff 99.5px,#4646ff 123.5px,#4747ff 127.5px)"></i><i style="left:250px;width:2px;background:linear-gradient(#00f 0.5px,#0909ff 31.5px,#2727ff 42.5px,#6161ff 51.5px,#b4b4ff 61.5px,#e1e1ff 65.5px,#e1e1ff 68.5px,#c5c5ff 72.5px,#9090ff 80.5px,#3a3aff 91.5px,#1717ff 99.5px,#4545ff 122.5px,#4747ff 127.5px)"></i><i style="left:252px;width:2px;background:linear-gradient(#00f 0.5px,#0b0bff 32.5px,#2a2aff 43.5px,#6d6dff 53.5px,#a5a5ff 60.5px,#dadaff 64.5px,#e5e5ff 67.5px,#cfcfff 70.5px,#bdbdff 72.5px,#8a8aff 80.5px,#3232ff 92.5px,#1717ff 99.5px,#4545ff 122.5px,#4747ff 127.5px)"></i><i style="left:254px;width:2px;background:linear-gradient(#00f 0.5px,#0a0aff 32.5px,#2929ff 43.5px,#6969ff 53.5px,#a2a2ff 60.5px,#dadaff 64.5px,#e5e5ff 67.5px,#cfcfff 70.5px,#b5b5ff 72.5px,#8585ff 80.5px,#3030ff 92.5px,#1717ff 99.5px,#4545ff 122.5px,#4747ff 127.5px)"></i><i style="left:256px;width:2px;background:linear-gradient(#00f 0.5px,#0a0aff 32.5px,#2727ff 43.5px,#6c6cff 54.5px,#9191ff 59.5px,#cfcfff 63.5px,#e5e5ff 66.5px,#dadaff 69.5px,#aaf 73.5px,#6161ff 84.5px,#2525ff 94.5px,#1717ff 99.5px,#4545ff 122.5px,#4747ff 127.5px)"></i><i style="left:258px;width:2px;background:linear-gradient(#00f 0.5px,#0a0aff 32.5px,#2a2aff 44.5px,#7e7eff 57.5px,#9090ff 59.5px,#cfcfff 63.5px,#e5e5ff 66.5px,#dadaff 69.5px,#a3a3ff 73.5px,#2828ff 93.5px,#1717ff 99.5px,#4545ff 122.5px,#4747ff 127.5px)"></i><i style="left:260px;width:2px;background:linear-gradient(#00f 0.5px,#0b0bff 33.5px,#2d2dff 45.5px,#7f7fff 58.5px,#cfcfff 63.5px,#e5e5ff 66.5px,#dadaff 69.5px,#9898ff 74.5px,#2727ff 93.5px,#1717ff 99.5px,#4545ff 122.5px,#4747ff 127.5px)"></i><i style="left:262px;width:2px;background:linear-gradient(#00f 0.5px,#0a0aff 33.5px,#2c2cff 45.5px,#7373ff 57.5px,#cfcfff 63.5px,#e5e5ff 66.5px,#dadaff 69.5px,#a2a2ff 73.5px,#9292ff 74.5px,#2525ff 93.5px,#1717ff 99.5px,#4545ff 122.5px,#4747ff 127.5px)"></i><i style="left:264px;width:2px;background:linear-gradient(#00f 0.5px,#0a0aff 33.5px,#2a2aff 45.5px,#6f6fff 57.5px,#cfcfff 63.5px,#e5e5ff 66.5px,#dadaff 69.5px,#a2a2ff 73.5px,#8787ff 75.5px,#2424ff 93.5px,#1717ff 99.5px,#4545ff 122.5px,#4747ff 127.5px)"></i><i style="left:266px;width:2px;background:linear-gradient(#00f 0.5px,#0a0aff 33.5px,#2828ff 45.5px,#6d6dff 57.5px,#cfcfff 63.5px,#e5e5ff 66.5px,#dadaff 69.5px,#a2a2ff 73.5px,#8383ff 75.5px,#22f 93.5px,#1717ff 99.5px,#4545ff 122.5px,#4747ff 127.5px)"></i><i style="left:268px;width:2px;background:linear-gradient(#00f 0.5px,#0b0bff 34.5px,#2b2bff 46.5px,#6060ff 56.5px,#ceceff 63.5px,#e4e4ff 66.5px,#d9d9ff 69.5px,#a1a1ff 73.5px,#7b7bff 76.5px,#2525ff 92.5px,#1414ff 98.5px,#4545ff 122.5px,#4747ff 127.5px)"></i><i style="left:270px;width:2px;background:linear-gradient(#00f 0.5px,#0a0aff 34.5px,#2d2dff 47.5px,#5c5cff 56.5px,#ccf 63.5px,#e1e1ff 66.5px,#d7d7ff 69.5px,#9f9fff 73.5px,#8383ff 75.5px,#5959ff 81.5px,#1d1dff 94.5px,#1717ff 99.5px,#4545ff 122.5px,#4747ff 127.5px)"></i><i style="left:272px;width:2px;background:linear-gradient(#00f 0.5px,#0a0aff 34.5px,#2c2cff 47.5px,#5d5dff 56.5px,#cacaff 63.5px,#f3f3ff 64.5px,#faf8fd 65.5px,#f3f3ff 66.5px,#dfdfff 67.5px,#cacaff 70.5px,#8c8cff 74.5px,#55f 81.5px,#1919ff 95.5px,#1717ff 99.5px,#4545ff 122.5px,#4747ff 127.5px)"></i><i style="left:274px;width:2px;background:linear-gradient(#00f 0.5px,#0a0aff 34.5px,#2a2aff 47.5px,#4c4cff 53.5px,#9b9bff 60.5px,#aeaeff 61.5px,#f7f7ff 63.5px,#fff8f8 65.5px,#f7f7ff 67.5px,#dedeff 68.5px,#9b9bff 73.5px,#8383ff 75.5px,#5252ff 81.5px,#1818ff 95.5px,#1717ff 99.5px,#4545ff 122.5px,#4747ff 127.5px)"></i><i style="left:276px;width:2px;background:linear-gradient(#00f 0.5px,#0b0bff 35.5px,#2a2aff 47.5px,#6565ff 54.5px,#9090ff 58.5px,#a5a5ff 59.5px,#f0f0ff 61.5px,#fff5f5 62.5px,#ffe6e6 64.5px,#ffe9e9 67.5px,#fff5f5 68.5px,#f0f0ff 69.5px,#b7b7ff 71.5px,#8b8bff 74.5px,#4949ff 82.5px,#1414ff 96.5px,#4747ff 124.5px,#4747ff 127.5px)"></i><i style="left:278px;width:2px;background:linear-gradient(#00f 0.5px,#0a0aff 35.5px,#1f1fff 44.5px,#5454ff 51.5px,#8a8aff 56.5px,#a1a1ff 57.5px,#e6e6ff 59.5px,#fcf7fa 60.5px,#ffe2e2 62.5px,#ffdede 67.5px,#ffecec 69.5px,#fcf7fa 70.5px,#e6e6ff 71.5px,#a4a4ff 73.5px,#8c8cff 74.5px,#4646ff 82.5px,#1414ff 96.5px,#4747ff 124.5px,#4747ff 127.5px)"></i><i style="left:280px;width:2px;background:linear-gradient(#00f 0.5px,#0a0aff 35.5px,#22f 43.5px,#5858ff 50.5px,#8989ff 54.5px,#c2c2ff 56.5px,#f7f6fd 58.5px,#fff2f2 59.5px,#ffd8d8 62.5px,#ffd8d8 68.5px,#fff2f2 71.5px,#f7f6fd 72.5px,#c2c2ff 74.5px,#8989ff 76.5px,#4f4fff 81.5px,#2e2eff 87.5px,#1212ff 97.5px,#4545ff 122.5px,#4747ff 127.5px)"></i><i style="left:282px;width:2px;background:linear-gradient(#00f 0.5px,#0909ff 34.5px,#2424ff 42.5px,#5d5dff 49.5px,#7474ff 51.5px,#a4a4ff 53.5px,#f3f3ff 56.5px,#fff8f8 57.5px,#ffd6d6 60.5px,#ffcece 67.5px,#ffdede 71.5px,#fff8f8 73.5px,#f3f3ff 74.5px,#88f 78.5px,#6767ff 80.5px,#3232ff 86.5px,#1212ff 97.5px,#4545ff 122.5px,#4747ff 127.5px)"></i><i style="left:284px;width:2px;background:linear-gradient(#00f 0.5px,#0909ff 33.5px,#2626ff 41.5px,#6161ff 48.5px,#8787ff 50.5px,#e9e9ff 54.5px,#fbf9fd 55.5px,#ffd3d3 59.5px,#ffc9c9 66.5px,#ffd3d3 71.5px,#fbf9fd 75.5px,#d3d3ff 77.5px,#7171ff 81.5px,#44f 85.5px,#1e1eff 91.5px,#1212ff 97.5px,#4545ff 122.5px,#4747ff 127.5px)"></i><i style="left:286px;width:2px;background:linear-gradient(#00f 0.5px,#0808ff 31.5px,#2323ff 39.5px,#5b5bff 46.5px,#7878ff 48.5px,#f1f1ff 53.5px,#fef8f9 54.5px,#ffd0d0 57.5px,#ffbcbc 61.5px,#ffbfbf 70.5px,#ffdbdb 74.5px,#fef8f9 76.5px,#f1f1ff 77.5px,#7878ff 82.5px,#5b5bff 84.5px,#2323ff 91.5px,#1212ff 97.5px,#4545ff 122.5px,#4747ff 127.5px)"></i><i style="left:288px;width:2px;background:linear-gradient(#00f 0.5px,#0808ff 30.5px,#22f 38.5px,#5959ff 45.5px,#6e6eff 47.5px,#9b9bff 49.5px,#eaeaff 52.5px,#fffdfd 53.5px,#ffc8c8 56.5px,#faa 60.5px,#faa 70.5px,#ffc9c9 74.5px,#fffdfd 77.5px,#b6b6ff 80.5px,#8080ff 82.5px,#5959ff 85.5px,#22f 92.5px,#1212ff 97.5px,#4545ff 122.5px,#4747ff 127.5px)"></i><i style="left:290px;width:2px;background:linear-gradient(#00f 0.5px,#0808ff 30.5px,#2323ff 38.5px,#5b5bff 45.5px,#7171ff 47.5px,#9f9fff 49.5px,#efefff 52.5px,#fff8f8 53.5px,#ffc4c4 56.5px,#ffa6a6 60.5px,#ffa6a6 70.5px,#ffc4c4 74.5px,#fff9f9 77.5px,#eef 78.5px,#8383ff 82.5px,#6565ff 84.5px,#2929ff 91.5px,#1212ff 97.5px,#4545ff 122.5px,#4747ff 127.5px)"></i><i style="left:292px;width:2px;background:linear-gradient(#00f 0.5px,#0909ff 30.5px,#2424ff 38.5px,#5d5dff 45.5px,#7373ff 47.5px,#f4f4ff 52.5px,#fff4f4 53.5px,#ffc1c1 56.5px,#ffa5a5 60.5px,#ffa5a5 70.5px,#ffc2c2 74.5px,#fff5f5 77.5px,#f2f2ff 78.5px,#7272ff 83.5px,#3030ff 90.5px,#1212ff 96.5px,#4646ff 123.5px,#4747ff 127.5px)"></i><i style="left:294px;width:2px;background:linear-gradient(#00f 0.5px,#0808ff 29.5px,#2525ff 38.5px,#5f5fff 45.5px,#7a7aff 47.5px,#f9f9ff 52.5px,#fdd 54.5px,#ffb6b6 57.5px,#ffa2a2 62.5px,#faa 71.5px,#ffc1c1 74.5px,#fff1f1 77.5px,#f7f7ff 78.5px,#7878ff 83.5px,#3939ff 89.5px,#1313ff 96.5px,#4646ff 123.5px,#4747ff 127.5px)"></i><i style="left:296px;width:2px;background:linear-gradient(#00f 0.5px,#0808ff 29.5px,#2727ff 38.5px,#6262ff 45.5px,#8080ff 47.5px,#fefeff 52.5px,#ffcaca 55.5px,#ffa7a7 59.5px,#ffa1a1 68.5px,#ffb5b5 73.5px,#ffdbdb 76.5px,#fbfbff 78.5px,#7d7dff 83.5px,#5656ff 86.5px,#2020ff 93.5px,#1212ff 97.5px,#4545ff 122.5px,#4747ff 127.5px)"></i><i style="left:298px;width:2px;background:linear-gradient(#00f 0.5px,#0808ff 29.5px,#22f 37.5px,#5959ff 44.5px,#7272ff 46.5px,#ededff 51.5px,#fffcfc 52.5px,#ffcaca 55.5px,#ffabab 59.5px,#ffa6a6 69.5px,#ffb7b7 73.5px,#ffdada 76.5px,#fffefe 78.5px,#7070ff 84.5px,#3434ff 90.5px,#1212ff 97.5px,#4545ff 122.5px,#4747ff 127.5px)"></i><i style="left:300px;width:2px;background:linear-gradient(#00f 0.5px,#0909ff 29.5px,#2323ff 37.5px,#5c5cff 44.5px,#8080ff 46.5px,#f3f3ff 51.5px,#fff8f8 52.5px,#ffc3c3 56.5px,#ffadad 61.5px,#ffb2b2 71.5px,#ffcece 75.5px,#fffbfb 78.5px,#dadaff 80.5px,#66f 85.5px,#2e2eff 91.5px,#1212ff 97.5px,#4545ff 122.5px,#4747ff 127.5px)"></i><i style="left:302px;width:2px;background:linear-gradient(#00f 0.5px,#0909ff 29.5px,#2424ff 37.5px,#5e5eff 44.5px,#7d7dff 46.5px,#f6f6ff 51.5px,#fff3f3 52.5px,#ffc4c4 55.5px,#ffa7a7 59.5px,#ffa2a2 69.5px,#ffb3b3 73.5px,#ffd4d4 76.5px,#fff7f7 78.5px,#f2f2ff 79.5px,#7878ff 84.5px,#5c5cff 86.5px,#2323ff 93.5px,#1212ff 97.5px,#4545ff 122.5px,#4747ff 127.5px)"></i><i style="left:304px;width:2px;background:linear-gradient(#00f 0.5px,#0808ff 28.5px,#2626ff 37.5px,#6060ff 44.5px,#77f 46.5px,#fafaff 51.5px,#ffb6b6 55.5px,#ff9393 59.5px,#ff8d8d 68.5px,#ff9a9a 72.5px,#ffb9b9 75.5px,#fff2f2 78.5px,#f4f4ff 79.5px,#7373ff 84.5px,#3131ff 91.5px,#1313ff 97.5px,#4545ff 122.5px,#4747ff 127.5px)"></i><i style="left:306px;width:2px;background:linear-gradient(#00f 0.5px,#0808ff 28.5px,#2727ff 37.5px,#6262ff 44.5px,#8a8aff 47.5px,#fefefe 51.5px,#ffb8b8 54.5px,#ff8d8d 57.5px,#ff7878 61.5px,#ff7b7b 70.5px,#ff8f8f 73.5px,#ffbdbd 76.5px,#ffebeb 78.5px,#f8f8ff 79.5px,#8383ff 83.5px,#3a3aff 90.5px,#1313ff 97.5px,#4646ff 123.5px,#4747ff 127.5px)"></i><i style="left:308px;width:2px;background:linear-gradient(#00f 0.5px,#0808ff 28.5px,#22f 36.5px,#5a5aff 43.5px,#7d7dff 46.5px,#eaeaff 50.5px,#fffafa 51.5px,#ffbaba 54.5px,#ff9494 57.5px,#ff8181 62.5px,#ff8989 71.5px,#ffa1a1 74.5px,#ffd2d2 77.5px,#fdfdff 79.5px,#7878ff 84.5px,#3434ff 91.5px,#1414ff 97.5px,#4646ff 123.5px,#4747ff 127.5px)"></i><i style="left:310px;width:2px;background:linear-gradient(#00f 0.5px,#0909ff 28.5px,#2323ff 36.5px,#5c5cff 43.5px,#7474ff 45.5px,#f1f1ff 50.5px,#fff6f6 51.5px,#ffbfbf 54.5px,#f99 58.5px,#ff8f8f 66.5px,#ff9a9a 72.5px,#ffc3c3 76.5px,#fffcfc 79.5px,#b7b7ff 82.5px,#6f6fff 85.5px,#2e2eff 92.5px,#1414ff 98.5px,#4545ff 122.5px,#4747ff 127.5px)"></i><i style="left:312px;width:2px;background:linear-gradient(#00f 0.5px,#0909ff 28.5px,#2525ff 36.5px,#5e5eff 43.5px,#6969ff 44.5px,#f7f7ff 50.5px,#fff2f2 51.5px,#ffb4b4 55.5px,#ff9a9a 59.5px,#ff9898 70.5px,#ffadad 74.5px,#ffe5e5 78.5px,#fff9f9 79.5px,#f0f0ff 80.5px,#77f 85.5px,#5151ff 88.5px,#1e1eff 95.5px,#1717ff 99.5px,#4545ff 122.5px,#4747ff 127.5px)"></i><i style="left:314px;width:2px;background:linear-gradient(#00f 0.5px,#0909ff 28.5px,#2626ff 36.5px,#6161ff 43.5px,#7676ff 45.5px,#a6a6ff 47.5px,#fbfbff 50.5px,#faa 54.5px,#ff8585 57.5px,#ff7373 62.5px,#ff7b7b 71.5px,#ff9393 74.5px,#ffc3c3 77.5px,#fff2f2 79.5px,#f1f1ff 80.5px,#8181ff 84.5px,#4040ff 90.5px,#1616ff 97.5px,#4747ff 124.5px,#4747ff 127.5px)"></i><i style="left:316px;width:2px;background:linear-gradient(#00f 0.5px,#0808ff 27.5px,#2121ff 35.5px,#5858ff 42.5px,#8a8aff 46.5px,#fffefe 50.5px,#ffb1b1 53.5px,#ff8080 56.5px,#ff6565 60.5px,#f66 70.5px,#ff8585 74.5px,#ffbaba 77.5px,#ffecec 79.5px,#f5f5ff 80.5px,#8080ff 84.5px,#3232ff 92.5px,#1414ff 98.5px,#4545ff 122.5px,#4747ff 127.5px)"></i><i style="left:318px;width:2px;background:linear-gradient(#00f 0.5px,#0808ff 27.5px,#2323ff 35.5px,#5a5aff 42.5px,#7b7bff 45.5px,#eaeaff 49.5px,#fff8f8 50.5px,#ffafaf 53.5px,#ff8181 56.5px,#ff6868 60.5px,#ff6969 70.5px,#ff8686 74.5px,#ffb8b8 77.5px,#fbfbff 80.5px,#8787ff 84.5px,#4c4cff 89.5px,#1c1cff 96.5px,#1717ff 99.5px,#4545ff 122.5px,#4747ff 127.5px)"></i><i style="left:320px;width:2px;background:linear-gradient(#00f 0.5px,#0909ff 27.5px,#2424ff 35.5px,#5d5dff 42.5px,#7d7dff 45.5px,#9191ff 46.5px,#efefff 49.5px,#fff1f1 50.5px,#ffa2a2 53.5px,#ff6f6f 56.5px,#ff5353 60.5px,#ff5454 70.5px,#ff6868 73.5px,#ff9696 76.5px,#ffe0e0 79.5px,#fffefe 80.5px,#8585ff 84.5px,#3535ff 92.5px,#1414ff 98.5px,#4545ff 122.5px,#4747ff 127.5px)"></i><i style="left:322px;width:2px;background:linear-gradient(#00f 0.5px,#0909ff 27.5px,#2525ff 35.5px,#5f5fff 42.5px,#8080ff 45.5px,#f5f5ff 49.5px,#ffebeb 50.5px,#ff9e9e 53.5px,#ff6d6d 56.5px,#ff5252 60.5px,#ff5454 70.5px,#ff7272 74.5px,#ffa8a8 77.5px,#fff8f8 80.5px,#e7e7ff 81.5px,#8b8bff 84.5px,#5050ff 89.5px,#1d1dff 96.5px,#1717ff 99.5px,#4545ff 122.5px,#4747ff 127.5px)"></i><i style="left:324px;width:2px;background:linear-gradient(#00f 0.5px,#0909ff 27.5px,#2626ff 35.5px,#6161ff 42.5px,#77f 44.5px,#c4c4ff 47.5px,#fcfcff 49.5px,#ffa6a6 53.5px,#ff7d7d 56.5px,#ff6767 60.5px,#ff6868 70.5px,#ff8282 74.5px,#ffafaf 77.5px,#fff4f4 80.5px,#efefff 81.5px,#7f7fff 85.5px,#3737ff 92.5px,#1616ff 98.5px,#4646ff 123.5px,#4747ff 127.5px)"></i><i style="left:326px;width:2px;background:linear-gradient(#00f 0.5px,#0808ff 26.5px,#2121ff 34.5px,#5858ff 41.5px,#7b7bff 44.5px,#fffefe 49.5px,#ffa7a7 53.5px,#ff8181 56.5px,#ff6c6c 61.5px,#ff7272 71.5px,#ff9191 75.5px,#ffc3c3 78.5px,#fff1f1 80.5px,#f3f3ff 81.5px,#8787ff 85.5px,#6868ff 87.5px,#2a2aff 94.5px,#1717ff 99.5px,#4545ff 122.5px,#4747ff 127.5px)"></i><i style="left:328px;width:4px;background:linear-gradient(#00f 0.5px,#0808ff 26.5px,#22f 34.5px,#5a5aff 41.5px,#6f6fff 43.5px,#ebebff 48.5px,#fffbfb 49.5px,#ffabab 53.5px,#ff8282 57.5px,#ff7575 63.5px,#ff7b7b 71.5px,#ff9898 75.5px,#ffd9d9 79.5px,#ffefef 80.5px,#f7f7ff 81.5px,#7878ff 86.5px,#3939ff 92.5px,#1717ff 98.5px,#4646ff 123.5px,#4747ff 127.5px)"></i><i style="left:332px;width:2px;background:linear-gradient(#00f 0.5px,#0808ff 26.5px,#2323ff 34.5px,#5b5bff 41.5px,#7d7dff 44.5px,#ececff 48.5px,#fff6f6 49.5px,#ff9898 53.5px,#ff6e6e 56.5px,#ff5858 60.5px,#ff5a5a 70.5px,#ff7474 74.5px,#ffa2a2 77.5px,#ffe9e9 80.5px,#f9f9ff 81.5px,#8686ff 85.5px,#4c4cff 90.5px,#1b1bff 97.5px,#1b1bff 101.5px,#4646ff 123.5px,#4747ff 127.5px)"></i><i style="left:334px;width:2px;background:linear-gradient(#00f 0.5px,#0909ff 26.5px,#2323ff 34.5px,#5c5cff 41.5px,#8e8eff 45.5px,#ececff 48.5px,#fff2f2 49.5px,#ff9d9d 52.5px,#ff6262 55.5px,#f44 58.5px,#ff3838 64.5px,#ff4141 71.5px,#ff5c5c 74.5px,#ff9292 77.5px,#fbfbff 81.5px,#8282ff 85.5px,#33f 93.5px,#1717ff 99.5px,#4545ff 122.5px,#4747ff 127.5px)"></i><i style="left:336px;width:2px;background:linear-gradient(#00f 0.5px,#0909ff 26.5px,#2424ff 34.5px,#5d5dff 41.5px,#8d8dff 45.5px,#efefff 48.5px,#fee 49.5px,#ff9696 52.5px,#ff5858 55.5px,#ff3939 58.5px,#ff2c2c 64.5px,#ff3636 71.5px,#ff5252 74.5px,#ff8b8b 77.5px,#fdfdff 81.5px,#9b9bff 84.5px,#8383ff 85.5px,#3434ff 93.5px,#1717ff 99.5px,#4545ff 122.5px,#4747ff 127.5px)"></i><i style="left:338px;width:2px;background:linear-gradient(#00f 0.5px,#0909ff 26.5px,#2525ff 34.5px,#5e5eff 41.5px,#8282ff 44.5px,#f4f4ff 48.5px,#fee 49.5px,#ffa4a4 52.5px,#ff7373 55.5px,#f55 59.5px,#ff5252 69.5px,#ff6464 73.5px,#ff8989 76.5px,#ffc8c8 79.5px,#fffefe 81.5px,#8d8dff 85.5px,#6d6dff 87.5px,#2d2dff 94.5px,#1717ff 99.5px,#4545ff 122.5px,#4747ff 127.5px)"></i><i style="left:340px;width:2px;background:linear-gradient(#00f 0.5px,#0909ff 26.5px,#2525ff 34.5px,#5f5fff 41.5px,#7575ff 43.5px,#f7f7ff 48.5px,#ffeded 49.5px,#ff9b9b 53.5px,#ff7171 57.5px,#ff6363 63.5px,#ff6a6a 71.5px,#f88 75.5px,#ffb7b7 78.5px,#fffcfc 81.5px,#b1b1ff 84.5px,#7d7dff 86.5px,#3d3dff 92.5px,#1818ff 98.5px,#4747ff 124.5px,#4747ff 127.5px)"></i><i style="left:342px;width:2px;background:linear-gradient(#00f 0.5px,#0909ff 26.5px,#2626ff 34.5px,#6060ff 41.5px,#7676ff 43.5px,#f9f9ff 48.5px,#ffd2d2 50.5px,#ff9696 53.5px,#ff6b6b 57.5px,#ff5d5d 63.5px,#ff6464 71.5px,#ff8282 75.5px,#ffb3b3 78.5px,#fffafa 81.5px,#e9e9ff 82.5px,#7d7dff 86.5px,#3636ff 93.5px,#1717ff 99.5px,#4545ff 122.5px,#4747ff 127.5px)"></i><i style="left:344px;width:2px;background:linear-gradient(#00f 0.5px,#0909ff 26.5px,#2626ff 34.5px,#6161ff 41.5px,#88f 44.5px,#fcfcff 48.5px,#ff9d9d 52.5px,#ff6d6d 55.5px,#ff5151 59.5px,#ff4f4f 70.5px,#ff6969 74.5px,#ff9595 77.5px,#fff7f7 81.5px,#eaeaff 82.5px,#7b7bff 86.5px,#2f2fff 94.5px,#1717ff 99.5px,#4545ff 122.5px,#4747ff 127.5px)"></i><i style="left:346px;width:2px;background:linear-gradient(#00f 0.5px,#0a0aff 26.5px,#2727ff 34.5px,#6262ff 41.5px,#7878ff 43.5px,#a7a7ff 45.5px,#fefeff 48.5px,#ff9b9b 52.5px,#ff6c6c 55.5px,#ff4f4f 59.5px,#ff4e4e 70.5px,#ff6767 74.5px,#ff9494 77.5px,#fff5f5 81.5px,#ededff 82.5px,#7d7dff 86.5px,#3030ff 94.5px,#1717ff 99.5px,#4545ff 122.5px,#4747ff 127.5px)"></i><i style="left:348px;width:2px;background:linear-gradient(#00f 0.5px,#0a0aff 26.5px,#2727ff 34.5px,#6363ff 41.5px,#7a7aff 43.5px,#fffdfd 48.5px,#ffa1a1 52.5px,#ff7676 55.5px,#ff5c5c 59.5px,#ff5b5b 70.5px,#ff7272 74.5px,#ff9a9a 77.5px,#fff3f3 81.5px,#f0f0ff 82.5px,#8383ff 86.5px,#5252ff 90.5px,#1e1eff 97.5px,#1919ff 100.5px,#4646ff 123.5px,#4747ff 127.5px)"></i><i style="left:350px;width:2px;background:linear-gradient(#00f 0.5px,#0808ff 25.5px,#22f 33.5px,#5959ff 40.5px,#7a7aff 43.5px,#e7e7ff 47.5px,#fffbfb 48.5px,#ff9c9c 52.5px,#ff7070 55.5px,#ff5656 59.5px,#f55 70.5px,#ff6c6c 74.5px,#ff9595 77.5px,#fff1f1 81.5px,#f2f2ff 82.5px,#8383ff 86.5px,#4040ff 92.5px,#1717ff 99.5px,#4545ff 122.5px,#4747ff 127.5px)"></i><i style="left:352px;width:2px;background:linear-gradient(#00f 0.5px,#0808ff 25.5px,#2323ff 33.5px,#5a5aff 40.5px,#7b7bff 43.5px,#eaeaff 47.5px,#fff8f8 48.5px,#ff9898 52.5px,#ff6b6b 55.5px,#ff5050 59.5px,#ff4f4f 70.5px,#ff6767 74.5px,#ff9191 77.5px,#fee 81.5px,#f4f4ff 82.5px,#8484ff 86.5px,#4141ff 92.5px,#1717ff 99.5px,#4545ff 122.5px,#4747ff 127.5px)"></i><i style="left:354px;width:2px;background:linear-gradient(#00f 0.5px,#0808ff 25.5px,#2323ff 33.5px,#5b5bff 40.5px,#7c7cff 43.5px,#ececff 47.5px,#fff5f5 48.5px,#ff9595 52.5px,#ff6868 55.5px,#ff4e4e 59.5px,#ff4d4d 70.5px,#ff6464 74.5px,#ff8f8f 77.5px,#ffecec 81.5px,#f6f6ff 82.5px,#8585ff 86.5px,#4b4bff 91.5px,#1b1bff 98.5px,#1e1eff 102.5px,#4646ff 123.5px,#4747ff 127.5px)"></i><i style="left:356px;width:2px;background:linear-gradient(#00f 0.5px,#0909ff 25.5px,#2424ff 33.5px,#5c5cff 40.5px,#7d7dff 43.5px,#eef 47.5px,#fff2f2 48.5px,#ff8f8f 52.5px,#ff6060 55.5px,#ff4545 59.5px,#f44 70.5px,#ff5d5d 74.5px,#f88 77.5px,#ffe9e9 81.5px,#f9f9ff 82.5px,#8585ff 86.5px,#4343ff 92.5px,#1717ff 99.5px,#4646ff 123.5px,#4747ff 127.5px)"></i><i style="left:358px;width:2px;background:linear-gradient(#00f 0.5px,#0909ff 25.5px,#2424ff 33.5px,#5d5dff 40.5px,#7e7eff 43.5px,#f1f1ff 47.5px,#ffefef 48.5px,#ff8787 52.5px,#ff5656 55.5px,#ff3939 59.5px,#ff3636 69.5px,#ff4848 73.5px,#ff6e6e 76.5px,#ffaeae 79.5px,#fbfbff 82.5px,#8484ff 86.5px,#3b3bff 93.5px,#1717ff 99.5px,#4646ff 123.5px,#4747ff 127.5px)"></i><i style="left:360px;width:2px;background:linear-gradient(#00f 0.5px,#0909ff 25.5px,#2525ff 33.5px,#5e5eff 40.5px,#7f7fff 43.5px,#d3d3ff 46.5px,#f3f3ff 47.5px,#ffebeb 48.5px,#ff7f7f 52.5px,#ff4c4c 55.5px,#ff2e2e 59.5px,#ff2a2a 69.5px,#ff3e3e 73.5px,#ff6565 76.5px,#ffa8a8 79.5px,#fdfdff 82.5px,#8383ff 86.5px,#3434ff 94.5px,#1818ff 99.5px,#4646ff 123.5px,#4747ff 127.5px)"></i><i style="left:362px;width:2px;background:linear-gradient(#00f 0.5px,#0909ff 25.5px,#2525ff 33.5px,#5f5fff 40.5px,#8181ff 43.5px,#f6f6ff 47.5px,#ffe9e9 48.5px,#ff8383 52.5px,#ff5353 55.5px,#ff3636 59.5px,#ff3535 70.5px,#ff4f4f 74.5px,#ff7d7d 77.5px,#ffe0e0 81.5px,#fffefe 82.5px,#88f 86.5px,#4545ff 92.5px,#1818ff 99.5px,#4646ff 123.5px,#4747ff 127.5px)"></i><i style="left:364px;width:2px;background:linear-gradient(#00f 0.5px,#0909ff 25.5px,#2626ff 33.5px,#6060ff 40.5px,#8383ff 43.5px,#f9f9ff 47.5px,#ffe7e7 48.5px,#ff8181 52.5px,#ff5151 55.5px,#ff3535 59.5px,#ff3434 70.5px,#ff4e4e 74.5px,#ff7b7b 77.5px,#ffdede 81.5px,#fffcfc 82.5px,#8b8bff 86.5px,#6363ff 89.5px,#2727ff 96.5px,#1919ff 100.5px,#4646ff 123.5px,#4747ff 127.5px)"></i><i style="left:366px;width:2px;background:linear-gradient(#00f 0.5px,#0909ff 25.5px,#2626ff 33.5px,#6161ff 40.5px,#8282ff 43.5px,#fcfcff 47.5px,#ff9090 51.5px,#f55 54.5px,#ff3535 57.5px,#ff2525 62.5px,#ff2d2d 71.5px,#ff5151 75.5px,#ff8989 78.5px,#fff9f9 82.5px,#e5e5ff 83.5px,#8a8aff 86.5px,#4646ff 92.5px,#1919ff 99.5px,#4646ff 123.5px,#4747ff 127.5px)"></i><i style="left:368px;width:2px;background:linear-gradient(#00f 0.5px,#0a0aff 25.5px,#2727ff 33.5px,#6262ff 40.5px,#8989ff 43.5px,#fffeff 47.5px,#ff9494 51.5px,#ff5d5d 54.5px,#ff3a3a 58.5px,#ff3131 67.5px,#ff3d3d 72.5px,#ff5959 75.5px,#ff8e8e 78.5px,#fff7f7 82.5px,#e9e9ff 83.5px,#9191ff 86.5px,#7b7bff 87.5px,#2f2fff 95.5px,#1919ff 100.5px,#4646ff 123.5px,#4747ff 127.5px)"></i><i style="left:370px;width:2px;background:linear-gradient(#00f 0.5px,#0a0aff 25.5px,#2727ff 33.5px,#6363ff 40.5px,#7979ff 42.5px,#a9a9ff 44.5px,#fffcfc 47.5px,#ff9393 51.5px,#ff5e5e 54.5px,#ff3b3b 58.5px,#f33 67.5px,#ff3f3f 72.5px,#ff6868 76.5px,#ffa4a4 79.5px,#fff4f4 82.5px,#ececff 83.5px,#7c7cff 87.5px,#3030ff 95.5px,#1919ff 100.5px,#4646ff 123.5px,#4747ff 127.5px)"></i><i style="left:372px;width:2px;background:linear-gradient(#00f 0.5px,#0a0aff 25.5px,#2828ff 33.5px,#6464ff 40.5px,#7a7aff 42.5px,#aaf 44.5px,#e6e6ff 46.5px,#fffafa 47.5px,#ff8e8e 51.5px,#ff5757 54.5px,#ff3434 58.5px,#ff2b2b 67.5px,#ff3838 72.5px,#ff5454 75.5px,#f88 78.5px,#fff2f2 82.5px,#eef 83.5px,#7d7dff 87.5px,#3030ff 95.5px,#1919ff 100.5px,#4646ff 123.5px,#4747ff 127.5px)"></i><i style="left:374px;width:2px;background:linear-gradient(#00f 0.5px,#0808ff 24.5px,#2323ff 32.5px,#5b5bff 39.5px,#7f7fff 42.5px,#ebebff 46.5px,#fff8f8 47.5px,#f99 51.5px,#ff6a6a 54.5px,#ff4c4c 58.5px,#ff4646 68.5px,#ff5656 73.5px,#ff8383 77.5px,#ffd7d7 81.5px,#fff1f1 82.5px,#f2f2ff 83.5px,#8585ff 87.5px,#6868ff 89.5px,#2a2aff 96.5px,#1919ff 100.5px,#4646ff 123.5px,#4747ff 127.5px)"></i><i style="left:376px;width:2px;background:linear-gradient(#00f 0.5px,#0909ff 24.5px,#2323ff 32.5px,#5c5cff 39.5px,#7171ff 41.5px,#eef 46.5px,#fff6f6 47.5px,#ff9d9d 51.5px,#ff6868 55.5px,#ff5151 60.5px,#f55 71.5px,#ff6f6f 75.5px,#ffabab 79.5px,#ffefef 82.5px,#f5f5ff 83.5px,#7474ff 88.5px,#3131ff 95.5px,#1919ff 100.5px,#4646ff 123.5px,#4747ff 127.5px)"></i><i style="left:378px;width:2px;background:linear-gradient(#00f 0.5px,#0909ff 24.5px,#2424ff 32.5px,#5d5dff 39.5px,#8484ff 42.5px,#f0f0ff 46.5px,#fff3f3 47.5px,#ff9595 51.5px,#ff5c5c 55.5px,#f44 60.5px,#ff4949 71.5px,#ff6464 75.5px,#ff9090 78.5px,#ffecec 82.5px,#f6f6ff 83.5px,#8989ff 87.5px,#6a6aff 89.5px,#2b2bff 96.5px,#1919ff 100.5px,#4646ff 123.5px,#4747ff 127.5px)"></i><i style="left:380px;width:2px;background:linear-gradient(#00f 0.5px,#0909ff 24.5px,#2424ff 32.5px,#5d5dff 39.5px,#7f7fff 42.5px,#f1f1ff 46.5px,#fee 47.5px,#ff8484 51.5px,#ff5050 54.5px,#ff2e2e 58.5px,#ff2525 67.5px,#ff3232 72.5px,#ff5b5b 76.5px,#ff9696 79.5px,#ffe8e8 82.5px,#f8f8ff 83.5px,#8383ff 87.5px,#3a3aff 94.5px,#1919ff 100.5px,#4646ff 123.5px,#4747ff 127.5px)"></i><i style="left:382px;width:2px;background:linear-gradient(#00f 0.5px,#0909ff 24.5px,#2525ff 32.5px,#5e5eff 39.5px,#7f7fff 42.5px,#f4f4ff 46.5px,#ffebeb 47.5px,#ff7f7f 51.5px,#ff4949 54.5px,#ff2727 58.5px,#ff1e1e 67.5px,#ff2b2b 72.5px,#ff4747 75.5px,#ff7b7b 78.5px,#fafaff 83.5px,#8383ff 87.5px,#3b3bff 94.5px,#1919ff 100.5px,#4646ff 123.5px,#4747ff 127.5px)"></i><i style="left:384px;width:2px;background:linear-gradient(#00f 0.5px,#0909ff 24.5px,#2525ff 32.5px,#5f5fff 39.5px,#8585ff 42.5px,#f7f7ff 46.5px,#ffeaea 47.5px,#ff8585 51.5px,#ff5353 54.5px,#f33 58.5px,#ff2c2c 68.5px,#ff3e3e 73.5px,#ff5e5e 76.5px,#ff9696 79.5px,#fdfdff 83.5px,#8a8aff 87.5px,#6c6cff 89.5px,#2d2dff 96.5px,#1919ff 100.5px,#4646ff 123.5px,#4747ff 127.5px)"></i><i style="left:386px;width:2px;background:linear-gradient(#00f 0.5px,#0909ff 24.5px,#2626ff 32.5px,#6060ff 39.5px,#8484ff 42.5px,#fafaff 46.5px,#ffc9c9 48.5px,#ff6868 52.5px,#ff3d3d 55.5px,#ff2424 59.5px,#ff2323 70.5px,#ff3b3b 74.5px,#ff6565 77.5px,#ffa8a8 80.5px,#fffefe 83.5px,#8989ff 87.5px,#4e4eff 92.5px,#1c1cff 99.5px,#2727ff 106.5px,#4747ff 124.5px,#4747ff 127.5px)"></i><i style="left:388px;width:2px;background:linear-gradient(#00f 0.5px,#0a0aff 24.5px,#2626ff 32.5px,#6161ff 39.5px,#8585ff 42.5px,#fdfdff 46.5px,#ff7676 51.5px,#ff4141 54.5px,#ff1f1f 58.5px,#ff1616 67.5px,#ff2323 72.5px,#ff3f3f 75.5px,#ff7373 78.5px,#fdd 82.5px,#fffcfc 83.5px,#8989ff 87.5px,#4545ff 93.5px,#1919ff 100.5px,#4646ff 123.5px,#4747ff 127.5px)"></i><i style="left:390px;width:2px;background:linear-gradient(#00f 0.5px,#0a0aff 24.5px,#2727ff 32.5px,#6262ff 39.5px,#8787ff 42.5px,#fffefe 46.5px,#ff8b8b 50.5px,#ff4e4e 53.5px,#ff2929 56.5px,#ff1515 61.5px,#ff1c1c 71.5px,#ff3d3d 75.5px,#ff7070 78.5px,#ffdada 82.5px,#fff9f9 83.5px,#e5e5ff 84.5px,#8c8cff 87.5px,#6464ff 90.5px,#2828ff 97.5px,#1919ff 100.5px,#4646ff 123.5px,#4747ff 127.5px)"></i><i style="left:392px;width:2px;background:linear-gradient(#00f 0.5px,#0a0aff 24.5px,#2727ff 32.5px,#6363ff 39.5px,#8787ff 42.5px,#fffcfc 46.5px,#ff8585 50.5px,#ff4545 53.5px,#ff1f1f 56.5px,#ff0b0b 61.5px,#ff1212 71.5px,#ff3434 75.5px,#ff6969 78.5px,#ffd7d7 82.5px,#fff7f7 83.5px,#e7e7ff 84.5px,#8c8cff 87.5px,#5050ff 92.5px,#1d1dff 99.5px,#1e1eff 102.5px,#4646ff 123.5px,#4747ff 127.5px)"></i><i style="left:394px;width:4px;background:linear-gradient(#00f 0.5px,#0a0aff 24.5px,#2828ff 32.5px,#6565ff 39.5px,#8c8cff 42.5px,#e7e7ff 45.5px,#fff7f7 46.5px,#ff8282 50.5px,#ff4343 53.5px,#ff1e1e 56.5px,#ff0a0a 61.5px,#f11 71.5px,#ff3232 75.5px,#ff6767 78.5px,#ffd3d3 82.5px,#fff3f3 83.5px,#ebebff 84.5px,#9090ff 87.5px,#7171ff 89.5px,#3030ff 96.5px,#1a1aff 100.5px,#4646ff 123.5px,#4747ff 127.5px)"></i><i style="left:398px;width:2px;background:linear-gradient(#00f 0.5px,#0a0aff 24.5px,#2929ff 32.5px,#66f 39.5px,#7c7cff 41.5px,#adadff 43.5px,#ebebff 45.5px,#fff3f3 46.5px,#ff7f7f 50.5px,#ff4242 53.5px,#ff1e1e 56.5px,#ff0a0a 61.5px,#f11 71.5px,#ff3131 75.5px,#ff6565 78.5px,#ffd0d0 82.5px,#ffefef 83.5px,#efefff 84.5px,#9494ff 87.5px,#7e7eff 88.5px,#3131ff 96.5px,#1a1aff 100.5px,#4646ff 123.5px,#4747ff 127.5px)"></i><i style="left:400px;width:2px;background:linear-gradient(#00f 0.5px,#0909ff 23.5px,#2424ff 31.5px,#5d5dff 38.5px,#7d7dff 41.5px,#d0d0ff 44.5px,#efefff 45.5px,#fff0f0 46.5px,#ff8080 50.5px,#f44 53.5px,#ff1b1b 57.5px,#ff0e0e 63.5px,#ff1616 71.5px,#ff3535 75.5px,#ff6767 78.5px,#ffcece 82.5px,#ffeded 83.5px,#f2f2ff 84.5px,#7f7fff 88.5px,#3131ff 96.5px,#1a1aff 100.5px,#4646ff 123.5px,#4747ff 127.5px)"></i><i style="left:402px;width:2px;background:linear-gradient(#00f 0.5px,#0909ff 23.5px,#2424ff 31.5px,#5e5eff 38.5px,#8181ff 41.5px,#f2f2ff 45.5px,#fee 46.5px,#ff8484 50.5px,#ff4d4d 53.5px,#ff2727 57.5px,#ff1c1c 64.5px,#f22 71.5px,#ff3f3f 75.5px,#ff6d6d 78.5px,#ffcece 82.5px,#ffebeb 83.5px,#f5f5ff 84.5px,#8383ff 88.5px,#3939ff 95.5px,#1b1bff 100.5px,#4646ff 123.5px,#4747ff 127.5px)"></i><i style="left:404px;width:4px;background:linear-gradient(#00f 0.5px,#0909ff 23.5px,#2525ff 31.5px,#5f5fff 38.5px,#7575ff 40.5px,#a2a2ff 42.5px,#f7f7ff 45.5px,#ffebeb 46.5px,#ff8787 50.5px,#ff5353 53.5px,#ff3030 57.5px,#ff2525 65.5px,#ff2f2f 72.5px,#ff5252 76.5px,#ff8585 79.5px,#ffe8e8 83.5px,#f9f9ff 84.5px,#8a8aff 88.5px,#6b6bff 90.5px,#2c2cff 97.5px,#1b1bff 101.5px,#4646ff 123.5px,#4747ff 127.5px)"></i><i style="left:408px;width:2px;background:linear-gradient(#00f 0.5px,#0909ff 23.5px,#2626ff 31.5px,#6161ff 38.5px,#7676ff 40.5px,#dedeff 44.5px,#fbfbff 45.5px,#ff8585 50.5px,#ff4747 54.5px,#ff2c2c 58.5px,#ff2727 69.5px,#ff3c3c 74.5px,#ff7070 78.5px,#ffcaca 82.5px,#fdfdff 84.5px,#77f 89.5px,#2d2dff 97.5px,#1b1bff 101.5px,#4646ff 123.5px,#4747ff 127.5px)"></i><i style="left:410px;width:2px;background:linear-gradient(#00f 0.5px,#0a0aff 23.5px,#2626ff 31.5px,#6262ff 38.5px,#77f 40.5px,#fdfdff 45.5px,#ff8181 50.5px,#ff4343 54.5px,#ff2828 58.5px,#ff2323 69.5px,#ff3939 74.5px,#ff6d6d 78.5px,#ffc7c7 82.5px,#fffeff 84.5px,#7878ff 89.5px,#2d2dff 97.5px,#1b1bff 101.5px,#4646ff 123.5px,#4747ff 127.5px)"></i><i style="left:412px;width:2px;background:linear-gradient(#00f 0.5px,#0a0aff 23.5px,#2727ff 31.5px,#6363ff 38.5px,#7979ff 40.5px,#fffefe 45.5px,#ff9696 49.5px,#ff4f4f 53.5px,#ff2d2d 57.5px,#ff2323 65.5px,#ff2d2d 72.5px,#ff4f4f 76.5px,#ff9595 80.5px,#fffdfd 84.5px,#7a7aff 89.5px,#3535ff 96.5px,#1b1bff 101.5px,#4646ff 123.5px,#4747ff 127.5px)"></i><i style="left:414px;width:2px;background:linear-gradient(#00f 0.5px,#0a0aff 23.5px,#2828ff 31.5px,#6464ff 38.5px,#7d7dff 40.5px,#fffbfb 45.5px,#ff9797 49.5px,#ff5353 53.5px,#ff3232 57.5px,#ff2929 66.5px,#ff3232 72.5px,#ff5252 76.5px,#ff9696 80.5px,#fffafa 84.5px,#ccf 86.5px,#7e7eff 89.5px,#3d3dff 95.5px,#1b1bff 101.5px,#4646ff 123.5px,#4747ff 127.5px)"></i><i style="left:416px;width:2px;background:linear-gradient(#00f 0.5px,#0a0aff 23.5px,#2828ff 31.5px,#6565ff 38.5px,#7d7dff 40.5px,#e9e9ff 44.5px,#fff9f9 45.5px,#ff9292 49.5px,#ff4d4d 53.5px,#ff2c2c 57.5px,#f22 66.5px,#ff2c2c 72.5px,#ff4c4c 76.5px,#ff9191 80.5px,#fff8f8 84.5px,#eaeaff 85.5px,#7e7eff 89.5px,#3636ff 96.5px,#1b1bff 101.5px,#4646ff 123.5px,#4747ff 127.5px)"></i><i style="left:418px;width:2px;background:linear-gradient(#00f 0.5px,#0a0aff 23.5px,#2929ff 31.5px,#66f 38.5px,#7e7eff 40.5px,#ebebff 44.5px,#fff6f6 45.5px,#ff8d8d 49.5px,#ff4646 53.5px,#ff2424 57.5px,#ff1a1a 65.5px,#ff2424 72.5px,#ff4545 76.5px,#ff8c8c 80.5px,#fff5f5 84.5px,#ececff 85.5px,#7e7eff 89.5px,#3737ff 96.5px,#1b1bff 101.5px,#4646ff 123.5px,#4747ff 127.5px)"></i><i style="left:420px;width:2px;background:linear-gradient(#00f 0.5px,#0a0aff 23.5px,#2929ff 31.5px,#6767ff 38.5px,#7f7fff 40.5px,#eef 44.5px,#fff3f3 45.5px,#f88 49.5px,#ff4e4e 52.5px,#ff2323 56.5px,#ff1313 62.5px,#ff1919 71.5px,#ff3434 75.5px,#ff5f5f 78.5px,#ffbaba 82.5px,#fff3f3 84.5px,#eef 85.5px,#7f7fff 89.5px,#3737ff 96.5px,#1b1bff 101.5px,#4646ff 123.5px,#4747ff 127.5px)"></i><i style="left:422px;width:2px;background:linear-gradient(#00f 0.5px,#0b0bff 23.5px,#2a2aff 31.5px,#6767ff 38.5px,#7f7fff 40.5px,#f0f0ff 44.5px,#fff0f0 45.5px,#ff8484 49.5px,#ff4949 52.5px,#ff1d1d 56.5px,#ff0d0d 62.5px,#ff1313 71.5px,#ff2e2e 75.5px,#ff5a5a 78.5px,#ffb7b7 82.5px,#fff0f0 84.5px,#f0f0ff 85.5px,#7f7fff 89.5px,#3838ff 96.5px,#1b1bff 101.5px,#4646ff 123.5px,#4747ff 127.5px)"></i></div>
<svg width="1271" height="1100" viewBox="0 0 1271 1100">
<defs>
<linearGradient id="cbar" x1="0" y1="0" x2="0" y2="1"><stop offset="0" stop-color="#f00"/><stop offset="0.5" stop-color="#fff"/><stop offset="1" stop-color="#00f"/></linearGradient>
<clipPath id="clbL"><rect x="311.50" y="342.40" width="248.00" height="119.40"/></clipPath>
<clipPath id="clbR"><rect x="575.00" y="342.30" width="422.30" height="119.90"/></clipPath>
<clipPath id="cldL"><rect x="312.00" y="845.20" width="247.80" height="119.20"/></clipPath>
<clipPath id="cldR"><rect x="575.00" y="843.90" width="423.00" height="120.30"/></clipPath>
</defs>
<rect x="0" y="0" width="32" height="1040" fill="#000"/>
<rect x="0" y="1037" width="1271" height="3" fill="#000"/>
<text x="245.70" y="27.00" font-size="28.00" text-anchor="start" font-weight="normal" fill="#000" font-family='"Liberation Sans", sans-serif' >a</text>
<text x="245.50" y="341.50" font-size="28.00" text-anchor="start" font-weight="normal" fill="#000" font-family='"Liberation Sans", sans-serif' >b</text>
<text x="246.20" y="525.00" font-size="28.00" text-anchor="start" font-weight="normal" fill="#000" font-family='"Liberation Sans", sans-serif' >c</text>
<text x="245.60" y="836.20" font-size="28.00" text-anchor="start" font-weight="normal" fill="#000" font-family='"Liberation Sans", sans-serif' >d</text>
<line x1="328.5" y1="19.5" x2="328.5" y2="147.5" stroke="#fff" stroke-opacity="0.45" stroke-width="1"/>
<line x1="315.3" y1="152.5" x2="315.3" y2="279.5" stroke="#fff" stroke-opacity="0.45" stroke-width="1"/>
<rect x="312.60" y="18.70" width="244.40" height="129.50" fill="none" stroke="#000" stroke-width="1.50"/>
<rect x="312.60" y="151.60" width="244.20" height="128.40" fill="none" stroke="#000" stroke-width="1.50"/>
<rect x="575.50" y="18.70" width="423.30" height="129.00" fill="none" stroke="#000" stroke-width="1.50"/>
<rect x="575.50" y="150.90" width="423.30" height="129.40" fill="none" stroke="#000" stroke-width="1.50"/>
<line x1="306.30" y1="39.30" x2="312.60" y2="39.30" stroke="#000" stroke-width="1.20" />
<line x1="306.30" y1="66.60" x2="312.60" y2="66.60" stroke="#000" stroke-width="1.20" />
<line x1="306.30" y1="93.90" x2="312.60" y2="93.90" stroke="#000" stroke-width="1.20" />
<line x1="306.30" y1="121.20" x2="312.60" y2="121.20" stroke="#000" stroke-width="1.20" />
<text x="301.60" y="44.65" font-size="17.00" text-anchor="end" font-weight="normal" fill="#000" font-family='"Liberation Sans", sans-serif' >800</text>
<text x="301.60" y="71.95" font-size="17.00" text-anchor="end" font-weight="normal" fill="#000" font-family='"Liberation Sans", sans-serif' >700</text>
<text x="301.60" y="99.25" font-size="17.00" text-anchor="end" font-weight="normal" fill="#000" font-family='"Liberation Sans", sans-serif' >600</text>
<text x="301.60" y="126.55" font-size="17.00" text-anchor="end" font-weight="normal" fill="#000" font-family='"Liberation Sans", sans-serif' >500</text>
<line x1="306.30" y1="171.50" x2="312.60" y2="171.50" stroke="#000" stroke-width="1.20" />
<line x1="306.30" y1="198.80" x2="312.60" y2="198.80" stroke="#000" stroke-width="1.20" />
<line x1="306.30" y1="226.10" x2="312.60" y2="226.10" stroke="#000" stroke-width="1.20" />
<line x1="306.30" y1="253.40" x2="312.60" y2="253.40" stroke="#000" stroke-width="1.20" />
<text x="301.60" y="176.85" font-size="17.00" text-anchor="end" font-weight="normal" fill="#000" font-family='"Liberation Sans", sans-serif' >800</text>
<text x="301.60" y="204.15" font-size="17.00" text-anchor="end" font-weight="normal" fill="#000" font-family='"Liberation Sans", sans-serif' >700</text>
<text x="301.60" y="231.45" font-size="17.00" text-anchor="end" font-weight="normal" fill="#000" font-family='"Liberation Sans", sans-serif' >600</text>
<text x="301.60" y="258.75" font-size="17.00" text-anchor="end" font-weight="normal" fill="#000" font-family='"Liberation Sans", sans-serif' >500</text>
<line x1="360.50" y1="280.00" x2="360.50" y2="286.60" stroke="#000" stroke-width="1.20" />
<line x1="409.50" y1="280.00" x2="409.50" y2="286.60" stroke="#000" stroke-width="1.20" />
<line x1="458.50" y1="280.00" x2="458.50" y2="286.60" stroke="#000" stroke-width="1.20" />
<line x1="507.50" y1="280.00" x2="507.50" y2="286.60" stroke="#000" stroke-width="1.20" />
<line x1="556.50" y1="280.00" x2="556.50" y2="286.60" stroke="#000" stroke-width="1.20" />
<line x1="336.00" y1="280.00" x2="336.00" y2="283.40" stroke="#000" stroke-width="1.20" />
<line x1="385.00" y1="280.00" x2="385.00" y2="283.40" stroke="#000" stroke-width="1.20" />
<line x1="434.00" y1="280.00" x2="434.00" y2="283.40" stroke="#000" stroke-width="1.20" />
<line x1="483.00" y1="280.00" x2="483.00" y2="283.40" stroke="#000" stroke-width="1.20" />
<line x1="532.00" y1="280.00" x2="532.00" y2="283.40" stroke="#000" stroke-width="1.20" />
<text x="360.50" y="305.20" font-size="17.00" text-anchor="middle" font-weight="normal" fill="#000" font-family='"Liberation Sans", sans-serif' >5</text>
<text x="409.50" y="305.20" font-size="17.00" text-anchor="middle" font-weight="normal" fill="#000" font-family='"Liberation Sans", sans-serif' >10</text>
<text x="458.50" y="305.20" font-size="17.00" text-anchor="middle" font-weight="normal" fill="#000" font-family='"Liberation Sans", sans-serif' >15</text>
<text x="507.50" y="305.20" font-size="17.00" text-anchor="middle" font-weight="normal" fill="#000" font-family='"Liberation Sans", sans-serif' >20</text>
<text x="556.50" y="305.20" font-size="17.00" text-anchor="middle" font-weight="normal" fill="#000" font-family='"Liberation Sans", sans-serif' >25</text>
<line x1="671.50" y1="280.30" x2="671.50" y2="286.90" stroke="#000" stroke-width="1.20" />
<line x1="767.50" y1="280.30" x2="767.50" y2="286.90" stroke="#000" stroke-width="1.20" />
<line x1="863.50" y1="280.30" x2="863.50" y2="286.90" stroke="#000" stroke-width="1.20" />
<line x1="959.50" y1="280.30" x2="959.50" y2="286.90" stroke="#000" stroke-width="1.20" />
<line x1="623.50" y1="280.30" x2="623.50" y2="283.70" stroke="#000" stroke-width="1.20" />
<line x1="719.50" y1="280.30" x2="719.50" y2="283.70" stroke="#000" stroke-width="1.20" />
<line x1="815.50" y1="280.30" x2="815.50" y2="283.70" stroke="#000" stroke-width="1.20" />
<line x1="911.50" y1="280.30" x2="911.50" y2="283.70" stroke="#000" stroke-width="1.20" />
<text x="671.50" y="305.20" font-size="17.00" text-anchor="middle" font-weight="normal" fill="#000" font-family='"Liberation Sans", sans-serif' >50</text>
<text x="767.50" y="305.20" font-size="17.00" text-anchor="middle" font-weight="normal" fill="#000" font-family='"Liberation Sans", sans-serif' >100</text>
<text x="863.50" y="305.20" font-size="17.00" text-anchor="middle" font-weight="normal" fill="#000" font-family='"Liberation Sans", sans-serif' >150</text>
<text x="959.50" y="305.20" font-size="17.00" text-anchor="middle" font-weight="normal" fill="#000" font-family='"Liberation Sans", sans-serif' >200</text>
<text x="437.80" y="331.70" font-size="21.70" text-anchor="middle" font-weight="normal" fill="#000" font-family='"Liberation Sans", sans-serif' >Time (s)</text>
<text x="790.50" y="331.70" font-size="21.70" text-anchor="middle" font-weight="normal" fill="#000" font-family='"Liberation Sans", sans-serif' >Time (s)</text>
<text x="256.20" y="144.80" font-size="21.70" text-anchor="middle" font-weight="normal" fill="#000" font-family='"Liberation Sans", sans-serif' transform="rotate(-90 256.2 144.8)">Wavelength (nm)</text>
<text x="322.00" y="37.00" font-size="17.00" text-anchor="start" font-weight="bold" fill="#fff" font-family='"Liberation Sans", sans-serif' >Control</text>
<text x="549.80" y="37.10" font-size="17.00" text-anchor="end" font-weight="bold" fill="#fff" font-family='"Liberation Sans", sans-serif' >UV-Vis</text>
<text x="322.00" y="169.80" font-size="17.00" text-anchor="start" font-weight="bold" fill="#fff" font-family='"Liberation Sans", sans-serif' >Target</text>
<text x="552.50" y="169.50" font-size="17.00" text-anchor="end" font-weight="bold" fill="#fff" font-family='"Liberation Sans", sans-serif' >UV-Vis</text>
<rect x="1014.3" y="46.4" width="17.3" height="212.5" fill="url(#cbar)" stroke="#222" stroke-width="1.1"/>
<text x="1021.00" y="36.20" font-size="17.00" text-anchor="middle" font-weight="normal" fill="#000" font-family='"Liberation Sans", sans-serif' >2.0</text>
<text x="1021.50" y="280.00" font-size="17.00" text-anchor="middle" font-weight="normal" fill="#000" font-family='"Liberation Sans", sans-serif' >0</text>
<path d="M311.60 434.50 L312.45 434.56 L313.59 434.63 L314.95 434.72 L316.46 434.81 L318.04 434.92 L319.62 435.04 L321.13 435.17 L322.50 435.30 L323.78 435.47 L325.08 435.68 L326.36 435.92 L327.61 436.16 L328.82 436.38 L329.97 436.56 L331.03 436.67 L332.00 436.70 L332.85 436.64 L333.60 436.51 L334.27 436.33 L334.87 436.10 L335.43 435.83 L335.98 435.54 L336.53 435.22 L337.10 434.90 L337.68 434.56 L338.25 434.20 L338.81 433.81 L339.35 433.40 L339.89 432.96 L340.42 432.50 L340.96 432.01 L341.50 431.50 L342.05 430.99 L342.60 430.48 L343.15 429.97 L343.69 429.42 L344.24 428.82 L344.77 428.15 L345.29 427.38 L345.80 426.50 L346.29 425.48 L346.77 424.34 L347.24 423.09 L347.69 421.78 L348.15 420.42 L348.60 419.05 L349.05 417.70 L349.50 416.40 L349.96 415.11 L350.42 413.77 L350.89 412.43 L351.35 411.09 L351.81 409.77 L352.25 408.51 L352.68 407.31 L353.10 406.20 L353.50 405.17 L353.89 404.20 L354.27 403.29 L354.64 402.43 L354.99 401.62 L355.34 400.87 L355.68 400.16 L356.00 399.50 L356.29 398.91 L356.53 398.40 L356.75 397.94 L356.96 397.54 L357.19 397.16 L357.46 396.79 L357.79 396.41 L358.20 396.00 L358.70 395.55 L359.27 395.06 L359.90 394.57 L360.57 394.08 L361.26 393.63 L361.96 393.23 L362.64 392.91 L363.30 392.70 L363.91 392.63 L364.49 392.71 L365.05 392.88 L365.63 393.10 L366.22 393.32 L366.87 393.49 L367.59 393.57 L368.40 393.50 L369.30 393.29 L370.27 392.97 L371.30 392.58 L372.39 392.13 L373.52 391.65 L374.69 391.15 L375.88 390.66 L377.10 390.20 L378.29 389.79 L379.45 389.40 L380.61 389.03 L381.82 388.64 L383.13 388.22 L384.56 387.74 L386.17 387.17 L388.00 386.50 L389.94 385.76 L391.89 384.97 L393.95 384.14 L396.18 383.23 L398.65 382.22 L401.44 381.11 L404.64 379.88 L408.30 378.50 L412.55 376.92 L417.36 375.14 L422.61 373.20 L428.16 371.17 L433.89 369.10 L439.65 367.05 L445.34 365.06 L450.80 363.20 L456.19 361.42 L461.68 359.67 L467.21 357.93 L472.72 356.24 L478.15 354.59 L483.43 352.99 L488.50 351.46 L493.30 350.00 L497.89 348.60 L502.38 347.25 L506.71 345.95 L510.87 344.71 L514.81 343.53 L518.50 342.44 L521.91 341.42 L525.00 340.50 L527.78 339.67 L530.28 338.92 L532.51 338.25 L534.48 337.66 L536.21 337.14 L537.70 336.69 L538.96 336.31 L540.00 336.00" fill="none" stroke="#000" stroke-width="2.60" stroke-linejoin="round" stroke-linecap="butt" clip-path="url(#clbL)"/>
<path d="M311.60 439.60 L312.00 439.96 L312.53 440.45 L313.17 441.04 L313.88 441.69 L314.61 442.35 L315.35 442.98 L316.06 443.54 L316.70 444.00 L317.28 444.36 L317.83 444.68 L318.37 444.96 L318.90 445.19 L319.43 445.39 L319.97 445.56 L320.52 445.69 L321.10 445.80 L321.69 445.91 L322.29 446.04 L322.90 446.15 L323.52 446.22 L324.15 446.22 L324.81 446.12 L325.49 445.89 L326.20 445.50 L326.96 444.95 L327.78 444.25 L328.63 443.43 L329.49 442.51 L330.35 441.51 L331.19 440.44 L331.98 439.33 L332.70 438.20 L333.35 437.04 L333.95 435.85 L334.50 434.60 L335.03 433.29 L335.54 431.92 L336.05 430.47 L336.56 428.93 L337.10 427.30 L337.66 425.51 L338.22 423.56 L338.79 421.48 L339.35 419.35 L339.91 417.21 L340.46 415.12 L340.99 413.13 L341.50 411.30 L341.99 409.59 L342.46 407.93 L342.91 406.34 L343.35 404.81 L343.79 403.37 L344.22 402.01 L344.66 400.75 L345.10 399.60 L345.55 398.57 L346.02 397.64 L346.48 396.82 L346.94 396.08 L347.40 395.42 L347.85 394.83 L348.28 394.29 L348.70 393.80 L349.08 393.36 L349.42 392.98 L349.74 392.67 L350.06 392.43 L350.38 392.24 L350.74 392.10 L351.14 392.03 L351.60 392.00 L352.13 392.08 L352.70 392.28 L353.32 392.57 L353.97 392.90 L354.64 393.23 L355.32 393.52 L356.01 393.72 L356.70 393.80 L357.36 393.75 L357.98 393.62 L358.60 393.42 L359.23 393.17 L359.91 392.88 L360.67 392.58 L361.52 392.28 L362.50 392.00 L363.60 391.73 L364.80 391.47 L366.09 391.20 L367.46 390.91 L368.89 390.61 L370.38 390.27 L371.92 389.91 L373.50 389.50 L375.11 389.06 L376.74 388.60 L378.43 388.12 L380.17 387.61 L381.98 387.05 L383.89 386.46 L385.89 385.81 L388.00 385.10 L390.11 384.37 L392.15 383.64 L394.21 382.87 L396.40 382.06 L398.81 381.16 L401.53 380.15 L404.66 379.00 L408.30 377.70 L412.55 376.18 L417.36 374.46 L422.61 372.58 L428.16 370.60 L433.89 368.58 L439.65 366.57 L445.34 364.62 L450.80 362.80 L456.27 361.04 L461.96 359.26 L467.74 357.50 L473.47 355.77 L479.03 354.11 L484.28 352.54 L489.08 351.10 L493.30 349.80 L496.87 348.68 L499.89 347.71 L502.48 346.87 L504.74 346.12 L506.81 345.44 L508.80 344.78 L510.82 344.11 L513.00 343.40 L515.37 342.64 L517.84 341.85 L520.32 341.06 L522.73 340.30 L524.99 339.59 L527.01 338.95 L528.71 338.41 L530.00 338.00" fill="none" stroke="#d40000" stroke-width="2.60" stroke-linejoin="round" stroke-linecap="butt" clip-path="url(#clbL)"/>
<rect x="311.50" y="342.40" width="248.00" height="119.40" fill="none" stroke="#000" stroke-width="2.10"/>
<line x1="360.90" y1="461.80" x2="360.90" y2="457.80" stroke="#000" stroke-width="1.80" />
<line x1="410.50" y1="461.80" x2="410.50" y2="457.80" stroke="#000" stroke-width="1.80" />
<line x1="460.10" y1="461.80" x2="460.10" y2="457.80" stroke="#000" stroke-width="1.80" />
<line x1="509.70" y1="461.80" x2="509.70" y2="457.80" stroke="#000" stroke-width="1.80" />
<line x1="336.10" y1="461.80" x2="336.10" y2="459.60" stroke="#000" stroke-width="1.50" />
<line x1="385.70" y1="461.80" x2="385.70" y2="459.60" stroke="#000" stroke-width="1.50" />
<line x1="435.30" y1="461.80" x2="435.30" y2="459.60" stroke="#000" stroke-width="1.50" />
<line x1="484.90" y1="461.80" x2="484.90" y2="459.60" stroke="#000" stroke-width="1.50" />
<line x1="534.50" y1="461.80" x2="534.50" y2="459.60" stroke="#000" stroke-width="1.50" />
<text x="311.30" y="481.40" font-size="17.00" text-anchor="middle" font-weight="normal" fill="#000" font-family='"Liberation Sans", sans-serif' >0</text>
<text x="360.90" y="481.40" font-size="17.00" text-anchor="middle" font-weight="normal" fill="#000" font-family='"Liberation Sans", sans-serif' >5</text>
<text x="410.50" y="481.40" font-size="17.00" text-anchor="middle" font-weight="normal" fill="#000" font-family='"Liberation Sans", sans-serif' >10</text>
<text x="460.10" y="481.40" font-size="17.00" text-anchor="middle" font-weight="normal" fill="#000" font-family='"Liberation Sans", sans-serif' >15</text>
<text x="509.70" y="481.40" font-size="17.00" text-anchor="middle" font-weight="normal" fill="#000" font-family='"Liberation Sans", sans-serif' >20</text>
<text x="559.30" y="481.40" font-size="17.00" text-anchor="middle" font-weight="normal" fill="#000" font-family='"Liberation Sans", sans-serif' >25</text>
<line x1="305.50" y1="440.50" x2="311.50" y2="440.50" stroke="#000" stroke-width="1.90" />
<line x1="305.50" y1="405.55" x2="311.50" y2="405.55" stroke="#000" stroke-width="1.90" />
<line x1="305.50" y1="370.60" x2="311.50" y2="370.60" stroke="#000" stroke-width="1.90" />
<text x="299.60" y="447.90" font-size="17.00" text-anchor="end" font-weight="normal" fill="#000" font-family='"Liberation Sans", sans-serif' >0.5</text>
<text x="299.60" y="412.95" font-size="17.00" text-anchor="end" font-weight="normal" fill="#000" font-family='"Liberation Sans", sans-serif' >1.0</text>
<text x="299.60" y="378.00" font-size="17.00" text-anchor="end" font-weight="normal" fill="#000" font-family='"Liberation Sans", sans-serif' >1.5</text>
<text x="437.80" y="505.50" font-size="21.70" text-anchor="middle" font-weight="normal" fill="#000" font-family='"Liberation Sans", sans-serif' >Time (s)</text>
<text x="317.00" y="361.20" font-size="17.00" text-anchor="start" font-weight="normal" fill="#000" font-family='"Liberation Sans", sans-serif' >Spin-coating</text>
<text x="256.20" y="403.90" font-size="21.70" text-anchor="middle" font-weight="normal" fill="#000" font-family='"Liberation Sans", sans-serif' transform="rotate(-90 256.2 403.9)">Abs. (a.u.)</text>
<line x1="452.60" y1="423.30" x2="479.80" y2="423.30" stroke="#000" stroke-width="4.00" />
<text x="487.60" y="428.60" font-size="16.70" text-anchor="start" font-weight="normal" fill="#000" font-family='"Liberation Sans", sans-serif' >Control</text>
<line x1="452.60" y1="444.20" x2="479.80" y2="444.20" stroke="#d40000" stroke-width="3.80" />
<text x="487.60" y="449.40" font-size="16.70" text-anchor="start" font-weight="normal" fill="#000" font-family='"Liberation Sans", sans-serif' >Target</text>
<line x1="628.70" y1="413.50" x2="628.70" y2="462.20" stroke="#000" stroke-width="1.70" stroke-dasharray="5 3"/>
<line x1="747.10" y1="420.50" x2="747.10" y2="462.20" stroke="#c8c8c8" stroke-width="1.70" stroke-dasharray="5 3"/>
<line x1="816.00" y1="413.50" x2="816.00" y2="462.20" stroke="#f39c1e" stroke-width="1.70" stroke-dasharray="5 3"/>
<path d="M591.00 475.00 L591.49 474.15 L592.16 473.15 L592.96 471.99 L593.84 470.61 L594.74 468.98 L595.61 467.06 L596.38 464.82 L597.00 462.20 L597.48 459.12 L597.86 455.58 L598.17 451.67 L598.44 447.49 L598.68 443.13 L598.92 438.70 L599.19 434.29 L599.50 430.00 L599.86 425.58 L600.24 420.84 L600.63 415.95 L601.02 411.06 L601.42 406.36 L601.80 402.00 L602.16 398.16 L602.50 395.00 L602.80 392.53 L603.06 390.60 L603.30 389.12 L603.53 388.01 L603.76 387.21 L604.00 386.62 L604.28 386.18 L604.60 385.80 L604.95 385.57 L605.31 385.62 L605.69 385.88 L606.09 386.33 L606.51 386.90 L606.97 387.57 L607.47 388.29 L608.00 389.00 L608.60 389.79 L609.26 390.72 L609.97 391.76 L610.71 392.86 L611.46 393.97 L612.18 395.06 L612.87 396.09 L613.50 397.00 L614.07 397.81 L614.61 398.56 L615.11 399.27 L615.60 399.94 L616.07 400.58 L616.54 401.22 L617.02 401.85 L617.50 402.50 L617.99 403.16 L618.49 403.83 L618.98 404.49 L619.47 405.14 L619.96 405.77 L620.45 406.38 L620.93 406.96 L621.40 407.50 L621.86 408.00 L622.30 408.48 L622.74 408.92 L623.17 409.34 L623.61 409.73 L624.06 410.11 L624.52 410.46 L625.00 410.80 L625.47 411.11 L625.91 411.39 L626.34 411.65 L626.79 411.88 L627.29 412.11 L627.86 412.33 L628.52 412.56 L629.30 412.80 L630.12 413.05 L630.94 413.32 L631.79 413.58 L632.74 413.84 L633.84 414.10 L635.15 414.35 L636.71 414.58 L638.60 414.80 L640.91 415.00 L643.65 415.20 L646.70 415.39 L649.93 415.56 L653.22 415.72 L656.46 415.87 L659.53 415.99 L662.30 416.10 L664.73 416.16 L666.91 416.17 L668.92 416.15 L670.88 416.11 L672.87 416.09 L674.99 416.10 L677.34 416.16 L680.00 416.30 L683.05 416.52 L686.43 416.79 L690.03 417.12 L693.76 417.48 L697.52 417.86 L701.21 418.25 L704.74 418.64 L708.00 419.00 L711.01 419.38 L713.86 419.82 L716.59 420.28 L719.23 420.72 L721.81 421.14 L724.38 421.49 L726.96 421.76 L729.60 421.90 L732.26 421.92 L734.89 421.84 L737.51 421.67 L740.13 421.44 L742.76 421.16 L745.40 420.85 L748.08 420.53 L750.80 420.20 L753.53 419.87 L756.24 419.51 L758.96 419.12 L761.71 418.71 L764.51 418.27 L767.40 417.81 L770.38 417.32 L773.50 416.80 L776.83 416.23 L780.38 415.59 L784.08 414.91 L787.83 414.21 L791.56 413.52 L795.19 412.85 L798.63 412.24 L801.80 411.70 L804.62 411.24 L807.15 410.84 L809.47 410.48 L811.69 410.16 L813.92 409.85 L816.24 409.55 L818.77 409.23 L821.60 408.90 L824.74 408.54 L828.10 408.16 L831.62 407.78 L835.27 407.40 L838.98 407.03 L842.71 406.69 L846.40 406.37 L850.00 406.10 L853.54 405.85 L857.08 405.61 L860.62 405.39 L864.16 405.20 L867.69 405.05 L871.23 404.94 L874.76 404.89 L878.30 404.90 L881.84 405.00 L885.37 405.18 L888.91 405.42 L892.44 405.70 L895.98 406.01 L899.52 406.32 L903.06 406.63 L906.60 406.90 L910.15 407.17 L913.70 407.46 L917.25 407.76 L920.80 408.06 L924.35 408.34 L927.90 408.58 L931.45 408.77 L935.00 408.90 L938.50 408.95 L941.94 408.95 L945.36 408.90 L948.79 408.81 L952.26 408.70 L955.81 408.57 L959.48 408.43 L963.30 408.30 L967.53 408.15 L972.24 407.97 L977.20 407.77 L982.17 407.56 L986.92 407.36 L991.22 407.17 L994.82 407.01 L997.50 406.90" fill="none" stroke="#000" stroke-width="2.60" stroke-linejoin="round" stroke-linecap="butt" clip-path="url(#clbR)"/>
<path d="M587.00 475.00 L587.38 474.21 L587.91 473.39 L588.54 472.43 L589.23 471.24 L589.94 469.72 L590.64 467.77 L591.27 465.29 L591.80 462.20 L592.24 458.32 L592.63 453.67 L592.98 448.43 L593.29 442.80 L593.59 436.96 L593.89 431.08 L594.19 425.37 L594.50 420.00 L594.82 414.71 L595.14 409.21 L595.46 403.64 L595.77 398.16 L596.09 392.90 L596.39 388.03 L596.70 383.68 L597.00 380.00 L597.29 376.99 L597.56 374.52 L597.82 372.52 L598.08 370.92 L598.34 369.66 L598.63 368.68 L598.95 367.92 L599.30 367.30 L599.68 366.93 L600.06 366.92 L600.46 367.20 L600.88 367.72 L601.34 368.42 L601.84 369.23 L602.39 370.11 L603.00 371.00 L603.70 371.98 L604.49 373.16 L605.34 374.48 L606.23 375.88 L607.12 377.30 L608.00 378.70 L608.84 380.02 L609.60 381.20 L610.29 382.25 L610.93 383.23 L611.53 384.15 L612.11 385.04 L612.69 385.90 L613.27 386.75 L613.87 387.61 L614.50 388.50 L615.16 389.42 L615.84 390.36 L616.54 391.31 L617.24 392.26 L617.95 393.18 L618.66 394.07 L619.38 394.92 L620.10 395.70 L620.81 396.43 L621.52 397.12 L622.23 397.78 L622.94 398.40 L623.67 398.98 L624.42 399.52 L625.19 400.03 L626.00 400.50 L626.81 400.93 L627.59 401.32 L628.38 401.68 L629.19 402.00 L630.07 402.28 L631.03 402.52 L632.10 402.73 L633.30 402.90 L634.65 403.02 L636.12 403.10 L637.70 403.13 L639.37 403.13 L641.10 403.10 L642.88 403.05 L644.69 402.98 L646.50 402.90 L648.32 402.80 L650.17 402.67 L652.06 402.51 L653.99 402.33 L655.97 402.14 L658.01 401.96 L660.12 401.77 L662.30 401.60 L664.44 401.44 L666.49 401.27 L668.53 401.10 L670.66 400.93 L672.99 400.77 L675.61 400.60 L678.61 400.45 L682.10 400.30 L686.25 400.14 L691.04 399.96 L696.27 399.78 L701.77 399.60 L707.33 399.45 L712.77 399.34 L717.89 399.28 L722.50 399.30 L726.65 399.38 L730.56 399.51 L734.24 399.69 L737.76 399.92 L741.13 400.18 L744.40 400.49 L747.61 400.83 L750.80 401.20 L753.87 401.61 L756.74 402.07 L759.48 402.58 L762.15 403.11 L764.82 403.68 L767.56 404.27 L770.43 404.88 L773.50 405.50 L776.83 406.17 L780.38 406.93 L784.08 407.72 L787.83 408.53 L791.56 409.32 L795.19 410.04 L798.63 410.68 L801.80 411.20 L804.62 411.61 L807.15 411.95 L809.47 412.23 L811.69 412.44 L813.92 412.58 L816.24 412.65 L818.77 412.66 L821.60 412.60 L824.74 412.44 L828.10 412.18 L831.62 411.82 L835.27 411.41 L838.98 410.97 L842.71 410.52 L846.40 410.09 L850.00 409.70 L853.54 409.35 L857.08 408.99 L860.62 408.64 L864.16 408.29 L867.69 407.95 L871.23 407.60 L874.76 407.25 L878.30 406.90 L881.84 406.56 L885.37 406.22 L888.91 405.89 L892.44 405.56 L895.98 405.22 L899.52 404.86 L903.06 404.49 L906.60 404.10 L910.15 403.66 L913.70 403.17 L917.25 402.64 L920.80 402.11 L924.35 401.60 L927.90 401.13 L931.45 400.72 L935.00 400.40 L938.57 400.19 L942.18 400.07 L945.80 400.02 L949.42 400.01 L953.00 400.01 L956.52 399.99 L959.96 399.93 L963.30 399.80 L966.61 399.56 L969.95 399.23 L973.26 398.84 L976.49 398.44 L979.57 398.07 L982.46 397.78 L985.09 397.61 L987.40 397.60 L989.40 397.80 L991.15 398.18 L992.66 398.68 L993.96 399.26 L995.07 399.86 L996.01 400.42 L996.82 400.88 L997.50 401.20" fill="none" stroke="#d40000" stroke-width="2.60" stroke-linejoin="round" stroke-linecap="butt" clip-path="url(#clbR)"/>
<rect x="575.00" y="342.30" width="422.30" height="119.90" fill="none" stroke="#000" stroke-width="2.10"/>
<line x1="670.66" y1="462.20" x2="670.66" y2="458.20" stroke="#000" stroke-width="1.80" />
<line x1="766.97" y1="462.20" x2="766.97" y2="458.20" stroke="#000" stroke-width="1.80" />
<line x1="863.29" y1="462.20" x2="863.29" y2="458.20" stroke="#000" stroke-width="1.80" />
<line x1="959.60" y1="462.20" x2="959.60" y2="458.20" stroke="#000" stroke-width="1.80" />
<line x1="622.50" y1="462.20" x2="622.50" y2="460.00" stroke="#000" stroke-width="1.50" />
<line x1="718.81" y1="462.20" x2="718.81" y2="460.00" stroke="#000" stroke-width="1.50" />
<line x1="815.13" y1="462.20" x2="815.13" y2="460.00" stroke="#000" stroke-width="1.50" />
<line x1="911.44" y1="462.20" x2="911.44" y2="460.00" stroke="#000" stroke-width="1.50" />
<text x="670.66" y="481.40" font-size="17.00" text-anchor="middle" font-weight="normal" fill="#000" font-family='"Liberation Sans", sans-serif' >50</text>
<text x="766.97" y="481.40" font-size="17.00" text-anchor="middle" font-weight="normal" fill="#000" font-family='"Liberation Sans", sans-serif' >100</text>
<text x="863.29" y="481.40" font-size="17.00" text-anchor="middle" font-weight="normal" fill="#000" font-family='"Liberation Sans", sans-serif' >150</text>
<text x="959.60" y="481.40" font-size="17.00" text-anchor="middle" font-weight="normal" fill="#000" font-family='"Liberation Sans", sans-serif' >200</text>
<line x1="997.30" y1="342.30" x2="1001.80" y2="342.30" stroke="#000" stroke-width="1.90" />
<line x1="997.30" y1="462.20" x2="1001.80" y2="462.20" stroke="#000" stroke-width="1.90" />
<text x="1004.00" y="348.40" font-size="17.00" text-anchor="start" font-weight="normal" fill="#000" font-family='"Liberation Sans", sans-serif' >1.6</text>
<text x="1004.00" y="468.30" font-size="17.00" text-anchor="start" font-weight="normal" fill="#000" font-family='"Liberation Sans", sans-serif' >1.0</text>
<text x="790.50" y="505.50" font-size="21.70" text-anchor="middle" font-weight="normal" fill="#000" font-family='"Liberation Sans", sans-serif' >Time (s)</text>
<text x="985.80" y="361.20" font-size="17.00" text-anchor="end" font-weight="normal" fill="#000" font-family='"Liberation Sans", sans-serif' >Annealing</text>
<line x1="895.90" y1="430.40" x2="922.20" y2="430.40" stroke="#000" stroke-width="4.00" />
<text x="929.80" y="436.00" font-size="16.70" text-anchor="start" font-weight="normal" fill="#000" font-family='"Liberation Sans", sans-serif' >Control</text>
<line x1="895.90" y1="447.40" x2="922.20" y2="447.40" stroke="#d40000" stroke-width="3.80" />
<text x="929.80" y="453.00" font-size="16.70" text-anchor="start" font-weight="normal" fill="#000" font-family='"Liberation Sans", sans-serif' >Target</text>
<rect x="310.40" y="520.20" width="244.20" height="129.70" fill="none" stroke="#000" stroke-width="1.50"/>
<rect x="310.40" y="651.40" width="244.20" height="129.60" fill="none" stroke="#000" stroke-width="1.50"/>
<rect x="573.60" y="520.30" width="422.90" height="129.00" fill="none" stroke="#000" stroke-width="1.50"/>
<rect x="574.50" y="652.90" width="422.60" height="126.40" fill="none" stroke="#000" stroke-width="1.50"/>
<line x1="304.40" y1="538.90" x2="310.40" y2="538.90" stroke="#000" stroke-width="1.20" />
<line x1="304.40" y1="575.90" x2="310.40" y2="575.90" stroke="#000" stroke-width="1.20" />
<line x1="304.40" y1="612.60" x2="310.40" y2="612.60" stroke="#000" stroke-width="1.20" />
<text x="301.20" y="544.25" font-size="17.00" text-anchor="end" font-weight="normal" fill="#000" font-family='"Liberation Sans", sans-serif' >850</text>
<text x="301.20" y="581.25" font-size="17.00" text-anchor="end" font-weight="normal" fill="#000" font-family='"Liberation Sans", sans-serif' >800</text>
<text x="301.20" y="617.95" font-size="17.00" text-anchor="end" font-weight="normal" fill="#000" font-family='"Liberation Sans", sans-serif' >750</text>
<line x1="304.40" y1="670.30" x2="310.40" y2="670.30" stroke="#000" stroke-width="1.20" />
<line x1="304.40" y1="707.70" x2="310.40" y2="707.70" stroke="#000" stroke-width="1.20" />
<line x1="304.40" y1="744.70" x2="310.40" y2="744.70" stroke="#000" stroke-width="1.20" />
<text x="301.20" y="675.65" font-size="17.00" text-anchor="end" font-weight="normal" fill="#000" font-family='"Liberation Sans", sans-serif' >850</text>
<text x="301.20" y="713.05" font-size="17.00" text-anchor="end" font-weight="normal" fill="#000" font-family='"Liberation Sans", sans-serif' >800</text>
<text x="301.20" y="750.05" font-size="17.00" text-anchor="end" font-weight="normal" fill="#000" font-family='"Liberation Sans", sans-serif' >750</text>
<line x1="359.10" y1="781.00" x2="359.10" y2="787.60" stroke="#000" stroke-width="1.20" />
<line x1="408.10" y1="781.00" x2="408.10" y2="787.60" stroke="#000" stroke-width="1.20" />
<line x1="457.10" y1="781.00" x2="457.10" y2="787.60" stroke="#000" stroke-width="1.20" />
<line x1="506.10" y1="781.00" x2="506.10" y2="787.60" stroke="#000" stroke-width="1.20" />
<line x1="555.10" y1="781.00" x2="555.10" y2="787.60" stroke="#000" stroke-width="1.20" />
<line x1="334.60" y1="781.00" x2="334.60" y2="784.40" stroke="#000" stroke-width="1.20" />
<line x1="383.60" y1="781.00" x2="383.60" y2="784.40" stroke="#000" stroke-width="1.20" />
<line x1="432.60" y1="781.00" x2="432.60" y2="784.40" stroke="#000" stroke-width="1.20" />
<line x1="481.60" y1="781.00" x2="481.60" y2="784.40" stroke="#000" stroke-width="1.20" />
<line x1="530.60" y1="781.00" x2="530.60" y2="784.40" stroke="#000" stroke-width="1.20" />
<text x="359.10" y="806.00" font-size="17.00" text-anchor="middle" font-weight="normal" fill="#000" font-family='"Liberation Sans", sans-serif' >5</text>
<text x="408.10" y="806.00" font-size="17.00" text-anchor="middle" font-weight="normal" fill="#000" font-family='"Liberation Sans", sans-serif' >10</text>
<text x="457.10" y="806.00" font-size="17.00" text-anchor="middle" font-weight="normal" fill="#000" font-family='"Liberation Sans", sans-serif' >15</text>
<text x="506.10" y="806.00" font-size="17.00" text-anchor="middle" font-weight="normal" fill="#000" font-family='"Liberation Sans", sans-serif' >20</text>
<text x="555.10" y="806.00" font-size="17.00" text-anchor="middle" font-weight="normal" fill="#000" font-family='"Liberation Sans", sans-serif' >25</text>
<line x1="670.50" y1="779.30" x2="670.50" y2="785.90" stroke="#000" stroke-width="1.20" />
<line x1="766.50" y1="779.30" x2="766.50" y2="785.90" stroke="#000" stroke-width="1.20" />
<line x1="862.50" y1="779.30" x2="862.50" y2="785.90" stroke="#000" stroke-width="1.20" />
<line x1="958.50" y1="779.30" x2="958.50" y2="785.90" stroke="#000" stroke-width="1.20" />
<line x1="622.50" y1="779.30" x2="622.50" y2="782.70" stroke="#000" stroke-width="1.20" />
<line x1="718.50" y1="779.30" x2="718.50" y2="782.70" stroke="#000" stroke-width="1.20" />
<line x1="814.50" y1="779.30" x2="814.50" y2="782.70" stroke="#000" stroke-width="1.20" />
<line x1="910.50" y1="779.30" x2="910.50" y2="782.70" stroke="#000" stroke-width="1.20" />
<text x="670.50" y="806.00" font-size="17.00" text-anchor="middle" font-weight="normal" fill="#000" font-family='"Liberation Sans", sans-serif' >50</text>
<text x="766.50" y="806.00" font-size="17.00" text-anchor="middle" font-weight="normal" fill="#000" font-family='"Liberation Sans", sans-serif' >100</text>
<text x="862.50" y="806.00" font-size="17.00" text-anchor="middle" font-weight="normal" fill="#000" font-family='"Liberation Sans", sans-serif' >150</text>
<text x="958.50" y="806.00" font-size="17.00" text-anchor="middle" font-weight="normal" fill="#000" font-family='"Liberation Sans", sans-serif' >200</text>
<text x="437.80" y="832.00" font-size="21.70" text-anchor="middle" font-weight="normal" fill="#000" font-family='"Liberation Sans", sans-serif' >Time (s)</text>
<text x="790.50" y="832.00" font-size="21.70" text-anchor="middle" font-weight="normal" fill="#000" font-family='"Liberation Sans", sans-serif' >Time (s)</text>
<text x="256.20" y="649.60" font-size="21.70" text-anchor="middle" font-weight="normal" fill="#000" font-family='"Liberation Sans", sans-serif' transform="rotate(-90 256.2 649.6)">Wavelength (nm)</text>
<text x="319.20" y="538.50" font-size="17.00" text-anchor="start" font-weight="bold" fill="#fff" font-family='"Liberation Sans", sans-serif' >Control</text>
<text x="547.20" y="538.30" font-size="17.00" text-anchor="end" font-weight="bold" fill="#fff" font-family='"Liberation Sans", sans-serif' >PL</text>
<text x="320.00" y="671.00" font-size="17.00" text-anchor="start" font-weight="bold" fill="#fff" font-family='"Liberation Sans", sans-serif' >Target</text>
<text x="549.20" y="670.80" font-size="17.00" text-anchor="end" font-weight="bold" fill="#fff" font-family='"Liberation Sans", sans-serif' >PL</text>
<text x="598.00" y="542.40" font-size="22.00" text-anchor="middle" font-weight="normal" fill="#fff" font-family='"Liberation Serif", serif' >I</text>
<text x="685.50" y="542.40" font-size="22.00" text-anchor="middle" font-weight="normal" fill="#fff" font-family='"Liberation Serif", serif' >II</text>
<text x="877.20" y="542.40" font-size="22.00" text-anchor="middle" font-weight="normal" fill="#fff" font-family='"Liberation Serif", serif' >III</text>
<text x="598.00" y="674.90" font-size="22.00" text-anchor="middle" font-weight="normal" fill="#fff" font-family='"Liberation Serif", serif' >I</text>
<text x="721.30" y="674.90" font-size="22.00" text-anchor="middle" font-weight="normal" fill="#fff" font-family='"Liberation Serif", serif' >II</text>
<text x="908.10" y="674.90" font-size="22.00" text-anchor="middle" font-weight="normal" fill="#fff" font-family='"Liberation Serif", serif' >III</text>
<rect x="1014.4" y="547.4" width="17" height="211.6" fill="url(#cbar)" stroke="#222" stroke-width="1.1"/>
<text x="1021.00" y="537.00" font-size="17.00" text-anchor="middle" font-weight="normal" fill="#000" font-family='"Liberation Sans", sans-serif' >4300</text>
<text x="1021.00" y="778.80" font-size="17.00" text-anchor="middle" font-weight="normal" fill="#000" font-family='"Liberation Sans", sans-serif' >3100</text>
<line x1="747.30" y1="523.90" x2="747.30" y2="649.30" stroke="#d2d2d2" stroke-width="2.00" stroke-dasharray="5.7 4.1"/>
<line x1="816.10" y1="655.20" x2="816.10" y2="779.30" stroke="#f08c1e" stroke-width="2.00" stroke-dasharray="5.7 4.1"/>
<line x1="628.80" y1="520.30" x2="628.80" y2="964.20" stroke="#000" stroke-width="1.90" stroke-dasharray="5.5 2.8"/>
<path d="M313.50 957.00 L313.95 957.00 L314.55 957.06 L315.26 957.13 L316.06 957.18 L316.89 957.17 L317.71 957.06 L318.50 956.82 L319.20 956.40 L319.79 955.81 L320.30 955.10 L320.77 954.27 L321.24 953.33 L321.74 952.29 L322.33 951.16 L323.03 949.96 L323.90 948.70 L324.96 947.31 L326.18 945.77 L327.53 944.11 L328.96 942.38 L330.42 940.63 L331.88 938.91 L333.28 937.25 L334.60 935.70 L335.88 934.23 L337.18 932.79 L338.48 931.37 L339.74 929.99 L340.96 928.67 L342.09 927.41 L343.11 926.21 L344.00 925.10 L344.72 924.08 L345.28 923.16 L345.73 922.31 L346.09 921.52 L346.42 920.77 L346.76 920.04 L347.14 919.33 L347.60 918.60 L348.15 917.91 L348.75 917.29 L349.39 916.71 L350.03 916.14 L350.66 915.54 L351.27 914.89 L351.82 914.16 L352.30 913.30 L352.70 912.44 L353.04 911.66 L353.33 910.87 L353.59 909.99 L353.84 908.92 L354.07 907.60 L354.32 905.92 L354.60 903.80 L354.90 901.00 L355.22 897.48 L355.55 893.51 L355.87 889.32 L356.18 885.17 L356.48 881.32 L356.76 878.01 L357.00 875.50 L357.20 873.74 L357.37 872.48 L357.51 871.64 L357.64 871.15 L357.76 870.94 L357.89 870.95 L358.03 871.09 L358.20 871.30 L358.40 871.53 L358.61 871.82 L358.84 872.25 L359.07 872.89 L359.31 873.82 L359.54 875.09 L359.78 876.80 L360.00 879.00 L360.21 881.77 L360.42 885.08 L360.61 888.83 L360.81 892.92 L361.02 897.27 L361.23 901.77 L361.45 906.35 L361.70 910.90 L361.96 915.79 L362.22 921.25 L362.50 927.03 L362.79 932.84 L363.09 938.43 L363.41 943.51 L363.74 947.83 L364.10 951.10 L364.39 953.21 L364.56 954.35 L364.70 954.75 L364.89 954.63 L365.19 954.22 L365.69 953.75 L366.47 953.43 L367.60 953.50 L368.07 953.86 L367.37 954.27 L366.34 954.70 L365.81 955.12 L366.61 955.53 L369.59 955.90 L375.57 956.19 L385.40 956.40 L400.92 956.51 L422.12 956.52 L447.06 956.47 L473.81 956.38 L500.42 956.27 L524.95 956.15 L545.46 956.05 L560.00 956.00" fill="none" stroke="#000" stroke-width="2.60" stroke-linejoin="round" stroke-linecap="butt" clip-path="url(#cldL)"/>
<path d="M313.50 957.00 L314.22 955.86 L315.20 954.28 L316.37 952.40 L317.66 950.34 L319.00 948.23 L320.33 946.18 L321.59 944.33 L322.70 942.80 L323.72 941.60 L324.72 940.61 L325.70 939.77 L326.64 939.02 L327.53 938.31 L328.36 937.55 L329.12 936.71 L329.80 935.70 L330.38 934.65 L330.87 933.66 L331.28 932.66 L331.63 931.58 L331.94 930.36 L332.23 928.91 L332.51 927.19 L332.80 925.10 L333.09 922.45 L333.34 919.20 L333.58 915.57 L333.80 911.77 L334.01 908.01 L334.21 904.51 L334.40 901.46 L334.60 899.10 L334.79 897.37 L334.98 896.04 L335.15 895.08 L335.32 894.42 L335.49 894.01 L335.65 893.81 L335.82 893.76 L336.00 893.80 L336.18 893.90 L336.36 894.08 L336.54 894.41 L336.73 894.94 L336.91 895.74 L337.10 896.86 L337.30 898.36 L337.50 900.30 L337.71 902.84 L337.92 906.00 L338.13 909.61 L338.35 913.51 L338.58 917.53 L338.81 921.51 L339.05 925.29 L339.30 928.70 L339.51 931.92 L339.64 935.19 L339.76 938.41 L339.89 941.51 L340.10 944.41 L340.42 947.03 L340.91 949.29 L341.60 951.10 L342.38 952.38 L343.16 953.18 L344.01 953.60 L345.03 953.74 L346.28 953.71 L347.85 953.63 L349.83 953.59 L352.30 953.70 L354.40 953.92 L355.68 954.12 L356.85 954.30 L358.61 954.45 L361.64 954.57 L366.65 954.66 L374.34 954.70 L385.40 954.70 L401.65 954.63 L423.19 954.49 L448.18 954.29 L474.77 954.06 L501.09 953.83 L525.31 953.61 L545.56 953.42 L560.00 953.30" fill="none" stroke="#d40000" stroke-width="2.60" stroke-linejoin="round" stroke-linecap="butt" clip-path="url(#cldL)"/>
<rect x="312.00" y="845.20" width="247.80" height="119.20" fill="none" stroke="#000" stroke-width="2.10"/>
<line x1="361.70" y1="964.40" x2="361.70" y2="960.40" stroke="#000" stroke-width="1.80" />
<line x1="411.70" y1="964.40" x2="411.70" y2="960.40" stroke="#000" stroke-width="1.80" />
<line x1="461.70" y1="964.40" x2="461.70" y2="960.40" stroke="#000" stroke-width="1.80" />
<line x1="511.70" y1="964.40" x2="511.70" y2="960.40" stroke="#000" stroke-width="1.80" />
<line x1="336.70" y1="964.40" x2="336.70" y2="962.20" stroke="#000" stroke-width="1.50" />
<line x1="386.70" y1="964.40" x2="386.70" y2="962.20" stroke="#000" stroke-width="1.50" />
<line x1="436.70" y1="964.40" x2="436.70" y2="962.20" stroke="#000" stroke-width="1.50" />
<line x1="486.70" y1="964.40" x2="486.70" y2="962.20" stroke="#000" stroke-width="1.50" />
<line x1="536.70" y1="964.40" x2="536.70" y2="962.20" stroke="#000" stroke-width="1.50" />
<text x="361.70" y="983.80" font-size="17.00" text-anchor="middle" font-weight="normal" fill="#000" font-family='"Liberation Sans", sans-serif' >5</text>
<text x="411.70" y="983.80" font-size="17.00" text-anchor="middle" font-weight="normal" fill="#000" font-family='"Liberation Sans", sans-serif' >10</text>
<text x="461.70" y="983.80" font-size="17.00" text-anchor="middle" font-weight="normal" fill="#000" font-family='"Liberation Sans", sans-serif' >15</text>
<text x="511.70" y="983.80" font-size="17.00" text-anchor="middle" font-weight="normal" fill="#000" font-family='"Liberation Sans", sans-serif' >20</text>
<text x="561.70" y="983.80" font-size="17.00" text-anchor="middle" font-weight="normal" fill="#000" font-family='"Liberation Sans", sans-serif' >25</text>
<line x1="306.50" y1="845.20" x2="312.00" y2="845.20" stroke="#000" stroke-width="1.90" />
<line x1="306.50" y1="904.80" x2="312.00" y2="904.80" stroke="#000" stroke-width="1.90" />
<line x1="306.50" y1="964.40" x2="312.00" y2="964.40" stroke="#000" stroke-width="1.90" />
<text x="302.60" y="851.30" font-size="17.00" text-anchor="end" font-weight="normal" fill="#000" font-family='"Liberation Sans", sans-serif' >40k</text>
<text x="302.60" y="911.00" font-size="17.00" text-anchor="end" font-weight="normal" fill="#000" font-family='"Liberation Sans", sans-serif' >20k</text>
<text x="302.60" y="970.80" font-size="17.00" text-anchor="end" font-weight="normal" fill="#000" font-family='"Liberation Sans", sans-serif' >0</text>
<text x="437.80" y="1008.00" font-size="21.70" text-anchor="middle" font-weight="normal" fill="#000" font-family='"Liberation Sans", sans-serif' >Time (s)</text>
<text x="316.50" y="862.80" font-size="17.00" text-anchor="start" font-weight="normal" fill="#000" font-family='"Liberation Sans", sans-serif' >Spin-coating</text>
<text x="256.20" y="907.40" font-size="21.70" text-anchor="middle" font-weight="normal" fill="#000" font-family='"Liberation Sans", sans-serif' transform="rotate(-90 256.2 907.4)">PL intensity</text>
<line x1="455.70" y1="917.10" x2="483.00" y2="917.10" stroke="#000" stroke-width="4.00" />
<text x="491.50" y="922.80" font-size="16.70" text-anchor="start" font-weight="normal" fill="#000" font-family='"Liberation Sans", sans-serif' >Control</text>
<line x1="455.70" y1="938.00" x2="483.00" y2="938.00" stroke="#d40000" stroke-width="3.80" />
<text x="491.50" y="943.60" font-size="16.70" text-anchor="start" font-weight="normal" fill="#000" font-family='"Liberation Sans", sans-serif' >Target</text>
<line x1="747.10" y1="928.20" x2="747.10" y2="964.20" stroke="#c8c8c8" stroke-width="1.70" stroke-dasharray="5 3"/>
<line x1="816.00" y1="926.70" x2="816.00" y2="964.20" stroke="#f39c1e" stroke-width="1.70" stroke-dasharray="5 3"/>
<path d="M575.30 948.00 L575.61 945.41 L576.01 941.95 L576.49 937.82 L577.03 933.24 L577.62 928.44 L578.23 923.62 L578.86 919.00 L579.50 914.80 L580.14 910.91 L580.80 907.08 L581.49 903.31 L582.20 899.60 L582.94 895.94 L583.72 892.34 L584.54 888.79 L585.40 885.30 L586.33 881.75 L587.33 878.11 L588.38 874.46 L589.46 870.90 L590.55 867.51 L591.62 864.39 L592.64 861.62 L593.60 859.30 L594.51 857.42 L595.40 855.89 L596.26 854.68 L597.10 853.76 L597.91 853.08 L598.68 852.62 L599.41 852.34 L600.10 852.20 L600.74 852.27 L601.33 852.59 L601.87 853.15 L602.39 853.89 L602.88 854.80 L603.35 855.82 L603.82 856.93 L604.30 858.10 L604.78 859.46 L605.26 861.11 L605.74 862.95 L606.20 864.86 L606.64 866.73 L607.06 868.47 L607.45 869.96 L607.80 871.10 L608.10 871.86 L608.34 872.34 L608.55 872.60 L608.73 872.70 L608.91 872.72 L609.11 872.71 L609.33 872.75 L609.60 872.90 L609.91 873.06 L610.23 873.14 L610.56 873.19 L610.92 873.25 L611.30 873.38 L611.70 873.63 L612.14 874.05 L612.60 874.70 L613.11 875.56 L613.66 876.56 L614.24 877.72 L614.84 879.01 L615.46 880.42 L616.09 881.94 L616.70 883.58 L617.30 885.30 L617.90 887.20 L618.50 889.34 L619.11 891.62 L619.72 894.00 L620.32 896.39 L620.90 898.74 L621.47 900.96 L622.00 903.00 L622.50 904.87 L622.95 906.66 L623.38 908.37 L623.80 910.01 L624.22 911.59 L624.65 913.11 L625.10 914.57 L625.60 916.00 L626.11 917.38 L626.61 918.72 L627.12 920.00 L627.66 921.23 L628.23 922.40 L628.85 923.50 L629.53 924.54 L630.30 925.50 L631.04 926.42 L631.71 927.33 L632.37 928.18 L633.12 928.96 L634.03 929.64 L635.20 930.19 L636.69 930.59 L638.60 930.80 L641.01 930.79 L643.87 930.57 L647.08 930.19 L650.53 929.68 L654.12 929.09 L657.73 928.47 L661.26 927.86 L664.60 927.30 L667.85 926.74 L671.16 926.13 L674.48 925.47 L677.78 924.81 L681.02 924.15 L684.16 923.53 L687.17 922.97 L690.00 922.50 L692.60 922.07 L694.97 921.64 L697.19 921.25 L699.32 920.90 L701.43 920.63 L703.58 920.46 L705.85 920.41 L708.30 920.50 L710.91 920.78 L713.60 921.25 L716.37 921.86 L719.20 922.56 L722.09 923.30 L725.02 924.04 L728.00 924.72 L731.00 925.30 L734.07 925.84 L737.24 926.41 L740.48 926.98 L743.75 927.51 L747.02 927.98 L750.26 928.36 L753.43 928.61 L756.50 928.70 L759.49 928.60 L762.44 928.31 L765.35 927.90 L768.21 927.39 L771.02 926.83 L773.79 926.27 L776.52 925.74 L779.20 925.30 L781.79 924.91 L784.29 924.52 L786.71 924.14 L789.11 923.77 L791.50 923.42 L793.92 923.09 L796.41 922.78 L799.00 922.50 L801.69 922.24 L804.45 922.00 L807.27 921.78 L810.12 921.58 L812.99 921.40 L815.88 921.26 L818.75 921.16 L821.60 921.10 L824.43 921.13 L827.27 921.25 L830.11 921.44 L832.94 921.64 L835.78 921.83 L838.62 921.96 L841.46 922.00 L844.30 921.90 L847.02 921.64 L849.58 921.24 L852.07 920.74 L854.59 920.19 L857.25 919.62 L860.14 919.07 L863.35 918.58 L867.00 918.20 L871.22 917.91 L875.97 917.69 L881.10 917.51 L886.44 917.36 L891.83 917.22 L897.09 917.10 L902.07 916.96 L906.60 916.80 L910.65 916.62 L914.36 916.44 L917.82 916.25 L921.15 916.06 L924.43 915.88 L927.77 915.71 L931.26 915.55 L935.00 915.40 L939.08 915.25 L943.44 915.09 L947.96 914.92 L952.54 914.77 L957.04 914.65 L961.37 914.57 L965.39 914.55 L969.00 914.60 L972.23 914.74 L975.21 914.98 L977.95 915.28 L980.48 915.61 L982.81 915.96 L984.96 916.29 L986.95 916.58 L988.80 916.80 L990.48 916.96 L991.96 917.08 L993.26 917.17 L994.39 917.24 L995.36 917.29 L996.20 917.33 L996.90 917.36 L997.50 917.40" fill="none" stroke="#000" stroke-width="2.60" stroke-linejoin="round" stroke-linecap="butt" clip-path="url(#cldR)"/>
<path d="M575.30 926.70 L575.79 924.81 L576.43 922.24 L577.18 919.18 L578.03 915.81 L578.95 912.31 L579.90 908.89 L580.86 905.72 L581.80 903.00 L582.75 900.64 L583.73 898.42 L584.75 896.34 L585.80 894.39 L586.86 892.56 L587.94 890.84 L589.02 889.22 L590.10 887.70 L591.22 886.25 L592.41 884.88 L593.63 883.60 L594.85 882.43 L596.03 881.41 L597.14 880.54 L598.14 879.87 L599.00 879.40 L599.71 879.19 L600.29 879.25 L600.78 879.52 L601.19 879.94 L601.55 880.45 L601.87 881.00 L602.18 881.54 L602.50 882.00 L602.80 882.48 L603.06 883.06 L603.27 883.70 L603.47 884.34 L603.66 884.93 L603.85 885.42 L604.06 885.76 L604.30 885.90 L604.56 885.76 L604.80 885.34 L605.05 884.76 L605.32 884.08 L605.61 883.41 L605.92 882.83 L606.29 882.43 L606.70 882.30 L607.15 882.33 L607.63 882.38 L608.14 882.50 L608.68 882.77 L609.27 883.25 L609.92 883.99 L610.62 885.05 L611.40 886.50 L612.28 888.50 L613.28 891.07 L614.35 894.03 L615.48 897.22 L616.61 900.47 L617.71 903.61 L618.75 906.48 L619.70 908.90 L620.55 910.93 L621.34 912.75 L622.09 914.40 L622.80 915.88 L623.49 917.24 L624.18 918.49 L624.88 919.67 L625.60 920.80 L626.33 921.85 L627.05 922.77 L627.76 923.58 L628.48 924.31 L629.20 924.97 L629.94 925.58 L630.71 926.15 L631.50 926.70 L632.20 927.25 L632.75 927.79 L633.24 928.29 L633.79 928.74 L634.50 929.11 L635.47 929.40 L636.80 929.56 L638.60 929.60 L640.95 929.47 L643.79 929.18 L646.99 928.76 L650.46 928.26 L654.06 927.70 L657.70 927.13 L661.25 926.59 L664.60 926.10 L667.85 925.64 L671.16 925.17 L674.48 924.69 L677.78 924.21 L681.02 923.74 L684.16 923.29 L687.17 922.87 L690.00 922.50 L692.56 922.19 L694.84 921.96 L696.94 921.77 L698.96 921.59 L701.01 921.41 L703.18 921.18 L705.58 920.89 L708.30 920.50 L711.43 919.98 L714.89 919.34 L718.59 918.63 L722.41 917.88 L726.24 917.13 L729.97 916.45 L733.49 915.85 L736.70 915.40 L739.57 915.06 L742.19 914.79 L744.63 914.59 L746.96 914.46 L749.24 914.39 L751.55 914.39 L753.95 914.46 L756.50 914.60 L759.20 914.82 L761.97 915.11 L764.80 915.47 L767.68 915.91 L770.57 916.40 L773.46 916.95 L776.35 917.55 L779.20 918.20 L782.01 918.95 L784.79 919.83 L787.55 920.79 L790.33 921.79 L793.12 922.79 L795.95 923.74 L798.84 924.59 L801.80 925.30 L804.87 925.90 L808.04 926.46 L811.27 926.95 L814.54 927.38 L817.82 927.72 L821.05 927.98 L824.23 928.14 L827.30 928.20 L830.23 928.13 L833.04 927.95 L835.77 927.66 L838.47 927.28 L841.20 926.84 L844.00 926.35 L846.91 925.83 L850.00 925.30 L853.23 924.71 L856.55 924.03 L859.95 923.28 L863.44 922.50 L867.02 921.72 L870.69 920.97 L874.45 920.29 L878.30 919.70 L882.16 919.19 L886.00 918.73 L889.89 918.31 L893.88 917.93 L898.05 917.59 L902.47 917.29 L907.20 917.03 L912.30 916.80 L917.98 916.63 L924.25 916.52 L930.92 916.45 L937.79 916.42 L944.66 916.41 L951.33 916.40 L957.61 916.37 L963.30 916.30 L968.61 916.20 L973.83 916.08 L978.86 915.95 L983.59 915.82 L987.92 915.69 L991.75 915.57 L994.98 915.47 L997.50 915.40" fill="none" stroke="#d40000" stroke-width="2.60" stroke-linejoin="round" stroke-linecap="butt" clip-path="url(#cldR)"/>
<rect x="575.00" y="843.90" width="423.00" height="120.30" fill="none" stroke="#000" stroke-width="2.10"/>
<line x1="670.66" y1="964.20" x2="670.66" y2="960.20" stroke="#000" stroke-width="1.80" />
<line x1="766.97" y1="964.20" x2="766.97" y2="960.20" stroke="#000" stroke-width="1.80" />
<line x1="863.29" y1="964.20" x2="863.29" y2="960.20" stroke="#000" stroke-width="1.80" />
<line x1="959.60" y1="964.20" x2="959.60" y2="960.20" stroke="#000" stroke-width="1.80" />
<line x1="622.50" y1="964.20" x2="622.50" y2="962.00" stroke="#000" stroke-width="1.50" />
<line x1="718.81" y1="964.20" x2="718.81" y2="962.00" stroke="#000" stroke-width="1.50" />
<line x1="815.13" y1="964.20" x2="815.13" y2="962.00" stroke="#000" stroke-width="1.50" />
<line x1="911.44" y1="964.20" x2="911.44" y2="962.00" stroke="#000" stroke-width="1.50" />
<text x="670.66" y="983.80" font-size="17.00" text-anchor="middle" font-weight="normal" fill="#000" font-family='"Liberation Sans", sans-serif' >50</text>
<text x="766.97" y="983.80" font-size="17.00" text-anchor="middle" font-weight="normal" fill="#000" font-family='"Liberation Sans", sans-serif' >100</text>
<text x="863.29" y="983.80" font-size="17.00" text-anchor="middle" font-weight="normal" fill="#000" font-family='"Liberation Sans", sans-serif' >150</text>
<text x="959.60" y="983.80" font-size="17.00" text-anchor="middle" font-weight="normal" fill="#000" font-family='"Liberation Sans", sans-serif' >200</text>
<line x1="998.00" y1="955.90" x2="1002.50" y2="955.90" stroke="#000" stroke-width="1.90" />
<line x1="998.00" y1="921.50" x2="1002.50" y2="921.50" stroke="#000" stroke-width="1.90" />
<line x1="998.00" y1="887.10" x2="1002.50" y2="887.10" stroke="#000" stroke-width="1.90" />
<line x1="998.00" y1="852.70" x2="1002.50" y2="852.70" stroke="#000" stroke-width="1.90" />
<text x="1006.00" y="962.00" font-size="17.00" text-anchor="start" font-weight="normal" fill="#000" font-family='"Liberation Sans", sans-serif' >2k</text>
<text x="1006.00" y="927.60" font-size="17.00" text-anchor="start" font-weight="normal" fill="#000" font-family='"Liberation Sans", sans-serif' >4k</text>
<text x="1006.00" y="893.20" font-size="17.00" text-anchor="start" font-weight="normal" fill="#000" font-family='"Liberation Sans", sans-serif' >6k</text>
<text x="1006.00" y="858.80" font-size="17.00" text-anchor="start" font-weight="normal" fill="#000" font-family='"Liberation Sans", sans-serif' >8k</text>
<text x="790.50" y="1008.00" font-size="21.70" text-anchor="middle" font-weight="normal" fill="#000" font-family='"Liberation Sans", sans-serif' >Time (s)</text>
<text x="985.80" y="863.00" font-size="17.00" text-anchor="end" font-weight="normal" fill="#000" font-family='"Liberation Sans", sans-serif' >Annealing</text>
<line x1="893.90" y1="935.20" x2="920.20" y2="935.20" stroke="#000" stroke-width="4.00" />
<text x="928.80" y="941.00" font-size="16.70" text-anchor="start" font-weight="normal" fill="#000" font-family='"Liberation Sans", sans-serif' >Control</text>
<line x1="893.90" y1="953.10" x2="920.20" y2="953.10" stroke="#d40000" stroke-width="3.80" />
<text x="928.80" y="959.00" font-size="16.70" text-anchor="start" font-weight="normal" fill="#000" font-family='"Liberation Sans", sans-serif' >Target</text>
<text x="14" y="1064.3" font-size="18" font-family='"Liberation Serif", serif' fill="#111" textLength="1248" lengthAdjust="spacingAndGlyphs"><tspan font-weight="bold">Fig. 3 | In situ characterization of perovskite crystallization. a</tspan>, <tspan font-weight="bold">b</tspan> In situ UV-vis spectra of control and target perovskite films during spin-coating. <tspan font-weight="bold">c</tspan>, <tspan font-weight="bold">d</tspan> In situ PL spectra of</text>
<text x="14" y="1088.7" font-size="18" font-family='"Liberation Serif", serif' fill="#111" textLength="395" lengthAdjust="spacingAndGlyphs">control and target perovskite films during annealing.</text>
</svg>
</body></html>
